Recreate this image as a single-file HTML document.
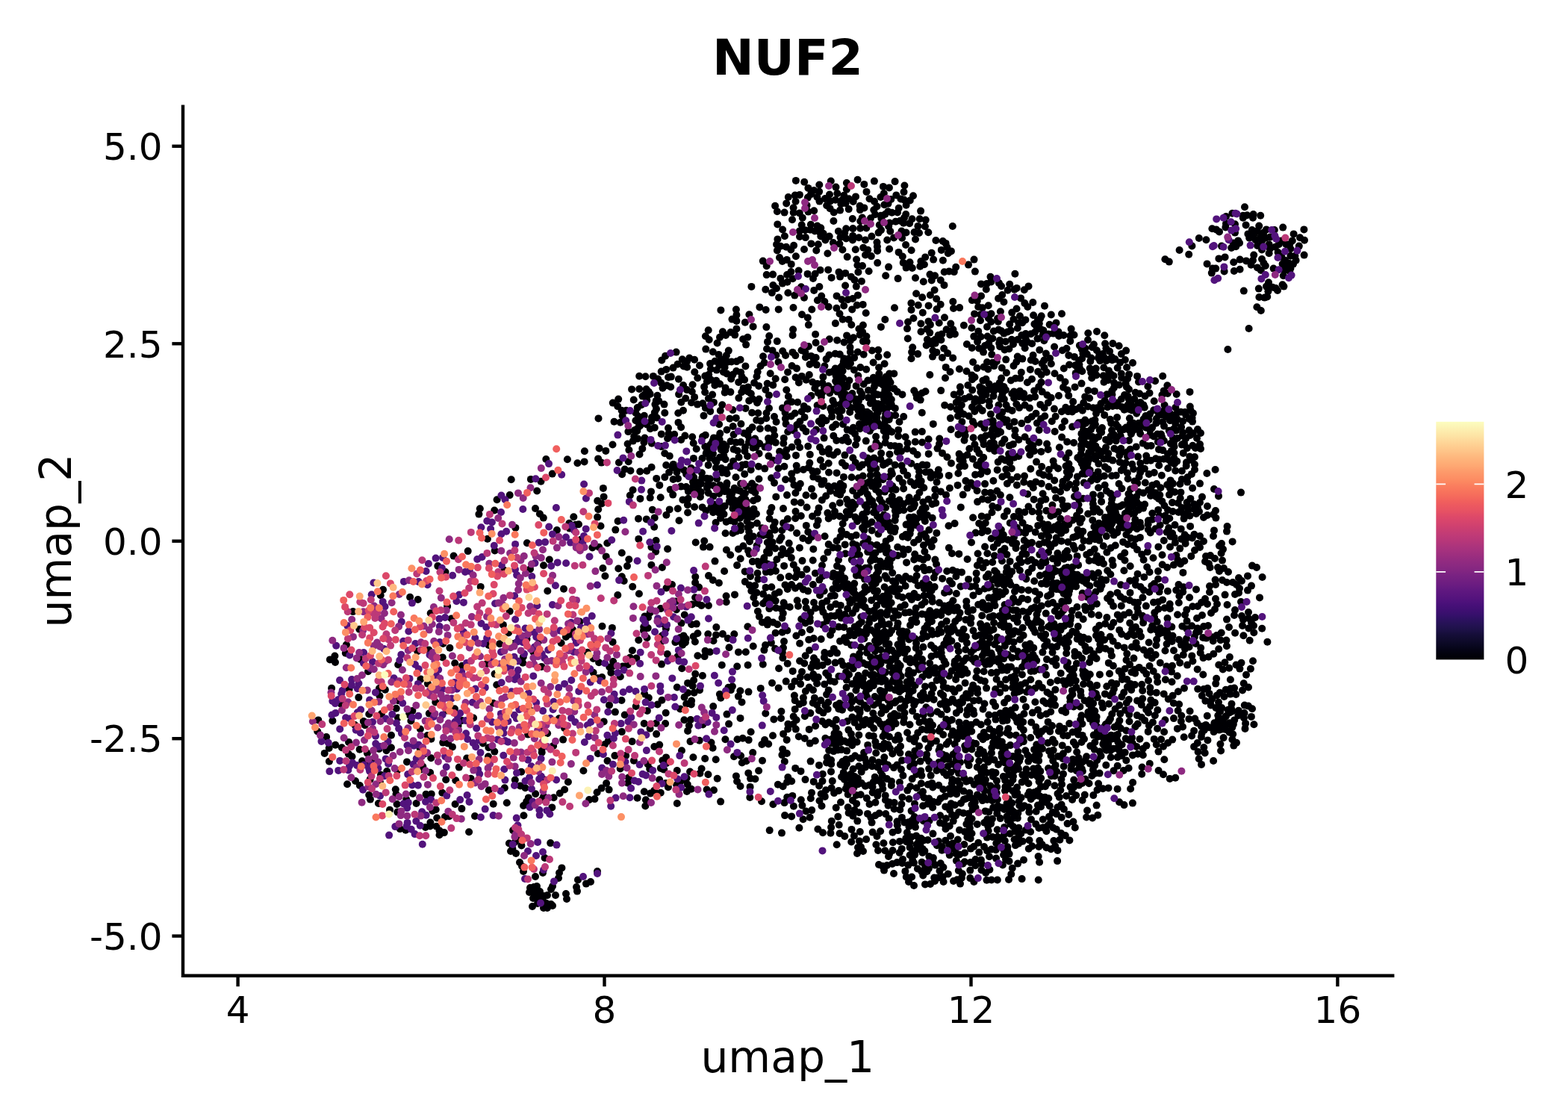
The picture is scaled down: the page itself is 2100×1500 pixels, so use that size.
<!DOCTYPE html>
<html><head><meta charset="utf-8"><title>NUF2</title>
<style>
html,body{margin:0;padding:0;background:#fff}
svg{display:block}
text{font-family:"DejaVu Sans","Liberation Sans",sans-serif;fill:#000}
.t12{font-size:50px}
.t14{font-size:58.33px}
.tt{font-size:66.67px;font-weight:bold}
</style></head>
<body>
<svg width="2100" height="1500" viewBox="0 0 2100 1500">
<defs><linearGradient id="mg" x1="0" y1="1" x2="0" y2="0"><stop offset="0.0000" stop-color="#000004"/><stop offset="0.0208" stop-color="#02020B"/><stop offset="0.0417" stop-color="#050416"/><stop offset="0.0625" stop-color="#0A0822"/><stop offset="0.0833" stop-color="#100B2D"/><stop offset="0.1042" stop-color="#150E38"/><stop offset="0.1250" stop-color="#1D1147"/><stop offset="0.1458" stop-color="#241253"/><stop offset="0.1667" stop-color="#2C115F"/><stop offset="0.1875" stop-color="#36106B"/><stop offset="0.2083" stop-color="#3F0F72"/><stop offset="0.2292" stop-color="#471078"/><stop offset="0.2500" stop-color="#51127C"/><stop offset="0.2708" stop-color="#59157E"/><stop offset="0.2917" stop-color="#601880"/><stop offset="0.3125" stop-color="#6A1C81"/><stop offset="0.3333" stop-color="#721F81"/><stop offset="0.3542" stop-color="#792282"/><stop offset="0.3750" stop-color="#832681"/><stop offset="0.3958" stop-color="#8B2981"/><stop offset="0.4167" stop-color="#932B80"/><stop offset="0.4375" stop-color="#9C2E7F"/><stop offset="0.4583" stop-color="#A5317E"/><stop offset="0.4792" stop-color="#AD347C"/><stop offset="0.5000" stop-color="#B73779"/><stop offset="0.5208" stop-color="#BF3A77"/><stop offset="0.5417" stop-color="#C73D73"/><stop offset="0.5625" stop-color="#D0416F"/><stop offset="0.5833" stop-color="#D8456C"/><stop offset="0.6042" stop-color="#DF4A68"/><stop offset="0.6250" stop-color="#E75263"/><stop offset="0.6458" stop-color="#EC5860"/><stop offset="0.6667" stop-color="#F1605D"/><stop offset="0.6875" stop-color="#F56B5C"/><stop offset="0.7083" stop-color="#F8745C"/><stop offset="0.7292" stop-color="#FA7D5E"/><stop offset="0.7500" stop-color="#FC8961"/><stop offset="0.7708" stop-color="#FD9266"/><stop offset="0.7917" stop-color="#FD9B6B"/><stop offset="0.8125" stop-color="#FEA772"/><stop offset="0.8333" stop-color="#FEB078"/><stop offset="0.8542" stop-color="#FEB97F"/><stop offset="0.8750" stop-color="#FEC488"/><stop offset="0.8958" stop-color="#FECD90"/><stop offset="0.9167" stop-color="#FED799"/><stop offset="0.9375" stop-color="#FDE2A3"/><stop offset="0.9583" stop-color="#FDEBAC"/><stop offset="0.9792" stop-color="#FCF4B6"/><stop offset="1.0000" stop-color="#FCFDBF"/></linearGradient></defs>
<rect width="2100" height="1500" fill="#fff"/>
<g id="cells">
<g fill="#000004"><circle cx="1667" cy="277.2" r="5"/><circle cx="1642" cy="290" r="5"/><circle cx="1650.4" cy="285.8" r="5"/><circle cx="1664.8" cy="288.8" r="5"/><circle cx="1670.2" cy="288.2" r="5"/><circle cx="1678.6" cy="287" r="5"/><circle cx="1688.2" cy="288.8" r="5"/><circle cx="1678" cy="291.8" r="5"/><circle cx="1664.8" cy="291.8" r="5"/><circle cx="1642" cy="299.6" r="5"/><circle cx="1641.4" cy="304.4" r="5"/><circle cx="1654" cy="300.2" r="5"/><circle cx="1668.6" cy="301.4" r="5"/><circle cx="1686.2" cy="302.6" r="5"/><circle cx="1623.4" cy="306.2" r="5"/><circle cx="1628.8" cy="307.4" r="5"/><circle cx="1633" cy="310.4" r="5"/><circle cx="1654" cy="311.6" r="5"/><circle cx="1676.8" cy="308" r="5"/><circle cx="1671.4" cy="313.4" r="5"/><circle cx="1684" cy="309.2" r="5"/><circle cx="1696" cy="307.4" r="5"/><circle cx="1692.4" cy="311.6" r="5"/><circle cx="1688.8" cy="316.4" r="5"/><circle cx="1673.2" cy="318.8" r="5"/><circle cx="1681.6" cy="321.2" r="5"/><circle cx="1694.8" cy="318.8" r="5"/><circle cx="1706.8" cy="308" r="5"/><circle cx="1718.2" cy="304.6" r="5"/><circle cx="1746.4" cy="307.4" r="5"/><circle cx="1732.6" cy="313.4" r="5"/><circle cx="1741" cy="318.2" r="5"/><circle cx="1747" cy="321.8" r="5"/><circle cx="1730.8" cy="322.4" r="5"/><circle cx="1739.8" cy="329.6" r="5"/><circle cx="1605.8" cy="319" r="5"/><circle cx="1615.4" cy="321.2" r="5"/><circle cx="1596.4" cy="329.4" r="5"/><circle cx="1579.6" cy="335" r="5"/><circle cx="1592.2" cy="340.8" r="5"/><circle cx="1560.4" cy="347.2" r="5"/><circle cx="1565.8" cy="350.6" r="5"/><circle cx="1658.2" cy="322.4" r="5"/><circle cx="1660" cy="325.4" r="5"/><circle cx="1655.2" cy="330.2" r="5"/><circle cx="1649.2" cy="332" r="5"/><circle cx="1636" cy="329.6" r="5"/><circle cx="1651.6" cy="325.4" r="5"/><circle cx="1684" cy="329" r="5"/><circle cx="1699.6" cy="327.2" r="5"/><circle cx="1690" cy="334.4" r="5"/><circle cx="1708" cy="330.8" r="5"/><circle cx="1712.8" cy="327.2" r="5"/><circle cx="1722.4" cy="327.2" r="5"/><circle cx="1699.6" cy="339.2" r="5"/><circle cx="1728.4" cy="333.2" r="5"/><circle cx="1711.6" cy="338" r="5"/><circle cx="1679.2" cy="341.6" r="5"/><circle cx="1728.4" cy="342.8" r="5"/><circle cx="1735.6" cy="348.8" r="5"/><circle cx="1746.6" cy="341.6" r="5"/><circle cx="1632.4" cy="346.4" r="5"/><circle cx="1640.6" cy="344.4" r="5"/><circle cx="1616.6" cy="353.4" r="5"/><circle cx="1624" cy="359.6" r="5"/><circle cx="1628.2" cy="359.6" r="5"/><circle cx="1622.8" cy="365.6" r="5"/><circle cx="1639.6" cy="363.4" r="5"/><circle cx="1652.2" cy="351.2" r="5"/><circle cx="1660.6" cy="347.6" r="5"/><circle cx="1669" cy="349.4" r="5"/><circle cx="1678" cy="348.8" r="5"/><circle cx="1690" cy="347" r="5"/><circle cx="1675.6" cy="354.8" r="5"/><circle cx="1692.4" cy="352.4" r="5"/><circle cx="1694.8" cy="356" r="5"/><circle cx="1684" cy="358.4" r="5"/><circle cx="1660.6" cy="360.8" r="5"/><circle cx="1652.8" cy="363" r="5"/><circle cx="1688.8" cy="362" r="5"/><circle cx="1705.6" cy="359.6" r="5"/><circle cx="1717.6" cy="353.6" r="5"/><circle cx="1726" cy="352.4" r="5"/><circle cx="1728.4" cy="359.6" r="5"/><circle cx="1720" cy="362" r="5"/><circle cx="1718.8" cy="369.2" r="5"/><circle cx="1727.2" cy="363.2" r="5"/><circle cx="1699" cy="378.2" r="5"/><circle cx="1696" cy="383.6" r="5"/><circle cx="1685.8" cy="386.6" r="5"/><circle cx="1704.4" cy="384.8" r="5"/><circle cx="1717.6" cy="381.2" r="5"/><circle cx="1719.4" cy="383.6" r="5"/><circle cx="1711" cy="389" r="5"/><circle cx="1698.4" cy="390.2" r="5"/><circle cx="1708.6" cy="386" r="5"/><circle cx="1665.8" cy="389.6" r="5"/><circle cx="1686.4" cy="398" r="5"/><circle cx="1693.6" cy="398.6" r="5"/><circle cx="1697.2" cy="397.4" r="5"/><circle cx="1683.4" cy="411.2" r="5"/><circle cx="1688.8" cy="416" r="5"/><circle cx="1672.6" cy="440" r="5"/><circle cx="1644.4" cy="468" r="5"/><circle cx="1679.2" cy="314.6" r="5"/><circle cx="1690" cy="323" r="5"/><circle cx="1700.8" cy="333.2" r="5"/><circle cx="1716.4" cy="344" r="5"/><circle cx="1721.2" cy="348.8" r="5"/><circle cx="1723.6" cy="357.2" r="5"/><circle cx="1732" cy="353.6" r="5"/><circle cx="1734.4" cy="342.8" r="5"/><circle cx="1727.2" cy="327.2" r="5"/><circle cx="1716.4" cy="322.4" r="5"/><circle cx="1700.8" cy="317.6" r="5"/><circle cx="1604" cy="575" r="5"/><circle cx="1608" cy="580" r="5"/><circle cx="1603" cy="587" r="5"/><circle cx="1607" cy="595" r="5"/><circle cx="1608" cy="601" r="5"/><circle cx="1601" cy="600" r="5"/><circle cx="1600" cy="612" r="5"/><circle cx="1600" cy="622" r="5"/><circle cx="1600" cy="629" r="5"/><circle cx="1627.6" cy="629" r="5"/><circle cx="1616.4" cy="634" r="5"/><circle cx="1607" cy="647.6" r="5"/><circle cx="1626" cy="655" r="5"/><circle cx="1632" cy="664.4" r="5"/><circle cx="1662" cy="659.6" r="5"/><circle cx="1610" cy="665.6" r="5"/><circle cx="1617" cy="678" r="5"/><circle cx="1607" cy="673" r="5"/><circle cx="1604" cy="680" r="5"/><circle cx="1606" cy="685" r="5"/><circle cx="1602" cy="688" r="5"/><circle cx="1628" cy="684" r="5"/><circle cx="1625" cy="689" r="5"/><circle cx="1617" cy="690" r="5"/><circle cx="1612" cy="693" r="5"/><circle cx="1628.4" cy="693.6" r="5"/><circle cx="1643.6" cy="705" r="5"/><circle cx="1643" cy="711.6" r="5"/><circle cx="1626" cy="710.4" r="5"/><circle cx="1625" cy="718" r="5"/><circle cx="1607" cy="718" r="5"/><circle cx="1612" cy="725" r="5"/><circle cx="1650.6" cy="725.4" r="5"/><circle cx="1604" cy="728" r="5"/><circle cx="1607" cy="733" r="5"/><circle cx="1636" cy="728" r="5"/><circle cx="1633" cy="731" r="5"/><circle cx="1638" cy="735.6" r="5"/><circle cx="1635.6" cy="741" r="5"/><circle cx="1600" cy="737" r="5"/><circle cx="1615" cy="745" r="5"/><circle cx="1621" cy="744" r="5"/><circle cx="1627" cy="748" r="5"/><circle cx="1637" cy="750.6" r="5"/><circle cx="1614" cy="752" r="5"/><circle cx="1619" cy="755" r="5"/><circle cx="1620.6" cy="760" r="5"/><circle cx="1631" cy="760" r="5"/><circle cx="1633" cy="765" r="5"/><circle cx="1639" cy="761" r="5"/><circle cx="1645" cy="766" r="5"/><circle cx="1677" cy="757.6" r="5"/><circle cx="1683" cy="760" r="5"/><circle cx="1671" cy="771.4" r="5"/><circle cx="1690.6" cy="773" r="5"/><circle cx="1627.6" cy="776.6" r="5"/><circle cx="1628" cy="783" r="5"/><circle cx="1637" cy="777" r="5"/><circle cx="1643" cy="780" r="5"/><circle cx="1651" cy="780" r="5"/><circle cx="1659" cy="774" r="5"/><circle cx="1663" cy="778" r="5"/><circle cx="1656" cy="783" r="5"/><circle cx="1660" cy="788" r="5"/><circle cx="1676" cy="784.6" r="5"/><circle cx="1671" cy="790.6" r="5"/><circle cx="1654" cy="796" r="5"/><circle cx="1659" cy="794" r="5"/><circle cx="1620" cy="785" r="5"/><circle cx="1620" cy="793" r="5"/><circle cx="1602" cy="789.4" r="5"/><circle cx="1640.6" cy="796.6" r="5"/><circle cx="1687" cy="800.4" r="5"/><circle cx="1614" cy="802" r="5"/><circle cx="1609" cy="807" r="5"/><circle cx="1604" cy="812" r="5"/><circle cx="1617" cy="809" r="5"/><circle cx="1628" cy="802" r="5"/><circle cx="1630" cy="809" r="5"/><circle cx="1627" cy="816" r="5"/><circle cx="1643.6" cy="810" r="5"/><circle cx="1662" cy="806" r="5"/><circle cx="1654" cy="817" r="5"/><circle cx="1622" cy="821" r="5"/><circle cx="1610" cy="824" r="5"/><circle cx="1603" cy="828" r="5"/><circle cx="1653" cy="824" r="5"/><circle cx="1643" cy="829.6" r="5"/><circle cx="1663" cy="825" r="5"/><circle cx="1672" cy="820" r="5"/><circle cx="1672" cy="828" r="5"/><circle cx="1681" cy="827" r="5"/><circle cx="1665" cy="830" r="5"/><circle cx="1676" cy="834" r="5"/><circle cx="1618" cy="838" r="5"/><circle cx="1612" cy="839" r="5"/><circle cx="1646" cy="840" r="5"/><circle cx="1664" cy="838" r="5"/><circle cx="1679" cy="838" r="5"/><circle cx="684" cy="1140" r="5"/><circle cx="691" cy="1143" r="5"/><circle cx="729.6" cy="1149" r="5"/><circle cx="696" cy="1155" r="5"/><circle cx="699" cy="1160" r="5"/><circle cx="727" cy="1169" r="5"/><circle cx="701" cy="1167" r="5"/><circle cx="717" cy="1174" r="5"/><circle cx="752.4" cy="1162.4" r="5"/><circle cx="749" cy="1169" r="5"/><circle cx="748" cy="1176" r="5"/><circle cx="740" cy="1187" r="5"/><circle cx="738" cy="1191" r="5"/><circle cx="744" cy="1199" r="5"/><circle cx="710" cy="1189" r="5"/><circle cx="715" cy="1188" r="5"/><circle cx="719" cy="1187" r="5"/><circle cx="712" cy="1194" r="5"/><circle cx="718" cy="1193" r="5"/><circle cx="723" cy="1194" r="5"/><circle cx="709" cy="1195" r="5"/><circle cx="716" cy="1199" r="5"/><circle cx="722" cy="1200" r="5"/><circle cx="728" cy="1200" r="5"/><circle cx="733" cy="1199" r="5"/><circle cx="714" cy="1203" r="5"/><circle cx="720" cy="1205" r="5"/><circle cx="727" cy="1205" r="5"/><circle cx="732" cy="1210" r="5"/><circle cx="738" cy="1211" r="5"/><circle cx="713" cy="1214" r="5"/><circle cx="728" cy="1216" r="5"/><circle cx="733" cy="1216" r="5"/><circle cx="740" cy="1213" r="5"/><circle cx="720" cy="1210" r="5"/><circle cx="758" cy="1197" r="5"/><circle cx="759" cy="1204" r="5"/><circle cx="772" cy="1188" r="5"/><circle cx="773" cy="1193.6" r="5"/><circle cx="774" cy="1178.4" r="5"/><circle cx="785" cy="1183.6" r="5"/><circle cx="791" cy="1181" r="5"/><circle cx="800" cy="1167" r="5"/><circle cx="1148" cy="1143" r="5"/><circle cx="1156" cy="1140" r="5"/><circle cx="1153" cy="1134.4" r="5"/><circle cx="1149" cy="1135" r="5"/><circle cx="1176" cy="1139" r="5"/><circle cx="1191" cy="1144" r="5"/><circle cx="1190" cy="1147" r="5"/><circle cx="1177" cy="1158" r="5"/><circle cx="1182" cy="1160" r="5"/><circle cx="1188" cy="1159" r="5"/><circle cx="1195" cy="1157" r="5"/><circle cx="1184" cy="1165.6" r="5"/><circle cx="1197" cy="1170" r="5"/><circle cx="1217" cy="1181" r="5"/><circle cx="1224" cy="1186" r="5"/><circle cx="1239" cy="1184.4" r="5"/><circle cx="1246" cy="1184" r="5"/><circle cx="1252" cy="1180" r="5"/><circle cx="1263.6" cy="1181" r="5"/><circle cx="1277" cy="1180" r="5"/><circle cx="1286" cy="1183.6" r="5"/><circle cx="1304.4" cy="1181" r="5"/><circle cx="1271.9" cy="653.8" r="5"/><circle cx="949" cy="771.1" r="5"/><circle cx="954.8" cy="777" r="5"/><circle cx="1394.5" cy="512.1" r="5"/><circle cx="1391.2" cy="518.1" r="5"/><circle cx="1394.6" cy="502" r="5"/><circle cx="1382" cy="507.7" r="5"/><circle cx="994.7" cy="988.7" r="5"/><circle cx="987.5" cy="990.3" r="5"/><circle cx="605.9" cy="1000.4" r="5"/><circle cx="931.3" cy="772.6" r="5"/><circle cx="1208.4" cy="528.4" r="5"/><circle cx="1201.8" cy="524.8" r="5"/><circle cx="1148" cy="919.1" r="5"/><circle cx="1141.4" cy="916" r="5"/><circle cx="1155.9" cy="908.3" r="5"/><circle cx="1155.8" cy="914.5" r="5"/><circle cx="1149.7" cy="912.5" r="5"/><circle cx="1147.1" cy="909.6" r="5"/><circle cx="1156.7" cy="918.6" r="5"/><circle cx="1146.4" cy="914.1" r="5"/><circle cx="1159.2" cy="901.5" r="5"/><circle cx="1149.6" cy="904.7" r="5"/><circle cx="1130.1" cy="779.5" r="5"/><circle cx="1131.2" cy="774.6" r="5"/><circle cx="1121.2" cy="770" r="5"/><circle cx="1126" cy="768.9" r="5"/><circle cx="1127.7" cy="761.6" r="5"/><circle cx="1123.3" cy="776.5" r="5"/><circle cx="1035.3" cy="515.7" r="5"/><circle cx="1038.7" cy="507.3" r="5"/><circle cx="1027.7" cy="513.7" r="5"/><circle cx="1031.7" cy="500.2" r="5"/><circle cx="543.3" cy="1111.8" r="5"/><circle cx="1526.8" cy="699.9" r="5"/><circle cx="1537.9" cy="697.3" r="5"/><circle cx="1531.1" cy="680.6" r="5"/><circle cx="1520.3" cy="695.8" r="5"/><circle cx="1524.8" cy="682.9" r="5"/><circle cx="1236.5" cy="749.6" r="5"/><circle cx="1231.3" cy="747.7" r="5"/><circle cx="1225.2" cy="742.2" r="5"/><circle cx="1224.2" cy="749.5" r="5"/><circle cx="1236.6" cy="759.6" r="5"/><circle cx="1510.2" cy="728.9" r="5"/><circle cx="1504.1" cy="725.9" r="5"/><circle cx="1514.6" cy="720.8" r="5"/><circle cx="1518.3" cy="730.4" r="5"/><circle cx="1188.2" cy="475.3" r="5"/><circle cx="1313.3" cy="525" r="5"/><circle cx="1311.5" cy="537.2" r="5"/><circle cx="1315.6" cy="536.3" r="5"/><circle cx="1306.4" cy="534.2" r="5"/><circle cx="1305.3" cy="538.5" r="5"/><circle cx="1316.3" cy="520.6" r="5"/><circle cx="1315.3" cy="531.1" r="5"/><circle cx="1302.2" cy="522.4" r="5"/><circle cx="804.5" cy="704.5" r="5"/><circle cx="1395.5" cy="486.8" r="5"/><circle cx="1398.4" cy="482.6" r="5"/><circle cx="1386.5" cy="484" r="5"/><circle cx="1398.5" cy="492.4" r="5"/><circle cx="1380.8" cy="482.3" r="5"/><circle cx="1390.2" cy="497.7" r="5"/><circle cx="1136.4" cy="480.6" r="5"/><circle cx="1130.4" cy="480.2" r="5"/><circle cx="1139" cy="486.5" r="5"/><circle cx="1128.4" cy="489.4" r="5"/><circle cx="1123.4" cy="495.8" r="5"/><circle cx="1129.8" cy="484.4" r="5"/><circle cx="1136.4" cy="490.4" r="5"/><circle cx="1125.4" cy="492.6" r="5"/><circle cx="1134.5" cy="485.3" r="5"/><circle cx="1128.6" cy="496.7" r="5"/><circle cx="726" cy="1070.7" r="5"/><circle cx="728.1" cy="1066.5" r="5"/><circle cx="1422" cy="420.3" r="5"/><circle cx="995.4" cy="731.3" r="5"/><circle cx="989" cy="735.4" r="5"/><circle cx="866.5" cy="854.3" r="5"/><circle cx="867.7" cy="841.1" r="5"/><circle cx="862" cy="844.5" r="5"/><circle cx="748.8" cy="962.2" r="5"/><circle cx="756.1" cy="975.2" r="5"/><circle cx="1373.6" cy="453.3" r="5"/><circle cx="1369.3" cy="460" r="5"/><circle cx="1375.8" cy="458.1" r="5"/><circle cx="1368.3" cy="449" r="5"/><circle cx="1363.1" cy="454.8" r="5"/><circle cx="1373.7" cy="447" r="5"/><circle cx="1336.7" cy="575.5" r="5"/><circle cx="1329" cy="575.1" r="5"/><circle cx="1329.8" cy="563.8" r="5"/><circle cx="1324.7" cy="565.2" r="5"/><circle cx="1331.2" cy="569.3" r="5"/><circle cx="1134" cy="1022.7" r="5"/><circle cx="1139.6" cy="1036.8" r="5"/><circle cx="1125.6" cy="1023.9" r="5"/><circle cx="1128.4" cy="1020.1" r="5"/><circle cx="1129.7" cy="1034.9" r="5"/><circle cx="1132.6" cy="1038.7" r="5"/><circle cx="1131.4" cy="1027.2" r="5"/><circle cx="1160.3" cy="305.4" r="5"/><circle cx="1167.4" cy="316.6" r="5"/><circle cx="1180" cy="308.1" r="5"/><circle cx="1176.6" cy="311.6" r="5"/><circle cx="1177.8" cy="301.3" r="5"/><circle cx="1386.9" cy="1017.7" r="5"/><circle cx="1391.1" cy="1018.9" r="5"/><circle cx="1391" cy="1002.2" r="5"/><circle cx="1385.6" cy="1012.8" r="5"/><circle cx="1396" cy="1002.7" r="5"/><circle cx="1388.5" cy="1007.5" r="5"/><circle cx="1382.7" cy="1015.5" r="5"/><circle cx="1391.7" cy="1011" r="5"/><circle cx="1385.1" cy="1003.9" r="5"/><circle cx="1123" cy="750" r="5"/><circle cx="1132.2" cy="741.5" r="5"/><circle cx="1121" cy="758.1" r="5"/><circle cx="1040.4" cy="749.2" r="5"/><circle cx="1059.8" cy="747.1" r="5"/><circle cx="1046.5" cy="742.9" r="5"/><circle cx="1053.7" cy="741.2" r="5"/><circle cx="1050.1" cy="757.9" r="5"/><circle cx="1003.4" cy="421.3" r="5"/><circle cx="1008.6" cy="437.4" r="5"/><circle cx="1189.7" cy="938" r="5"/><circle cx="1181" cy="929" r="5"/><circle cx="1192" cy="921.6" r="5"/><circle cx="1184.2" cy="926.5" r="5"/><circle cx="1198.9" cy="924.1" r="5"/><circle cx="1183.8" cy="934.3" r="5"/><circle cx="1065.2" cy="694.2" r="5"/><circle cx="1065.5" cy="685.1" r="5"/><circle cx="1072.8" cy="691" r="5"/><circle cx="1392.1" cy="1154.8" r="5"/><circle cx="1390.6" cy="1147" r="5"/><circle cx="728" cy="757.3" r="5"/><circle cx="735.8" cy="749.5" r="5"/><circle cx="1419.9" cy="506" r="5"/><circle cx="1412.5" cy="500.3" r="5"/><circle cx="991.9" cy="691.5" r="5"/><circle cx="998.1" cy="690.3" r="5"/><circle cx="981.4" cy="680.9" r="5"/><circle cx="986.7" cy="690.7" r="5"/><circle cx="990.8" cy="688.7" r="5"/><circle cx="994.5" cy="690.8" r="5"/><circle cx="996.1" cy="682" r="5"/><circle cx="981.3" cy="695.1" r="5"/><circle cx="983.6" cy="698.9" r="5"/><circle cx="990.9" cy="693.9" r="5"/><circle cx="1053.9" cy="1009" r="5"/><circle cx="1048.2" cy="1003.4" r="5"/><circle cx="1047.4" cy="1011.1" r="5"/><circle cx="1050.8" cy="1019.9" r="5"/><circle cx="1035.1" cy="367.6" r="5"/><circle cx="1026.7" cy="368.1" r="5"/><circle cx="1453.4" cy="634.8" r="5"/><circle cx="1454" cy="630.4" r="5"/><circle cx="1456.5" cy="626.5" r="5"/><circle cx="1449.6" cy="634.4" r="5"/><circle cx="1451.1" cy="625.7" r="5"/><circle cx="1456.5" cy="620.7" r="5"/><circle cx="1459.8" cy="629.8" r="5"/><circle cx="1448.8" cy="620.8" r="5"/><circle cx="1442.9" cy="638.4" r="5"/><circle cx="908.3" cy="553.2" r="5"/><circle cx="915" cy="549.7" r="5"/><circle cx="1395.9" cy="1074.1" r="5"/><circle cx="1399.6" cy="1067.8" r="5"/><circle cx="1383.7" cy="1066.7" r="5"/><circle cx="1392.8" cy="1066.4" r="5"/><circle cx="1389.9" cy="1078.6" r="5"/><circle cx="1396.1" cy="1069.2" r="5"/><circle cx="1389.3" cy="1065.5" r="5"/><circle cx="1385" cy="1061.3" r="5"/><circle cx="1380.7" cy="1070.3" r="5"/><circle cx="1007.1" cy="647.5" r="5"/><circle cx="1006.6" cy="656.8" r="5"/><circle cx="1012.3" cy="652.3" r="5"/><circle cx="1011.4" cy="659.8" r="5"/><circle cx="1016.4" cy="641.5" r="5"/><circle cx="1243.5" cy="726.1" r="5"/><circle cx="1250.6" cy="723.3" r="5"/><circle cx="1247.8" cy="732.1" r="5"/><circle cx="1419.5" cy="859.9" r="5"/><circle cx="1418.2" cy="855" r="5"/><circle cx="1415.7" cy="841.8" r="5"/><circle cx="1413.5" cy="854.9" r="5"/><circle cx="1402.3" cy="859.4" r="5"/><circle cx="1417.6" cy="851.5" r="5"/><circle cx="1408.1" cy="841.7" r="5"/><circle cx="1400.1" cy="849.8" r="5"/><circle cx="812.1" cy="1049.1" r="5"/><circle cx="815.6" cy="1057.6" r="5"/><circle cx="805.6" cy="1055.6" r="5"/><circle cx="1427" cy="776.3" r="5"/><circle cx="1432.1" cy="777.1" r="5"/><circle cx="1422.1" cy="764.9" r="5"/><circle cx="1431.4" cy="769.3" r="5"/><circle cx="1437.6" cy="772.5" r="5"/><circle cx="1438.7" cy="769.5" r="5"/><circle cx="1426.2" cy="770.2" r="5"/><circle cx="1429.6" cy="760.1" r="5"/><circle cx="1430.2" cy="780" r="5"/><circle cx="1424.2" cy="773.9" r="5"/><circle cx="1426.2" cy="761.1" r="5"/><circle cx="1428.8" cy="769.6" r="5"/><circle cx="1433.6" cy="772.1" r="5"/><circle cx="1422.4" cy="769" r="5"/><circle cx="1435.6" cy="767.6" r="5"/><circle cx="1390.1" cy="1028.5" r="5"/><circle cx="1388.2" cy="1033.3" r="5"/><circle cx="1393.3" cy="1032.9" r="5"/><circle cx="1384" cy="1029.5" r="5"/><circle cx="1381.5" cy="1037.9" r="5"/><circle cx="1475.5" cy="784" r="5"/><circle cx="1460.3" cy="797.3" r="5"/><circle cx="1473.7" cy="788.7" r="5"/><circle cx="1469.1" cy="782" r="5"/><circle cx="1467.5" cy="792.8" r="5"/><circle cx="1060.4" cy="538.2" r="5"/><circle cx="1068.2" cy="538.8" r="5"/><circle cx="1100.2" cy="396.6" r="5"/><circle cx="1329.3" cy="1120.9" r="5"/><circle cx="1321.9" cy="1121.6" r="5"/><circle cx="1336.5" cy="1126" r="5"/><circle cx="1333.7" cy="1138.3" r="5"/><circle cx="1334.3" cy="1129.4" r="5"/><circle cx="1336.1" cy="1120.8" r="5"/><circle cx="1322.1" cy="1139.5" r="5"/><circle cx="1327.6" cy="1137.6" r="5"/><circle cx="592.3" cy="1061.7" r="5"/><circle cx="876.3" cy="1000" r="5"/><circle cx="1086.8" cy="719.2" r="5"/><circle cx="1082.3" cy="712.4" r="5"/><circle cx="1093.9" cy="703.5" r="5"/><circle cx="1005.6" cy="980.2" r="5"/><circle cx="1002.7" cy="991.1" r="5"/><circle cx="1087.3" cy="414.5" r="5"/><circle cx="1094.9" cy="402.2" r="5"/><circle cx="978.2" cy="743.3" r="5"/><circle cx="1497.1" cy="864.8" r="5"/><circle cx="1480.6" cy="868.8" r="5"/><circle cx="1487.4" cy="871.9" r="5"/><circle cx="1488.9" cy="878.2" r="5"/><circle cx="1341.5" cy="1009.1" r="5"/><circle cx="1345.1" cy="1010.2" r="5"/><circle cx="1342.6" cy="1001.5" r="5"/><circle cx="1346.4" cy="1000.8" r="5"/><circle cx="1346.1" cy="1006.3" r="5"/><circle cx="1348.9" cy="1015.3" r="5"/><circle cx="1341.8" cy="1013.6" r="5"/><circle cx="1356.1" cy="1013.1" r="5"/><circle cx="1391.7" cy="576" r="5"/><circle cx="1394" cy="561.1" r="5"/><circle cx="1388.9" cy="566.8" r="5"/><circle cx="1639.6" cy="961.8" r="5"/><circle cx="1634.2" cy="967.5" r="5"/><circle cx="1632.8" cy="977.6" r="5"/><circle cx="1638.8" cy="971.5" r="5"/><circle cx="1630.1" cy="970.4" r="5"/><circle cx="1637.6" cy="976.5" r="5"/><circle cx="1631.8" cy="964" r="5"/><circle cx="1636.9" cy="964.1" r="5"/><circle cx="1626.4" cy="968.3" r="5"/><circle cx="1626" cy="972.5" r="5"/><circle cx="836.8" cy="628.5" r="5"/><circle cx="833.1" cy="635.3" r="5"/><circle cx="1474.5" cy="540.6" r="5"/><circle cx="1464.1" cy="546.2" r="5"/><circle cx="1479.2" cy="555.9" r="5"/><circle cx="1469.5" cy="546.2" r="5"/><circle cx="1474.4" cy="548.6" r="5"/><circle cx="1468" cy="553.7" r="5"/><circle cx="529.8" cy="1057.3" r="5"/><circle cx="767" cy="843.3" r="5"/><circle cx="762.9" cy="849.6" r="5"/><circle cx="1551.2" cy="682.9" r="5"/><circle cx="1552.8" cy="690.5" r="5"/><circle cx="1543.3" cy="695.7" r="5"/><circle cx="1543.3" cy="687.5" r="5"/><circle cx="921.1" cy="978.9" r="5"/><circle cx="924.9" cy="964" r="5"/><circle cx="922.9" cy="971.8" r="5"/><circle cx="530.5" cy="1063.8" r="5"/><circle cx="531.6" cy="1077" r="5"/><circle cx="806.5" cy="838.8" r="5"/><circle cx="1407.8" cy="487.3" r="5"/><circle cx="1406.1" cy="480" r="5"/><circle cx="1401.8" cy="498.5" r="5"/><circle cx="1463.9" cy="675" r="5"/><circle cx="1475.1" cy="671.9" r="5"/><circle cx="1463.4" cy="669.3" r="5"/><circle cx="1464" cy="662.4" r="5"/><circle cx="1474.1" cy="663.5" r="5"/><circle cx="1158.1" cy="1015.7" r="5"/><circle cx="1151.4" cy="1015.2" r="5"/><circle cx="1140.1" cy="1016" r="5"/><circle cx="1157.1" cy="1008.1" r="5"/><circle cx="1145.2" cy="1012.2" r="5"/><circle cx="1350.8" cy="614.8" r="5"/><circle cx="1346.2" cy="616.5" r="5"/><circle cx="1358.4" cy="612.7" r="5"/><circle cx="1352.3" cy="619.4" r="5"/><circle cx="1351.1" cy="608.1" r="5"/><circle cx="1341.3" cy="614.4" r="5"/><circle cx="1003.8" cy="783.8" r="5"/><circle cx="1011.2" cy="784.3" r="5"/><circle cx="1013.4" cy="793.7" r="5"/><circle cx="1006.3" cy="791.4" r="5"/><circle cx="919.6" cy="1042.2" r="5"/><circle cx="919.9" cy="1059.9" r="5"/><circle cx="910.8" cy="1047.2" r="5"/><circle cx="906.2" cy="1051.3" r="5"/><circle cx="914.5" cy="1044.7" r="5"/><circle cx="948.9" cy="533.7" r="5"/><circle cx="954.1" cy="528.6" r="5"/><circle cx="955.9" cy="538.9" r="5"/><circle cx="944.2" cy="525.2" r="5"/><circle cx="1084.5" cy="488" r="5"/><circle cx="1093.8" cy="488.6" r="5"/><circle cx="1089.8" cy="483.9" r="5"/><circle cx="876.2" cy="705.8" r="5"/><circle cx="805.5" cy="619.6" r="5"/><circle cx="801.1" cy="614.4" r="5"/><circle cx="811.3" cy="603.9" r="5"/><circle cx="802.6" cy="600.4" r="5"/><circle cx="1562.4" cy="892.6" r="5"/><circle cx="1576.6" cy="880.6" r="5"/><circle cx="1570" cy="891.8" r="5"/><circle cx="1569" cy="899.6" r="5"/><circle cx="1593.5" cy="524.9" r="5"/><circle cx="1553.9" cy="841.3" r="5"/><circle cx="1551.9" cy="849.2" r="5"/><circle cx="1556.9" cy="847.3" r="5"/><circle cx="1548" cy="843.2" r="5"/><circle cx="1549.1" cy="856.6" r="5"/><circle cx="1541.3" cy="843.5" r="5"/><circle cx="1075.4" cy="573.2" r="5"/><circle cx="1079.5" cy="577.9" r="5"/><circle cx="1071.4" cy="564.4" r="5"/><circle cx="1067.3" cy="569" r="5"/><circle cx="1063.5" cy="576.6" r="5"/><circle cx="916.6" cy="933.8" r="5"/><circle cx="906.8" cy="920.5" r="5"/><circle cx="878.2" cy="738.7" r="5"/><circle cx="872.4" cy="732.7" r="5"/><circle cx="878.6" cy="724" r="5"/><circle cx="1344.4" cy="775.6" r="5"/><circle cx="1341.3" cy="772.9" r="5"/><circle cx="1347.9" cy="775.5" r="5"/><circle cx="1340.9" cy="777.7" r="5"/><circle cx="1351.7" cy="778.8" r="5"/><circle cx="1347.8" cy="766.2" r="5"/><circle cx="1355.2" cy="765.5" r="5"/><circle cx="1352.1" cy="770.2" r="5"/><circle cx="1348.6" cy="760.2" r="5"/><circle cx="1536.4" cy="877.5" r="5"/><circle cx="1531.7" cy="870.5" r="5"/><circle cx="1521.6" cy="860.9" r="5"/><circle cx="1538.7" cy="860.5" r="5"/><circle cx="1523.1" cy="867.8" r="5"/><circle cx="1051.2" cy="508.3" r="5"/><circle cx="1508.9" cy="518.3" r="5"/><circle cx="1507.6" cy="513.4" r="5"/><circle cx="1502.2" cy="506" r="5"/><circle cx="1510.1" cy="507.3" r="5"/><circle cx="1501.8" cy="500.5" r="5"/><circle cx="1512.1" cy="501.4" r="5"/><circle cx="1306.3" cy="1159.3" r="5"/><circle cx="1313.9" cy="1151.8" r="5"/><circle cx="1306.5" cy="1151" r="5"/><circle cx="1314.6" cy="1157" r="5"/><circle cx="1311.2" cy="1141.6" r="5"/><circle cx="1423.9" cy="1009.3" r="5"/><circle cx="1430.3" cy="1003.8" r="5"/><circle cx="1423.2" cy="1015.9" r="5"/><circle cx="1436.9" cy="1016.9" r="5"/><circle cx="1264.2" cy="466.7" r="5"/><circle cx="1269.2" cy="473.1" r="5"/><circle cx="1276.2" cy="479.4" r="5"/><circle cx="1261.9" cy="478.9" r="5"/><circle cx="1405" cy="1093.7" r="5"/><circle cx="1407.4" cy="1099.6" r="5"/><circle cx="1416.3" cy="1081.2" r="5"/><circle cx="1414.9" cy="1090.1" r="5"/><circle cx="1409.8" cy="1087.9" r="5"/><circle cx="1119.9" cy="964.1" r="5"/><circle cx="1109.9" cy="967.5" r="5"/><circle cx="1105.5" cy="970.5" r="5"/><circle cx="1119.7" cy="975.2" r="5"/><circle cx="1101.1" cy="966.1" r="5"/><circle cx="1114.7" cy="969.5" r="5"/><circle cx="883.2" cy="997.6" r="5"/><circle cx="1180.6" cy="913" r="5"/><circle cx="1189.2" cy="919.1" r="5"/><circle cx="1183.1" cy="909" r="5"/><circle cx="1181" cy="902.4" r="5"/><circle cx="1197.1" cy="909.2" r="5"/><circle cx="1195.5" cy="912.7" r="5"/><circle cx="1185.8" cy="911.3" r="5"/><circle cx="1181.4" cy="905.8" r="5"/><circle cx="1189.3" cy="916.3" r="5"/><circle cx="1198.9" cy="912.5" r="5"/><circle cx="1195.3" cy="901.3" r="5"/><circle cx="1186" cy="900.4" r="5"/><circle cx="1249" cy="971.3" r="5"/><circle cx="1243.3" cy="970.9" r="5"/><circle cx="1241.7" cy="977.6" r="5"/><circle cx="1248.3" cy="979.8" r="5"/><circle cx="1259.9" cy="974.6" r="5"/><circle cx="1257.8" cy="978.9" r="5"/><circle cx="1245.3" cy="966.3" r="5"/><circle cx="1226" cy="698" r="5"/><circle cx="1223.7" cy="692.5" r="5"/><circle cx="1228.1" cy="694.5" r="5"/><circle cx="1238.9" cy="698" r="5"/><circle cx="1235.3" cy="681.3" r="5"/><circle cx="1232.4" cy="686.4" r="5"/><circle cx="1239.7" cy="680.2" r="5"/><circle cx="1234.9" cy="692.7" r="5"/><circle cx="1236.9" cy="685.7" r="5"/><circle cx="1228" cy="880.4" r="5"/><circle cx="1235" cy="883" r="5"/><circle cx="1225.3" cy="886.8" r="5"/><circle cx="1229.6" cy="890.8" r="5"/><circle cx="1235.2" cy="888.2" r="5"/><circle cx="1230.7" cy="896.7" r="5"/><circle cx="880.4" cy="529.8" r="5"/><circle cx="882.3" cy="537" r="5"/><circle cx="935" cy="652" r="5"/><circle cx="934.5" cy="646.3" r="5"/><circle cx="932.8" cy="658.6" r="5"/><circle cx="938.9" cy="659.1" r="5"/><circle cx="928" cy="645.2" r="5"/><circle cx="928.2" cy="651.3" r="5"/><circle cx="928.1" cy="657.5" r="5"/><circle cx="939.1" cy="647.8" r="5"/><circle cx="921.8" cy="658.1" r="5"/><circle cx="1069" cy="811.8" r="5"/><circle cx="1078.8" cy="805.7" r="5"/><circle cx="1079.7" cy="814.3" r="5"/><circle cx="1067.7" cy="804.2" r="5"/><circle cx="1210.1" cy="654.4" r="5"/><circle cx="1209" cy="646.5" r="5"/><circle cx="1204.2" cy="640.8" r="5"/><circle cx="1219.6" cy="645.3" r="5"/><circle cx="733.1" cy="982.3" r="5"/><circle cx="1084.7" cy="995.6" r="5"/><circle cx="1091.8" cy="992.3" r="5"/><circle cx="1191.1" cy="500.6" r="5"/><circle cx="1188.4" cy="511.6" r="5"/><circle cx="1190.3" cy="508.2" r="5"/><circle cx="1192.5" cy="512.3" r="5"/><circle cx="1187.9" cy="516.5" r="5"/><circle cx="1183.2" cy="516.3" r="5"/><circle cx="1186.4" cy="519.8" r="5"/><circle cx="1186.5" cy="504.8" r="5"/><circle cx="1197.3" cy="500.4" r="5"/><circle cx="1180.9" cy="508.3" r="5"/><circle cx="1197.6" cy="786.3" r="5"/><circle cx="1189.1" cy="793.1" r="5"/><circle cx="1193.4" cy="789.1" r="5"/><circle cx="1199.4" cy="781.1" r="5"/><circle cx="1197.1" cy="791.9" r="5"/><circle cx="1184.6" cy="786.3" r="5"/><circle cx="1190.6" cy="799.2" r="5"/><circle cx="1186.9" cy="798" r="5"/><circle cx="1182.7" cy="798.8" r="5"/><circle cx="1363.4" cy="1089.1" r="5"/><circle cx="1368.6" cy="1082.2" r="5"/><circle cx="1378.3" cy="1087.7" r="5"/><circle cx="1362.8" cy="1095.8" r="5"/><circle cx="1377.8" cy="1081.3" r="5"/><circle cx="652.9" cy="721.7" r="5"/><circle cx="1267" cy="662.9" r="5"/><circle cx="1479.6" cy="536.4" r="5"/><circle cx="1465.9" cy="523.9" r="5"/><circle cx="1170.9" cy="242.6" r="5"/><circle cx="1160.5" cy="256.9" r="5"/><circle cx="1441.2" cy="1065.3" r="5"/><circle cx="1452.8" cy="1064.6" r="5"/><circle cx="1449.6" cy="1071.8" r="5"/><circle cx="1275.9" cy="763.7" r="5"/><circle cx="1262.1" cy="774.9" r="5"/><circle cx="1268.2" cy="765" r="5"/><circle cx="1272" cy="777.9" r="5"/><circle cx="1304.7" cy="568.9" r="5"/><circle cx="1302.9" cy="564.6" r="5"/><circle cx="1318.6" cy="573.4" r="5"/><circle cx="1313.9" cy="568" r="5"/><circle cx="1176.8" cy="860.3" r="5"/><circle cx="1172.6" cy="866.3" r="5"/><circle cx="1164" cy="864.9" r="5"/><circle cx="1171.9" cy="872.2" r="5"/><circle cx="1179.6" cy="870.2" r="5"/><circle cx="1161.2" cy="868.7" r="5"/><circle cx="1161" cy="874.3" r="5"/><circle cx="1584.8" cy="606.9" r="5"/><circle cx="1589" cy="619.2" r="5"/><circle cx="1593.3" cy="611.6" r="5"/><circle cx="1595.7" cy="615.9" r="5"/><circle cx="1589.9" cy="600.1" r="5"/><circle cx="1058.9" cy="737" r="5"/><circle cx="1048" cy="735.2" r="5"/><circle cx="1056.7" cy="727.6" r="5"/><circle cx="1044.1" cy="723.7" r="5"/><circle cx="1133.2" cy="319.5" r="5"/><circle cx="1131.3" cy="312" r="5"/><circle cx="1125.5" cy="317.9" r="5"/><circle cx="1122.9" cy="309.8" r="5"/><circle cx="1133.2" cy="306.3" r="5"/><circle cx="1369.9" cy="818.8" r="5"/><circle cx="1361.5" cy="817.6" r="5"/><circle cx="1377.3" cy="819.7" r="5"/><circle cx="1376.4" cy="803" r="5"/><circle cx="1369" cy="801.4" r="5"/><circle cx="1363.9" cy="806.4" r="5"/><circle cx="1362.3" cy="1024.2" r="5"/><circle cx="1374.3" cy="1035.9" r="5"/><circle cx="1369.4" cy="1037.8" r="5"/><circle cx="1364" cy="1029.9" r="5"/><circle cx="1374.5" cy="1030.2" r="5"/><circle cx="972.9" cy="736.5" r="5"/><circle cx="1225.7" cy="578.6" r="5"/><circle cx="1234.9" cy="578.1" r="5"/><circle cx="456.7" cy="942.7" r="5"/><circle cx="1653.1" cy="921.6" r="5"/><circle cx="1648.2" cy="922.3" r="5"/><circle cx="1641.7" cy="923.8" r="5"/><circle cx="1647.7" cy="929.6" r="5"/><circle cx="1655.3" cy="930" r="5"/><circle cx="618.8" cy="965" r="5"/><circle cx="613.6" cy="971.7" r="5"/><circle cx="604.6" cy="971" r="5"/><circle cx="1026.4" cy="438.1" r="5"/><circle cx="705.5" cy="855.9" r="5"/><circle cx="1357.1" cy="817.3" r="5"/><circle cx="1355.7" cy="807.3" r="5"/><circle cx="1345.6" cy="810.1" r="5"/><circle cx="1350.9" cy="816.4" r="5"/><circle cx="1342.8" cy="817.7" r="5"/><circle cx="1357.1" cy="801.2" r="5"/><circle cx="1025.3" cy="955.5" r="5"/><circle cx="1191.1" cy="1074.4" r="5"/><circle cx="1197.7" cy="1075.1" r="5"/><circle cx="1189.5" cy="1078.7" r="5"/><circle cx="1185.7" cy="1065.4" r="5"/><circle cx="1185.9" cy="1071.5" r="5"/><circle cx="1311.1" cy="466.5" r="5"/><circle cx="1319.1" cy="463" r="5"/><circle cx="1301.7" cy="465.9" r="5"/><circle cx="1317" cy="471.6" r="5"/><circle cx="1167.8" cy="651.1" r="5"/><circle cx="1171.6" cy="646.9" r="5"/><circle cx="1167.2" cy="645.8" r="5"/><circle cx="1173.1" cy="655.7" r="5"/><circle cx="1177.4" cy="659.6" r="5"/><circle cx="1176" cy="649.1" r="5"/><circle cx="1174.7" cy="642.2" r="5"/><circle cx="1163.6" cy="645.6" r="5"/><circle cx="1160.8" cy="457.6" r="5"/><circle cx="1160.4" cy="450.6" r="5"/><circle cx="1556.1" cy="585.3" r="5"/><circle cx="1540.1" cy="582.5" r="5"/><circle cx="1550.2" cy="581.4" r="5"/><circle cx="1558.9" cy="590.2" r="5"/><circle cx="1541.7" cy="596.9" r="5"/><circle cx="1545.2" cy="584.5" r="5"/><circle cx="1555" cy="581.5" r="5"/><circle cx="1550.9" cy="591.7" r="5"/><circle cx="1376.2" cy="1011.2" r="5"/><circle cx="1366.5" cy="1014.8" r="5"/><circle cx="1373.3" cy="1005.3" r="5"/><circle cx="1365.2" cy="1019.1" r="5"/><circle cx="1362.1" cy="1012" r="5"/><circle cx="1362.6" cy="1016.2" r="5"/><circle cx="1377.3" cy="1019.6" r="5"/><circle cx="1363.4" cy="1006.7" r="5"/><circle cx="714.3" cy="873.2" r="5"/><circle cx="700.8" cy="879.8" r="5"/><circle cx="1474.5" cy="850.1" r="5"/><circle cx="1479.1" cy="856.9" r="5"/><circle cx="1468" cy="851.2" r="5"/><circle cx="1471.1" cy="855.9" r="5"/><circle cx="1467.8" cy="842.7" r="5"/><circle cx="586.3" cy="758.1" r="5"/><circle cx="462.8" cy="874.8" r="5"/><circle cx="463.9" cy="863.5" r="5"/><circle cx="1221.8" cy="359" r="5"/><circle cx="1232.3" cy="356.8" r="5"/><circle cx="1233.4" cy="350.1" r="5"/><circle cx="1239.2" cy="344.4" r="5"/><circle cx="1237.9" cy="354.2" r="5"/><circle cx="864.9" cy="1071.3" r="5"/><circle cx="864.3" cy="1079.5" r="5"/><circle cx="871" cy="1062.6" r="5"/><circle cx="862.8" cy="1060.2" r="5"/><circle cx="1008.7" cy="865.5" r="5"/><circle cx="1084" cy="871" r="5"/><circle cx="1329" cy="1033.9" r="5"/><circle cx="1337" cy="1024" r="5"/><circle cx="1323.5" cy="1020.5" r="5"/><circle cx="1329.9" cy="1040" r="5"/><circle cx="1321.6" cy="1034.9" r="5"/><circle cx="1333.5" cy="1035.1" r="5"/><circle cx="1166.7" cy="601.2" r="5"/><circle cx="1166.6" cy="619.9" r="5"/><circle cx="1162" cy="613.5" r="5"/><circle cx="1171.2" cy="618.3" r="5"/><circle cx="1162" cy="619.6" r="5"/><circle cx="1179.3" cy="615.1" r="5"/><circle cx="1170.5" cy="613.4" r="5"/><circle cx="1240.3" cy="823.3" r="5"/><circle cx="1247.9" cy="832.3" r="5"/><circle cx="1243.6" cy="829.6" r="5"/><circle cx="1247" cy="824.8" r="5"/><circle cx="1241.9" cy="837.2" r="5"/><circle cx="1252.4" cy="824.2" r="5"/><circle cx="1248.7" cy="849.7" r="5"/><circle cx="1255.4" cy="848.7" r="5"/><circle cx="1257.7" cy="842.8" r="5"/><circle cx="1241.3" cy="852.4" r="5"/><circle cx="1247.3" cy="844.4" r="5"/><circle cx="1517.1" cy="1048" r="5"/><circle cx="1514.1" cy="1056.5" r="5"/><circle cx="906.8" cy="1076" r="5"/><circle cx="1328.5" cy="686.3" r="5"/><circle cx="1322.3" cy="692.5" r="5"/><circle cx="1147.6" cy="767" r="5"/><circle cx="1155.1" cy="763.3" r="5"/><circle cx="1151.1" cy="765.4" r="5"/><circle cx="1159.1" cy="760.7" r="5"/><circle cx="1152.7" cy="770.6" r="5"/><circle cx="1146.9" cy="770.8" r="5"/><circle cx="1158.1" cy="775.8" r="5"/><circle cx="1132.3" cy="528.1" r="5"/><circle cx="1137.4" cy="536.1" r="5"/><circle cx="1128.8" cy="536.1" r="5"/><circle cx="1124.7" cy="523" r="5"/><circle cx="1121.3" cy="524.6" r="5"/><circle cx="1128.6" cy="522.6" r="5"/><circle cx="1127.1" cy="529.6" r="5"/><circle cx="1422.3" cy="669.7" r="5"/><circle cx="1423.9" cy="676.9" r="5"/><circle cx="1430" cy="677.9" r="5"/><circle cx="1439" cy="665" r="5"/><circle cx="549.1" cy="799.7" r="5"/><circle cx="1377.4" cy="678.6" r="5"/><circle cx="1376.3" cy="661.8" r="5"/><circle cx="662.3" cy="1006.6" r="5"/><circle cx="1398.6" cy="546.2" r="5"/><circle cx="1399.3" cy="557.3" r="5"/><circle cx="1387.5" cy="553.8" r="5"/><circle cx="1381.7" cy="558.2" r="5"/><circle cx="1393.3" cy="541.9" r="5"/><circle cx="1065.6" cy="269.7" r="5"/><circle cx="1062.6" cy="278.2" r="5"/><circle cx="1070.9" cy="260.9" r="5"/><circle cx="1064.8" cy="261.6" r="5"/><circle cx="1475.1" cy="749.1" r="5"/><circle cx="1466.5" cy="750.6" r="5"/><circle cx="1471.4" cy="753.3" r="5"/><circle cx="1478" cy="755" r="5"/><circle cx="1469" cy="744.4" r="5"/><circle cx="1317.8" cy="867.9" r="5"/><circle cx="1309.8" cy="866.9" r="5"/><circle cx="1311.5" cy="862.8" r="5"/><circle cx="1316.2" cy="863.4" r="5"/><circle cx="1300.5" cy="873.8" r="5"/><circle cx="1304.3" cy="869.7" r="5"/><circle cx="1318.2" cy="873.6" r="5"/><circle cx="1315.7" cy="878.3" r="5"/><circle cx="1289.7" cy="617.9" r="5"/><circle cx="1290.2" cy="611.8" r="5"/><circle cx="1284.6" cy="608.1" r="5"/><circle cx="1285.3" cy="615.1" r="5"/><circle cx="1295.5" cy="609.3" r="5"/><circle cx="1298.3" cy="601" r="5"/><circle cx="940.2" cy="640.1" r="5"/><circle cx="950.8" cy="641.3" r="5"/><circle cx="948.7" cy="647.8" r="5"/><circle cx="946.5" cy="640.8" r="5"/><circle cx="955.4" cy="650.2" r="5"/><circle cx="946.9" cy="653.4" r="5"/><circle cx="1460.3" cy="936.7" r="5"/><circle cx="1469.8" cy="934.1" r="5"/><circle cx="1467.9" cy="929" r="5"/><circle cx="1479.9" cy="929.4" r="5"/><circle cx="1462.7" cy="923.3" r="5"/><circle cx="1515.3" cy="542.6" r="5"/><circle cx="1510.4" cy="542.5" r="5"/><circle cx="1515.7" cy="549.5" r="5"/><circle cx="1511.3" cy="547.8" r="5"/><circle cx="1502.4" cy="544.9" r="5"/><circle cx="1505.7" cy="548.7" r="5"/><circle cx="1018.6" cy="490.2" r="5"/><circle cx="1014.7" cy="498.1" r="5"/><circle cx="1448.8" cy="694.8" r="5"/><circle cx="1446.5" cy="700" r="5"/><circle cx="1442.1" cy="690.4" r="5"/><circle cx="1445.8" cy="684" r="5"/><circle cx="1443.7" cy="695.1" r="5"/><circle cx="1457.2" cy="688.2" r="5"/><circle cx="1155.9" cy="457.1" r="5"/><circle cx="1151.6" cy="448.4" r="5"/><circle cx="1150.4" cy="440.5" r="5"/><circle cx="1155.2" cy="444.7" r="5"/><circle cx="1142.9" cy="452.2" r="5"/><circle cx="562.7" cy="1002.7" r="5"/><circle cx="577.3" cy="1015.3" r="5"/><circle cx="568.2" cy="1009.8" r="5"/><circle cx="1356.7" cy="958.4" r="5"/><circle cx="1349.4" cy="958.4" r="5"/><circle cx="1345" cy="941.1" r="5"/><circle cx="1354.2" cy="951.2" r="5"/><circle cx="1347" cy="951.7" r="5"/><circle cx="1359.7" cy="947.6" r="5"/><circle cx="1491.8" cy="716.6" r="5"/><circle cx="1498.9" cy="707.4" r="5"/><circle cx="1484.7" cy="700.5" r="5"/><circle cx="1496.3" cy="713.3" r="5"/><circle cx="1487.6" cy="703.6" r="5"/><circle cx="1489.4" cy="700.6" r="5"/><circle cx="1489.4" cy="711" r="5"/><circle cx="1481.7" cy="704.5" r="5"/><circle cx="1481.8" cy="718.1" r="5"/><circle cx="1483.9" cy="708" r="5"/><circle cx="1384.3" cy="867.8" r="5"/><circle cx="1383.5" cy="876.8" r="5"/><circle cx="1399.2" cy="865.6" r="5"/><circle cx="1396.4" cy="873.6" r="5"/><circle cx="1201.4" cy="1155.1" r="5"/><circle cx="1216.3" cy="1158.6" r="5"/><circle cx="1209" cy="1150.9" r="5"/><circle cx="1218.6" cy="1145.3" r="5"/><circle cx="1208.3" cy="1156" r="5"/><circle cx="1204.7" cy="1142" r="5"/><circle cx="1127.4" cy="268.3" r="5"/><circle cx="1130.3" cy="261.7" r="5"/><circle cx="1136.9" cy="266.2" r="5"/><circle cx="1126.4" cy="273.2" r="5"/><circle cx="1132.6" cy="272.2" r="5"/><circle cx="1084.3" cy="620.1" r="5"/><circle cx="1088.3" cy="631.1" r="5"/><circle cx="1082.9" cy="626.3" r="5"/><circle cx="1089.2" cy="638.6" r="5"/><circle cx="1094.5" cy="631.5" r="5"/><circle cx="675.8" cy="1055.3" r="5"/><circle cx="1050.6" cy="284.6" r="5"/><circle cx="1040.9" cy="283.3" r="5"/><circle cx="1078.7" cy="834.4" r="5"/><circle cx="1073.2" cy="829.3" r="5"/><circle cx="1210.1" cy="674.9" r="5"/><circle cx="1217.6" cy="666.2" r="5"/><circle cx="1204.6" cy="669.6" r="5"/><circle cx="1216.6" cy="671.8" r="5"/><circle cx="1202.4" cy="678.3" r="5"/><circle cx="1334.7" cy="1062" r="5"/><circle cx="1327.4" cy="1065.3" r="5"/><circle cx="1335.9" cy="1070.7" r="5"/><circle cx="1328.9" cy="1072.3" r="5"/><circle cx="1336.4" cy="1079.3" r="5"/><circle cx="1326.6" cy="1060.5" r="5"/><circle cx="1322.2" cy="1071" r="5"/><circle cx="1364.2" cy="432.4" r="5"/><circle cx="1362.8" cy="439.5" r="5"/><circle cx="1369.2" cy="432.2" r="5"/><circle cx="1365.9" cy="423.3" r="5"/><circle cx="1373.4" cy="428.4" r="5"/><circle cx="1284.3" cy="980.2" r="5"/><circle cx="1284.4" cy="984.3" r="5"/><circle cx="1289.7" cy="986" r="5"/><circle cx="1294.7" cy="983.7" r="5"/><circle cx="1292.2" cy="999.1" r="5"/><circle cx="1292.2" cy="980.6" r="5"/><circle cx="1281.8" cy="990" r="5"/><circle cx="1144.5" cy="1084.9" r="5"/><circle cx="1142.3" cy="1092.8" r="5"/><circle cx="1148.3" cy="1099.6" r="5"/><circle cx="1150.8" cy="1088.3" r="5"/><circle cx="929.1" cy="911" r="5"/><circle cx="921.1" cy="914.9" r="5"/><circle cx="927.7" cy="918.7" r="5"/><circle cx="931.2" cy="902.6" r="5"/><circle cx="1420.6" cy="843.6" r="5"/><circle cx="1432.1" cy="851.3" r="5"/><circle cx="1427.5" cy="854.7" r="5"/><circle cx="1436.4" cy="845.8" r="5"/><circle cx="1168.5" cy="773.7" r="5"/><circle cx="1163.7" cy="760.2" r="5"/><circle cx="1173.8" cy="769.7" r="5"/><circle cx="1176.3" cy="765.1" r="5"/><circle cx="1176.8" cy="775.9" r="5"/><circle cx="1397.6" cy="854.9" r="5"/><circle cx="1386.2" cy="846.7" r="5"/><circle cx="1394" cy="851.3" r="5"/><circle cx="1394.9" cy="841.8" r="5"/><circle cx="1383.8" cy="842.2" r="5"/><circle cx="1210.6" cy="870.8" r="5"/><circle cx="1202.5" cy="863.3" r="5"/><circle cx="1204.6" cy="867.5" r="5"/><circle cx="1208.2" cy="863.9" r="5"/><circle cx="1211.6" cy="874.6" r="5"/><circle cx="1205.9" cy="871.1" r="5"/><circle cx="1215" cy="869.7" r="5"/><circle cx="1203.6" cy="875.3" r="5"/><circle cx="1104.6" cy="718.2" r="5"/><circle cx="533.2" cy="890.3" r="5"/><circle cx="1128.4" cy="334.5" r="5"/><circle cx="1124.4" cy="326.6" r="5"/><circle cx="1224.7" cy="649.9" r="5"/><circle cx="1233.7" cy="644.4" r="5"/><circle cx="1237.3" cy="653.3" r="5"/><circle cx="1231.4" cy="659.8" r="5"/><circle cx="1233" cy="649.9" r="5"/><circle cx="1228.2" cy="646.6" r="5"/><circle cx="1223" cy="262.3" r="5"/><circle cx="1283.4" cy="581.9" r="5"/><circle cx="1292.6" cy="583.4" r="5"/><circle cx="1291.5" cy="589.8" r="5"/><circle cx="1184.1" cy="805.4" r="5"/><circle cx="1198.2" cy="818.5" r="5"/><circle cx="1189.9" cy="806.5" r="5"/><circle cx="1187.8" cy="801.9" r="5"/><circle cx="1190.6" cy="814.2" r="5"/><circle cx="1184.7" cy="809.5" r="5"/><circle cx="1188.8" cy="818.7" r="5"/><circle cx="1193.6" cy="807.3" r="5"/><circle cx="997.8" cy="779.1" r="5"/><circle cx="997.7" cy="765.4" r="5"/><circle cx="1048.8" cy="609.6" r="5"/><circle cx="1044.1" cy="604.8" r="5"/><circle cx="1053.7" cy="611.3" r="5"/><circle cx="1053.2" cy="602.7" r="5"/><circle cx="1306.6" cy="882.1" r="5"/><circle cx="1305.4" cy="886.4" r="5"/><circle cx="1308.4" cy="898.6" r="5"/><circle cx="1317.7" cy="899.2" r="5"/><circle cx="1315.9" cy="886.3" r="5"/><circle cx="1302.2" cy="882.8" r="5"/><circle cx="808.6" cy="665.4" r="5"/><circle cx="805.9" cy="674.5" r="5"/><circle cx="800.2" cy="670.8" r="5"/><circle cx="1034" cy="914.7" r="5"/><circle cx="1225.6" cy="917.9" r="5"/><circle cx="1220.5" cy="914.9" r="5"/><circle cx="1235.3" cy="906.7" r="5"/><circle cx="1239" cy="919.4" r="5"/><circle cx="1223.1" cy="901.3" r="5"/><circle cx="1220.1" cy="910.2" r="5"/><circle cx="1113.2" cy="1023.4" r="5"/><circle cx="1107.1" cy="1021.4" r="5"/><circle cx="1113" cy="1033.4" r="5"/><circle cx="1101.8" cy="1036.8" r="5"/><circle cx="1103.3" cy="643.9" r="5"/><circle cx="1100.5" cy="648.6" r="5"/><circle cx="1109.4" cy="651.2" r="5"/><circle cx="1112.1" cy="657.7" r="5"/><circle cx="1117.5" cy="651" r="5"/><circle cx="1513.7" cy="601.7" r="5"/><circle cx="1509.5" cy="605.5" r="5"/><circle cx="1509.9" cy="611.3" r="5"/><circle cx="1502.5" cy="605.5" r="5"/><circle cx="1501.3" cy="600.8" r="5"/><circle cx="883.3" cy="649.9" r="5"/><circle cx="897.7" cy="655.7" r="5"/><circle cx="1054.2" cy="1067.8" r="5"/><circle cx="1050.6" cy="1075.1" r="5"/><circle cx="1035.4" cy="1077.3" r="5"/><circle cx="1015.9" cy="624.8" r="5"/><circle cx="1005.7" cy="629.2" r="5"/><circle cx="1616.8" cy="958.7" r="5"/><circle cx="1195.9" cy="1128.2" r="5"/><circle cx="1185.3" cy="1139.3" r="5"/><circle cx="1183.4" cy="1129.3" r="5"/><circle cx="1195.5" cy="1139" r="5"/><circle cx="1087" cy="654.7" r="5"/><circle cx="1096" cy="641.2" r="5"/><circle cx="915.1" cy="516.1" r="5"/><circle cx="908.9" cy="507.7" r="5"/><circle cx="1203.1" cy="584.1" r="5"/><circle cx="1212.6" cy="585.2" r="5"/><circle cx="1215.5" cy="593.4" r="5"/><circle cx="1204.4" cy="597.9" r="5"/><circle cx="1279.9" cy="1092.4" r="5"/><circle cx="1276.7" cy="1099.6" r="5"/><circle cx="1275" cy="1091.3" r="5"/><circle cx="1272" cy="1084.7" r="5"/><circle cx="1267" cy="1096.2" r="5"/><circle cx="1266.3" cy="1080.4" r="5"/><circle cx="840" cy="758.1" r="5"/><circle cx="832.8" cy="740.5" r="5"/><circle cx="1409.4" cy="789" r="5"/><circle cx="1410.3" cy="780.9" r="5"/><circle cx="1414" cy="785.3" r="5"/><circle cx="1401.5" cy="782.2" r="5"/><circle cx="1410.5" cy="784.5" r="5"/><circle cx="1415.8" cy="781.1" r="5"/><circle cx="1407.3" cy="795.9" r="5"/><circle cx="1403.1" cy="798.4" r="5"/><circle cx="1415" cy="789.1" r="5"/><circle cx="1203.2" cy="575.9" r="5"/><circle cx="1204.5" cy="565" r="5"/><circle cx="1505.7" cy="867.4" r="5"/><circle cx="1509.3" cy="875.6" r="5"/><circle cx="1515.9" cy="866.5" r="5"/><circle cx="754.1" cy="990.6" r="5"/><circle cx="741.1" cy="998.9" r="5"/><circle cx="1622.9" cy="853.2" r="5"/><circle cx="1624.7" cy="858.4" r="5"/><circle cx="1629.4" cy="851" r="5"/><circle cx="1634.7" cy="857.2" r="5"/><circle cx="1635.7" cy="847.5" r="5"/><circle cx="1174.5" cy="276.5" r="5"/><circle cx="1171" cy="269.7" r="5"/><circle cx="1179.4" cy="264" r="5"/><circle cx="1164.5" cy="266.3" r="5"/><circle cx="1323.1" cy="885" r="5"/><circle cx="1337.4" cy="887" r="5"/><circle cx="1329.4" cy="885.5" r="5"/><circle cx="1337" cy="882.2" r="5"/><circle cx="1320.3" cy="889.9" r="5"/><circle cx="1325.4" cy="889.2" r="5"/><circle cx="466.8" cy="1009.8" r="5"/><circle cx="471.5" cy="1013.3" r="5"/><circle cx="1390.2" cy="817.3" r="5"/><circle cx="1385.9" cy="813.3" r="5"/><circle cx="1381.4" cy="815.3" r="5"/><circle cx="1394.8" cy="811.4" r="5"/><circle cx="1388.7" cy="804" r="5"/><circle cx="1001.6" cy="890.7" r="5"/><circle cx="811.7" cy="745.4" r="5"/><circle cx="1099.7" cy="1063.3" r="5"/><circle cx="1085.8" cy="1069.3" r="5"/><circle cx="1087" cy="1061.8" r="5"/><circle cx="1097.5" cy="1072.5" r="5"/><circle cx="1221.5" cy="293.2" r="5"/><circle cx="1239.7" cy="294.6" r="5"/><circle cx="1231.7" cy="293.2" r="5"/><circle cx="1233.1" cy="282.6" r="5"/><circle cx="1260.4" cy="455.2" r="5"/><circle cx="1276.4" cy="441.3" r="5"/><circle cx="1272.2" cy="448.4" r="5"/><circle cx="1267.6" cy="441.3" r="5"/><circle cx="1278.9" cy="447.4" r="5"/><circle cx="1261.4" cy="447.4" r="5"/><circle cx="1310.9" cy="937.9" r="5"/><circle cx="1309" cy="922.8" r="5"/><circle cx="1301.2" cy="923.3" r="5"/><circle cx="1309.3" cy="928.3" r="5"/><circle cx="1304" cy="938.5" r="5"/><circle cx="876.7" cy="693.4" r="5"/><circle cx="873.8" cy="682.7" r="5"/><circle cx="865.8" cy="695.4" r="5"/><circle cx="1054.4" cy="377.7" r="5"/><circle cx="1047.9" cy="379.6" r="5"/><circle cx="1054.1" cy="368" r="5"/><circle cx="1059.4" cy="364" r="5"/><circle cx="1045.4" cy="372.9" r="5"/><circle cx="809.9" cy="997" r="5"/><circle cx="814.6" cy="992.6" r="5"/><circle cx="1167.5" cy="572.9" r="5"/><circle cx="1164.9" cy="577.1" r="5"/><circle cx="1176.1" cy="566.8" r="5"/><circle cx="1166.4" cy="566.4" r="5"/><circle cx="1173.9" cy="562" r="5"/><circle cx="1178.2" cy="570.1" r="5"/><circle cx="1191.8" cy="740.2" r="5"/><circle cx="1191.9" cy="759.7" r="5"/><circle cx="1194.6" cy="747.5" r="5"/><circle cx="1191.6" cy="753.6" r="5"/><circle cx="1189.7" cy="749.4" r="5"/><circle cx="1182.6" cy="758.7" r="5"/><circle cx="1187.5" cy="759" r="5"/><circle cx="1186.9" cy="740.4" r="5"/><circle cx="1186.8" cy="754.1" r="5"/><circle cx="444.1" cy="921.7" r="5"/><circle cx="1286.2" cy="974" r="5"/><circle cx="1293.9" cy="968.7" r="5"/><circle cx="1284.5" cy="967.4" r="5"/><circle cx="1294.4" cy="975.5" r="5"/><circle cx="1260.3" cy="1030.4" r="5"/><circle cx="1267.9" cy="1038.5" r="5"/><circle cx="1269.4" cy="1026.3" r="5"/><circle cx="1264" cy="1034.6" r="5"/><circle cx="1273.4" cy="1034.4" r="5"/><circle cx="1275.8" cy="1023.5" r="5"/><circle cx="1438.9" cy="477.9" r="5"/><circle cx="1422.8" cy="469.2" r="5"/><circle cx="1428.5" cy="466.8" r="5"/><circle cx="1431.3" cy="475.9" r="5"/><circle cx="1106" cy="1058.2" r="5"/><circle cx="1101.5" cy="1046.1" r="5"/><circle cx="1114.8" cy="1046.1" r="5"/><circle cx="1113.6" cy="1055.4" r="5"/><circle cx="1236.8" cy="1099.4" r="5"/><circle cx="1224.7" cy="1094.1" r="5"/><circle cx="1226.6" cy="1099.9" r="5"/><circle cx="1221.6" cy="1098.7" r="5"/><circle cx="1220.6" cy="1086.1" r="5"/><circle cx="1025.7" cy="415" r="5"/><circle cx="1541.3" cy="937.5" r="5"/><circle cx="1558.7" cy="929.4" r="5"/><circle cx="1540.3" cy="921" r="5"/><circle cx="1540.8" cy="927.3" r="5"/><circle cx="1548.8" cy="927.8" r="5"/><circle cx="1654.1" cy="847.8" r="5"/><circle cx="1642.4" cy="857.6" r="5"/><circle cx="1382.5" cy="685.1" r="5"/><circle cx="1392.7" cy="694" r="5"/><circle cx="1391.4" cy="686.2" r="5"/><circle cx="986.2" cy="711.6" r="5"/><circle cx="992" cy="704.1" r="5"/><circle cx="992" cy="710.3" r="5"/><circle cx="981.4" cy="714" r="5"/><circle cx="1322.4" cy="741.3" r="5"/><circle cx="1331.9" cy="744.3" r="5"/><circle cx="1329.2" cy="753" r="5"/><circle cx="1320.6" cy="753.8" r="5"/><circle cx="1584.4" cy="766.9" r="5"/><circle cx="1202.2" cy="732.7" r="5"/><circle cx="1215.9" cy="720" r="5"/><circle cx="1216.4" cy="735.9" r="5"/><circle cx="1209.3" cy="735.5" r="5"/><circle cx="1089" cy="888.6" r="5"/><circle cx="1094.9" cy="892.1" r="5"/><circle cx="1086.5" cy="893.9" r="5"/><circle cx="1090" cy="881.2" r="5"/><circle cx="1093.5" cy="885.9" r="5"/><circle cx="572.5" cy="985" r="5"/><circle cx="577.4" cy="989.8" r="5"/><circle cx="1229.2" cy="800.1" r="5"/><circle cx="1238.9" cy="806.1" r="5"/><circle cx="1221" cy="803" r="5"/><circle cx="1234.4" cy="810.1" r="5"/><circle cx="1226.7" cy="814.5" r="5"/><circle cx="1066" cy="609.9" r="5"/><circle cx="886" cy="889.6" r="5"/><circle cx="1360.8" cy="984.8" r="5"/><circle cx="1370.1" cy="987" r="5"/><circle cx="1370.8" cy="993.1" r="5"/><circle cx="1365.2" cy="995.3" r="5"/><circle cx="1047" cy="1115.6" r="5"/><circle cx="597.2" cy="1044.3" r="5"/><circle cx="1245.3" cy="502" r="5"/><circle cx="926.2" cy="836.3" r="5"/><circle cx="932.8" cy="835.6" r="5"/><circle cx="915.5" cy="851.4" r="5"/><circle cx="918.7" cy="855.6" r="5"/><circle cx="910.9" cy="854" r="5"/><circle cx="909.4" cy="858.6" r="5"/><circle cx="1156.2" cy="888.1" r="5"/><circle cx="1150.6" cy="881.7" r="5"/><circle cx="1142.5" cy="890" r="5"/><circle cx="1149.7" cy="886.3" r="5"/><circle cx="1142.7" cy="895.5" r="5"/><circle cx="1344.1" cy="1145" r="5"/><circle cx="1347" cy="1151" r="5"/><circle cx="1351.6" cy="1143.6" r="5"/><circle cx="1351.5" cy="1153.4" r="5"/><circle cx="1342.9" cy="1158.5" r="5"/><circle cx="1062.7" cy="284.7" r="5"/><circle cx="1074.8" cy="291.8" r="5"/><circle cx="1070.8" cy="285.4" r="5"/><circle cx="1061" cy="294.3" r="5"/><circle cx="928.7" cy="852.5" r="5"/><circle cx="930.9" cy="859.5" r="5"/><circle cx="934.4" cy="848.3" r="5"/><circle cx="755" cy="788.7" r="5"/><circle cx="1339.9" cy="916.6" r="5"/><circle cx="1327.8" cy="901.1" r="5"/><circle cx="1334.6" cy="909.8" r="5"/><circle cx="1334.8" cy="900.6" r="5"/><circle cx="662.2" cy="683.5" r="5"/><circle cx="1237.7" cy="1068.2" r="5"/><circle cx="1225" cy="1076.5" r="5"/><circle cx="1236.1" cy="1079.3" r="5"/><circle cx="1236" cy="1060.3" r="5"/><circle cx="1232" cy="1064.3" r="5"/><circle cx="920" cy="522.1" r="5"/><circle cx="918.2" cy="533.5" r="5"/><circle cx="909.1" cy="528.1" r="5"/><circle cx="912.3" cy="538.8" r="5"/><circle cx="1028" cy="457.9" r="5"/><circle cx="1030.2" cy="450" r="5"/><circle cx="1653.2" cy="964.4" r="5"/><circle cx="1650.3" cy="974.1" r="5"/><circle cx="1642.5" cy="970.8" r="5"/><circle cx="1641.4" cy="977" r="5"/><circle cx="1646.6" cy="968.2" r="5"/><circle cx="1651.9" cy="970" r="5"/><circle cx="687.1" cy="1112.1" r="5"/><circle cx="1244.3" cy="709.8" r="5"/><circle cx="1240.2" cy="719.8" r="5"/><circle cx="1254.4" cy="713.9" r="5"/><circle cx="1391.3" cy="592.4" r="5"/><circle cx="1383.5" cy="597" r="5"/><circle cx="930.1" cy="679" r="5"/><circle cx="920.9" cy="676.1" r="5"/><circle cx="921.7" cy="667.7" r="5"/><circle cx="937.9" cy="665.4" r="5"/><circle cx="827.6" cy="698" r="5"/><circle cx="1433.1" cy="906.8" r="5"/><circle cx="1433.4" cy="914.9" r="5"/><circle cx="1437.8" cy="904.7" r="5"/><circle cx="1426.6" cy="917.2" r="5"/><circle cx="1436.3" cy="901.2" r="5"/><circle cx="1423.8" cy="912" r="5"/><circle cx="1428.9" cy="912" r="5"/><circle cx="1420.7" cy="901.7" r="5"/><circle cx="776.5" cy="832.6" r="5"/><circle cx="816.3" cy="893.4" r="5"/><circle cx="802.1" cy="887.2" r="5"/><circle cx="1573.9" cy="726.8" r="5"/><circle cx="1567" cy="732.4" r="5"/><circle cx="1160.4" cy="1021.3" r="5"/><circle cx="1176.9" cy="1020.9" r="5"/><circle cx="1179.7" cy="1032.9" r="5"/><circle cx="1168" cy="1026.2" r="5"/><circle cx="1175.3" cy="1027.4" r="5"/><circle cx="1199.7" cy="655.7" r="5"/><circle cx="1193.2" cy="655.2" r="5"/><circle cx="1185" cy="658.6" r="5"/><circle cx="1182.5" cy="642.2" r="5"/><circle cx="1195.3" cy="651.1" r="5"/><circle cx="1353.5" cy="1083.1" r="5"/><circle cx="1348.8" cy="1081.8" r="5"/><circle cx="1349.7" cy="1098.6" r="5"/><circle cx="1341.2" cy="1081.4" r="5"/><circle cx="1359.6" cy="1093.3" r="5"/><circle cx="1345" cy="1084" r="5"/><circle cx="1356.8" cy="1086.7" r="5"/><circle cx="1357" cy="1095.8" r="5"/><circle cx="1352" cy="1087.7" r="5"/><circle cx="1348.4" cy="1093.6" r="5"/><circle cx="675.2" cy="763.8" r="5"/><circle cx="1586" cy="593.6" r="5"/><circle cx="1582.9" cy="595.6" r="5"/><circle cx="1597.4" cy="596.7" r="5"/><circle cx="1593.9" cy="582.9" r="5"/><circle cx="1597.8" cy="580.3" r="5"/><circle cx="1588.2" cy="587.2" r="5"/><circle cx="1583.8" cy="583.7" r="5"/><circle cx="545" cy="1020.4" r="5"/><circle cx="872.6" cy="625.8" r="5"/><circle cx="866.3" cy="630.7" r="5"/><circle cx="1280.2" cy="1007" r="5"/><circle cx="1295.6" cy="1019.7" r="5"/><circle cx="1299.5" cy="1016.6" r="5"/><circle cx="1280.5" cy="1018" r="5"/><circle cx="1293.3" cy="1003.9" r="5"/><circle cx="1151.2" cy="875.2" r="5"/><circle cx="1143.1" cy="879.4" r="5"/><circle cx="1140.1" cy="864" r="5"/><circle cx="1152.8" cy="867" r="5"/><circle cx="1100.2" cy="814.4" r="5"/><circle cx="1101.1" cy="808.1" r="5"/><circle cx="1107.3" cy="805" r="5"/><circle cx="1102.4" cy="819.8" r="5"/><circle cx="1112.2" cy="813.2" r="5"/><circle cx="1119.3" cy="809.1" r="5"/><circle cx="572.8" cy="1068.5" r="5"/><circle cx="577.7" cy="1063.4" r="5"/><circle cx="570.5" cy="1063.8" r="5"/><circle cx="1033.9" cy="392.1" r="5"/><circle cx="1039.9" cy="386.3" r="5"/><circle cx="1035.4" cy="382" r="5"/><circle cx="1025.3" cy="387.7" r="5"/><circle cx="1390.7" cy="1178.5" r="5"/><circle cx="1067.7" cy="768.2" r="5"/><circle cx="1066.9" cy="763.2" r="5"/><circle cx="1065.3" cy="773.3" r="5"/><circle cx="1073.7" cy="769.8" r="5"/><circle cx="1520.6" cy="722.3" r="5"/><circle cx="1536.8" cy="739.1" r="5"/><circle cx="1523" cy="736.1" r="5"/><circle cx="1489.8" cy="693.7" r="5"/><circle cx="1484.9" cy="692.7" r="5"/><circle cx="1487.5" cy="685.3" r="5"/><circle cx="1485.1" cy="696.6" r="5"/><circle cx="1490.7" cy="691.1" r="5"/><circle cx="1493.2" cy="696.5" r="5"/><circle cx="1493.6" cy="684.6" r="5"/><circle cx="1494.3" cy="688" r="5"/><circle cx="1490.1" cy="685.7" r="5"/><circle cx="1488.4" cy="696.8" r="5"/><circle cx="1480.5" cy="698.6" r="5"/><circle cx="1500" cy="699.5" r="5"/><circle cx="1496.1" cy="691.9" r="5"/><circle cx="1485.6" cy="681.3" r="5"/><circle cx="940.9" cy="905" r="5"/><circle cx="1319.1" cy="659.5" r="5"/><circle cx="1304.9" cy="650.9" r="5"/><circle cx="1319.1" cy="648.1" r="5"/><circle cx="1300.4" cy="646.8" r="5"/><circle cx="1308.6" cy="657.3" r="5"/><circle cx="1350.9" cy="1070.3" r="5"/><circle cx="1348.5" cy="1076" r="5"/><circle cx="1355.3" cy="1075.4" r="5"/><circle cx="1359.5" cy="1064.6" r="5"/><circle cx="1303.4" cy="797.4" r="5"/><circle cx="1311.1" cy="792.1" r="5"/><circle cx="1318.9" cy="788.4" r="5"/><circle cx="1306.2" cy="785" r="5"/><circle cx="1584.8" cy="877.1" r="5"/><circle cx="1596.3" cy="878.4" r="5"/><circle cx="1581.9" cy="863.6" r="5"/><circle cx="1587" cy="869.1" r="5"/><circle cx="1587.2" cy="860.6" r="5"/><circle cx="1592.6" cy="866.4" r="5"/><circle cx="1564.1" cy="995" r="5"/><circle cx="1570.2" cy="990.6" r="5"/><circle cx="843.8" cy="663.5" r="5"/><circle cx="857.4" cy="667.9" r="5"/><circle cx="957.5" cy="751.6" r="5"/><circle cx="1236.8" cy="957.5" r="5"/><circle cx="1227.9" cy="959.8" r="5"/><circle cx="1224.2" cy="944.3" r="5"/><circle cx="1222.1" cy="952.2" r="5"/><circle cx="1605.7" cy="1016.3" r="5"/><circle cx="1613.7" cy="1008.4" r="5"/><circle cx="1612.3" cy="1001" r="5"/><circle cx="1604.6" cy="1007" r="5"/><circle cx="1467.7" cy="493.6" r="5"/><circle cx="1461.2" cy="499.1" r="5"/><circle cx="1478.3" cy="492.2" r="5"/><circle cx="1473.2" cy="483.1" r="5"/><circle cx="1460.3" cy="483.9" r="5"/><circle cx="727.8" cy="693.6" r="5"/><circle cx="722.9" cy="688.2" r="5"/><circle cx="959.2" cy="509.8" r="5"/><circle cx="943.1" cy="518.1" r="5"/><circle cx="946.8" cy="511" r="5"/><circle cx="952.3" cy="508.8" r="5"/><circle cx="957.4" cy="515.9" r="5"/><circle cx="944.3" cy="503.6" r="5"/><circle cx="949.2" cy="501.7" r="5"/><circle cx="773.4" cy="620.2" r="5"/><circle cx="1078.9" cy="478.5" r="5"/><circle cx="1065.3" cy="476.1" r="5"/><circle cx="1073.5" cy="469.2" r="5"/><circle cx="1078.4" cy="471.8" r="5"/><circle cx="1061.5" cy="471.9" r="5"/><circle cx="1480.9" cy="970.1" r="5"/><circle cx="1485" cy="966.1" r="5"/><circle cx="1497.4" cy="970.3" r="5"/><circle cx="1487" cy="962.6" r="5"/><circle cx="1499.4" cy="965.1" r="5"/><circle cx="1492.7" cy="973.8" r="5"/><circle cx="1275" cy="741.2" r="5"/><circle cx="1481.3" cy="1024.8" r="5"/><circle cx="1496.7" cy="1025.7" r="5"/><circle cx="1491.5" cy="1032.3" r="5"/><circle cx="1430" cy="887.5" r="5"/><circle cx="1428.9" cy="892.5" r="5"/><circle cx="1432.2" cy="896.3" r="5"/><circle cx="1438.2" cy="895.4" r="5"/><circle cx="1319.3" cy="1048.2" r="5"/><circle cx="1314.6" cy="1051.4" r="5"/><circle cx="1316.5" cy="1054.7" r="5"/><circle cx="1319.9" cy="1044.2" r="5"/><circle cx="1309.1" cy="1042.2" r="5"/><circle cx="1309.3" cy="1048.8" r="5"/><circle cx="1312.7" cy="1045.6" r="5"/><circle cx="1318.5" cy="1058.7" r="5"/><circle cx="1304.7" cy="1050.8" r="5"/><circle cx="1145" cy="581.1" r="5"/><circle cx="1159.8" cy="590.6" r="5"/><circle cx="1147.8" cy="587.8" r="5"/><circle cx="1146" cy="595.7" r="5"/><circle cx="1164.5" cy="890.4" r="5"/><circle cx="1168.2" cy="887.2" r="5"/><circle cx="1173.5" cy="890.7" r="5"/><circle cx="1179.5" cy="883.5" r="5"/><circle cx="1175.9" cy="893.6" r="5"/><circle cx="1173.7" cy="881.6" r="5"/><circle cx="1179.6" cy="888.7" r="5"/><circle cx="1170.4" cy="890.8" r="5"/><circle cx="1169.4" cy="883.3" r="5"/><circle cx="1166.2" cy="880.3" r="5"/><circle cx="1160.8" cy="890.3" r="5"/><circle cx="1175.1" cy="885.2" r="5"/><circle cx="1178.4" cy="896.8" r="5"/><circle cx="1167.2" cy="894.5" r="5"/><circle cx="1402.1" cy="594.5" r="5"/><circle cx="1418.9" cy="599.3" r="5"/><circle cx="1117.2" cy="994" r="5"/><circle cx="1117.5" cy="982.4" r="5"/><circle cx="1111.1" cy="990.8" r="5"/><circle cx="1119.6" cy="998.3" r="5"/><circle cx="1119.4" cy="990.7" r="5"/><circle cx="1116.7" cy="987.2" r="5"/><circle cx="1105.4" cy="988.8" r="5"/><circle cx="1113.5" cy="995.6" r="5"/><circle cx="642.8" cy="681.3" r="5"/><circle cx="641.4" cy="688.6" r="5"/><circle cx="1209.7" cy="351.9" r="5"/><circle cx="1213.6" cy="358.6" r="5"/><circle cx="1208.8" cy="343.5" r="5"/><circle cx="1218.5" cy="351.3" r="5"/><circle cx="1193.8" cy="974.3" r="5"/><circle cx="1189.7" cy="972" r="5"/><circle cx="1193.9" cy="964.2" r="5"/><circle cx="1197.4" cy="965.6" r="5"/><circle cx="1185.6" cy="970.3" r="5"/><circle cx="1199.6" cy="969.1" r="5"/><circle cx="1190.6" cy="967.1" r="5"/><circle cx="1182.7" cy="973.7" r="5"/><circle cx="970.1" cy="765" r="5"/><circle cx="1488" cy="839.5" r="5"/><circle cx="1480.2" cy="835.4" r="5"/><circle cx="1491.3" cy="834" r="5"/><circle cx="1496.8" cy="823.4" r="5"/><circle cx="1482.4" cy="827.1" r="5"/><circle cx="1179.9" cy="437.9" r="5"/><circle cx="820.8" cy="539.6" r="5"/><circle cx="828.2" cy="534.6" r="5"/><circle cx="967.9" cy="849.1" r="5"/><circle cx="974.8" cy="855" r="5"/><circle cx="1017.4" cy="411.4" r="5"/><circle cx="905.6" cy="471.6" r="5"/><circle cx="1172.3" cy="1092.2" r="5"/><circle cx="1162" cy="1089.9" r="5"/><circle cx="1177.6" cy="1089.3" r="5"/><circle cx="1166.4" cy="1095" r="5"/><circle cx="917.4" cy="583.6" r="5"/><circle cx="903.2" cy="581.8" r="5"/><circle cx="912.2" cy="589" r="5"/><circle cx="614.8" cy="1027.6" r="5"/><circle cx="1142.7" cy="269.9" r="5"/><circle cx="1157.4" cy="278.4" r="5"/><circle cx="1146" cy="263.4" r="5"/><circle cx="1151.6" cy="275.8" r="5"/><circle cx="1417.3" cy="685.6" r="5"/><circle cx="1411.9" cy="689.1" r="5"/><circle cx="1401.3" cy="683.9" r="5"/><circle cx="1407.4" cy="691" r="5"/><circle cx="583.7" cy="1084.2" r="5"/><circle cx="585.2" cy="1095.5" r="5"/><circle cx="595.9" cy="1094" r="5"/><circle cx="1245.9" cy="395.3" r="5"/><circle cx="1251.6" cy="388.5" r="5"/><circle cx="1234.8" cy="552.7" r="5"/><circle cx="1352.8" cy="700.4" r="5"/><circle cx="1340.9" cy="709.5" r="5"/><circle cx="1358" cy="719.5" r="5"/><circle cx="1343.8" cy="716.3" r="5"/><circle cx="559.7" cy="803" r="5"/><circle cx="1334.9" cy="767.2" r="5"/><circle cx="1333.7" cy="773.7" r="5"/><circle cx="1332.2" cy="764.4" r="5"/><circle cx="1323.7" cy="769" r="5"/><circle cx="1320.8" cy="772.8" r="5"/><circle cx="1337.5" cy="772.2" r="5"/><circle cx="1329.6" cy="776.6" r="5"/><circle cx="1518.4" cy="881.6" r="5"/><circle cx="1508.5" cy="884" r="5"/><circle cx="1513.1" cy="890.1" r="5"/><circle cx="1506.6" cy="895.8" r="5"/><circle cx="1519.8" cy="896.8" r="5"/><circle cx="1192.3" cy="885.8" r="5"/><circle cx="1191.6" cy="892.5" r="5"/><circle cx="1199.6" cy="880.7" r="5"/><circle cx="1192.1" cy="882.9" r="5"/><circle cx="1180.3" cy="880.1" r="5"/><circle cx="1187.2" cy="884.2" r="5"/><circle cx="1195" cy="883.1" r="5"/><circle cx="1196.3" cy="894.7" r="5"/><circle cx="1065.9" cy="343.2" r="5"/><circle cx="725.7" cy="1003" r="5"/><circle cx="725.7" cy="1007.7" r="5"/><circle cx="1037.8" cy="709.8" r="5"/><circle cx="1022.1" cy="716.9" r="5"/><circle cx="1020.5" cy="707.2" r="5"/><circle cx="1030.3" cy="714" r="5"/><circle cx="1031.2" cy="718.3" r="5"/><circle cx="1027.1" cy="716" r="5"/><circle cx="1035.8" cy="705.8" r="5"/><circle cx="1335.2" cy="1054.1" r="5"/><circle cx="1334.9" cy="1045.7" r="5"/><circle cx="1326.5" cy="1052.6" r="5"/><circle cx="793.4" cy="733.4" r="5"/><circle cx="1507.1" cy="950.9" r="5"/><circle cx="1512.3" cy="957.1" r="5"/><circle cx="1500.3" cy="956" r="5"/><circle cx="1508.8" cy="941.4" r="5"/><circle cx="532.9" cy="961.3" r="5"/><circle cx="1228.4" cy="625" r="5"/><circle cx="1230.5" cy="638.4" r="5"/><circle cx="1220.4" cy="620.8" r="5"/><circle cx="1231.1" cy="631.4" r="5"/><circle cx="1239.7" cy="632.2" r="5"/><circle cx="1235.5" cy="622.6" r="5"/><circle cx="781.4" cy="1032.2" r="5"/><circle cx="1042.7" cy="921.4" r="5"/><circle cx="1215" cy="440.1" r="5"/><circle cx="1215.8" cy="453.5" r="5"/><circle cx="1036.1" cy="575.7" r="5"/><circle cx="1028.5" cy="573.5" r="5"/><circle cx="1039.6" cy="565" r="5"/><circle cx="1026.3" cy="560.3" r="5"/><circle cx="965.4" cy="415.4" r="5"/><circle cx="1133.6" cy="860.1" r="5"/><circle cx="1121" cy="874.6" r="5"/><circle cx="1153.9" cy="376.7" r="5"/><circle cx="1149.4" cy="364.4" r="5"/><circle cx="1144.5" cy="375" r="5"/><circle cx="475" cy="970.8" r="5"/><circle cx="820.5" cy="595.5" r="5"/><circle cx="725.2" cy="974.5" r="5"/><circle cx="1248.2" cy="460.6" r="5"/><circle cx="1240.7" cy="462.4" r="5"/><circle cx="1249.3" cy="469.5" r="5"/><circle cx="1254.4" cy="471.9" r="5"/><circle cx="1249" cy="477.6" r="5"/><circle cx="1373.9" cy="946.7" r="5"/><circle cx="1371.5" cy="956" r="5"/><circle cx="1444.1" cy="756.9" r="5"/><circle cx="1458.7" cy="751" r="5"/><circle cx="1442.6" cy="744.9" r="5"/><circle cx="1455.3" cy="742.9" r="5"/><circle cx="1530.8" cy="1002.8" r="5"/><circle cx="1523.9" cy="1009.8" r="5"/><circle cx="1530.8" cy="1011.3" r="5"/><circle cx="566.3" cy="1026.5" r="5"/><circle cx="576.1" cy="1034.8" r="5"/><circle cx="564.2" cy="1030.5" r="5"/><circle cx="1436.4" cy="696.8" r="5"/><circle cx="1420.2" cy="694.7" r="5"/><circle cx="1425.8" cy="681.5" r="5"/><circle cx="1522.1" cy="665.3" r="5"/><circle cx="1533.1" cy="675.5" r="5"/><circle cx="1526.7" cy="676.2" r="5"/><circle cx="1522.2" cy="671.7" r="5"/><circle cx="1531.2" cy="660.3" r="5"/><circle cx="827.3" cy="797" r="5"/><circle cx="1040.8" cy="457.1" r="5"/><circle cx="1168.5" cy="1017.7" r="5"/><circle cx="1178.3" cy="1000" r="5"/><circle cx="1173.2" cy="1008.5" r="5"/><circle cx="1109.7" cy="729.1" r="5"/><circle cx="1115.5" cy="733.4" r="5"/><circle cx="1108.5" cy="739.6" r="5"/><circle cx="1473.6" cy="610.1" r="5"/><circle cx="1462" cy="602.7" r="5"/><circle cx="1474.7" cy="605.2" r="5"/><circle cx="1478.5" cy="604" r="5"/><circle cx="1466.4" cy="610.6" r="5"/><circle cx="1470.4" cy="602.3" r="5"/><circle cx="1467.1" cy="614.9" r="5"/><circle cx="1464.4" cy="613.3" r="5"/><circle cx="1478.6" cy="614.4" r="5"/><circle cx="681.1" cy="847.5" r="5"/><circle cx="1364.4" cy="589" r="5"/><circle cx="1378.5" cy="591.2" r="5"/><circle cx="1372.6" cy="585.3" r="5"/><circle cx="1207" cy="604.4" r="5"/><circle cx="1201.9" cy="605.2" r="5"/><circle cx="1214.8" cy="601.1" r="5"/><circle cx="1562.6" cy="843.4" r="5"/><circle cx="1569.7" cy="858.9" r="5"/><circle cx="1579" cy="856.7" r="5"/><circle cx="1563.6" cy="848.1" r="5"/><circle cx="1563.3" cy="853.5" r="5"/><circle cx="1570.5" cy="851.6" r="5"/><circle cx="1382.8" cy="954.6" r="5"/><circle cx="1393.6" cy="958.2" r="5"/><circle cx="1386.4" cy="940.2" r="5"/><circle cx="1390" cy="950.8" r="5"/><circle cx="1528.9" cy="960.8" r="5"/><circle cx="1520.4" cy="973.3" r="5"/><circle cx="1523.8" cy="969.5" r="5"/><circle cx="1533.1" cy="964.9" r="5"/><circle cx="1537.7" cy="979.9" r="5"/><circle cx="1538.9" cy="971.8" r="5"/><circle cx="842.3" cy="749.3" r="5"/><circle cx="936.7" cy="991.8" r="5"/><circle cx="924.5" cy="993.1" r="5"/><circle cx="1280.8" cy="954.9" r="5"/><circle cx="1295.7" cy="950.9" r="5"/><circle cx="1285.3" cy="950.6" r="5"/><circle cx="1285.3" cy="940.5" r="5"/><circle cx="1280.4" cy="941.5" r="5"/><circle cx="1289" cy="940.8" r="5"/><circle cx="1284.6" cy="944.4" r="5"/><circle cx="1298.7" cy="946.4" r="5"/><circle cx="1294.9" cy="957.2" r="5"/><circle cx="1137.2" cy="1042.3" r="5"/><circle cx="1127.1" cy="1040.5" r="5"/><circle cx="1131" cy="1044" r="5"/><circle cx="1123.3" cy="1058.9" r="5"/><circle cx="1134.6" cy="1051.5" r="5"/><circle cx="1139.8" cy="1053.2" r="5"/><circle cx="1132.8" cy="1056.4" r="5"/><circle cx="701.1" cy="1079" r="5"/><circle cx="717.2" cy="1063.2" r="5"/><circle cx="705.2" cy="1073.5" r="5"/><circle cx="707.8" cy="1068.4" r="5"/><circle cx="1128.2" cy="944.6" r="5"/><circle cx="1123.3" cy="949.5" r="5"/><circle cx="1128" cy="950.7" r="5"/><circle cx="1120.1" cy="944.4" r="5"/><circle cx="1124.4" cy="942.1" r="5"/><circle cx="1139.6" cy="948.2" r="5"/><circle cx="1319.8" cy="700.4" r="5"/><circle cx="1311.2" cy="701" r="5"/><circle cx="1306.6" cy="713.6" r="5"/><circle cx="1316" cy="706.3" r="5"/><circle cx="1314.9" cy="713.2" r="5"/><circle cx="1106.6" cy="825.6" r="5"/><circle cx="1113" cy="825" r="5"/><circle cx="1107.8" cy="831.4" r="5"/><circle cx="1118.1" cy="825" r="5"/><circle cx="1101.8" cy="837" r="5"/><circle cx="1073" cy="384.3" r="5"/><circle cx="1077" cy="398.7" r="5"/><circle cx="1064.3" cy="395.6" r="5"/><circle cx="1519" cy="806.7" r="5"/><circle cx="1513" cy="804" r="5"/><circle cx="1506" cy="802.4" r="5"/><circle cx="1501.8" cy="811.4" r="5"/><circle cx="1116.8" cy="284.5" r="5"/><circle cx="1116.4" cy="296" r="5"/><circle cx="1224.1" cy="1022.9" r="5"/><circle cx="1233.2" cy="1032.4" r="5"/><circle cx="1227.4" cy="1037" r="5"/><circle cx="1234.3" cy="1038.6" r="5"/><circle cx="1593.4" cy="690.7" r="5"/><circle cx="1591.1" cy="684.3" r="5"/><circle cx="1599.4" cy="681.7" r="5"/><circle cx="1585.6" cy="694.6" r="5"/><circle cx="1585.5" cy="688.6" r="5"/><circle cx="1386.1" cy="531.4" r="5"/><circle cx="1385.1" cy="523.4" r="5"/><circle cx="1395.7" cy="524.6" r="5"/><circle cx="552.9" cy="1063" r="5"/><circle cx="557.6" cy="1076" r="5"/><circle cx="544.2" cy="1070.9" r="5"/><circle cx="1242.3" cy="935.7" r="5"/><circle cx="1247.6" cy="929" r="5"/><circle cx="1259.9" cy="928.6" r="5"/><circle cx="1250.7" cy="936.9" r="5"/><circle cx="1249.9" cy="921.6" r="5"/><circle cx="1194.6" cy="668.6" r="5"/><circle cx="1196" cy="676.4" r="5"/><circle cx="1181.3" cy="673.3" r="5"/><circle cx="1186.2" cy="679.7" r="5"/><circle cx="1194.8" cy="664.6" r="5"/><circle cx="1199.9" cy="671.8" r="5"/><circle cx="1190.9" cy="670.9" r="5"/><circle cx="1020.9" cy="833.4" r="5"/><circle cx="1027.8" cy="836.6" r="5"/><circle cx="1035.4" cy="833.5" r="5"/><circle cx="1028.1" cy="830.3" r="5"/><circle cx="1351.8" cy="571" r="5"/><circle cx="1359.5" cy="576.3" r="5"/><circle cx="1340.1" cy="578.8" r="5"/><circle cx="1358.4" cy="564.9" r="5"/><circle cx="1345.5" cy="565.5" r="5"/><circle cx="1344" cy="561.3" r="5"/><circle cx="1348.8" cy="562.7" r="5"/><circle cx="1047.3" cy="710.3" r="5"/><circle cx="1049" cy="700.6" r="5"/><circle cx="1046.5" cy="719.8" r="5"/><circle cx="1059.1" cy="707" r="5"/><circle cx="1335.7" cy="853.4" r="5"/><circle cx="1335.5" cy="858.3" r="5"/><circle cx="1325.9" cy="845.2" r="5"/><circle cx="1330.5" cy="842.9" r="5"/><circle cx="1325.9" cy="854.5" r="5"/><circle cx="1323" cy="842.6" r="5"/><circle cx="894.1" cy="735.3" r="5"/><circle cx="1054.7" cy="789" r="5"/><circle cx="1043.5" cy="793.1" r="5"/><circle cx="1051.5" cy="783.4" r="5"/><circle cx="1339.9" cy="417.2" r="5"/><circle cx="1323.7" cy="409.2" r="5"/><circle cx="1141.8" cy="293" r="5"/><circle cx="1152.3" cy="296.2" r="5"/><circle cx="1151.8" cy="281.1" r="5"/><circle cx="1154.8" cy="291.5" r="5"/><circle cx="1244.1" cy="1029.6" r="5"/><circle cx="1254.4" cy="1031.9" r="5"/><circle cx="1257.7" cy="1020.9" r="5"/><circle cx="1255.4" cy="1024.3" r="5"/><circle cx="1246.6" cy="1038.6" r="5"/><circle cx="1217.4" cy="1107" r="5"/><circle cx="1216.6" cy="1101.3" r="5"/><circle cx="1211.2" cy="1101.5" r="5"/><circle cx="1201.5" cy="1100.3" r="5"/><circle cx="1201.8" cy="1105.2" r="5"/><circle cx="1202.6" cy="1112.1" r="5"/><circle cx="1214.9" cy="1115" r="5"/><circle cx="709.5" cy="950.5" r="5"/><circle cx="1236.4" cy="866.6" r="5"/><circle cx="1227.1" cy="861.6" r="5"/><circle cx="1226.8" cy="867.9" r="5"/><circle cx="1230.9" cy="874.4" r="5"/><circle cx="923.3" cy="479.6" r="5"/><circle cx="425.2" cy="979.5" r="5"/><circle cx="426.3" cy="964.4" r="5"/><circle cx="992.8" cy="668.2" r="5"/><circle cx="995.8" cy="677.6" r="5"/><circle cx="983.6" cy="679.3" r="5"/><circle cx="994.4" cy="673.3" r="5"/><circle cx="989.5" cy="670.9" r="5"/><circle cx="999.5" cy="671.2" r="5"/><circle cx="991.7" cy="674.5" r="5"/><circle cx="985.6" cy="671.1" r="5"/><circle cx="986.9" cy="675.2" r="5"/><circle cx="995.3" cy="660.7" r="5"/><circle cx="998.3" cy="668.8" r="5"/><circle cx="992" cy="679" r="5"/><circle cx="981.3" cy="668.4" r="5"/><circle cx="981.6" cy="675.8" r="5"/><circle cx="998" cy="660.7" r="5"/><circle cx="999.3" cy="679.5" r="5"/><circle cx="980.2" cy="661.2" r="5"/><circle cx="1486.9" cy="931.7" r="5"/><circle cx="1491.9" cy="922.8" r="5"/><circle cx="1490.3" cy="927.7" r="5"/><circle cx="518.2" cy="1033.1" r="5"/><circle cx="510" cy="1037.8" r="5"/><circle cx="701.4" cy="1092.2" r="5"/><circle cx="669.2" cy="862.3" r="5"/><circle cx="1212.4" cy="1166.9" r="5"/><circle cx="1213.8" cy="1174.4" r="5"/><circle cx="1133" cy="788" r="5"/><circle cx="1122.3" cy="788.2" r="5"/><circle cx="1128.2" cy="785.1" r="5"/><circle cx="1135.3" cy="782.3" r="5"/><circle cx="1137.4" cy="788.9" r="5"/><circle cx="941.3" cy="970.5" r="5"/><circle cx="937.4" cy="1035.7" r="5"/><circle cx="924.1" cy="1033.5" r="5"/><circle cx="939.6" cy="1029.5" r="5"/><circle cx="1217.5" cy="798.4" r="5"/><circle cx="1202.8" cy="798" r="5"/><circle cx="1204.5" cy="788.9" r="5"/><circle cx="1212.6" cy="784.7" r="5"/><circle cx="830.7" cy="1029.5" r="5"/><circle cx="1603.8" cy="841.5" r="5"/><circle cx="1602.1" cy="847.1" r="5"/><circle cx="1605.9" cy="845.6" r="5"/><circle cx="1611.2" cy="853.9" r="5"/><circle cx="1615.5" cy="854.6" r="5"/><circle cx="1049.1" cy="982.9" r="5"/><circle cx="1053.7" cy="990.9" r="5"/><circle cx="1071.1" cy="599.3" r="5"/><circle cx="1068.3" cy="592.1" r="5"/><circle cx="1060.5" cy="598.7" r="5"/><circle cx="1302.9" cy="816.9" r="5"/><circle cx="1316.5" cy="813.7" r="5"/><circle cx="1316" cy="807.3" r="5"/><circle cx="1310.2" cy="809.8" r="5"/><circle cx="636" cy="1093" r="5"/><circle cx="467.6" cy="922.9" r="5"/><circle cx="1516.8" cy="995.5" r="5"/><circle cx="1516" cy="988.1" r="5"/><circle cx="1507.7" cy="989.3" r="5"/><circle cx="1502.6" cy="997.2" r="5"/><circle cx="1512.1" cy="990.9" r="5"/><circle cx="1102.7" cy="312.7" r="5"/><circle cx="1110.7" cy="316.6" r="5"/><circle cx="1116.5" cy="521.4" r="5"/><circle cx="1115.4" cy="536.6" r="5"/><circle cx="1111.2" cy="526.4" r="5"/><circle cx="1101.4" cy="525.6" r="5"/><circle cx="1038.6" cy="847.7" r="5"/><circle cx="1173.5" cy="592.8" r="5"/><circle cx="1173.1" cy="584.8" r="5"/><circle cx="1177.7" cy="597.1" r="5"/><circle cx="1415.9" cy="812.3" r="5"/><circle cx="1410" cy="807" r="5"/><circle cx="1412.8" cy="818.5" r="5"/><circle cx="1403.9" cy="808.7" r="5"/><circle cx="1154.5" cy="558.8" r="5"/><circle cx="1149.4" cy="549.4" r="5"/><circle cx="1149.3" cy="557.4" r="5"/><circle cx="1157.7" cy="555.6" r="5"/><circle cx="1154.6" cy="549.7" r="5"/><circle cx="1146.7" cy="545.8" r="5"/><circle cx="1140.2" cy="546.2" r="5"/><circle cx="1153.2" cy="545.5" r="5"/><circle cx="800.1" cy="692.6" r="5"/><circle cx="801.2" cy="682.3" r="5"/><circle cx="1251.5" cy="868.5" r="5"/><circle cx="1247.4" cy="879.1" r="5"/><circle cx="1254.2" cy="876.6" r="5"/><circle cx="1247" cy="864.2" r="5"/><circle cx="1364.4" cy="684.9" r="5"/><circle cx="1365.8" cy="693.1" r="5"/><circle cx="1372.4" cy="686" r="5"/><circle cx="562.9" cy="976.5" r="5"/><circle cx="1122.1" cy="733.9" r="5"/><circle cx="1120.6" cy="724.4" r="5"/><circle cx="1131.7" cy="729.4" r="5"/><circle cx="1166.1" cy="628.8" r="5"/><circle cx="1174.3" cy="635.4" r="5"/><circle cx="1173.4" cy="627.5" r="5"/><circle cx="1177.6" cy="639.3" r="5"/><circle cx="1169.8" cy="626.5" r="5"/><circle cx="1165.6" cy="623.4" r="5"/><circle cx="1165.8" cy="636.7" r="5"/><circle cx="1483.2" cy="764.3" r="5"/><circle cx="1481.3" cy="776.9" r="5"/><circle cx="1487.3" cy="769.2" r="5"/><circle cx="1248.7" cy="693.7" r="5"/><circle cx="1241.8" cy="689.9" r="5"/><circle cx="1308.3" cy="601.9" r="5"/><circle cx="1317.2" cy="612.7" r="5"/><circle cx="1313.7" cy="617.5" r="5"/><circle cx="1302.9" cy="614.7" r="5"/><circle cx="1311.4" cy="607.1" r="5"/><circle cx="1496.6" cy="1056.8" r="5"/><circle cx="1484.5" cy="1055.4" r="5"/><circle cx="1456" cy="610.7" r="5"/><circle cx="1458.1" cy="616" r="5"/><circle cx="1452.8" cy="616.5" r="5"/><circle cx="1447.7" cy="608" r="5"/><circle cx="1443.3" cy="613" r="5"/><circle cx="1446.3" cy="615.6" r="5"/><circle cx="1458.3" cy="606" r="5"/><circle cx="1448.4" cy="601.4" r="5"/><circle cx="703.5" cy="1055.2" r="5"/><circle cx="1412.7" cy="578" r="5"/><circle cx="1408.8" cy="564.2" r="5"/><circle cx="1223" cy="604" r="5"/><circle cx="1228.6" cy="609" r="5"/><circle cx="1501.1" cy="783.3" r="5"/><circle cx="1513.5" cy="793.9" r="5"/><circle cx="1500.7" cy="799.2" r="5"/><circle cx="1465.8" cy="735.6" r="5"/><circle cx="1477.8" cy="731.2" r="5"/><circle cx="1466.6" cy="722.2" r="5"/><circle cx="1472.3" cy="723.7" r="5"/><circle cx="1460.2" cy="739.9" r="5"/><circle cx="851.7" cy="946" r="5"/><circle cx="1440.7" cy="499.9" r="5"/><circle cx="1445" cy="482.9" r="5"/><circle cx="1459.7" cy="493.4" r="5"/><circle cx="1445.4" cy="488.2" r="5"/><circle cx="1442.7" cy="491.8" r="5"/><circle cx="1440" cy="489.3" r="5"/><circle cx="1449.1" cy="480.3" r="5"/><circle cx="1446.1" cy="493.2" r="5"/><circle cx="1449.3" cy="497.3" r="5"/><circle cx="1532.9" cy="627.8" r="5"/><circle cx="1527.1" cy="633" r="5"/><circle cx="1527.6" cy="627.9" r="5"/><circle cx="1525.5" cy="638.7" r="5"/><circle cx="1538.7" cy="635" r="5"/><circle cx="1527.2" cy="620.4" r="5"/><circle cx="1095.8" cy="907.1" r="5"/><circle cx="1081.5" cy="907.1" r="5"/><circle cx="1094.1" cy="915.4" r="5"/><circle cx="1089.2" cy="903" r="5"/><circle cx="1090.8" cy="908.8" r="5"/><circle cx="533.3" cy="938.2" r="5"/><circle cx="1379.4" cy="862.2" r="5"/><circle cx="1376.7" cy="869.8" r="5"/><circle cx="1372.2" cy="873.1" r="5"/><circle cx="1373.3" cy="864" r="5"/><circle cx="1363.4" cy="879.6" r="5"/><circle cx="1363.2" cy="872.5" r="5"/><circle cx="1577.3" cy="750" r="5"/><circle cx="1575.4" cy="743.8" r="5"/><circle cx="1571.9" cy="756.6" r="5"/><circle cx="1133.2" cy="585.7" r="5"/><circle cx="1128.2" cy="589.7" r="5"/><circle cx="1136" cy="591.4" r="5"/><circle cx="1120.3" cy="589.9" r="5"/><circle cx="832.6" cy="549.7" r="5"/><circle cx="827.2" cy="544.1" r="5"/><circle cx="838.6" cy="549.7" r="5"/><circle cx="833.6" cy="557" r="5"/><circle cx="626.7" cy="738.1" r="5"/><circle cx="1348.9" cy="684.6" r="5"/><circle cx="1344.9" cy="691.4" r="5"/><circle cx="1357.9" cy="692.1" r="5"/><circle cx="1098" cy="310.9" r="5"/><circle cx="1099.3" cy="305.2" r="5"/><circle cx="1085.9" cy="300.8" r="5"/><circle cx="1085.1" cy="307.7" r="5"/><circle cx="1099.3" cy="316.4" r="5"/><circle cx="1094.6" cy="302.5" r="5"/><circle cx="1091.2" cy="309.5" r="5"/><circle cx="1193.3" cy="266.9" r="5"/><circle cx="1184.4" cy="274.2" r="5"/><circle cx="1189.5" cy="272.8" r="5"/><circle cx="843.8" cy="880.7" r="5"/><circle cx="840.8" cy="890.1" r="5"/><circle cx="852.3" cy="881.4" r="5"/><circle cx="1211.4" cy="248.5" r="5"/><circle cx="1210.5" cy="257.1" r="5"/><circle cx="1204.5" cy="990.3" r="5"/><circle cx="1215.1" cy="981.3" r="5"/><circle cx="1202.9" cy="985.1" r="5"/><circle cx="1218.4" cy="989.5" r="5"/><circle cx="1206" cy="999.4" r="5"/><circle cx="1338.5" cy="825" r="5"/><circle cx="1340" cy="837.1" r="5"/><circle cx="1331.1" cy="834" r="5"/><circle cx="1321.8" cy="838.3" r="5"/><circle cx="1325.4" cy="826.5" r="5"/><circle cx="1330.2" cy="824.9" r="5"/><circle cx="1521" cy="783.5" r="5"/><circle cx="1531.9" cy="790.5" r="5"/><circle cx="1539.3" cy="792.9" r="5"/><circle cx="1527.5" cy="786" r="5"/><circle cx="913" cy="1005.3" r="5"/><circle cx="859.1" cy="562.8" r="5"/><circle cx="851.4" cy="563.2" r="5"/><circle cx="853.2" cy="577.3" r="5"/><circle cx="849.7" cy="576.2" r="5"/><circle cx="855" cy="565.6" r="5"/><circle cx="857.2" cy="570.3" r="5"/><circle cx="853.9" cy="573.8" r="5"/><circle cx="841.4" cy="578.1" r="5"/><circle cx="1086.5" cy="530.1" r="5"/><circle cx="1091.3" cy="520" r="5"/><circle cx="1099.9" cy="531.7" r="5"/><circle cx="1095.8" cy="526.3" r="5"/><circle cx="1096.7" cy="564.2" r="5"/><circle cx="1093.1" cy="575.5" r="5"/><circle cx="727.8" cy="1043.7" r="5"/><circle cx="1325.4" cy="1164.7" r="5"/><circle cx="1327.9" cy="1178.5" r="5"/><circle cx="1335.8" cy="1178.5" r="5"/><circle cx="1321.5" cy="1178.7" r="5"/><circle cx="1320.2" cy="1169" r="5"/><circle cx="1290.5" cy="554.7" r="5"/><circle cx="1281.6" cy="548.4" r="5"/><circle cx="1297.6" cy="557.3" r="5"/><circle cx="1282.9" cy="557.2" r="5"/><circle cx="1285.8" cy="550.6" r="5"/><circle cx="1287.8" cy="542.4" r="5"/><circle cx="1586.3" cy="751.2" r="5"/><circle cx="1595.3" cy="744.9" r="5"/><circle cx="1581" cy="755.3" r="5"/><circle cx="1277" cy="413" r="5"/><circle cx="1276.3" cy="404" r="5"/><circle cx="662.6" cy="902.6" r="5"/><circle cx="665.3" cy="917.2" r="5"/><circle cx="1090.2" cy="282.3" r="5"/><circle cx="1082.5" cy="283.6" r="5"/><circle cx="634.1" cy="961.5" r="5"/><circle cx="1218.5" cy="970.5" r="5"/><circle cx="1210.2" cy="967.4" r="5"/><circle cx="1210.8" cy="961.5" r="5"/><circle cx="1272.9" cy="560.1" r="5"/><circle cx="1273.6" cy="575.2" r="5"/><circle cx="1274.8" cy="1049.3" r="5"/><circle cx="1263.3" cy="1057.3" r="5"/><circle cx="1271" cy="1056.5" r="5"/><circle cx="1277.6" cy="1056.4" r="5"/><circle cx="1275.4" cy="1043.9" r="5"/><circle cx="1433.1" cy="934.3" r="5"/><circle cx="1435.9" cy="924.9" r="5"/><circle cx="1436.4" cy="930" r="5"/><circle cx="1433.4" cy="939.8" r="5"/><circle cx="1570.9" cy="647.6" r="5"/><circle cx="1567.1" cy="654" r="5"/><circle cx="1563.2" cy="649.3" r="5"/><circle cx="1567.6" cy="643.4" r="5"/><circle cx="1573.3" cy="659" r="5"/><circle cx="1182.2" cy="1056.5" r="5"/><circle cx="1193.9" cy="1046.4" r="5"/><circle cx="1181.6" cy="1051" r="5"/><circle cx="1193.8" cy="1051.9" r="5"/><circle cx="1187.9" cy="1043.1" r="5"/><circle cx="964.8" cy="550" r="5"/><circle cx="967.3" cy="542.2" r="5"/><circle cx="1513.7" cy="758.2" r="5"/><circle cx="1506.3" cy="740.5" r="5"/><circle cx="1501.1" cy="745.5" r="5"/><circle cx="1506.5" cy="750.5" r="5"/><circle cx="1394" cy="1080.5" r="5"/><circle cx="1381" cy="1097.6" r="5"/><circle cx="1396.8" cy="1097.5" r="5"/><circle cx="1387.7" cy="1086.8" r="5"/><circle cx="1449.7" cy="794.5" r="5"/><circle cx="1459.4" cy="784.8" r="5"/><circle cx="1456.4" cy="799.8" r="5"/><circle cx="1454.9" cy="781.2" r="5"/><circle cx="1441.1" cy="785.5" r="5"/><circle cx="1224" cy="726.8" r="5"/><circle cx="1230.2" cy="722.4" r="5"/><circle cx="1238.4" cy="738.8" r="5"/><circle cx="1236.9" cy="730.2" r="5"/><circle cx="523.9" cy="1001.2" r="5"/><circle cx="1441.5" cy="920.6" r="5"/><circle cx="1447.2" cy="925.9" r="5"/><circle cx="1452.6" cy="938.3" r="5"/><circle cx="1447.6" cy="931.6" r="5"/><circle cx="1085.6" cy="820.3" r="5"/><circle cx="1084.6" cy="827.2" r="5"/><circle cx="1084.9" cy="832" r="5"/><circle cx="958.9" cy="626.5" r="5"/><circle cx="948.7" cy="622.9" r="5"/><circle cx="1535.2" cy="610.5" r="5"/><circle cx="1524.1" cy="611.6" r="5"/><circle cx="1535.5" cy="617.1" r="5"/><circle cx="698.2" cy="1033.7" r="5"/><circle cx="1054.9" cy="695.1" r="5"/><circle cx="1049" cy="681.1" r="5"/><circle cx="1074" cy="421.2" r="5"/><circle cx="1497" cy="983.8" r="5"/><circle cx="1493.4" cy="985.3" r="5"/><circle cx="1495.5" cy="989.7" r="5"/><circle cx="1488.9" cy="989.8" r="5"/><circle cx="1488.1" cy="984.7" r="5"/><circle cx="1482.8" cy="987.8" r="5"/><circle cx="1497.3" cy="993.8" r="5"/><circle cx="1484.2" cy="996.2" r="5"/><circle cx="1504.5" cy="706.8" r="5"/><circle cx="1518.1" cy="703.1" r="5"/><circle cx="1514.5" cy="706.7" r="5"/><circle cx="1505.3" cy="701.3" r="5"/><circle cx="1511.7" cy="710.2" r="5"/><circle cx="1508.4" cy="716.1" r="5"/><circle cx="1315.3" cy="859.1" r="5"/><circle cx="1306.4" cy="852" r="5"/><circle cx="1319.9" cy="851.4" r="5"/><circle cx="1314.6" cy="841.3" r="5"/><circle cx="1318.9" cy="845.8" r="5"/><circle cx="1312" cy="850.7" r="5"/><circle cx="1303.4" cy="844.6" r="5"/><circle cx="1142.7" cy="793.3" r="5"/><circle cx="1145.7" cy="796.3" r="5"/><circle cx="1154.1" cy="796.3" r="5"/><circle cx="1157.7" cy="793.3" r="5"/><circle cx="1144.2" cy="781.6" r="5"/><circle cx="1141.1" cy="785.1" r="5"/><circle cx="1143.3" cy="789.2" r="5"/><circle cx="1158.4" cy="786" r="5"/><circle cx="1118.8" cy="267.8" r="5"/><circle cx="1107.2" cy="275.2" r="5"/><circle cx="1111.6" cy="279.3" r="5"/><circle cx="1112" cy="269.5" r="5"/><circle cx="1111" cy="260.5" r="5"/><circle cx="1105" cy="266.1" r="5"/><circle cx="1108.4" cy="687.1" r="5"/><circle cx="1118" cy="685" r="5"/><circle cx="1116.4" cy="691.2" r="5"/><circle cx="1109.7" cy="694.4" r="5"/><circle cx="1466.2" cy="1025.1" r="5"/><circle cx="1466.6" cy="1035.8" r="5"/><circle cx="1462.3" cy="1039" r="5"/><circle cx="1472.6" cy="1035.6" r="5"/><circle cx="1463.9" cy="1030.9" r="5"/><circle cx="1420.1" cy="839" r="5"/><circle cx="1433" cy="836.1" r="5"/><circle cx="1434.4" cy="826.1" r="5"/><circle cx="1428.6" cy="832.5" r="5"/><circle cx="1421.1" cy="821.7" r="5"/><circle cx="1433.6" cy="830.5" r="5"/><circle cx="1425.2" cy="838.5" r="5"/><circle cx="798.1" cy="859.7" r="5"/><circle cx="1147.1" cy="347.5" r="5"/><circle cx="1159" cy="341.5" r="5"/><circle cx="1155" cy="356.1" r="5"/><circle cx="1148.4" cy="355.3" r="5"/><circle cx="576.1" cy="1106.5" r="5"/><circle cx="576.4" cy="1101.6" r="5"/><circle cx="569.8" cy="1108" r="5"/><circle cx="1079.4" cy="1086.5" r="5"/><circle cx="1060.1" cy="1093.4" r="5"/><circle cx="1075.6" cy="1097.3" r="5"/><circle cx="1092.1" cy="972.2" r="5"/><circle cx="1083.7" cy="976.9" r="5"/><circle cx="1245.2" cy="445.6" r="5"/><circle cx="1241.4" cy="440.7" r="5"/><circle cx="1241.9" cy="454.8" r="5"/><circle cx="1252.4" cy="454.8" r="5"/><circle cx="1252.7" cy="459.8" r="5"/><circle cx="1248.9" cy="457" r="5"/><circle cx="1256.7" cy="449.1" r="5"/><circle cx="710" cy="762.2" r="5"/><circle cx="1118.7" cy="473.7" r="5"/><circle cx="1110.5" cy="475.5" r="5"/><circle cx="1471.3" cy="621.1" r="5"/><circle cx="1472.7" cy="638.8" r="5"/><circle cx="1479" cy="637.5" r="5"/><circle cx="1470.6" cy="631.9" r="5"/><circle cx="1463.7" cy="636.7" r="5"/><circle cx="1479.9" cy="625.2" r="5"/><circle cx="1028.4" cy="755.6" r="5"/><circle cx="1030.2" cy="740.6" r="5"/><circle cx="1020.2" cy="752" r="5"/><circle cx="1023.7" cy="752.5" r="5"/><circle cx="1035.9" cy="757" r="5"/><circle cx="1023.4" cy="747.1" r="5"/><circle cx="855.3" cy="721.9" r="5"/><circle cx="1262.9" cy="348.8" r="5"/><circle cx="1153.3" cy="805.6" r="5"/><circle cx="1155.2" cy="810.8" r="5"/><circle cx="1147.7" cy="801.3" r="5"/><circle cx="1156.5" cy="803.6" r="5"/><circle cx="1147.8" cy="811.4" r="5"/><circle cx="1146.3" cy="815.6" r="5"/><circle cx="1158.6" cy="813.2" r="5"/><circle cx="1141.9" cy="804" r="5"/><circle cx="1491.1" cy="811.7" r="5"/><circle cx="1483.1" cy="801.2" r="5"/><circle cx="1487.6" cy="805.9" r="5"/><circle cx="1251.2" cy="1175.5" r="5"/><circle cx="1243.9" cy="1163.1" r="5"/><circle cx="1241.4" cy="1167.3" r="5"/><circle cx="1258.5" cy="1166.4" r="5"/><circle cx="1255.8" cy="1175.6" r="5"/><circle cx="1264.5" cy="381.9" r="5"/><circle cx="1098.6" cy="361.8" r="5"/><circle cx="1081.6" cy="366.9" r="5"/><circle cx="1091.7" cy="366.8" r="5"/><circle cx="1089" cy="372.9" r="5"/><circle cx="1191.9" cy="1002.2" r="5"/><circle cx="1182.6" cy="1002.7" r="5"/><circle cx="1184.3" cy="1014.2" r="5"/><circle cx="1195.3" cy="1009.4" r="5"/><circle cx="834.1" cy="892.4" r="5"/><circle cx="821.5" cy="892" r="5"/><circle cx="821.1" cy="886" r="5"/><circle cx="1150.9" cy="743.3" r="5"/><circle cx="1146.2" cy="742.6" r="5"/><circle cx="1140.8" cy="749.7" r="5"/><circle cx="1149.7" cy="759.3" r="5"/><circle cx="1246.5" cy="955.8" r="5"/><circle cx="1240.4" cy="947.2" r="5"/><circle cx="1255.3" cy="953.2" r="5"/><circle cx="1259.7" cy="943" r="5"/><circle cx="1575" cy="576.6" r="5"/><circle cx="1565.8" cy="576.7" r="5"/><circle cx="1571.7" cy="574.8" r="5"/><circle cx="1574.3" cy="567.5" r="5"/><circle cx="1567" cy="563.2" r="5"/><circle cx="1577" cy="561.5" r="5"/><circle cx="1345.5" cy="734.7" r="5"/><circle cx="1341.9" cy="722.8" r="5"/><circle cx="1349.9" cy="722.9" r="5"/><circle cx="1340.8" cy="738.4" r="5"/><circle cx="1355.9" cy="727.7" r="5"/><circle cx="794.6" cy="881.9" r="5"/><circle cx="1148.6" cy="240.7" r="5"/><circle cx="1157.3" cy="246.9" r="5"/><circle cx="1022" cy="477.2" r="5"/><circle cx="1034.5" cy="469.4" r="5"/><circle cx="1039.4" cy="475.8" r="5"/><circle cx="1027" cy="467.2" r="5"/><circle cx="1207.9" cy="1094.9" r="5"/><circle cx="1205.3" cy="1084.5" r="5"/><circle cx="1184" cy="836.5" r="5"/><circle cx="1190.8" cy="835.9" r="5"/><circle cx="1196.4" cy="827.6" r="5"/><circle cx="1187.8" cy="823.4" r="5"/><circle cx="1180.8" cy="831.1" r="5"/><circle cx="975.8" cy="469.6" r="5"/><circle cx="972.9" cy="476" r="5"/><circle cx="962.5" cy="474.9" r="5"/><circle cx="1270.8" cy="636.9" r="5"/><circle cx="1273.9" cy="620.4" r="5"/><circle cx="1339.9" cy="663" r="5"/><circle cx="1336.6" cy="679.8" r="5"/><circle cx="1329.2" cy="678.1" r="5"/><circle cx="1329.8" cy="666.3" r="5"/><circle cx="1323.3" cy="669.5" r="5"/><circle cx="1052.1" cy="642.3" r="5"/><circle cx="886.9" cy="760" r="5"/><circle cx="1069.8" cy="986.5" r="5"/><circle cx="1077.8" cy="989" r="5"/><circle cx="1504.9" cy="626.2" r="5"/><circle cx="1518.2" cy="628.2" r="5"/><circle cx="1501.8" cy="629.9" r="5"/><circle cx="1507.6" cy="620" r="5"/><circle cx="1516.2" cy="621.7" r="5"/><circle cx="1509.9" cy="633.5" r="5"/><circle cx="1357.2" cy="1107.2" r="5"/><circle cx="1345" cy="1117.4" r="5"/><circle cx="1345.2" cy="1107.9" r="5"/><circle cx="1359.6" cy="1113.6" r="5"/><circle cx="1353.5" cy="1103.7" r="5"/><circle cx="1352.6" cy="1116.5" r="5"/><circle cx="739.3" cy="1081.4" r="5"/><circle cx="1301.3" cy="979.5" r="5"/><circle cx="1300.7" cy="970.7" r="5"/><circle cx="1307.5" cy="967.3" r="5"/><circle cx="1313.8" cy="970.5" r="5"/><circle cx="1002" cy="737.4" r="5"/><circle cx="1013.6" cy="730.7" r="5"/><circle cx="1004" cy="725.2" r="5"/><circle cx="1461.8" cy="822.7" r="5"/><circle cx="1471.5" cy="824.1" r="5"/><circle cx="1472.3" cy="837.7" r="5"/><circle cx="960.7" cy="1042.7" r="5"/><circle cx="1172.7" cy="781.3" r="5"/><circle cx="1175.1" cy="791.6" r="5"/><circle cx="1168.8" cy="785.4" r="5"/><circle cx="1170.9" cy="791.8" r="5"/><circle cx="1161.7" cy="790" r="5"/><circle cx="1167.4" cy="780.5" r="5"/><circle cx="1173.8" cy="799.3" r="5"/><circle cx="1321.7" cy="379.9" r="5"/><circle cx="1337.9" cy="379.1" r="5"/><circle cx="1326.5" cy="370.8" r="5"/><circle cx="1327.5" cy="377.4" r="5"/><circle cx="1088.8" cy="941.4" r="5"/><circle cx="1085.3" cy="955.1" r="5"/><circle cx="1094.2" cy="944.3" r="5"/><circle cx="1097" cy="951.5" r="5"/><circle cx="488.8" cy="971.2" r="5"/><circle cx="486.8" cy="965.9" r="5"/><circle cx="1344.2" cy="839.7" r="5"/><circle cx="1344" cy="821.3" r="5"/><circle cx="1357.8" cy="828.1" r="5"/><circle cx="1344.3" cy="834.2" r="5"/><circle cx="1341.3" cy="827.9" r="5"/><circle cx="1349.9" cy="825.1" r="5"/><circle cx="1344.9" cy="828" r="5"/><circle cx="1351.1" cy="838.8" r="5"/><circle cx="1051.1" cy="1092.1" r="5"/><circle cx="1523.8" cy="542.4" r="5"/><circle cx="1532.8" cy="545.7" r="5"/><circle cx="1534.4" cy="557.1" r="5"/><circle cx="1531.4" cy="542.4" r="5"/><circle cx="1520.8" cy="549.5" r="5"/><circle cx="1522.2" cy="553.8" r="5"/><circle cx="1483.9" cy="509.1" r="5"/><circle cx="1492.1" cy="512.8" r="5"/><circle cx="1488.1" cy="501.3" r="5"/><circle cx="1491.9" cy="519.3" r="5"/><circle cx="1484.5" cy="503.2" r="5"/><circle cx="1491.5" cy="503.4" r="5"/><circle cx="1499" cy="515.5" r="5"/><circle cx="1128.7" cy="701.5" r="5"/><circle cx="1127" cy="710.6" r="5"/><circle cx="1125.5" cy="718.9" r="5"/><circle cx="1133.7" cy="715.9" r="5"/><circle cx="1385.1" cy="898.8" r="5"/><circle cx="1392" cy="896.7" r="5"/><circle cx="1386.1" cy="881" r="5"/><circle cx="1380.7" cy="898.9" r="5"/><circle cx="1399.6" cy="893.7" r="5"/><circle cx="1388.2" cy="884.6" r="5"/><circle cx="1381.9" cy="884.6" r="5"/><circle cx="1316.4" cy="990.3" r="5"/><circle cx="1317.7" cy="981.1" r="5"/><circle cx="1313.3" cy="986.5" r="5"/><circle cx="1302.5" cy="995" r="5"/><circle cx="1307" cy="996" r="5"/><circle cx="1542.8" cy="881.5" r="5"/><circle cx="1544.7" cy="899" r="5"/><circle cx="1553.8" cy="887.8" r="5"/><circle cx="1646.2" cy="894.7" r="5"/><circle cx="1640.4" cy="887.3" r="5"/><circle cx="1646.9" cy="880.1" r="5"/><circle cx="1655.5" cy="890.5" r="5"/><circle cx="909.5" cy="697.3" r="5"/><circle cx="907.8" cy="681.2" r="5"/><circle cx="509" cy="1047.9" r="5"/><circle cx="1119.6" cy="780.9" r="5"/><circle cx="1112.8" cy="798.2" r="5"/><circle cx="1115.3" cy="789" r="5"/><circle cx="1117.8" cy="797.8" r="5"/><circle cx="1103.7" cy="791.5" r="5"/><circle cx="1114" cy="551.5" r="5"/><circle cx="1101.3" cy="559.4" r="5"/><circle cx="1114.1" cy="558.1" r="5"/><circle cx="1102.4" cy="543.9" r="5"/><circle cx="1117.6" cy="541.2" r="5"/><circle cx="1112.2" cy="547.1" r="5"/><circle cx="987.2" cy="892.5" r="5"/><circle cx="1300.6" cy="827.7" r="5"/><circle cx="1315.2" cy="824.5" r="5"/><circle cx="1313.1" cy="835.5" r="5"/><circle cx="1300.1" cy="834.8" r="5"/><circle cx="1197.6" cy="1083.5" r="5"/><circle cx="1186.2" cy="1090.1" r="5"/><circle cx="1190.6" cy="1096.5" r="5"/><circle cx="1483.2" cy="545.3" r="5"/><circle cx="1486.5" cy="541" r="5"/><circle cx="1496.1" cy="543.5" r="5"/><circle cx="1490.1" cy="543.9" r="5"/><circle cx="1496.1" cy="559.1" r="5"/><circle cx="508.5" cy="932.1" r="5"/><circle cx="507.9" cy="922.1" r="5"/><circle cx="515.9" cy="923.8" r="5"/><circle cx="1461.3" cy="880.9" r="5"/><circle cx="1468.5" cy="882" r="5"/><circle cx="592.7" cy="880.4" r="5"/><circle cx="1305.1" cy="420.4" r="5"/><circle cx="1313.2" cy="421.2" r="5"/><circle cx="1313" cy="429.3" r="5"/><circle cx="1301.4" cy="439.3" r="5"/><circle cx="838.2" cy="1012" r="5"/><circle cx="823.4" cy="1012.1" r="5"/><circle cx="1207.6" cy="623.6" r="5"/><circle cx="1210" cy="630.6" r="5"/><circle cx="1215.3" cy="636.8" r="5"/><circle cx="1120.4" cy="412.7" r="5"/><circle cx="1135.7" cy="401.2" r="5"/><circle cx="1130.2" cy="409.5" r="5"/><circle cx="1127.5" cy="401.2" r="5"/><circle cx="1205.8" cy="948.6" r="5"/><circle cx="1211.4" cy="945.5" r="5"/><circle cx="1202.7" cy="958.4" r="5"/><circle cx="1211.5" cy="954.7" r="5"/><circle cx="908.5" cy="565.9" r="5"/><circle cx="912.1" cy="572.3" r="5"/><circle cx="1324" cy="861.2" r="5"/><circle cx="1328.5" cy="878.3" r="5"/><circle cx="1321.5" cy="868.8" r="5"/><circle cx="1332.1" cy="863.1" r="5"/><circle cx="1323" cy="874.6" r="5"/><circle cx="1321.5" cy="864.2" r="5"/><circle cx="1327.5" cy="874.8" r="5"/><circle cx="1337.8" cy="869" r="5"/><circle cx="993.5" cy="940.4" r="5"/><circle cx="1030.6" cy="694.8" r="5"/><circle cx="1037.8" cy="699.6" r="5"/><circle cx="1031.4" cy="686" r="5"/><circle cx="1033.4" cy="680.1" r="5"/><circle cx="1182" cy="697.4" r="5"/><circle cx="1198.8" cy="684.1" r="5"/><circle cx="1183.8" cy="689.6" r="5"/><circle cx="1198.7" cy="696.9" r="5"/><circle cx="1189.7" cy="699" r="5"/><circle cx="1199.5" cy="690.8" r="5"/><circle cx="915.9" cy="629.4" r="5"/><circle cx="900.7" cy="626.1" r="5"/><circle cx="906.4" cy="632.4" r="5"/><circle cx="907.2" cy="627" r="5"/><circle cx="919.1" cy="635" r="5"/><circle cx="901.8" cy="621.9" r="5"/><circle cx="1374.9" cy="706.7" r="5"/><circle cx="1373.1" cy="713.9" r="5"/><circle cx="1374.4" cy="710.5" r="5"/><circle cx="1366.3" cy="712.8" r="5"/><circle cx="1378.7" cy="708" r="5"/><circle cx="1362.1" cy="706.8" r="5"/><circle cx="1369.6" cy="700.3" r="5"/><circle cx="660.7" cy="1076.8" r="5"/><circle cx="678.8" cy="1075.2" r="5"/><circle cx="934" cy="541.6" r="5"/><circle cx="1337.5" cy="542.5" r="5"/><circle cx="1326.9" cy="554.7" r="5"/><circle cx="1338.4" cy="557.5" r="5"/><circle cx="1325" cy="543.5" r="5"/><circle cx="1141.4" cy="527.1" r="5"/><circle cx="1146.1" cy="534.4" r="5"/><circle cx="1153.7" cy="531.8" r="5"/><circle cx="1154.3" cy="527.9" r="5"/><circle cx="1146.7" cy="539.3" r="5"/><circle cx="1152" cy="524" r="5"/><circle cx="1149.9" cy="537.2" r="5"/><circle cx="1002.5" cy="926.6" r="5"/><circle cx="1018.7" cy="921.9" r="5"/><circle cx="1152" cy="653.9" r="5"/><circle cx="1159.3" cy="647.6" r="5"/><circle cx="1152.7" cy="659.3" r="5"/><circle cx="1142.2" cy="657.3" r="5"/><circle cx="1149.8" cy="640.2" r="5"/><circle cx="1158.5" cy="655.6" r="5"/><circle cx="1453.2" cy="562.5" r="5"/><circle cx="1448.4" cy="566" r="5"/><circle cx="1454.2" cy="566.7" r="5"/><circle cx="1444.5" cy="566.2" r="5"/><circle cx="1450.8" cy="576.9" r="5"/><circle cx="1450" cy="569.6" r="5"/><circle cx="1455" cy="578" r="5"/><circle cx="1255.5" cy="600.6" r="5"/><circle cx="1243.7" cy="607.9" r="5"/><circle cx="1023.4" cy="870.6" r="5"/><circle cx="1038.1" cy="868.7" r="5"/><circle cx="1025.1" cy="864.1" r="5"/><circle cx="1032.9" cy="860.9" r="5"/><circle cx="1450.6" cy="667.8" r="5"/><circle cx="1444.4" cy="668" r="5"/><circle cx="1444.5" cy="675.7" r="5"/><circle cx="777.8" cy="722.8" r="5"/><circle cx="1499.1" cy="1074.2" r="5"/><circle cx="832.8" cy="772.2" r="5"/><circle cx="828.3" cy="761.5" r="5"/><circle cx="835.7" cy="778" r="5"/><circle cx="970.7" cy="525.8" r="5"/><circle cx="978.4" cy="525.1" r="5"/><circle cx="870.2" cy="1029.8" r="5"/><circle cx="867.6" cy="1023.5" r="5"/><circle cx="1259.8" cy="375.3" r="5"/><circle cx="1252.1" cy="369.2" r="5"/><circle cx="1247.7" cy="375.5" r="5"/><circle cx="1245.5" cy="367.6" r="5"/><circle cx="654.8" cy="1058.2" r="5"/><circle cx="646.8" cy="995.5" r="5"/><circle cx="1155.7" cy="637.6" r="5"/><circle cx="1140.6" cy="639.3" r="5"/><circle cx="1154.9" cy="622.6" r="5"/><circle cx="1151" cy="625.8" r="5"/><circle cx="819.9" cy="840.9" r="5"/><circle cx="1511.3" cy="682.2" r="5"/><circle cx="1501" cy="694.3" r="5"/><circle cx="1505.9" cy="696.3" r="5"/><circle cx="1514.3" cy="688" r="5"/><circle cx="1519.2" cy="687.4" r="5"/><circle cx="1506.9" cy="687.8" r="5"/><circle cx="1258.2" cy="636.9" r="5"/><circle cx="1245.6" cy="632.6" r="5"/><circle cx="1252.2" cy="636.1" r="5"/><circle cx="1246.6" cy="639.8" r="5"/><circle cx="1241.3" cy="622.9" r="5"/><circle cx="1256.9" cy="629.3" r="5"/><circle cx="1464.9" cy="875.9" r="5"/><circle cx="1473.3" cy="863.1" r="5"/><circle cx="1472.2" cy="870.3" r="5"/><circle cx="1124.8" cy="474.6" r="5"/><circle cx="1138.9" cy="471.6" r="5"/><circle cx="1138.5" cy="465.1" r="5"/><circle cx="1599.1" cy="1000.1" r="5"/><circle cx="1427.5" cy="624.3" r="5"/><circle cx="1432.2" cy="636.1" r="5"/><circle cx="1428.8" cy="632" r="5"/><circle cx="1431.4" cy="621.2" r="5"/><circle cx="1434.5" cy="628.7" r="5"/><circle cx="985.9" cy="414.5" r="5"/><circle cx="1037.9" cy="795.4" r="5"/><circle cx="1025.6" cy="786.9" r="5"/><circle cx="1033.3" cy="786.2" r="5"/><circle cx="1022.1" cy="795.6" r="5"/><circle cx="1377.6" cy="600.6" r="5"/><circle cx="1379.3" cy="609.2" r="5"/><circle cx="1364.3" cy="610.9" r="5"/><circle cx="563.4" cy="909.6" r="5"/><circle cx="572.9" cy="915.6" r="5"/><circle cx="1515.5" cy="900.3" r="5"/><circle cx="1502.5" cy="903.7" r="5"/><circle cx="1519.9" cy="917.1" r="5"/><circle cx="1514.2" cy="916" r="5"/><circle cx="1509.2" cy="910" r="5"/><circle cx="1502.9" cy="909.9" r="5"/><circle cx="1298.3" cy="531.6" r="5"/><circle cx="1280.8" cy="539.1" r="5"/><circle cx="1284" cy="535.1" r="5"/><circle cx="1292.1" cy="533.9" r="5"/><circle cx="1286" cy="525.5" r="5"/><circle cx="745.9" cy="710" r="5"/><circle cx="1227.6" cy="1055.2" r="5"/><circle cx="1221.7" cy="1043.1" r="5"/><circle cx="1233.8" cy="1049.2" r="5"/><circle cx="1134.7" cy="344.1" r="5"/><circle cx="1642.9" cy="865.3" r="5"/><circle cx="1563.4" cy="516.3" r="5"/><circle cx="1607.7" cy="874.4" r="5"/><circle cx="1618.7" cy="879.7" r="5"/><circle cx="1608.2" cy="867.8" r="5"/><circle cx="1601.5" cy="862" r="5"/><circle cx="878.7" cy="968.8" r="5"/><circle cx="870.6" cy="975.7" r="5"/><circle cx="862.7" cy="969" r="5"/><circle cx="886.5" cy="937.7" r="5"/><circle cx="1363.9" cy="1121.6" r="5"/><circle cx="1364.2" cy="1129.8" r="5"/><circle cx="1377.8" cy="1136.8" r="5"/><circle cx="1378.5" cy="1125.3" r="5"/><circle cx="1369.6" cy="1126.7" r="5"/><circle cx="1383.8" cy="653.2" r="5"/><circle cx="1387.2" cy="645.4" r="5"/><circle cx="1394.8" cy="647.7" r="5"/><circle cx="1410.6" cy="761.6" r="5"/><circle cx="1401.3" cy="777.5" r="5"/><circle cx="1414.3" cy="764.9" r="5"/><circle cx="1404.6" cy="764.7" r="5"/><circle cx="1410.2" cy="766.7" r="5"/><circle cx="1400" cy="769.3" r="5"/><circle cx="1408" cy="772.5" r="5"/><circle cx="1146.8" cy="383.6" r="5"/><circle cx="1148.9" cy="395.4" r="5"/><circle cx="1329.6" cy="986.1" r="5"/><circle cx="1336.3" cy="998.4" r="5"/><circle cx="1330.1" cy="994.7" r="5"/><circle cx="1336.1" cy="990" r="5"/><circle cx="1321.5" cy="987" r="5"/><circle cx="1339.1" cy="982.3" r="5"/><circle cx="1245.1" cy="888.2" r="5"/><circle cx="1245.5" cy="896.8" r="5"/><circle cx="1252.4" cy="894.6" r="5"/><circle cx="1240.1" cy="899" r="5"/><circle cx="1419.4" cy="1124.8" r="5"/><circle cx="1407.5" cy="1137.2" r="5"/><circle cx="1416.4" cy="1138.9" r="5"/><circle cx="1401.4" cy="1135.3" r="5"/><circle cx="1413.1" cy="1133.1" r="5"/><circle cx="1411.3" cy="1126" r="5"/><circle cx="1053.8" cy="347.9" r="5"/><circle cx="1059.7" cy="353.9" r="5"/><circle cx="1044" cy="345" r="5"/><circle cx="1047.8" cy="350" r="5"/><circle cx="1144.6" cy="967.8" r="5"/><circle cx="1159.6" cy="964" r="5"/><circle cx="1150.4" cy="960.9" r="5"/><circle cx="1156.6" cy="970.8" r="5"/><circle cx="1150" cy="973.7" r="5"/><circle cx="1155.3" cy="966.6" r="5"/><circle cx="1141.4" cy="960.6" r="5"/><circle cx="855.9" cy="795.2" r="5"/><circle cx="847.2" cy="785.7" r="5"/><circle cx="1603.8" cy="995.1" r="5"/><circle cx="1608.9" cy="986.9" r="5"/><circle cx="1617.4" cy="991.4" r="5"/><circle cx="1609.6" cy="981.8" r="5"/><circle cx="445.4" cy="965.4" r="5"/><circle cx="574.3" cy="870.4" r="5"/><circle cx="1447.1" cy="964.1" r="5"/><circle cx="1459.7" cy="962.6" r="5"/><circle cx="1449.4" cy="969.5" r="5"/><circle cx="1443.9" cy="976.5" r="5"/><circle cx="1121.5" cy="605.3" r="5"/><circle cx="1131.4" cy="609.6" r="5"/><circle cx="1127.9" cy="619.7" r="5"/><circle cx="1667.5" cy="975.9" r="5"/><circle cx="1668.1" cy="968.9" r="5"/><circle cx="1679.4" cy="970.2" r="5"/><circle cx="1666" cy="961.5" r="5"/><circle cx="813.5" cy="1019" r="5"/><circle cx="800.9" cy="1009.3" r="5"/><circle cx="1153.7" cy="1048.7" r="5"/><circle cx="1148.9" cy="1042.5" r="5"/><circle cx="1149.2" cy="1050.2" r="5"/><circle cx="1143.5" cy="1054.7" r="5"/><circle cx="1145" cy="1049.7" r="5"/><circle cx="1141.1" cy="1048.2" r="5"/><circle cx="1158.9" cy="1052.8" r="5"/><circle cx="1246.6" cy="995.7" r="5"/><circle cx="1253.9" cy="992.4" r="5"/><circle cx="532.2" cy="1031.8" r="5"/><circle cx="1394" cy="758.1" r="5"/><circle cx="1400" cy="749.7" r="5"/><circle cx="1396.1" cy="752.3" r="5"/><circle cx="1392.3" cy="742.7" r="5"/><circle cx="1381.5" cy="749.7" r="5"/><circle cx="1386.6" cy="753.6" r="5"/><circle cx="1095.4" cy="1110.5" r="5"/><circle cx="682.7" cy="818.7" r="5"/><circle cx="1468.8" cy="808.7" r="5"/><circle cx="1461.3" cy="813.3" r="5"/><circle cx="630.6" cy="1042.8" r="5"/><circle cx="1113.1" cy="1018" r="5"/><circle cx="1110.2" cy="1004.9" r="5"/><circle cx="1116.5" cy="1006.1" r="5"/><circle cx="1107.7" cy="1014.3" r="5"/><circle cx="1574.2" cy="630.4" r="5"/><circle cx="1572.8" cy="621.3" r="5"/><circle cx="1564.3" cy="627.2" r="5"/><circle cx="794.6" cy="900.7" r="5"/><circle cx="694.7" cy="1122" r="5"/><circle cx="686.4" cy="1136.7" r="5"/><circle cx="681.9" cy="1129.5" r="5"/><circle cx="690" cy="1127.4" r="5"/><circle cx="698.4" cy="1132.4" r="5"/><circle cx="1317.3" cy="1066.4" r="5"/><circle cx="1305.8" cy="1074.4" r="5"/><circle cx="1300.9" cy="1068.8" r="5"/><circle cx="1313.1" cy="1067.9" r="5"/><circle cx="1301.4" cy="1077.7" r="5"/><circle cx="1309" cy="1064.4" r="5"/><circle cx="1304.1" cy="1071.2" r="5"/><circle cx="1315.8" cy="1072.1" r="5"/><circle cx="1619.5" cy="974.3" r="5"/><circle cx="1600.3" cy="962.6" r="5"/><circle cx="1609" cy="972.8" r="5"/><circle cx="1612.9" cy="977.7" r="5"/><circle cx="1614.9" cy="970.9" r="5"/><circle cx="1603.3" cy="968.2" r="5"/><circle cx="1593.6" cy="952.5" r="5"/><circle cx="1582.3" cy="958.5" r="5"/><circle cx="885.8" cy="581.4" r="5"/><circle cx="894.1" cy="587.3" r="5"/><circle cx="895.5" cy="580.7" r="5"/><circle cx="885.9" cy="598.1" r="5"/><circle cx="900" cy="585" r="5"/><circle cx="607.6" cy="744.6" r="5"/><circle cx="1030.7" cy="1112.1" r="5"/><circle cx="1313.4" cy="625" r="5"/><circle cx="1313.4" cy="634.9" r="5"/><circle cx="1315.7" cy="629.9" r="5"/><circle cx="1308.1" cy="622.9" r="5"/><circle cx="1306.1" cy="635.7" r="5"/><circle cx="1300" cy="1136.6" r="5"/><circle cx="1282.8" cy="1124.5" r="5"/><circle cx="1295.4" cy="1121.3" r="5"/><circle cx="1299.7" cy="1123" r="5"/><circle cx="1291.3" cy="1131" r="5"/><circle cx="982.6" cy="601.7" r="5"/><circle cx="997.4" cy="604.2" r="5"/><circle cx="987.8" cy="603.7" r="5"/><circle cx="982" cy="617.8" r="5"/><circle cx="989.5" cy="612.4" r="5"/><circle cx="1303.1" cy="693.3" r="5"/><circle cx="1314.7" cy="691.4" r="5"/><circle cx="688.3" cy="861.9" r="5"/><circle cx="1305.9" cy="363.6" r="5"/><circle cx="1314" cy="396.4" r="5"/><circle cx="1314" cy="380.4" r="5"/><circle cx="1435.7" cy="1060.4" r="5"/><circle cx="1428.1" cy="1066" r="5"/><circle cx="1421.6" cy="1077.5" r="5"/><circle cx="1436.1" cy="1070.9" r="5"/><circle cx="1391.6" cy="985.1" r="5"/><circle cx="1388.3" cy="997.2" r="5"/><circle cx="1393.7" cy="997" r="5"/><circle cx="1388.5" cy="980.4" r="5"/><circle cx="1380.2" cy="988" r="5"/><circle cx="1123.4" cy="905.8" r="5"/><circle cx="1133.8" cy="910.6" r="5"/><circle cx="1137" cy="903.5" r="5"/><circle cx="1133.1" cy="900" r="5"/><circle cx="920" cy="484.2" r="5"/><circle cx="937" cy="489.5" r="5"/><circle cx="930.3" cy="498.2" r="5"/><circle cx="930.1" cy="481.7" r="5"/><circle cx="920.2" cy="491.8" r="5"/><circle cx="1525" cy="566.8" r="5"/><circle cx="1538.7" cy="562.4" r="5"/><circle cx="1532.4" cy="570.1" r="5"/><circle cx="1529" cy="568.7" r="5"/><circle cx="1520.3" cy="571.8" r="5"/><circle cx="1535" cy="572.7" r="5"/><circle cx="1531.6" cy="561.2" r="5"/><circle cx="1526" cy="576.7" r="5"/><circle cx="1152.7" cy="1064.3" r="5"/><circle cx="1146.7" cy="1064.9" r="5"/><circle cx="1141.9" cy="1071.9" r="5"/><circle cx="1147.1" cy="1076.4" r="5"/><circle cx="1336.7" cy="618.8" r="5"/><circle cx="1325.1" cy="600.7" r="5"/><circle cx="1332.1" cy="603.9" r="5"/><circle cx="1097.4" cy="384" r="5"/><circle cx="1090.2" cy="388.9" r="5"/><circle cx="1237.5" cy="797.7" r="5"/><circle cx="1224.3" cy="795.1" r="5"/><circle cx="1229.7" cy="784.2" r="5"/><circle cx="1236.4" cy="780.9" r="5"/><circle cx="1237.8" cy="788.5" r="5"/><circle cx="1139.9" cy="370.7" r="5"/><circle cx="1125.1" cy="370.6" r="5"/><circle cx="1132.2" cy="365.9" r="5"/><circle cx="1123.5" cy="364.4" r="5"/><circle cx="1397.3" cy="939" r="5"/><circle cx="1386.3" cy="921.7" r="5"/><circle cx="1395.9" cy="921" r="5"/><circle cx="1162.3" cy="509.6" r="5"/><circle cx="1171.2" cy="511.9" r="5"/><circle cx="1178.4" cy="513.2" r="5"/><circle cx="1176.3" cy="506.8" r="5"/><circle cx="1170.9" cy="517.7" r="5"/><circle cx="1169.8" cy="505.7" r="5"/><circle cx="1177.3" cy="500.5" r="5"/><circle cx="1459.1" cy="887" r="5"/><circle cx="1450.3" cy="897.6" r="5"/><circle cx="1441.9" cy="888.8" r="5"/><circle cx="1449.2" cy="881.7" r="5"/><circle cx="1366.8" cy="973.6" r="5"/><circle cx="1362.3" cy="966.9" r="5"/><circle cx="1370.8" cy="977.7" r="5"/><circle cx="1360.2" cy="961.6" r="5"/><circle cx="1370.2" cy="967" r="5"/><circle cx="1366.1" cy="960.5" r="5"/><circle cx="1407.8" cy="421.5" r="5"/><circle cx="1405.7" cy="434.7" r="5"/><circle cx="1414.5" cy="432.4" r="5"/><circle cx="1498.7" cy="898.8" r="5"/><circle cx="1490.9" cy="891.8" r="5"/><circle cx="1484.8" cy="887.9" r="5"/><circle cx="1356.1" cy="849.4" r="5"/><circle cx="1351.2" cy="859" r="5"/><circle cx="1358.9" cy="844.9" r="5"/><circle cx="1345.5" cy="859.6" r="5"/><circle cx="1351" cy="845.6" r="5"/><circle cx="1350.6" cy="854.7" r="5"/><circle cx="916.4" cy="964.2" r="5"/><circle cx="987.1" cy="757.1" r="5"/><circle cx="991.7" cy="748.3" r="5"/><circle cx="1139.9" cy="983.1" r="5"/><circle cx="1123.4" cy="983.2" r="5"/><circle cx="1130.9" cy="992.6" r="5"/><circle cx="1135.3" cy="994.4" r="5"/><circle cx="1124.5" cy="988.7" r="5"/><circle cx="1125.6" cy="994.1" r="5"/><circle cx="912.5" cy="834.6" r="5"/><circle cx="916.8" cy="823.5" r="5"/><circle cx="1373.9" cy="1111.6" r="5"/><circle cx="1367.3" cy="1116.4" r="5"/><circle cx="1364.4" cy="1108.8" r="5"/><circle cx="601.6" cy="1093.3" r="5"/><circle cx="618.4" cy="1083.1" r="5"/><circle cx="1594.4" cy="667.9" r="5"/><circle cx="1580.7" cy="667.2" r="5"/><circle cx="1590.7" cy="678.1" r="5"/><circle cx="1599.2" cy="675.2" r="5"/><circle cx="1582.7" cy="679.9" r="5"/><circle cx="1589.6" cy="673" r="5"/><circle cx="1299.5" cy="1045.3" r="5"/><circle cx="1282.8" cy="1045.7" r="5"/><circle cx="1294.2" cy="1046.7" r="5"/><circle cx="1291.3" cy="1042.1" r="5"/><circle cx="1284.3" cy="1056.2" r="5"/><circle cx="1285.4" cy="1050.7" r="5"/><circle cx="1281.3" cy="1058.8" r="5"/><circle cx="1290.5" cy="1059.6" r="5"/><circle cx="976.5" cy="867.2" r="5"/><circle cx="660.6" cy="941.7" r="5"/><circle cx="1348.5" cy="742.7" r="5"/><circle cx="1342" cy="751.2" r="5"/><circle cx="1352.6" cy="751.9" r="5"/><circle cx="1346.8" cy="457.4" r="5"/><circle cx="1354.9" cy="454.8" r="5"/><circle cx="1353.7" cy="442.6" r="5"/><circle cx="1341.1" cy="443.3" r="5"/><circle cx="1349.5" cy="444.4" r="5"/><circle cx="1344.5" cy="446.6" r="5"/><circle cx="1560.9" cy="910.2" r="5"/><circle cx="1576.7" cy="905.2" r="5"/><circle cx="1569.5" cy="913.2" r="5"/><circle cx="1355.8" cy="1162.8" r="5"/><circle cx="1351" cy="1178" r="5"/><circle cx="1354.3" cy="1170.7" r="5"/><circle cx="1374.3" cy="742.2" r="5"/><circle cx="1361.7" cy="758" r="5"/><circle cx="1369.3" cy="742.1" r="5"/><circle cx="1365.3" cy="748.8" r="5"/><circle cx="1376.4" cy="751.5" r="5"/><circle cx="1367.7" cy="753.1" r="5"/><circle cx="1355.3" cy="418.6" r="5"/><circle cx="1344.4" cy="404.4" r="5"/><circle cx="1298.4" cy="1062.1" r="5"/><circle cx="1281.1" cy="1063.4" r="5"/><circle cx="1286.9" cy="1075.8" r="5"/><circle cx="1294.2" cy="1069.5" r="5"/><circle cx="1290.9" cy="1070.8" r="5"/><circle cx="1042.7" cy="414.4" r="5"/><circle cx="600.1" cy="995.6" r="5"/><circle cx="1416.5" cy="1063.1" r="5"/><circle cx="1405.8" cy="1079.4" r="5"/><circle cx="1401.7" cy="1074.7" r="5"/><circle cx="1404.3" cy="1069.3" r="5"/><circle cx="1418.8" cy="1067.8" r="5"/><circle cx="1140.5" cy="1110.9" r="5"/><circle cx="1151.8" cy="1114" r="5"/><circle cx="1143.9" cy="1119.4" r="5"/><circle cx="1285.1" cy="412.1" r="5"/><circle cx="673.9" cy="836.9" r="5"/><circle cx="1565.2" cy="707.1" r="5"/><circle cx="1562.7" cy="712.6" r="5"/><circle cx="1567.6" cy="718.4" r="5"/><circle cx="1570.1" cy="714.3" r="5"/><circle cx="1572.6" cy="719.9" r="5"/><circle cx="1573.5" cy="703.1" r="5"/><circle cx="1106.2" cy="901.5" r="5"/><circle cx="1104.2" cy="916.4" r="5"/><circle cx="1117.7" cy="913.3" r="5"/><circle cx="1112" cy="911.9" r="5"/><circle cx="1109.3" cy="905" r="5"/><circle cx="1243.6" cy="588.2" r="5"/><circle cx="1258" cy="594.6" r="5"/><circle cx="1258.3" cy="587.5" r="5"/><circle cx="1479.7" cy="999.8" r="5"/><circle cx="1466.3" cy="994.3" r="5"/><circle cx="1478" cy="982.6" r="5"/><circle cx="1477.1" cy="987.5" r="5"/><circle cx="1470.2" cy="986.8" r="5"/><circle cx="1460.3" cy="999.1" r="5"/><circle cx="1478.7" cy="993" r="5"/><circle cx="1477.3" cy="996.6" r="5"/><circle cx="1464.7" cy="984.6" r="5"/><circle cx="1581.4" cy="551.7" r="5"/><circle cx="1593.8" cy="544.6" r="5"/><circle cx="1587" cy="551.9" r="5"/><circle cx="1594.4" cy="549.3" r="5"/><circle cx="1588.1" cy="555.6" r="5"/><circle cx="1597.9" cy="553.4" r="5"/><circle cx="1596.6" cy="559.8" r="5"/><circle cx="1103.9" cy="880.6" r="5"/><circle cx="1101.6" cy="890.9" r="5"/><circle cx="1108.6" cy="886.4" r="5"/><circle cx="1118.6" cy="887.6" r="5"/><circle cx="1120.6" cy="633.4" r="5"/><circle cx="1132.3" cy="623.9" r="5"/><circle cx="1129.9" cy="638.9" r="5"/><circle cx="1479.3" cy="449.2" r="5"/><circle cx="1469" cy="444" r="5"/><circle cx="1175.2" cy="1065.7" r="5"/><circle cx="1164.5" cy="1077" r="5"/><circle cx="1168.7" cy="1061.4" r="5"/><circle cx="1175.8" cy="1061.1" r="5"/><circle cx="1160.8" cy="1069.1" r="5"/><circle cx="1172.4" cy="1074.7" r="5"/><circle cx="866.1" cy="568.4" r="5"/><circle cx="876.8" cy="572.8" r="5"/><circle cx="870.9" cy="574.3" r="5"/><circle cx="872.4" cy="564" r="5"/><circle cx="1221.1" cy="471.6" r="5"/><circle cx="1229.2" cy="474.1" r="5"/><circle cx="1222.2" cy="465.3" r="5"/><circle cx="1266" cy="506.2" r="5"/><circle cx="1140.3" cy="435" r="5"/><circle cx="1155.9" cy="435.5" r="5"/><circle cx="1186.8" cy="550.3" r="5"/><circle cx="1180.7" cy="541.4" r="5"/><circle cx="1193.1" cy="556.6" r="5"/><circle cx="1187.4" cy="546.9" r="5"/><circle cx="1198.8" cy="546.9" r="5"/><circle cx="1186.1" cy="554.2" r="5"/><circle cx="1192.6" cy="544.2" r="5"/><circle cx="1199.2" cy="556.2" r="5"/><circle cx="1193.8" cy="541.9" r="5"/><circle cx="1185.1" cy="559.7" r="5"/><circle cx="1181.9" cy="545.2" r="5"/><circle cx="1461" cy="716" r="5"/><circle cx="1471.8" cy="700.8" r="5"/><circle cx="1468.4" cy="709.9" r="5"/><circle cx="1471" cy="719.8" r="5"/><circle cx="1473.7" cy="704.5" r="5"/><circle cx="1462" cy="720" r="5"/><circle cx="1472.7" cy="713.9" r="5"/><circle cx="1466.1" cy="713.8" r="5"/><circle cx="1465.4" cy="705.4" r="5"/><circle cx="1123.2" cy="839.6" r="5"/><circle cx="1131.3" cy="823" r="5"/><circle cx="1134.4" cy="827.3" r="5"/><circle cx="1130.3" cy="839.9" r="5"/><circle cx="1126.7" cy="827.6" r="5"/><circle cx="510.9" cy="956" r="5"/><circle cx="1361.7" cy="385.9" r="5"/><circle cx="1367.1" cy="399.4" r="5"/><circle cx="1371.8" cy="388.3" r="5"/><circle cx="1377.5" cy="383.4" r="5"/><circle cx="1295.6" cy="749" r="5"/><circle cx="1284.3" cy="741.9" r="5"/><circle cx="717" cy="681" r="5"/><circle cx="948.9" cy="811" r="5"/><circle cx="1376.4" cy="562.1" r="5"/><circle cx="1368.2" cy="567.1" r="5"/><circle cx="934.4" cy="878.2" r="5"/><circle cx="1323.3" cy="494.4" r="5"/><circle cx="1329.3" cy="485.7" r="5"/><circle cx="1334.7" cy="484.2" r="5"/><circle cx="1331.4" cy="490.1" r="5"/><circle cx="1322" cy="485" r="5"/><circle cx="1585" cy="786.3" r="5"/><circle cx="1584.2" cy="792.8" r="5"/><circle cx="1372.7" cy="466.3" r="5"/><circle cx="1362.8" cy="477.5" r="5"/><circle cx="1592.4" cy="962.9" r="5"/><circle cx="1581.8" cy="966" r="5"/><circle cx="1599.1" cy="978.8" r="5"/><circle cx="1584" cy="973.4" r="5"/><circle cx="1145.8" cy="619.7" r="5"/><circle cx="1142.3" cy="613.3" r="5"/><circle cx="1220.5" cy="480.2" r="5"/><circle cx="1638.6" cy="988.1" r="5"/><circle cx="1634.4" cy="996.6" r="5"/><circle cx="1625.6" cy="980.1" r="5"/><circle cx="842.4" cy="602.8" r="5"/><circle cx="841.7" cy="618.2" r="5"/><circle cx="856.5" cy="608.5" r="5"/><circle cx="1279.3" cy="832.3" r="5"/><circle cx="1261" cy="836.2" r="5"/><circle cx="1267.7" cy="831.9" r="5"/><circle cx="1276.3" cy="838.9" r="5"/><circle cx="1260.3" cy="824" r="5"/><circle cx="494.2" cy="956.5" r="5"/><circle cx="1445.9" cy="1026.8" r="5"/><circle cx="1445.4" cy="1021.9" r="5"/><circle cx="1440.8" cy="1020.8" r="5"/><circle cx="1441.8" cy="1032.3" r="5"/><circle cx="1449.1" cy="1020.9" r="5"/><circle cx="1449.9" cy="1033" r="5"/><circle cx="1448.8" cy="1029.5" r="5"/><circle cx="1459.9" cy="1022.8" r="5"/><circle cx="891.6" cy="1048.9" r="5"/><circle cx="894.9" cy="1054.2" r="5"/><circle cx="883.2" cy="1044.3" r="5"/><circle cx="1103.3" cy="748.2" r="5"/><circle cx="1101" cy="757.2" r="5"/><circle cx="1208.9" cy="777.8" r="5"/><circle cx="1219" cy="775.3" r="5"/><circle cx="1213" cy="772.1" r="5"/><circle cx="1203.4" cy="773.7" r="5"/><circle cx="1389.5" cy="453.6" r="5"/><circle cx="1393.6" cy="440.8" r="5"/><circle cx="1397.3" cy="442.4" r="5"/><circle cx="1398.3" cy="456.2" r="5"/><circle cx="1386.2" cy="444.7" r="5"/><circle cx="1396.8" cy="448.2" r="5"/><circle cx="1380.7" cy="447.3" r="5"/><circle cx="1599.8" cy="853.1" r="5"/><circle cx="1589.1" cy="855.2" r="5"/><circle cx="1589.4" cy="842.2" r="5"/><circle cx="1320.8" cy="387.5" r="5"/><circle cx="1337.1" cy="399.7" r="5"/><circle cx="1082.8" cy="723.9" r="5"/><circle cx="1089.3" cy="735.4" r="5"/><circle cx="1039.3" cy="665.4" r="5"/><circle cx="1109.7" cy="411" r="5"/><circle cx="1104.4" cy="404.1" r="5"/><circle cx="1664" cy="924.5" r="5"/><circle cx="1672" cy="920.5" r="5"/><circle cx="907.6" cy="487.8" r="5"/><circle cx="913.8" cy="481.3" r="5"/><circle cx="901.5" cy="492.6" r="5"/><circle cx="915.6" cy="490.5" r="5"/><circle cx="1486.7" cy="852.8" r="5"/><circle cx="1499.2" cy="843.9" r="5"/><circle cx="1490.7" cy="858.8" r="5"/><circle cx="1151" cy="568" r="5"/><circle cx="1151.7" cy="574.2" r="5"/><circle cx="1157.8" cy="565.4" r="5"/><circle cx="1157.5" cy="568.9" r="5"/><circle cx="1140.4" cy="577.5" r="5"/><circle cx="1142.8" cy="572.7" r="5"/><circle cx="1071.3" cy="785" r="5"/><circle cx="1075.9" cy="789.4" r="5"/><circle cx="1060.1" cy="783" r="5"/><circle cx="1065.1" cy="787.8" r="5"/><circle cx="1585.7" cy="987.2" r="5"/><circle cx="1596.1" cy="985.5" r="5"/><circle cx="1381.2" cy="967.5" r="5"/><circle cx="1387.3" cy="973.8" r="5"/><circle cx="1395.1" cy="979.6" r="5"/><circle cx="863.1" cy="929.4" r="5"/><circle cx="868.8" cy="934.6" r="5"/><circle cx="1376.6" cy="1064.7" r="5"/><circle cx="1364.7" cy="1073.3" r="5"/><circle cx="1378.6" cy="1060.8" r="5"/><circle cx="1365.3" cy="1078.7" r="5"/><circle cx="1372" cy="1079.3" r="5"/><circle cx="1362.4" cy="1062" r="5"/><circle cx="1367.6" cy="1068.3" r="5"/><circle cx="1592.9" cy="561.3" r="5"/><circle cx="1582.1" cy="572" r="5"/><circle cx="1584.1" cy="579.4" r="5"/><circle cx="1592.5" cy="576.3" r="5"/><circle cx="1597" cy="564.6" r="5"/><circle cx="1584.1" cy="564.3" r="5"/><circle cx="1171.5" cy="962.1" r="5"/><circle cx="1179.2" cy="969.4" r="5"/><circle cx="1170.2" cy="975.5" r="5"/><circle cx="1176.2" cy="965" r="5"/><circle cx="1167.2" cy="964.4" r="5"/><circle cx="1165.6" cy="970.5" r="5"/><circle cx="1338.5" cy="792.8" r="5"/><circle cx="1331.3" cy="799.4" r="5"/><circle cx="1334" cy="791.8" r="5"/><circle cx="1336.5" cy="799.5" r="5"/><circle cx="1327" cy="785.7" r="5"/><circle cx="1323.8" cy="787.2" r="5"/><circle cx="1336.3" cy="782" r="5"/><circle cx="1328.3" cy="474.8" r="5"/><circle cx="1327.4" cy="466" r="5"/><circle cx="1339.2" cy="464.2" r="5"/><circle cx="1136.4" cy="977.6" r="5"/><circle cx="1134.8" cy="966" r="5"/><circle cx="1090.1" cy="255" r="5"/><circle cx="1082.4" cy="251.9" r="5"/><circle cx="1097.1" cy="256.6" r="5"/><circle cx="1097.3" cy="247.5" r="5"/><circle cx="1021.8" cy="349.6" r="5"/><circle cx="1026.7" cy="356.2" r="5"/><circle cx="1168.7" cy="1114.6" r="5"/><circle cx="1167.6" cy="1101.6" r="5"/><circle cx="1174.5" cy="1120" r="5"/><circle cx="1179.1" cy="1113.3" r="5"/><circle cx="1161.2" cy="680.1" r="5"/><circle cx="1160.7" cy="685.7" r="5"/><circle cx="1175" cy="691.5" r="5"/><circle cx="1170" cy="686.2" r="5"/><circle cx="1167.6" cy="699.3" r="5"/><circle cx="1178.2" cy="695.8" r="5"/><circle cx="1173.7" cy="683.8" r="5"/><circle cx="967.9" cy="444.2" r="5"/><circle cx="964" cy="451.7" r="5"/><circle cx="972" cy="449" r="5"/><circle cx="960.6" cy="459.5" r="5"/><circle cx="978.5" cy="445" r="5"/><circle cx="832.5" cy="938" r="5"/><circle cx="1344.2" cy="1137.9" r="5"/><circle cx="1358.6" cy="1124.3" r="5"/><circle cx="1349.4" cy="1134.2" r="5"/><circle cx="1341.3" cy="1123.2" r="5"/><circle cx="1345.8" cy="1126.1" r="5"/><circle cx="1349.3" cy="1139.1" r="5"/><circle cx="1359.9" cy="1132.1" r="5"/><circle cx="1004.3" cy="1068" r="5"/><circle cx="1020" cy="1073.2" r="5"/><circle cx="1327" cy="581.8" r="5"/><circle cx="1327.1" cy="597.4" r="5"/><circle cx="1320.4" cy="583.5" r="5"/><circle cx="1331.2" cy="593.7" r="5"/><circle cx="1334.1" cy="599.5" r="5"/><circle cx="1329.9" cy="584.6" r="5"/><circle cx="1336" cy="581" r="5"/><circle cx="1326.7" cy="593.4" r="5"/><circle cx="1062.9" cy="1079.7" r="5"/><circle cx="1074.4" cy="1078.7" r="5"/><circle cx="1072.8" cy="1071.2" r="5"/><circle cx="1061.3" cy="1065.9" r="5"/><circle cx="1391.7" cy="729.1" r="5"/><circle cx="1382" cy="726.7" r="5"/><circle cx="1398.6" cy="726.4" r="5"/><circle cx="1311.5" cy="546.4" r="5"/><circle cx="1315.7" cy="549.9" r="5"/><circle cx="1301.9" cy="545.3" r="5"/><circle cx="1305.3" cy="551" r="5"/><circle cx="1372.6" cy="881.8" r="5"/><circle cx="1378.3" cy="880.1" r="5"/><circle cx="1361.5" cy="898.2" r="5"/><circle cx="1369.1" cy="893.3" r="5"/><circle cx="1372.6" cy="887.9" r="5"/><circle cx="993.3" cy="525.2" r="5"/><circle cx="989.4" cy="533.1" r="5"/><circle cx="1418.1" cy="449.9" r="5"/><circle cx="1410.7" cy="446.6" r="5"/><circle cx="1404.1" cy="447.4" r="5"/><circle cx="1417.5" cy="444.4" r="5"/><circle cx="628.1" cy="1114.2" r="5"/><circle cx="1380" cy="648.1" r="5"/><circle cx="1361.9" cy="649.8" r="5"/><circle cx="1371.2" cy="645.7" r="5"/><circle cx="1012.7" cy="591.6" r="5"/><circle cx="1008.5" cy="599.8" r="5"/><circle cx="1012.4" cy="599" r="5"/><circle cx="1017.2" cy="594.1" r="5"/><circle cx="1001.4" cy="582.8" r="5"/><circle cx="1002.8" cy="592.6" r="5"/><circle cx="1003.7" cy="588.5" r="5"/><circle cx="1011.1" cy="587.5" r="5"/><circle cx="1016.5" cy="607.4" r="5"/><circle cx="1001.1" cy="611" r="5"/><circle cx="1397" cy="1108.2" r="5"/><circle cx="1387.3" cy="1103.8" r="5"/><circle cx="1391.4" cy="1108.9" r="5"/><circle cx="1380.1" cy="1114" r="5"/><circle cx="1134.1" cy="1005.6" r="5"/><circle cx="1133" cy="1017.1" r="5"/><circle cx="1122.1" cy="1004.4" r="5"/><circle cx="1126.9" cy="1004.1" r="5"/><circle cx="1479.9" cy="693.1" r="5"/><circle cx="1463.3" cy="696.7" r="5"/><circle cx="1468.9" cy="681.5" r="5"/><circle cx="1464.3" cy="680.1" r="5"/><circle cx="1464.3" cy="685.6" r="5"/><circle cx="1472.9" cy="686" r="5"/><circle cx="1147.7" cy="408.7" r="5"/><circle cx="1141.2" cy="414.4" r="5"/><circle cx="1142.1" cy="400" r="5"/><circle cx="1159.7" cy="419.2" r="5"/><circle cx="1155.7" cy="407.9" r="5"/><circle cx="1564.8" cy="936.2" r="5"/><circle cx="1577.9" cy="926.3" r="5"/><circle cx="1570.6" cy="931.7" r="5"/><circle cx="1067.4" cy="629.7" r="5"/><circle cx="1076" cy="628.9" r="5"/><circle cx="1060.3" cy="634.4" r="5"/><circle cx="1066.7" cy="623.7" r="5"/><circle cx="1192.3" cy="721" r="5"/><circle cx="1187.8" cy="732.9" r="5"/><circle cx="1183" cy="731.9" r="5"/><circle cx="1186.6" cy="724.9" r="5"/><circle cx="1101.7" cy="605.1" r="5"/><circle cx="1110.3" cy="607.8" r="5"/><circle cx="1110" cy="601.2" r="5"/><circle cx="1116.1" cy="609.5" r="5"/><circle cx="1400.4" cy="668.7" r="5"/><circle cx="1414.1" cy="666.8" r="5"/><circle cx="1409.4" cy="676.5" r="5"/><circle cx="1397.6" cy="636.3" r="5"/><circle cx="1380.3" cy="628" r="5"/><circle cx="1392.2" cy="633.5" r="5"/><circle cx="1395.2" cy="625" r="5"/><circle cx="1476" cy="573" r="5"/><circle cx="1475.2" cy="579" r="5"/><circle cx="1466.4" cy="562.2" r="5"/><circle cx="1462.2" cy="564.3" r="5"/><circle cx="1463.8" cy="571" r="5"/><circle cx="1460.9" cy="575.5" r="5"/><circle cx="1472.6" cy="575.9" r="5"/><circle cx="1466.9" cy="568.6" r="5"/><circle cx="1502.2" cy="849.2" r="5"/><circle cx="1509.7" cy="852.2" r="5"/><circle cx="1513.9" cy="849" r="5"/><circle cx="1518.9" cy="851" r="5"/><circle cx="1516.2" cy="842.9" r="5"/><circle cx="1063.1" cy="328.8" r="5"/><circle cx="1077" cy="334" r="5"/><circle cx="1563.5" cy="828.1" r="5"/><circle cx="1577.1" cy="823.3" r="5"/><circle cx="1569.3" cy="839.6" r="5"/><circle cx="1166" cy="292.2" r="5"/><circle cx="1179.7" cy="288.7" r="5"/><circle cx="1170.3" cy="281.3" r="5"/><circle cx="1172.1" cy="287.2" r="5"/><circle cx="1011.4" cy="1043.2" r="5"/><circle cx="1005.1" cy="1042.6" r="5"/><circle cx="1004.6" cy="1053.9" r="5"/><circle cx="1219.3" cy="698.4" r="5"/><circle cx="1210.3" cy="683.3" r="5"/><circle cx="1218.1" cy="692.9" r="5"/><circle cx="1219.6" cy="681.3" r="5"/><circle cx="1203.7" cy="684" r="5"/><circle cx="1635.1" cy="1005.5" r="5"/><circle cx="1625.1" cy="1019" r="5"/><circle cx="965.1" cy="1073.6" r="5"/><circle cx="1051.9" cy="560.7" r="5"/><circle cx="1055.2" cy="578.2" r="5"/><circle cx="1052.6" cy="567.8" r="5"/><circle cx="1547.7" cy="877" r="5"/><circle cx="1540.7" cy="872" r="5"/><circle cx="1548.4" cy="864.2" r="5"/><circle cx="559.2" cy="872.2" r="5"/><circle cx="1367.8" cy="498.7" r="5"/><circle cx="1361.3" cy="484.7" r="5"/><circle cx="1379.9" cy="494.9" r="5"/><circle cx="1369.3" cy="480.6" r="5"/><circle cx="1547.1" cy="510.3" r="5"/><circle cx="1557.2" cy="503.8" r="5"/><circle cx="1110.8" cy="454.3" r="5"/><circle cx="1233.5" cy="444.2" r="5"/><circle cx="1522.7" cy="708.3" r="5"/><circle cx="1526.9" cy="719.9" r="5"/><circle cx="1537.9" cy="709.3" r="5"/><circle cx="1537.6" cy="702.2" r="5"/><circle cx="1528" cy="705.7" r="5"/><circle cx="925.8" cy="943.4" r="5"/><circle cx="1523.3" cy="647.1" r="5"/><circle cx="1538" cy="656.2" r="5"/><circle cx="1533.8" cy="646.5" r="5"/><circle cx="1525.2" cy="659.1" r="5"/><circle cx="931.1" cy="780.4" r="5"/><circle cx="936.1" cy="786.6" r="5"/><circle cx="1650.8" cy="952.5" r="5"/><circle cx="1658.4" cy="958.3" r="5"/><circle cx="1646.8" cy="954.4" r="5"/><circle cx="1644.6" cy="950.7" r="5"/><circle cx="1658.8" cy="951.7" r="5"/><circle cx="1642" cy="959.1" r="5"/><circle cx="1648.8" cy="948.3" r="5"/><circle cx="1649.5" cy="942.8" r="5"/><circle cx="1060.2" cy="1046.2" r="5"/><circle cx="1078.5" cy="1044.1" r="5"/><circle cx="1296.5" cy="1098.4" r="5"/><circle cx="1290.2" cy="1088.9" r="5"/><circle cx="1297.1" cy="1089.7" r="5"/><circle cx="1284.1" cy="1087.8" r="5"/><circle cx="1304.3" cy="1133.8" r="5"/><circle cx="1318" cy="1134.1" r="5"/><circle cx="1310.3" cy="1128.8" r="5"/><circle cx="1463.1" cy="1095.5" r="5"/><circle cx="1470.3" cy="1091.7" r="5"/><circle cx="891.9" cy="842" r="5"/><circle cx="885.6" cy="859.5" r="5"/><circle cx="886.5" cy="851.5" r="5"/><circle cx="1339.4" cy="521.4" r="5"/><circle cx="1321" cy="522.7" r="5"/><circle cx="1320.6" cy="528.6" r="5"/><circle cx="1331.2" cy="523.8" r="5"/><circle cx="1326.4" cy="521.5" r="5"/><circle cx="1330.5" cy="530.5" r="5"/><circle cx="1324.7" cy="537.6" r="5"/><circle cx="1550.2" cy="913.4" r="5"/><circle cx="1549.6" cy="906.2" r="5"/><circle cx="1525" cy="511.5" r="5"/><circle cx="1523.1" cy="503.9" r="5"/><circle cx="1537.4" cy="517.5" r="5"/><circle cx="1357.4" cy="427.5" r="5"/><circle cx="1352.2" cy="434.2" r="5"/><circle cx="1410.6" cy="617.5" r="5"/><circle cx="1403.7" cy="601.9" r="5"/><circle cx="1059.6" cy="557.5" r="5"/><circle cx="1048" cy="546.4" r="5"/><circle cx="1054.8" cy="540.5" r="5"/><circle cx="1051.5" cy="552.8" r="5"/><circle cx="1026.5" cy="553.2" r="5"/><circle cx="1037" cy="558" r="5"/><circle cx="1030" cy="546.7" r="5"/><circle cx="1202.2" cy="744.1" r="5"/><circle cx="1209.7" cy="742.4" r="5"/><circle cx="1214.1" cy="753.4" r="5"/><circle cx="1484.9" cy="614.6" r="5"/><circle cx="1499.7" cy="618.9" r="5"/><circle cx="1499.4" cy="610.1" r="5"/><circle cx="1492.4" cy="600.7" r="5"/><circle cx="1490.3" cy="616.6" r="5"/><circle cx="1497.5" cy="603.2" r="5"/><circle cx="1484.3" cy="607.3" r="5"/><circle cx="1125.1" cy="281.6" r="5"/><circle cx="1136.7" cy="280.1" r="5"/><circle cx="1556.5" cy="743.2" r="5"/><circle cx="1544.5" cy="747.3" r="5"/><circle cx="1556.7" cy="756.3" r="5"/><circle cx="1376.3" cy="411" r="5"/><circle cx="1361.5" cy="413.5" r="5"/><circle cx="1372.3" cy="406.1" r="5"/><circle cx="1183.6" cy="704" r="5"/><circle cx="1192.9" cy="710.9" r="5"/><circle cx="1187.2" cy="705.4" r="5"/><circle cx="1198" cy="712.1" r="5"/><circle cx="1198.9" cy="707.5" r="5"/><circle cx="1192.3" cy="705.1" r="5"/><circle cx="1186.4" cy="862.6" r="5"/><circle cx="1188.3" cy="872.6" r="5"/><circle cx="1190.5" cy="862.4" r="5"/><circle cx="1190.4" cy="868.8" r="5"/><circle cx="1194.4" cy="870.9" r="5"/><circle cx="1198.6" cy="874.9" r="5"/><circle cx="1284" cy="828" r="5"/><circle cx="1285.5" cy="820.8" r="5"/><circle cx="1293.4" cy="830.1" r="5"/><circle cx="1092.6" cy="459" r="5"/><circle cx="1092.1" cy="447.8" r="5"/><circle cx="1225.3" cy="1005.7" r="5"/><circle cx="1222.1" cy="1015" r="5"/><circle cx="1232.6" cy="1019.6" r="5"/><circle cx="1226.7" cy="1011.2" r="5"/><circle cx="1260.8" cy="334.9" r="5"/><circle cx="1269.8" cy="339.2" r="5"/><circle cx="1266.6" cy="325.9" r="5"/><circle cx="1262.7" cy="323" r="5"/><circle cx="1273.9" cy="336.4" r="5"/><circle cx="1268.4" cy="331.3" r="5"/><circle cx="579.3" cy="1086" r="5"/><circle cx="1277.8" cy="843" r="5"/><circle cx="1260.5" cy="846.7" r="5"/><circle cx="1269.6" cy="853.2" r="5"/><circle cx="1267.8" cy="856.9" r="5"/><circle cx="1270.3" cy="845.7" r="5"/><circle cx="1272.4" cy="842.2" r="5"/><circle cx="1274" cy="846" r="5"/><circle cx="1268.6" cy="842.1" r="5"/><circle cx="1274.4" cy="858.5" r="5"/><circle cx="1341.1" cy="383.3" r="5"/><circle cx="1358.6" cy="387.7" r="5"/><circle cx="1352.2" cy="380.8" r="5"/><circle cx="1349.6" cy="388.8" r="5"/><circle cx="1342.2" cy="395" r="5"/><circle cx="1096.6" cy="680.4" r="5"/><circle cx="1094.9" cy="686.6" r="5"/><circle cx="1095.7" cy="697.3" r="5"/><circle cx="1088" cy="691.5" r="5"/><circle cx="1109.3" cy="517" r="5"/><circle cx="1119.6" cy="503.1" r="5"/><circle cx="1103.8" cy="518.2" r="5"/><circle cx="1101.5" cy="513" r="5"/><circle cx="1119.2" cy="510.4" r="5"/><circle cx="1102.4" cy="504.9" r="5"/><circle cx="1037.3" cy="583.2" r="5"/><circle cx="1024.4" cy="598.6" r="5"/><circle cx="1038.8" cy="592.8" r="5"/><circle cx="1034.8" cy="587.6" r="5"/><circle cx="1030.1" cy="592.9" r="5"/><circle cx="1029" cy="587.1" r="5"/><circle cx="1283.4" cy="634" r="5"/><circle cx="1291.9" cy="624.3" r="5"/><circle cx="1285.2" cy="625.1" r="5"/><circle cx="1318.9" cy="1011.4" r="5"/><circle cx="1310.2" cy="1009.9" r="5"/><circle cx="1311.2" cy="1019.2" r="5"/><circle cx="1316.8" cy="1006.9" r="5"/><circle cx="1319.7" cy="1016.5" r="5"/><circle cx="1301.5" cy="1003.5" r="5"/><circle cx="1312.5" cy="1003.9" r="5"/><circle cx="1292" cy="1114" r="5"/><circle cx="1298.9" cy="1109" r="5"/><circle cx="1298.9" cy="1102.7" r="5"/><circle cx="1296.4" cy="1116.6" r="5"/><circle cx="1294.4" cy="1103.8" r="5"/><circle cx="1285" cy="1111.7" r="5"/><circle cx="1098" cy="599" r="5"/><circle cx="1082.2" cy="597.8" r="5"/><circle cx="1271.6" cy="940.8" r="5"/><circle cx="1268.3" cy="950.3" r="5"/><circle cx="1266.7" cy="945.9" r="5"/><circle cx="1260.5" cy="956.7" r="5"/><circle cx="1495.2" cy="915.9" r="5"/><circle cx="1482.3" cy="919.3" r="5"/><circle cx="1488.8" cy="914.6" r="5"/><circle cx="1486" cy="902.2" r="5"/><circle cx="847.6" cy="656.2" r="5"/><circle cx="1389.6" cy="1059.3" r="5"/><circle cx="1394.2" cy="1042.2" r="5"/><circle cx="1394.1" cy="1053.6" r="5"/><circle cx="1399.9" cy="1053.3" r="5"/><circle cx="1389.6" cy="1040.3" r="5"/><circle cx="1391.6" cy="1046.8" r="5"/><circle cx="1520.6" cy="776.6" r="5"/><circle cx="1532.3" cy="772.9" r="5"/><circle cx="1539.6" cy="766.2" r="5"/><circle cx="1523.6" cy="768.7" r="5"/><circle cx="1179.2" cy="849.2" r="5"/><circle cx="1171.1" cy="846.5" r="5"/><circle cx="1175.5" cy="856.8" r="5"/><circle cx="1180" cy="857.1" r="5"/><circle cx="1172.8" cy="849.6" r="5"/><circle cx="1166.5" cy="843.8" r="5"/><circle cx="1172" cy="858.3" r="5"/><circle cx="1175" cy="845.6" r="5"/><circle cx="1160" cy="848.9" r="5"/><circle cx="1160.9" cy="840.6" r="5"/><circle cx="1475.7" cy="941.8" r="5"/><circle cx="1464.1" cy="941.9" r="5"/><circle cx="1466.3" cy="952.2" r="5"/><circle cx="1461.7" cy="947.6" r="5"/><circle cx="1462.1" cy="957.6" r="5"/><circle cx="1477" cy="947.7" r="5"/><circle cx="1325" cy="1147.3" r="5"/><circle cx="1334.1" cy="1149.6" r="5"/><circle cx="1328.4" cy="1001.2" r="5"/><circle cx="1327.9" cy="1008.4" r="5"/><circle cx="1326.2" cy="1016.8" r="5"/><circle cx="1331.6" cy="1017.7" r="5"/><circle cx="756.1" cy="1057.5" r="5"/><circle cx="1271.3" cy="1131.3" r="5"/><circle cx="1275.9" cy="1129.5" r="5"/><circle cx="1261.5" cy="1138.8" r="5"/><circle cx="1261.9" cy="1134" r="5"/><circle cx="1274.7" cy="1136.7" r="5"/><circle cx="1279.7" cy="1136.9" r="5"/><circle cx="1266.2" cy="1125.7" r="5"/><circle cx="1016.9" cy="825.8" r="5"/><circle cx="1001.4" cy="839.3" r="5"/><circle cx="1558" cy="999.7" r="5"/><circle cx="1555.1" cy="990.2" r="5"/><circle cx="1548.8" cy="997.3" r="5"/><circle cx="1559.1" cy="980.3" r="5"/><circle cx="1545.7" cy="989.9" r="5"/><circle cx="925.7" cy="635.7" r="5"/><circle cx="929.4" cy="629.9" r="5"/><circle cx="929.2" cy="639.3" r="5"/><circle cx="925.6" cy="627" r="5"/><circle cx="939.9" cy="633.2" r="5"/><circle cx="1368.6" cy="1177.1" r="5"/><circle cx="1455.8" cy="474.3" r="5"/><circle cx="1453.4" cy="466.6" r="5"/><circle cx="1450.4" cy="473.8" r="5"/><circle cx="1448.7" cy="467.8" r="5"/><circle cx="1445.9" cy="462.8" r="5"/><circle cx="1092.1" cy="814.5" r="5"/><circle cx="1090" cy="807" r="5"/><circle cx="889.5" cy="541.6" r="5"/><circle cx="890.3" cy="553" r="5"/><circle cx="1338.7" cy="512.8" r="5"/><circle cx="1332.8" cy="517.3" r="5"/><circle cx="1324.6" cy="514.2" r="5"/><circle cx="1320.5" cy="507.7" r="5"/><circle cx="1034.1" cy="803.4" r="5"/><circle cx="1029.7" cy="800.6" r="5"/><circle cx="1038.7" cy="804.8" r="5"/><circle cx="1026" cy="804.2" r="5"/><circle cx="1039.3" cy="814.2" r="5"/><circle cx="1022.2" cy="808.2" r="5"/><circle cx="1030.3" cy="815.1" r="5"/><circle cx="1469.7" cy="973.6" r="5"/><circle cx="1464" cy="968.5" r="5"/><circle cx="1468.1" cy="965.4" r="5"/><circle cx="1469.9" cy="979.5" r="5"/><circle cx="1478.7" cy="973.5" r="5"/><circle cx="1468.6" cy="960.1" r="5"/><circle cx="1517" cy="486" r="5"/><circle cx="1509.1" cy="492" r="5"/><circle cx="1500.1" cy="485.6" r="5"/><circle cx="1506.9" cy="482" r="5"/><circle cx="1362.1" cy="1054.5" r="5"/><circle cx="1377.4" cy="1049.2" r="5"/><circle cx="1373.1" cy="1042.8" r="5"/><circle cx="1368.7" cy="1047.4" r="5"/><circle cx="1142.5" cy="1030" r="5"/><circle cx="1150.2" cy="1026.3" r="5"/><circle cx="1159" cy="1027.4" r="5"/><circle cx="1144.4" cy="1039.9" r="5"/><circle cx="1153.7" cy="1033.8" r="5"/><circle cx="1077.5" cy="558.9" r="5"/><circle cx="1076.7" cy="544.1" r="5"/><circle cx="1073.6" cy="551.2" r="5"/><circle cx="1064.7" cy="553.5" r="5"/><circle cx="1098.9" cy="616.2" r="5"/><circle cx="1084.8" cy="608.8" r="5"/><circle cx="874.9" cy="503.9" r="5"/><circle cx="864.5" cy="504.2" r="5"/><circle cx="1566.7" cy="1042.9" r="5"/><circle cx="1574.2" cy="1041.8" r="5"/><circle cx="1579.4" cy="798.3" r="5"/><circle cx="1563.9" cy="791.8" r="5"/><circle cx="1575.2" cy="790.5" r="5"/><circle cx="1578.5" cy="783.1" r="5"/><circle cx="1243.1" cy="788.5" r="5"/><circle cx="1251.7" cy="786.1" r="5"/><circle cx="1244" cy="782.5" r="5"/><circle cx="1247.6" cy="791" r="5"/><circle cx="1244.6" cy="796.6" r="5"/><circle cx="722.5" cy="857.8" r="5"/><circle cx="985.5" cy="639.2" r="5"/><circle cx="997.2" cy="634.9" r="5"/><circle cx="991.3" cy="626.7" r="5"/><circle cx="998.9" cy="622.1" r="5"/><circle cx="994" cy="622.7" r="5"/><circle cx="1512" cy="521.5" r="5"/><circle cx="1506.1" cy="529" r="5"/><circle cx="1501.8" cy="534.5" r="5"/><circle cx="1519.3" cy="534.4" r="5"/><circle cx="1510.7" cy="530.8" r="5"/><circle cx="1511.9" cy="534.8" r="5"/><circle cx="1587.6" cy="727.9" r="5"/><circle cx="1582.2" cy="721.9" r="5"/><circle cx="1596.8" cy="720.5" r="5"/><circle cx="1580.2" cy="734.6" r="5"/><circle cx="1083.8" cy="502" r="5"/><circle cx="1094.6" cy="514" r="5"/><circle cx="1088.2" cy="511.8" r="5"/><circle cx="919.2" cy="942.7" r="5"/><circle cx="911" cy="949.4" r="5"/><circle cx="1014.5" cy="767.8" r="5"/><circle cx="1005" cy="771.9" r="5"/><circle cx="1015.3" cy="775.8" r="5"/><circle cx="1049.3" cy="593.8" r="5"/><circle cx="1049.8" cy="586.9" r="5"/><circle cx="1243.4" cy="1001.7" r="5"/><circle cx="1259" cy="1000.5" r="5"/><circle cx="1240.7" cy="1015.4" r="5"/><circle cx="1257.5" cy="1005" r="5"/><circle cx="1241.1" cy="1010.4" r="5"/><circle cx="1244.2" cy="1019.7" r="5"/><circle cx="1146.4" cy="924.5" r="5"/><circle cx="1152.1" cy="939.9" r="5"/><circle cx="1147.7" cy="937" r="5"/><circle cx="1159.6" cy="927.8" r="5"/><circle cx="1090.9" cy="934.7" r="5"/><circle cx="1083.7" cy="920.5" r="5"/><circle cx="1099.3" cy="938.1" r="5"/><circle cx="1089" cy="924.3" r="5"/><circle cx="480.3" cy="934.1" r="5"/><circle cx="1128.6" cy="427.8" r="5"/><circle cx="1136.6" cy="427.9" r="5"/><circle cx="1124.5" cy="420.3" r="5"/><circle cx="1339.7" cy="1096.1" r="5"/><circle cx="1330.2" cy="1081.6" r="5"/><circle cx="1335.3" cy="1089.5" r="5"/><circle cx="1329" cy="1096.8" r="5"/><circle cx="1335.8" cy="1084.5" r="5"/><circle cx="1322.3" cy="1097.3" r="5"/><circle cx="1324.3" cy="1087.4" r="5"/><circle cx="1138.2" cy="684.3" r="5"/><circle cx="1124.7" cy="691.4" r="5"/><circle cx="1137.9" cy="689.3" r="5"/><circle cx="1133.8" cy="685.3" r="5"/><circle cx="1131.7" cy="693.9" r="5"/><circle cx="952.5" cy="994.5" r="5"/><circle cx="1442.5" cy="813" r="5"/><circle cx="1454" cy="817.3" r="5"/><circle cx="1453" cy="812.4" r="5"/><circle cx="1308.9" cy="757.2" r="5"/><circle cx="1309.6" cy="741.5" r="5"/><circle cx="1312.8" cy="750.7" r="5"/><circle cx="1669" cy="903.7" r="5"/><circle cx="1665.7" cy="915.3" r="5"/><circle cx="1444.6" cy="877.1" r="5"/><circle cx="1459.6" cy="870.5" r="5"/><circle cx="1448.6" cy="860.2" r="5"/><circle cx="1453.3" cy="865.7" r="5"/><circle cx="1454.4" cy="872.3" r="5"/><circle cx="1444.1" cy="983.7" r="5"/><circle cx="1449.6" cy="984.9" r="5"/><circle cx="1440.7" cy="998" r="5"/><circle cx="1448.5" cy="994" r="5"/><circle cx="1452" cy="989.7" r="5"/><circle cx="980.9" cy="919.3" r="5"/><circle cx="594.9" cy="1115.1" r="5"/><circle cx="584.4" cy="1106.8" r="5"/><circle cx="588.5" cy="1118.2" r="5"/><circle cx="588.5" cy="1112.4" r="5"/><circle cx="1036.4" cy="963.4" r="5"/><circle cx="973.5" cy="575.7" r="5"/><circle cx="977.3" cy="560.7" r="5"/><circle cx="963.1" cy="568.3" r="5"/><circle cx="879.1" cy="983.1" r="5"/><circle cx="1055.2" cy="976.4" r="5"/><circle cx="1046" cy="962" r="5"/><circle cx="1055.4" cy="969.7" r="5"/><circle cx="1431.5" cy="606.8" r="5"/><circle cx="1427.5" cy="613.3" r="5"/><circle cx="1054.3" cy="844.4" r="5"/><circle cx="1050" cy="859.1" r="5"/><circle cx="1047.6" cy="846.7" r="5"/><circle cx="962.9" cy="780.8" r="5"/><circle cx="972.6" cy="798.3" r="5"/><circle cx="1252.4" cy="749.6" r="5"/><circle cx="1241.9" cy="746.6" r="5"/><circle cx="1254.1" cy="755.8" r="5"/><circle cx="1168.2" cy="671.1" r="5"/><circle cx="1164.2" cy="667.3" r="5"/><circle cx="1170.5" cy="677.5" r="5"/><circle cx="1164.5" cy="672.1" r="5"/><circle cx="1161.8" cy="662.1" r="5"/><circle cx="1178.1" cy="668.4" r="5"/><circle cx="879.2" cy="640.9" r="5"/><circle cx="872" cy="658.4" r="5"/><circle cx="1333.2" cy="923.1" r="5"/><circle cx="1321.1" cy="921.6" r="5"/><circle cx="1339.1" cy="927.5" r="5"/><circle cx="1052.1" cy="476" r="5"/><circle cx="1048.2" cy="470.3" r="5"/><circle cx="1216" cy="431.3" r="5"/><circle cx="1001.3" cy="706.5" r="5"/><circle cx="1018.4" cy="716.2" r="5"/><circle cx="1005.7" cy="703.4" r="5"/><circle cx="1003.1" cy="712" r="5"/><circle cx="1013.9" cy="700.8" r="5"/><circle cx="1000.9" cy="720" r="5"/><circle cx="1008.9" cy="718.5" r="5"/><circle cx="1314.5" cy="1165.3" r="5"/><circle cx="1145.3" cy="692.6" r="5"/><circle cx="1155.2" cy="689.1" r="5"/><circle cx="1148" cy="698.2" r="5"/><circle cx="1142.2" cy="681.1" r="5"/><circle cx="1158" cy="694.5" r="5"/><circle cx="1154.3" cy="693.4" r="5"/><circle cx="1158.1" cy="699" r="5"/><circle cx="1319.1" cy="732.3" r="5"/><circle cx="1301" cy="726.5" r="5"/><circle cx="625.2" cy="1015.5" r="5"/><circle cx="944.5" cy="871.8" r="5"/><circle cx="943.7" cy="879.1" r="5"/><circle cx="950.9" cy="873.2" r="5"/><circle cx="1335.3" cy="657.6" r="5"/><circle cx="1326.7" cy="659.9" r="5"/><circle cx="1330.4" cy="644" r="5"/><circle cx="1423.5" cy="645" r="5"/><circle cx="1432.6" cy="649.1" r="5"/><circle cx="1420.1" cy="658.5" r="5"/><circle cx="1428.8" cy="640.3" r="5"/><circle cx="1422.9" cy="650.3" r="5"/><circle cx="1428.7" cy="653.2" r="5"/><circle cx="1392.3" cy="1126.1" r="5"/><circle cx="1382.3" cy="1133.3" r="5"/><circle cx="1395.6" cy="1131.1" r="5"/><circle cx="1391.3" cy="1134" r="5"/><circle cx="1151.6" cy="954.6" r="5"/><circle cx="1157.7" cy="944.5" r="5"/><circle cx="1151.6" cy="951" r="5"/><circle cx="1148.2" cy="949.7" r="5"/><circle cx="1140.9" cy="940.1" r="5"/><circle cx="1288.1" cy="903.4" r="5"/><circle cx="1282.3" cy="903.7" r="5"/><circle cx="1292.6" cy="914.7" r="5"/><circle cx="1280.1" cy="909.9" r="5"/><circle cx="1295.3" cy="901.4" r="5"/><circle cx="1278.7" cy="996.7" r="5"/><circle cx="1270.6" cy="993.3" r="5"/><circle cx="1277.7" cy="983.2" r="5"/><circle cx="1274.2" cy="984.7" r="5"/><circle cx="1267.6" cy="996.7" r="5"/><circle cx="1263.2" cy="984" r="5"/><circle cx="1195.5" cy="1114.8" r="5"/><circle cx="1046.4" cy="952.7" r="5"/><circle cx="1107.1" cy="930.1" r="5"/><circle cx="1109.7" cy="924.4" r="5"/><circle cx="934.3" cy="808" r="5"/><circle cx="927.1" cy="809.4" r="5"/><circle cx="931.1" cy="800.3" r="5"/><circle cx="939.5" cy="810.9" r="5"/><circle cx="1236.7" cy="847.7" r="5"/><circle cx="1225.7" cy="855.5" r="5"/><circle cx="1234.7" cy="855.2" r="5"/><circle cx="1238.4" cy="841.7" r="5"/><circle cx="988.9" cy="932.6" r="5"/><circle cx="991.4" cy="925.2" r="5"/><circle cx="1508.1" cy="469.6" r="5"/><circle cx="1501.9" cy="474.1" r="5"/><circle cx="991.5" cy="961.9" r="5"/><circle cx="1355.9" cy="921" r="5"/><circle cx="1346.3" cy="921.6" r="5"/><circle cx="1358.6" cy="929.1" r="5"/><circle cx="1349.8" cy="935.4" r="5"/><circle cx="1173.4" cy="1131.2" r="5"/><circle cx="1160.1" cy="1124.1" r="5"/><circle cx="1213.6" cy="702.6" r="5"/><circle cx="1218.7" cy="714.8" r="5"/><circle cx="1219.4" cy="709.4" r="5"/><circle cx="1208.9" cy="718.8" r="5"/><circle cx="1213.1" cy="716" r="5"/><circle cx="1402.5" cy="529.3" r="5"/><circle cx="1403.8" cy="539.4" r="5"/><circle cx="1407.8" cy="532.8" r="5"/><circle cx="1417.9" cy="530" r="5"/><circle cx="1178.8" cy="751.8" r="5"/><circle cx="1175.2" cy="759.4" r="5"/><circle cx="1166.1" cy="751.3" r="5"/><circle cx="1172.5" cy="740.4" r="5"/><circle cx="1168.1" cy="740.9" r="5"/><circle cx="1172" cy="749.2" r="5"/><circle cx="1168" cy="748.2" r="5"/><circle cx="1547.8" cy="660.3" r="5"/><circle cx="1541" cy="664" r="5"/><circle cx="1556.3" cy="671.4" r="5"/><circle cx="1548.3" cy="665.1" r="5"/><circle cx="1559.5" cy="677.2" r="5"/><circle cx="1551.8" cy="667.9" r="5"/><circle cx="1553.3" cy="663" r="5"/><circle cx="1442.1" cy="777.9" r="5"/><circle cx="1444" cy="774.5" r="5"/><circle cx="1457.2" cy="771.1" r="5"/><circle cx="1447.9" cy="772.9" r="5"/><circle cx="1450.3" cy="778" r="5"/><circle cx="1455.3" cy="776" r="5"/><circle cx="1442.9" cy="769.8" r="5"/><circle cx="757.9" cy="852.9" r="5"/><circle cx="749.7" cy="1062.5" r="5"/><circle cx="741.6" cy="1068.3" r="5"/><circle cx="1087.2" cy="1085.1" r="5"/><circle cx="1084.7" cy="1094.8" r="5"/><circle cx="1061.7" cy="373.3" r="5"/><circle cx="1069.6" cy="362.5" r="5"/><circle cx="1493.6" cy="949.5" r="5"/><circle cx="1489.3" cy="956.3" r="5"/><circle cx="1499.2" cy="944.5" r="5"/><circle cx="1485.1" cy="942.7" r="5"/><circle cx="654.5" cy="864" r="5"/><circle cx="890.3" cy="607.3" r="5"/><circle cx="896.8" cy="610.7" r="5"/><circle cx="1485.8" cy="591.4" r="5"/><circle cx="1487.5" cy="584.2" r="5"/><circle cx="1492.2" cy="582.5" r="5"/><circle cx="1481.1" cy="599.2" r="5"/><circle cx="1481.1" cy="588.9" r="5"/><circle cx="1494.7" cy="590.4" r="5"/><circle cx="1433.4" cy="449.7" r="5"/><circle cx="1438.5" cy="448.5" r="5"/><circle cx="1433.3" cy="456.9" r="5"/><circle cx="1434.6" cy="440.6" r="5"/><circle cx="1424.5" cy="449" r="5"/><circle cx="1260.7" cy="874.3" r="5"/><circle cx="1269.4" cy="864.7" r="5"/><circle cx="1264.3" cy="863.1" r="5"/><circle cx="1260.4" cy="869.1" r="5"/><circle cx="725.2" cy="892.9" r="5"/><circle cx="1439.6" cy="518.4" r="5"/><circle cx="1426.5" cy="511.5" r="5"/><circle cx="1424" cy="518.8" r="5"/><circle cx="1078.7" cy="878.2" r="5"/><circle cx="1071.1" cy="861.7" r="5"/><circle cx="1459.1" cy="533.3" r="5"/><circle cx="1457.3" cy="523" r="5"/><circle cx="1453.2" cy="531.4" r="5"/><circle cx="1451.2" cy="539.6" r="5"/><circle cx="1304.5" cy="347.6" r="5"/><circle cx="1021.8" cy="889.7" r="5"/><circle cx="801.5" cy="560.4" r="5"/><circle cx="1173.2" cy="555.6" r="5"/><circle cx="1172.3" cy="546.6" r="5"/><circle cx="1161.3" cy="551.8" r="5"/><circle cx="1176" cy="541" r="5"/><circle cx="1175.7" cy="552.4" r="5"/><circle cx="1171.4" cy="540.1" r="5"/><circle cx="1162.4" cy="556.2" r="5"/><circle cx="1166.7" cy="557.5" r="5"/><circle cx="1177.2" cy="544.2" r="5"/><circle cx="1174.5" cy="559.2" r="5"/><circle cx="1179.2" cy="547.4" r="5"/><circle cx="1161" cy="559.7" r="5"/><circle cx="1165.9" cy="540.3" r="5"/><circle cx="1164.4" cy="553.9" r="5"/><circle cx="1590.4" cy="639.3" r="5"/><circle cx="1595.9" cy="634.9" r="5"/><circle cx="1588.7" cy="623.9" r="5"/><circle cx="1582.9" cy="630.7" r="5"/><circle cx="1392.7" cy="770.8" r="5"/><circle cx="1382.2" cy="760.9" r="5"/><circle cx="1385.2" cy="778.3" r="5"/><circle cx="855.3" cy="857.3" r="5"/><circle cx="1001.7" cy="524.4" r="5"/><circle cx="1014.1" cy="539.4" r="5"/><circle cx="1005.8" cy="527.3" r="5"/><circle cx="1008.1" cy="534.2" r="5"/><circle cx="1003.2" cy="536.7" r="5"/><circle cx="1016.6" cy="534.6" r="5"/><circle cx="1063.9" cy="931.6" r="5"/><circle cx="1078.9" cy="925.7" r="5"/><circle cx="1075.9" cy="934.4" r="5"/><circle cx="1064.7" cy="938.1" r="5"/><circle cx="1496.7" cy="1014.1" r="5"/><circle cx="1487.2" cy="1005.1" r="5"/><circle cx="1481.9" cy="1004.7" r="5"/><circle cx="1496.1" cy="1002" r="5"/><circle cx="1499.2" cy="1005.5" r="5"/><circle cx="1491" cy="1002.8" r="5"/><circle cx="1485.2" cy="1002.1" r="5"/><circle cx="1487.7" cy="1014.3" r="5"/><circle cx="1108.4" cy="339.5" r="5"/><circle cx="1115.9" cy="325.1" r="5"/><circle cx="1105.4" cy="321.4" r="5"/><circle cx="1557.1" cy="803.4" r="5"/><circle cx="1559.8" cy="814.3" r="5"/><circle cx="1551.2" cy="806.2" r="5"/><circle cx="1545" cy="806.8" r="5"/><circle cx="1551.3" cy="815.7" r="5"/><circle cx="1456.1" cy="908.1" r="5"/><circle cx="1452.2" cy="907.1" r="5"/><circle cx="1459.8" cy="903.3" r="5"/><circle cx="1451" cy="916.2" r="5"/><circle cx="1453.8" cy="900.8" r="5"/><circle cx="1450.6" cy="903.8" r="5"/><circle cx="1459.5" cy="916.2" r="5"/><circle cx="1440.8" cy="911.7" r="5"/><circle cx="989" cy="873.4" r="5"/><circle cx="998.8" cy="873.2" r="5"/><circle cx="971.4" cy="990.2" r="5"/><circle cx="1400.9" cy="473.6" r="5"/><circle cx="1412.1" cy="464.5" r="5"/><circle cx="1294.5" cy="812" r="5"/><circle cx="1296.6" cy="819.3" r="5"/><circle cx="1281.9" cy="813.5" r="5"/><circle cx="1294.3" cy="805.4" r="5"/><circle cx="1529.2" cy="916.7" r="5"/><circle cx="1520.2" cy="901.8" r="5"/><circle cx="1538" cy="911.4" r="5"/><circle cx="1535.3" cy="902.6" r="5"/><circle cx="1205.9" cy="813.3" r="5"/><circle cx="1208.7" cy="800.1" r="5"/><circle cx="1211.8" cy="810.3" r="5"/><circle cx="802.2" cy="732.8" r="5"/><circle cx="813.3" cy="727.5" r="5"/><circle cx="1254.6" cy="911.1" r="5"/><circle cx="1252.5" cy="901.8" r="5"/><circle cx="1244" cy="904.1" r="5"/><circle cx="1258.4" cy="901.9" r="5"/><circle cx="1248" cy="917.9" r="5"/><circle cx="1070.9" cy="733.7" r="5"/><circle cx="1075.3" cy="721" r="5"/><circle cx="1614.4" cy="938.7" r="5"/><circle cx="1617.2" cy="921.7" r="5"/><circle cx="1619.5" cy="928.9" r="5"/><circle cx="1609.8" cy="931.8" r="5"/><circle cx="1612" cy="923.1" r="5"/><circle cx="1604.2" cy="922.7" r="5"/><circle cx="1106.5" cy="563.3" r="5"/><circle cx="1115.1" cy="572.3" r="5"/><circle cx="1119.5" cy="568.6" r="5"/><circle cx="1100.3" cy="567.8" r="5"/><circle cx="1315.8" cy="412.3" r="5"/><circle cx="1301.9" cy="402.1" r="5"/><circle cx="1308.8" cy="403" r="5"/><circle cx="1310.2" cy="411" r="5"/><circle cx="789.1" cy="1071.1" r="5"/><circle cx="796.5" cy="1070.1" r="5"/><circle cx="799.6" cy="1061.2" r="5"/><circle cx="841.8" cy="1041.5" r="5"/><circle cx="840.9" cy="1048.7" r="5"/><circle cx="1531.1" cy="834.1" r="5"/><circle cx="1520.9" cy="839.7" r="5"/><circle cx="1524.2" cy="820.1" r="5"/><circle cx="1531.6" cy="829.3" r="5"/><circle cx="1530.1" cy="824.8" r="5"/><circle cx="1078.3" cy="308.2" r="5"/><circle cx="1071" cy="317" r="5"/><circle cx="1073.7" cy="301.3" r="5"/><circle cx="1078.8" cy="318.1" r="5"/><circle cx="1070.9" cy="309.4" r="5"/><circle cx="1477.7" cy="503.2" r="5"/><circle cx="1478.5" cy="511.8" r="5"/><circle cx="1468.3" cy="502.4" r="5"/><circle cx="1462.2" cy="506.3" r="5"/><circle cx="1217.4" cy="1070" r="5"/><circle cx="1208.4" cy="1067.8" r="5"/><circle cx="1207.4" cy="1077.1" r="5"/><circle cx="1063.4" cy="649.5" r="5"/><circle cx="1069" cy="653.7" r="5"/><circle cx="1071.8" cy="648" r="5"/><circle cx="1060.9" cy="642.1" r="5"/><circle cx="862.2" cy="839.7" r="5"/><circle cx="863.5" cy="825.4" r="5"/><circle cx="868" cy="826.9" r="5"/><circle cx="870.7" cy="820.4" r="5"/><circle cx="739.7" cy="634.6" r="5"/><circle cx="1273.8" cy="1076.3" r="5"/><circle cx="1278.8" cy="1078.3" r="5"/><circle cx="1265.6" cy="1066.6" r="5"/><circle cx="1273" cy="1063.2" r="5"/><circle cx="1623.3" cy="935.9" r="5"/><circle cx="1639.5" cy="933" r="5"/><circle cx="1633.8" cy="927.8" r="5"/><circle cx="1629.7" cy="931.5" r="5"/><circle cx="1472.9" cy="1006.6" r="5"/><circle cx="1469.2" cy="1018.2" r="5"/><circle cx="1465.7" cy="1003.6" r="5"/><circle cx="1474.5" cy="1012.4" r="5"/><circle cx="1208.1" cy="851.6" r="5"/><circle cx="1206.5" cy="855.5" r="5"/><circle cx="1207.7" cy="858.8" r="5"/><circle cx="1213.5" cy="852.3" r="5"/><circle cx="1214.6" cy="846.3" r="5"/><circle cx="1217.4" cy="856.4" r="5"/><circle cx="1208.9" cy="845.4" r="5"/><circle cx="1204.9" cy="847.4" r="5"/><circle cx="1029.9" cy="529.4" r="5"/><circle cx="1025.4" cy="522" r="5"/><circle cx="1405.2" cy="637.9" r="5"/><circle cx="1411.7" cy="623.6" r="5"/><circle cx="1417.1" cy="627.5" r="5"/><circle cx="1404.8" cy="629" r="5"/><circle cx="1551.5" cy="1006.6" r="5"/><circle cx="1559.3" cy="1017.3" r="5"/><circle cx="1423.9" cy="780" r="5"/><circle cx="1432.9" cy="783.9" r="5"/><circle cx="1438.6" cy="783.6" r="5"/><circle cx="1420.5" cy="790" r="5"/><circle cx="1431.5" cy="786.9" r="5"/><circle cx="1424.6" cy="794.9" r="5"/><circle cx="1429.5" cy="799.2" r="5"/><circle cx="1427.4" cy="791.4" r="5"/><circle cx="1424.6" cy="782.6" r="5"/><circle cx="1431.2" cy="795.5" r="5"/><circle cx="1428" cy="785.7" r="5"/><circle cx="1427.6" cy="780.7" r="5"/><circle cx="1435" cy="785.6" r="5"/><circle cx="1425.9" cy="788.8" r="5"/><circle cx="1436.3" cy="780.4" r="5"/><circle cx="1432.1" cy="791.1" r="5"/><circle cx="1437.8" cy="994" r="5"/><circle cx="1429.6" cy="985.2" r="5"/><circle cx="1422.7" cy="998.4" r="5"/><circle cx="1436.6" cy="980.5" r="5"/><circle cx="1424.2" cy="984.9" r="5"/><circle cx="1214.6" cy="913.3" r="5"/><circle cx="1217.8" cy="912.6" r="5"/><circle cx="1206.7" cy="905.7" r="5"/><circle cx="1202.2" cy="917.6" r="5"/><circle cx="1216.4" cy="903.3" r="5"/><circle cx="1201.8" cy="902.8" r="5"/><circle cx="1203.6" cy="905.7" r="5"/><circle cx="1215.6" cy="919.1" r="5"/><circle cx="1203.7" cy="901" r="5"/><circle cx="1204.6" cy="914.4" r="5"/><circle cx="1029.4" cy="610.7" r="5"/><circle cx="1035.3" cy="616.6" r="5"/><circle cx="1432.4" cy="1125.4" r="5"/><circle cx="930.1" cy="531.9" r="5"/><circle cx="926" cy="539.3" r="5"/><circle cx="926.8" cy="524.5" r="5"/><circle cx="1294.2" cy="929.3" r="5"/><circle cx="1296.1" cy="934.6" r="5"/><circle cx="1284.5" cy="921.5" r="5"/><circle cx="1299.8" cy="928.6" r="5"/><circle cx="1289.9" cy="934.7" r="5"/><circle cx="1248.2" cy="1048.9" r="5"/><circle cx="1242.9" cy="1050.7" r="5"/><circle cx="1249.3" cy="1054.5" r="5"/><circle cx="1257.2" cy="1051.7" r="5"/><circle cx="964.1" cy="514.2" r="5"/><circle cx="979.2" cy="507.4" r="5"/><circle cx="971.6" cy="519.5" r="5"/><circle cx="973.3" cy="500.4" r="5"/><circle cx="1178.9" cy="924.9" r="5"/><circle cx="1161.3" cy="933.5" r="5"/><circle cx="1160.4" cy="922.2" r="5"/><circle cx="1164.2" cy="922.1" r="5"/><circle cx="1171.7" cy="933.1" r="5"/><circle cx="1178.8" cy="935.4" r="5"/><circle cx="1249.3" cy="1154.1" r="5"/><circle cx="1249.9" cy="1149" r="5"/><circle cx="1259.7" cy="1156.2" r="5"/><circle cx="1252.3" cy="1158.6" r="5"/><circle cx="1244.3" cy="1147.1" r="5"/><circle cx="1234.8" cy="976.9" r="5"/><circle cx="1237.8" cy="965.8" r="5"/><circle cx="1231.4" cy="967.5" r="5"/><circle cx="1183.8" cy="259.1" r="5"/><circle cx="1198.6" cy="243.1" r="5"/><circle cx="1190.9" cy="251.4" r="5"/><circle cx="1182.9" cy="249.9" r="5"/><circle cx="1080.6" cy="679.5" r="5"/><circle cx="1089.6" cy="664.2" r="5"/><circle cx="1308.8" cy="1103.9" r="5"/><circle cx="1301.5" cy="1116.2" r="5"/><circle cx="1318.4" cy="1101.8" r="5"/><circle cx="1410.3" cy="1108.5" r="5"/><circle cx="1403.7" cy="1105.3" r="5"/><circle cx="1414.8" cy="1110.8" r="5"/><circle cx="1401.4" cy="1113.3" r="5"/><circle cx="1539.6" cy="892" r="5"/><circle cx="1531.4" cy="897.8" r="5"/><circle cx="1525.7" cy="893.9" r="5"/><circle cx="1330.8" cy="979.9" r="5"/><circle cx="1322.7" cy="967.1" r="5"/><circle cx="1333.5" cy="963.6" r="5"/><circle cx="1338.8" cy="975.7" r="5"/><circle cx="1325.4" cy="976.3" r="5"/><circle cx="507.6" cy="1002.9" r="5"/><circle cx="517.5" cy="1005.2" r="5"/><circle cx="1474.9" cy="775.9" r="5"/><circle cx="1465.1" cy="773.5" r="5"/><circle cx="1462.6" cy="768.5" r="5"/><circle cx="1471" cy="767.2" r="5"/><circle cx="1563.7" cy="615" r="5"/><circle cx="1568.4" cy="619.2" r="5"/><circle cx="1572.5" cy="606.6" r="5"/><circle cx="1576.3" cy="617.8" r="5"/><circle cx="1572.4" cy="613.6" r="5"/><circle cx="1564" cy="607.9" r="5"/><circle cx="1569" cy="603.9" r="5"/><circle cx="1314.1" cy="586.2" r="5"/><circle cx="1303.6" cy="586.3" r="5"/><circle cx="1316.6" cy="590.1" r="5"/><circle cx="1317.6" cy="595.1" r="5"/><circle cx="1305.4" cy="595.2" r="5"/><circle cx="1647.9" cy="910.3" r="5"/><circle cx="495.7" cy="1043.7" r="5"/><circle cx="481.8" cy="1052" r="5"/><circle cx="1132.1" cy="382.5" r="5"/><circle cx="1120.6" cy="396.4" r="5"/><circle cx="1275.8" cy="303" r="5"/><circle cx="1041.4" cy="320.4" r="5"/><circle cx="1059.3" cy="334.4" r="5"/><circle cx="1045.4" cy="329.8" r="5"/><circle cx="1053" cy="330.8" r="5"/><circle cx="1040.9" cy="335.5" r="5"/><circle cx="1040.1" cy="327.4" r="5"/><circle cx="1002.3" cy="1035.4" r="5"/><circle cx="1016.1" cy="1032.2" r="5"/><circle cx="1171.8" cy="1040.8" r="5"/><circle cx="1179.7" cy="1047.3" r="5"/><circle cx="1168.6" cy="1053.9" r="5"/><circle cx="1176.2" cy="1045.2" r="5"/><circle cx="1169.8" cy="1047.2" r="5"/><circle cx="1164.4" cy="1051.5" r="5"/><circle cx="889.2" cy="1030.6" r="5"/><circle cx="892.6" cy="1022.1" r="5"/><circle cx="884.9" cy="1028.9" r="5"/><circle cx="1360.6" cy="734.3" r="5"/><circle cx="1376.1" cy="727.2" r="5"/><circle cx="1379.2" cy="729.8" r="5"/><circle cx="1371.8" cy="723.7" r="5"/><circle cx="1371.1" cy="734.1" r="5"/><circle cx="1361.1" cy="727.9" r="5"/><circle cx="1001.3" cy="451.7" r="5"/><circle cx="1575.7" cy="528" r="5"/><circle cx="1563.8" cy="526.9" r="5"/><circle cx="1146.7" cy="716.7" r="5"/><circle cx="1158.4" cy="703.3" r="5"/><circle cx="1157.4" cy="709.9" r="5"/><circle cx="1140" cy="719" r="5"/><circle cx="1155" cy="706.7" r="5"/><circle cx="1085.6" cy="1019.6" r="5"/><circle cx="1293.4" cy="644.1" r="5"/><circle cx="1282.6" cy="649.9" r="5"/><circle cx="1295.5" cy="653.6" r="5"/><circle cx="768.3" cy="692.3" r="5"/><circle cx="1646.5" cy="980.7" r="5"/><circle cx="1652.3" cy="998.6" r="5"/><circle cx="1650.4" cy="990.4" r="5"/><circle cx="1656" cy="994.7" r="5"/><circle cx="1651.2" cy="983.2" r="5"/><circle cx="950.2" cy="613.7" r="5"/><circle cx="959.4" cy="618.6" r="5"/><circle cx="957.8" cy="616.6" r="5"/><circle cx="946.7" cy="604.5" r="5"/><circle cx="940.4" cy="614" r="5"/><circle cx="945.7" cy="607.3" r="5"/><circle cx="954.9" cy="607.6" r="5"/><circle cx="1249.4" cy="1116.6" r="5"/><circle cx="1259" cy="1102.1" r="5"/><circle cx="1284" cy="1035.8" r="5"/><circle cx="1280.7" cy="1030.8" r="5"/><circle cx="1297.6" cy="1025.1" r="5"/><circle cx="1286" cy="1021" r="5"/><circle cx="1461" cy="644" r="5"/><circle cx="1471.1" cy="653.3" r="5"/><circle cx="1479.7" cy="649.8" r="5"/><circle cx="1469.3" cy="642.3" r="5"/><circle cx="1185.3" cy="428" r="5"/><circle cx="1309.1" cy="672.1" r="5"/><circle cx="1315.8" cy="668.5" r="5"/><circle cx="1539.5" cy="526.4" r="5"/><circle cx="1527.3" cy="538.9" r="5"/><circle cx="1520.7" cy="525.8" r="5"/><circle cx="1533.5" cy="530.4" r="5"/><circle cx="1526.1" cy="527.2" r="5"/><circle cx="966.8" cy="890.8" r="5"/><circle cx="1380.3" cy="910.2" r="5"/><circle cx="1391.2" cy="915.4" r="5"/><circle cx="1086.1" cy="260.1" r="5"/><circle cx="1080.6" cy="275.1" r="5"/><circle cx="1081.9" cy="264.6" r="5"/><circle cx="1094.4" cy="263.9" r="5"/><circle cx="1097.5" cy="269.6" r="5"/><circle cx="892.1" cy="1014.4" r="5"/><circle cx="887.3" cy="1018.4" r="5"/><circle cx="1217.2" cy="898" r="5"/><circle cx="1219.1" cy="887.5" r="5"/><circle cx="1214" cy="882.9" r="5"/><circle cx="1203.8" cy="895.7" r="5"/><circle cx="1218.7" cy="882.3" r="5"/><circle cx="1202.5" cy="888.2" r="5"/><circle cx="1205.7" cy="891.5" r="5"/><circle cx="830.8" cy="906.3" r="5"/><circle cx="1043.1" cy="895.3" r="5"/><circle cx="1048.4" cy="881.1" r="5"/><circle cx="1054.7" cy="888.8" r="5"/><circle cx="1362.5" cy="638.7" r="5"/><circle cx="1372" cy="637.6" r="5"/><circle cx="1047.5" cy="827.7" r="5"/><circle cx="1048.8" cy="821.4" r="5"/><circle cx="1041.2" cy="836.2" r="5"/><circle cx="1119.5" cy="250.6" r="5"/><circle cx="1112.8" cy="242.5" r="5"/><circle cx="816" cy="944.4" r="5"/><circle cx="1508.3" cy="1018.4" r="5"/><circle cx="1506.7" cy="1007.8" r="5"/><circle cx="1502.2" cy="1012.1" r="5"/><circle cx="1516.9" cy="1011.4" r="5"/><circle cx="1080.4" cy="762.5" r="5"/><circle cx="1091.9" cy="767.8" r="5"/><circle cx="1097.4" cy="776.6" r="5"/><circle cx="1062.5" cy="412" r="5"/><circle cx="1042.5" cy="627.2" r="5"/><circle cx="1050.4" cy="624.8" r="5"/><circle cx="884.8" cy="815.1" r="5"/><circle cx="437.1" cy="987.1" r="5"/><circle cx="1135.1" cy="815.2" r="5"/><circle cx="1123.6" cy="819.9" r="5"/><circle cx="1136.9" cy="801.8" r="5"/><circle cx="1138.5" cy="807.7" r="5"/><circle cx="1125.8" cy="810.9" r="5"/><circle cx="1238.8" cy="933.6" r="5"/><circle cx="1236.3" cy="927.8" r="5"/><circle cx="1222.6" cy="925" r="5"/><circle cx="1221.9" cy="938" r="5"/><circle cx="1234.2" cy="937.7" r="5"/><circle cx="1232.9" cy="931.4" r="5"/><circle cx="1226.3" cy="939.9" r="5"/><circle cx="1063.7" cy="672.4" r="5"/><circle cx="1065.4" cy="660.2" r="5"/><circle cx="1079.5" cy="663.2" r="5"/><circle cx="1072.6" cy="673.3" r="5"/><circle cx="1038.1" cy="275.7" r="5"/><circle cx="1252.9" cy="766.6" r="5"/><circle cx="1244.4" cy="763.1" r="5"/><circle cx="1250.8" cy="773.6" r="5"/><circle cx="1126.7" cy="885.7" r="5"/><circle cx="1136.9" cy="891.7" r="5"/><circle cx="1129.3" cy="891" r="5"/><circle cx="690.4" cy="706.9" r="5"/><circle cx="472.8" cy="819.1" r="5"/><circle cx="1386.3" cy="791.9" r="5"/><circle cx="1392.1" cy="796.4" r="5"/><circle cx="1394.9" cy="781.8" r="5"/><circle cx="1062.1" cy="441.2" r="5"/><circle cx="1061.6" cy="448.9" r="5"/><circle cx="1178.7" cy="735.8" r="5"/><circle cx="1162.2" cy="739.1" r="5"/><circle cx="1162.2" cy="722.1" r="5"/><circle cx="1166.4" cy="729.8" r="5"/><circle cx="1174.3" cy="729.9" r="5"/><circle cx="966.2" cy="627" r="5"/><circle cx="973.6" cy="634.2" r="5"/><circle cx="967" cy="633.1" r="5"/><circle cx="972.4" cy="629.3" r="5"/><circle cx="978.9" cy="624.4" r="5"/><circle cx="1572" cy="962.1" r="5"/><circle cx="1576.9" cy="975.9" r="5"/><circle cx="1560.4" cy="964.2" r="5"/><circle cx="1348.7" cy="635.8" r="5"/><circle cx="1342.4" cy="638.5" r="5"/><circle cx="1354.8" cy="627.4" r="5"/><circle cx="1347.3" cy="628.5" r="5"/><circle cx="1119.7" cy="1081.7" r="5"/><circle cx="1113.8" cy="1099.7" r="5"/><circle cx="886.3" cy="482.4" r="5"/><circle cx="885.7" cy="497.6" r="5"/><circle cx="892.3" cy="494.9" r="5"/><circle cx="1421.5" cy="724.7" r="5"/><circle cx="1439.4" cy="735.5" r="5"/><circle cx="1430.3" cy="725.9" r="5"/><circle cx="1429.3" cy="737.8" r="5"/><circle cx="1437.5" cy="730.8" r="5"/><circle cx="1122.4" cy="654.3" r="5"/><circle cx="1125.5" cy="647.7" r="5"/><circle cx="1129.4" cy="650.9" r="5"/><circle cx="1127.9" cy="657.3" r="5"/><circle cx="1408.1" cy="938.9" r="5"/><circle cx="1406.8" cy="929.9" r="5"/><circle cx="1402.5" cy="927.2" r="5"/><circle cx="1413.4" cy="923.7" r="5"/><circle cx="1411.7" cy="936" r="5"/><circle cx="1526.5" cy="989.8" r="5"/><circle cx="1522.1" cy="999.9" r="5"/><circle cx="1535.4" cy="998.6" r="5"/><circle cx="1560.5" cy="871.5" r="5"/><circle cx="1562.6" cy="862.6" r="5"/><circle cx="1572" cy="871.2" r="5"/><circle cx="1167.9" cy="469.4" r="5"/><circle cx="1176.2" cy="468.7" r="5"/><circle cx="1176.5" cy="477.8" r="5"/><circle cx="1275.5" cy="923" r="5"/><circle cx="1263.2" cy="931.4" r="5"/><circle cx="1278.5" cy="926.8" r="5"/><circle cx="1265.4" cy="938.9" r="5"/><circle cx="1275.7" cy="936.4" r="5"/><circle cx="1268.9" cy="921.8" r="5"/><circle cx="1503.6" cy="676.2" r="5"/><circle cx="1511.4" cy="661.5" r="5"/><circle cx="1516.9" cy="670.4" r="5"/><circle cx="1517.6" cy="678.5" r="5"/><circle cx="1510.2" cy="669.5" r="5"/><circle cx="1514.7" cy="666.1" r="5"/><circle cx="1500" cy="678.3" r="5"/><circle cx="1516.1" cy="674.3" r="5"/><circle cx="1510.1" cy="674.3" r="5"/><circle cx="1364.8" cy="531.1" r="5"/><circle cx="1365.8" cy="523.7" r="5"/><circle cx="1379.2" cy="533.1" r="5"/><circle cx="1371.5" cy="532.8" r="5"/><circle cx="1371.2" cy="527.2" r="5"/><circle cx="1368.9" cy="903.5" r="5"/><circle cx="1367.5" cy="917.2" r="5"/><circle cx="1361.6" cy="918.4" r="5"/><circle cx="1373.4" cy="914.7" r="5"/><circle cx="828.9" cy="619.5" r="5"/><circle cx="1003.4" cy="576.4" r="5"/><circle cx="1017.9" cy="574.2" r="5"/><circle cx="1007.6" cy="572.3" r="5"/><circle cx="1013.2" cy="562.8" r="5"/><circle cx="1018.9" cy="563.7" r="5"/><circle cx="1025.8" cy="766.1" r="5"/><circle cx="1038.9" cy="764.8" r="5"/><circle cx="1031.9" cy="765.9" r="5"/><circle cx="652.2" cy="888.9" r="5"/><circle cx="1441.4" cy="646.9" r="5"/><circle cx="1440.1" cy="655.1" r="5"/><circle cx="1451.8" cy="646.6" r="5"/><circle cx="1301.6" cy="1096.5" r="5"/><circle cx="1302.6" cy="1083.9" r="5"/><circle cx="1319.6" cy="1086.4" r="5"/><circle cx="1306.5" cy="1081.5" r="5"/><circle cx="1487.6" cy="734" r="5"/><circle cx="1493.8" cy="730.5" r="5"/><circle cx="1482.4" cy="739.8" r="5"/><circle cx="958.7" cy="1017.2" r="5"/><circle cx="944.2" cy="1016" r="5"/><circle cx="954.6" cy="1001.7" r="5"/><circle cx="1526" cy="845.8" r="5"/><circle cx="1528" cy="852.4" r="5"/><circle cx="1110" cy="632.8" r="5"/><circle cx="1109.7" cy="620.5" r="5"/><circle cx="1102.3" cy="624.9" r="5"/><circle cx="1225.7" cy="821" r="5"/><circle cx="1227.3" cy="833.2" r="5"/><circle cx="1221.2" cy="830.4" r="5"/><circle cx="1226.7" cy="825.7" r="5"/><circle cx="1234.9" cy="822.4" r="5"/><circle cx="1609" cy="1023.9" r="5"/><circle cx="1035" cy="985.2" r="5"/><circle cx="1024.1" cy="991" r="5"/><circle cx="1020.4" cy="997" r="5"/><circle cx="1029.2" cy="996.5" r="5"/><circle cx="1209.4" cy="1038.7" r="5"/><circle cx="1201.6" cy="1024.4" r="5"/><circle cx="1207" cy="1030.6" r="5"/><circle cx="1219.1" cy="1026.7" r="5"/><circle cx="1192.3" cy="309.7" r="5"/><circle cx="1197.1" cy="318.4" r="5"/><circle cx="1190.1" cy="303.2" r="5"/><circle cx="1198" cy="412.2" r="5"/><circle cx="908" cy="641" r="5"/><circle cx="919" cy="652.1" r="5"/><circle cx="912" cy="651.6" r="5"/><circle cx="901.6" cy="642" r="5"/><circle cx="1317.9" cy="1027.6" r="5"/><circle cx="1314.3" cy="1038.3" r="5"/><circle cx="1314" cy="1032.4" r="5"/><circle cx="1308.8" cy="1027.4" r="5"/><circle cx="963.4" cy="687.3" r="5"/><circle cx="972.7" cy="698.9" r="5"/><circle cx="978.3" cy="697.2" r="5"/><circle cx="961.4" cy="680.7" r="5"/><circle cx="963.7" cy="683.5" r="5"/><circle cx="967.1" cy="681.8" r="5"/><circle cx="969.5" cy="688.6" r="5"/><circle cx="965" cy="694" r="5"/><circle cx="509.7" cy="797.2" r="5"/><circle cx="513" cy="789.7" r="5"/><circle cx="751.6" cy="861.3" r="5"/><circle cx="1410.4" cy="1029.7" r="5"/><circle cx="1408" cy="1039.2" r="5"/><circle cx="1415.1" cy="1033.3" r="5"/><circle cx="1404.1" cy="1029" r="5"/><circle cx="1412.6" cy="1039.2" r="5"/><circle cx="1413.6" cy="1024.9" r="5"/><circle cx="1629.1" cy="908.7" r="5"/><circle cx="1628.2" cy="915.6" r="5"/><circle cx="1233.4" cy="1122.7" r="5"/><circle cx="1237.1" cy="1125.4" r="5"/><circle cx="1222.6" cy="1139.8" r="5"/><circle cx="1230.5" cy="1126.2" r="5"/><circle cx="1227.7" cy="1130.9" r="5"/><circle cx="1227.7" cy="1137.7" r="5"/><circle cx="1232.3" cy="1131.6" r="5"/><circle cx="1238.4" cy="1139.8" r="5"/><circle cx="1235.6" cy="1136.9" r="5"/><circle cx="1220.5" cy="1121" r="5"/><circle cx="547.8" cy="957.1" r="5"/><circle cx="552.4" cy="952" r="5"/><circle cx="1472.9" cy="903.4" r="5"/><circle cx="1469" cy="917.9" r="5"/><circle cx="853.7" cy="546.1" r="5"/><circle cx="859.1" cy="542.3" r="5"/><circle cx="851.4" cy="553" r="5"/><circle cx="855" cy="557.7" r="5"/><circle cx="1672.4" cy="841.4" r="5"/><circle cx="1679.3" cy="847.3" r="5"/><circle cx="1673.7" cy="857.7" r="5"/><circle cx="1665.4" cy="851.3" r="5"/><circle cx="999.1" cy="461.6" r="5"/><circle cx="1014.4" cy="667.9" r="5"/><circle cx="1009" cy="670.5" r="5"/><circle cx="955.2" cy="946.1" r="5"/><circle cx="1304.3" cy="450.6" r="5"/><circle cx="1310.3" cy="443.8" r="5"/><circle cx="1309.1" cy="457.6" r="5"/><circle cx="1313.6" cy="451" r="5"/><circle cx="1191.5" cy="608.4" r="5"/><circle cx="1180.1" cy="607.1" r="5"/><circle cx="1190.7" cy="618.2" r="5"/><circle cx="984.2" cy="448.6" r="5"/><circle cx="995.1" cy="454.2" r="5"/><circle cx="986.4" cy="440.4" r="5"/><circle cx="1455.2" cy="1013.3" r="5"/><circle cx="1453.6" cy="1018.4" r="5"/><circle cx="1444.6" cy="1015" r="5"/><circle cx="1442.2" cy="1007.3" r="5"/><circle cx="855" cy="694.7" r="5"/><circle cx="1270.5" cy="704.3" r="5"/><circle cx="1278.6" cy="701.1" r="5"/><circle cx="866.9" cy="951.9" r="5"/><circle cx="1185.4" cy="287" r="5"/><circle cx="1180.4" cy="292.5" r="5"/><circle cx="1194.5" cy="284.8" r="5"/><circle cx="1199.5" cy="296.8" r="5"/><circle cx="1189.3" cy="283.2" r="5"/><circle cx="1191.4" cy="298.6" r="5"/><circle cx="1563.2" cy="760" r="5"/><circle cx="1215.3" cy="1058.6" r="5"/><circle cx="1219.1" cy="1053.3" r="5"/><circle cx="1204.9" cy="1047.8" r="5"/><circle cx="1115.2" cy="677.2" r="5"/><circle cx="1106.2" cy="664.3" r="5"/><circle cx="1100.9" cy="669.8" r="5"/><circle cx="989.2" cy="511.9" r="5"/><circle cx="981.4" cy="501.8" r="5"/><circle cx="993.6" cy="504.9" r="5"/><circle cx="995.6" cy="519.9" r="5"/><circle cx="997.1" cy="508.7" r="5"/><circle cx="927.2" cy="585.2" r="5"/><circle cx="928.7" cy="593.5" r="5"/><circle cx="1073.9" cy="847" r="5"/><circle cx="1066.4" cy="851.5" r="5"/><circle cx="1208.1" cy="318.7" r="5"/><circle cx="1207.5" cy="309.5" r="5"/><circle cx="1213.6" cy="311.5" r="5"/><circle cx="948.8" cy="660.3" r="5"/><circle cx="940.6" cy="679.4" r="5"/><circle cx="952.3" cy="679.8" r="5"/><circle cx="955.3" cy="664.8" r="5"/><circle cx="955.9" cy="675.6" r="5"/><circle cx="1250.1" cy="347.6" r="5"/><circle cx="1095.8" cy="327.2" r="5"/><circle cx="1093.3" cy="335.4" r="5"/><circle cx="1086.4" cy="326.4" r="5"/><circle cx="896.7" cy="682.4" r="5"/><circle cx="892.4" cy="689.7" r="5"/><circle cx="1445" cy="1051.6" r="5"/><circle cx="1449.3" cy="1048.9" r="5"/><circle cx="1458.5" cy="1049.2" r="5"/><circle cx="1453.5" cy="1043.5" r="5"/><circle cx="1594.1" cy="704.9" r="5"/><circle cx="1599.4" cy="715.7" r="5"/><circle cx="1586.7" cy="716.2" r="5"/><circle cx="1581.7" cy="708.4" r="5"/><circle cx="1590.7" cy="720" r="5"/><circle cx="906.8" cy="1032.1" r="5"/><circle cx="963.3" cy="489.1" r="5"/><circle cx="979.7" cy="484.4" r="5"/><circle cx="969.9" cy="480.8" r="5"/><circle cx="969.3" cy="484.3" r="5"/><circle cx="965" cy="481.9" r="5"/><circle cx="974.6" cy="484.7" r="5"/><circle cx="968.9" cy="498.3" r="5"/><circle cx="970.6" cy="492.1" r="5"/><circle cx="958.6" cy="700" r="5"/><circle cx="1280.2" cy="357.7" r="5"/><circle cx="1297" cy="354.6" r="5"/><circle cx="1057.8" cy="813" r="5"/><circle cx="1046.2" cy="815.4" r="5"/><circle cx="1051.1" cy="811.8" r="5"/><circle cx="1049.6" cy="807.2" r="5"/><circle cx="1511.8" cy="937" r="5"/><circle cx="1502.4" cy="933.1" r="5"/><circle cx="1505.2" cy="927.5" r="5"/><circle cx="1509.9" cy="920" r="5"/><circle cx="1515.2" cy="923.9" r="5"/><circle cx="710.9" cy="641.9" r="5"/><circle cx="719.2" cy="657.5" r="5"/><circle cx="1570" cy="673.1" r="5"/><circle cx="1566" cy="662.6" r="5"/><circle cx="1577.8" cy="673.8" r="5"/><circle cx="870.7" cy="666.6" r="5"/><circle cx="1450.3" cy="711.7" r="5"/><circle cx="1447.3" cy="716.8" r="5"/><circle cx="1441.7" cy="718.1" r="5"/><circle cx="1443.3" cy="709.5" r="5"/><circle cx="1316.4" cy="509.8" r="5"/><circle cx="1305.5" cy="505.3" r="5"/><circle cx="1302" cy="508.2" r="5"/><circle cx="1301.5" cy="502.4" r="5"/><circle cx="1312.3" cy="518.3" r="5"/><circle cx="955.1" cy="686.3" r="5"/><circle cx="945.5" cy="684" r="5"/><circle cx="643.7" cy="785.9" r="5"/><circle cx="1118.9" cy="433.1" r="5"/><circle cx="1002.2" cy="693.2" r="5"/><circle cx="1012.9" cy="688.2" r="5"/><circle cx="1000.4" cy="687.1" r="5"/><circle cx="1004.7" cy="684.5" r="5"/><circle cx="1000.5" cy="698.2" r="5"/><circle cx="1007.4" cy="692.2" r="5"/><circle cx="1009.5" cy="681.7" r="5"/><circle cx="1145.1" cy="676.3" r="5"/><circle cx="1141.6" cy="673.1" r="5"/><circle cx="1158.4" cy="676.6" r="5"/><circle cx="1147.5" cy="664.1" r="5"/><circle cx="1238.9" cy="303.3" r="5"/><circle cx="1231" cy="312" r="5"/><circle cx="1229.4" cy="302.9" r="5"/><circle cx="1224.5" cy="311.1" r="5"/><circle cx="1327.5" cy="420.3" r="5"/><circle cx="1321.7" cy="422.1" r="5"/><circle cx="1327.3" cy="431" r="5"/><circle cx="1323.9" cy="426.2" r="5"/><circle cx="1336.8" cy="430.7" r="5"/><circle cx="1322" cy="437.8" r="5"/><circle cx="1336.1" cy="426.6" r="5"/><circle cx="1198.5" cy="597.2" r="5"/><circle cx="1185.7" cy="593" r="5"/><circle cx="1192.8" cy="597" r="5"/><circle cx="1186.8" cy="580.6" r="5"/><circle cx="1186.2" cy="585.6" r="5"/><circle cx="1457" cy="455.3" r="5"/><circle cx="1457.3" cy="446.2" r="5"/><circle cx="881.2" cy="507.6" r="5"/><circle cx="887.5" cy="519.8" r="5"/><circle cx="885.4" cy="512.7" r="5"/><circle cx="895.1" cy="505.3" r="5"/><circle cx="893.2" cy="516.3" r="5"/><circle cx="898.2" cy="518.3" r="5"/><circle cx="898.8" cy="504.6" r="5"/><circle cx="872.4" cy="756.8" r="5"/><circle cx="913.3" cy="895.3" r="5"/><circle cx="1494.8" cy="636.7" r="5"/><circle cx="1484.1" cy="628.5" r="5"/><circle cx="1489" cy="637.3" r="5"/><circle cx="1156.2" cy="331.8" r="5"/><circle cx="1145.8" cy="334.2" r="5"/><circle cx="1158.9" cy="321.4" r="5"/><circle cx="1141.9" cy="321.5" r="5"/><circle cx="1303.5" cy="951.8" r="5"/><circle cx="1316.5" cy="949.7" r="5"/><circle cx="1304.3" cy="956.3" r="5"/><circle cx="1318.5" cy="942.5" r="5"/><circle cx="1368.1" cy="789.9" r="5"/><circle cx="1377.5" cy="790.4" r="5"/><circle cx="1361" cy="786.8" r="5"/><circle cx="707.1" cy="983.6" r="5"/><circle cx="1179.8" cy="836.2" r="5"/><circle cx="1178.5" cy="825.8" r="5"/><circle cx="1175.5" cy="838.9" r="5"/><circle cx="1172.5" cy="823.8" r="5"/><circle cx="1164.8" cy="828.2" r="5"/><circle cx="1179.6" cy="820.4" r="5"/><circle cx="1170.7" cy="827.9" r="5"/><circle cx="1164" cy="834.1" r="5"/><circle cx="1191.1" cy="333.5" r="5"/><circle cx="1188.2" cy="321.5" r="5"/><circle cx="1191.2" cy="946" r="5"/><circle cx="1197.8" cy="956" r="5"/><circle cx="1198.2" cy="941.2" r="5"/><circle cx="1181.9" cy="947.2" r="5"/><circle cx="1180.2" cy="955.5" r="5"/><circle cx="1193" cy="959" r="5"/><circle cx="1186.4" cy="950.4" r="5"/><circle cx="1277.8" cy="364.1" r="5"/><circle cx="1264.7" cy="364.2" r="5"/><circle cx="1271.1" cy="363.4" r="5"/><circle cx="1406.2" cy="979.7" r="5"/><circle cx="1409" cy="972.1" r="5"/><circle cx="1419" cy="972.8" r="5"/><circle cx="1418" cy="979.2" r="5"/><circle cx="1400.3" cy="976.3" r="5"/><circle cx="1403.6" cy="966.9" r="5"/><circle cx="1559" cy="570.6" r="5"/><circle cx="1543.1" cy="572.6" r="5"/><circle cx="1548.9" cy="560.7" r="5"/><circle cx="1540.4" cy="576.1" r="5"/><circle cx="1548.4" cy="566.7" r="5"/><circle cx="1557.1" cy="565.2" r="5"/><circle cx="576.7" cy="821.2" r="5"/><circle cx="1404.3" cy="718.7" r="5"/><circle cx="1401.9" cy="713.4" r="5"/><circle cx="1412.4" cy="705.6" r="5"/><circle cx="1403.6" cy="702.7" r="5"/><circle cx="1408.3" cy="709.7" r="5"/><circle cx="1417.5" cy="702.8" r="5"/><circle cx="1416.8" cy="709.9" r="5"/><circle cx="1210.2" cy="558" r="5"/><circle cx="1491.2" cy="663.8" r="5"/><circle cx="1494.4" cy="679.1" r="5"/><circle cx="1488.7" cy="674.3" r="5"/><circle cx="1487.1" cy="660.9" r="5"/><circle cx="1489.2" cy="668.7" r="5"/><circle cx="1350.2" cy="976" r="5"/><circle cx="1348.7" cy="964.7" r="5"/><circle cx="1342.7" cy="960.6" r="5"/><circle cx="1343" cy="965.6" r="5"/><circle cx="1451.5" cy="724.3" r="5"/><circle cx="1458.8" cy="724.6" r="5"/><circle cx="1449" cy="733.3" r="5"/><circle cx="1263.7" cy="919.8" r="5"/><circle cx="1271.2" cy="905.2" r="5"/><circle cx="1260.9" cy="905.9" r="5"/><circle cx="1263.1" cy="913.5" r="5"/><circle cx="992" cy="592.1" r="5"/><circle cx="998" cy="599.1" r="5"/><circle cx="996.4" cy="580.2" r="5"/><circle cx="982.6" cy="582.1" r="5"/><circle cx="985.5" cy="592.6" r="5"/><circle cx="1540" cy="946.1" r="5"/><circle cx="1538.1" cy="954.5" r="5"/><circle cx="1522.9" cy="958.1" r="5"/><circle cx="1535.2" cy="950.4" r="5"/><circle cx="1528.8" cy="943.9" r="5"/><circle cx="1236.2" cy="1172.5" r="5"/><circle cx="1234.2" cy="1167.1" r="5"/><circle cx="1239.2" cy="1160.8" r="5"/><circle cx="1221.1" cy="1174.5" r="5"/><circle cx="1228.9" cy="1163.5" r="5"/><circle cx="1185.9" cy="563.8" r="5"/><circle cx="1194.4" cy="578.5" r="5"/><circle cx="1190.7" cy="562" r="5"/><circle cx="1184.4" cy="568.1" r="5"/><circle cx="1191.4" cy="576.6" r="5"/><circle cx="1183.6" cy="576.9" r="5"/><circle cx="1188.8" cy="573.1" r="5"/><circle cx="1325.1" cy="815.5" r="5"/><circle cx="1323.7" cy="811.3" r="5"/><circle cx="1321.3" cy="816.4" r="5"/><circle cx="1331.2" cy="805.6" r="5"/><circle cx="1332.5" cy="811" r="5"/><circle cx="1324.4" cy="800.6" r="5"/><circle cx="1260.2" cy="523.1" r="5"/><circle cx="1277.7" cy="528.4" r="5"/><circle cx="1037" cy="646.8" r="5"/><circle cx="1033.1" cy="640.3" r="5"/><circle cx="1496.6" cy="539.6" r="5"/><circle cx="1489.3" cy="523.2" r="5"/><circle cx="1489.4" cy="528.6" r="5"/><circle cx="1482.4" cy="528.3" r="5"/><circle cx="1536.5" cy="597.2" r="5"/><circle cx="1521.7" cy="598.4" r="5"/><circle cx="1527.2" cy="581" r="5"/><circle cx="1530.7" cy="593.6" r="5"/><circle cx="1150.9" cy="1126.4" r="5"/><circle cx="1140.2" cy="1127.5" r="5"/><circle cx="1284.9" cy="494.3" r="5"/><circle cx="1294.5" cy="497.3" r="5"/><circle cx="810.4" cy="771.5" r="5"/><circle cx="807.4" cy="761" r="5"/><circle cx="1504.8" cy="1031.9" r="5"/><circle cx="1511.6" cy="1028.8" r="5"/><circle cx="1505.5" cy="1078.1" r="5"/><circle cx="1516.9" cy="1075.6" r="5"/><circle cx="1335.9" cy="727.6" r="5"/><circle cx="1327.7" cy="721.3" r="5"/><circle cx="1330.7" cy="732.9" r="5"/><circle cx="991.5" cy="1053" r="5"/><circle cx="987.1" cy="1046.5" r="5"/><circle cx="1288.8" cy="1170.2" r="5"/><circle cx="1283.8" cy="1166" r="5"/><circle cx="1287.9" cy="1175.8" r="5"/><circle cx="1281.8" cy="1178.3" r="5"/><circle cx="1299.3" cy="1165.6" r="5"/><circle cx="1299.3" cy="1176.1" r="5"/><circle cx="984" cy="796.4" r="5"/><circle cx="1490.6" cy="757" r="5"/><circle cx="1489.6" cy="750.6" r="5"/><circle cx="1546.8" cy="958.3" r="5"/><circle cx="1550.3" cy="951" r="5"/><circle cx="1546.7" cy="941.1" r="5"/><circle cx="1266.7" cy="491.9" r="5"/><circle cx="1272.5" cy="498" r="5"/><circle cx="1227.4" cy="703.4" r="5"/><circle cx="1238.2" cy="715.3" r="5"/><circle cx="1220" cy="706" r="5"/><circle cx="1233.6" cy="716" r="5"/><circle cx="1205.4" cy="1008.5" r="5"/><circle cx="1208.1" cy="1018.4" r="5"/><circle cx="1201.8" cy="1004.1" r="5"/><circle cx="1217" cy="1010.2" r="5"/><circle cx="1307.9" cy="776.6" r="5"/><circle cx="1307.6" cy="767.7" r="5"/><circle cx="1316.4" cy="760.2" r="5"/><circle cx="862.8" cy="556.7" r="5"/><circle cx="879" cy="547.7" r="5"/><circle cx="873" cy="559.1" r="5"/><circle cx="879.7" cy="559.5" r="5"/><circle cx="876.8" cy="552.5" r="5"/><circle cx="877.4" cy="541.6" r="5"/><circle cx="1577.7" cy="951.7" r="5"/><circle cx="1579.1" cy="943.2" r="5"/><circle cx="1571.8" cy="941.7" r="5"/><circle cx="925.8" cy="1056.8" r="5"/><circle cx="920.8" cy="1050.5" r="5"/><circle cx="1407.6" cy="1011.7" r="5"/><circle cx="1410.2" cy="1018.7" r="5"/><circle cx="1417" cy="1012.9" r="5"/><circle cx="1410.7" cy="1004.7" r="5"/><circle cx="1405" cy="1006" r="5"/><circle cx="1199" cy="991" r="5"/><circle cx="1184.4" cy="995.8" r="5"/><circle cx="1185.4" cy="981" r="5"/><circle cx="1182.5" cy="986.2" r="5"/><circle cx="1191" cy="986.7" r="5"/><circle cx="1189.4" cy="997.2" r="5"/><circle cx="1102" cy="1115.3" r="5"/><circle cx="1112.4" cy="1115.7" r="5"/><circle cx="1113.1" cy="1108.1" r="5"/><circle cx="700.2" cy="887.8" r="5"/><circle cx="1169.8" cy="985.9" r="5"/><circle cx="1162.2" cy="997.9" r="5"/><circle cx="1173.2" cy="998.6" r="5"/><circle cx="1172.4" cy="993.5" r="5"/><circle cx="1163.8" cy="985.2" r="5"/><circle cx="848.9" cy="1018.8" r="5"/><circle cx="1124.6" cy="1116.2" r="5"/><circle cx="1123.7" cy="1104.8" r="5"/><circle cx="1468.6" cy="1078.6" r="5"/><circle cx="1464.3" cy="1065.1" r="5"/><circle cx="983.3" cy="849.3" r="5"/><circle cx="618.8" cy="891.7" r="5"/><circle cx="609.2" cy="888.3" r="5"/><circle cx="846.9" cy="871.3" r="5"/><circle cx="972.7" cy="806.2" r="5"/><circle cx="1536.2" cy="759.5" r="5"/><circle cx="1529.2" cy="742.4" r="5"/><circle cx="1531.6" cy="749.7" r="5"/><circle cx="856.2" cy="503.7" r="5"/><circle cx="1089.7" cy="1046.9" r="5"/><circle cx="1097.1" cy="1052.5" r="5"/><circle cx="654.4" cy="1001.2" r="5"/><circle cx="654" cy="1013.3" r="5"/><circle cx="1513.2" cy="777.9" r="5"/><circle cx="1505.4" cy="764.2" r="5"/><circle cx="1363.1" cy="1156.6" r="5"/><circle cx="1371" cy="1151.7" r="5"/><circle cx="1254.2" cy="400.3" r="5"/><circle cx="1254.6" cy="414.1" r="5"/><circle cx="1259.7" cy="407.7" r="5"/><circle cx="1243.6" cy="409.4" r="5"/><circle cx="948.7" cy="442.2" r="5"/><circle cx="949.7" cy="455" r="5"/><circle cx="944.9" cy="450.2" r="5"/><circle cx="824.3" cy="709.6" r="5"/><circle cx="1227.1" cy="1119.4" r="5"/><circle cx="1223.1" cy="1103.3" r="5"/><circle cx="1225.9" cy="1107.8" r="5"/><circle cx="951.1" cy="487.1" r="5"/><circle cx="959.7" cy="495.6" r="5"/><circle cx="951.9" cy="494.3" r="5"/><circle cx="957.6" cy="483.7" r="5"/><circle cx="1625.3" cy="875.8" r="5"/><circle cx="1632.2" cy="869.2" r="5"/><circle cx="1391.8" cy="433.3" r="5"/><circle cx="1384.1" cy="422.2" r="5"/><circle cx="1388" cy="436.7" r="5"/><circle cx="1394.7" cy="423.2" r="5"/><circle cx="1393.1" cy="426.7" r="5"/><circle cx="1389.8" cy="429" r="5"/><circle cx="1385.4" cy="434" r="5"/><circle cx="1284" cy="847.8" r="5"/><circle cx="1288.3" cy="855.7" r="5"/><circle cx="1293.9" cy="852.8" r="5"/><circle cx="1289.2" cy="850.3" r="5"/><circle cx="1290.5" cy="842.8" r="5"/><circle cx="530.7" cy="948.7" r="5"/><circle cx="1340.9" cy="892.2" r="5"/><circle cx="1349.6" cy="893.3" r="5"/><circle cx="1348.7" cy="897.8" r="5"/><circle cx="1355.4" cy="881.1" r="5"/><circle cx="1341.7" cy="897.6" r="5"/><circle cx="1344.2" cy="882.1" r="5"/><circle cx="1354" cy="893.3" r="5"/><circle cx="1008.2" cy="1008.1" r="5"/><circle cx="1456.1" cy="1085.5" r="5"/><circle cx="1455.1" cy="1094.5" r="5"/><circle cx="1677" cy="949.3" r="5"/><circle cx="1666.8" cy="944.6" r="5"/><circle cx="1671.9" cy="945.6" r="5"/><circle cx="1666.5" cy="955.1" r="5"/><circle cx="1675.9" cy="959.9" r="5"/><circle cx="434.7" cy="1008.9" r="5"/><circle cx="1498.6" cy="463.3" r="5"/><circle cx="1481.4" cy="466.6" r="5"/><circle cx="1480.1" cy="460.2" r="5"/><circle cx="1486.1" cy="470.6" r="5"/><circle cx="1490.3" cy="460.1" r="5"/><circle cx="1489" cy="478.2" r="5"/><circle cx="1256.9" cy="1126.8" r="5"/><circle cx="1242.6" cy="1125" r="5"/><circle cx="1254.9" cy="1132.3" r="5"/><circle cx="1578.8" cy="807.2" r="5"/><circle cx="1566.9" cy="815.2" r="5"/><circle cx="1566.7" cy="809" r="5"/><circle cx="1431.2" cy="529.9" r="5"/><circle cx="1437.1" cy="538.1" r="5"/><circle cx="1429.8" cy="522.5" r="5"/><circle cx="596.5" cy="766" r="5"/><circle cx="724.5" cy="644.8" r="5"/><circle cx="1550.1" cy="975.7" r="5"/><circle cx="1543.9" cy="967.4" r="5"/><circle cx="1083.2" cy="856.8" r="5"/><circle cx="1099.7" cy="856" r="5"/><circle cx="1084.9" cy="843.2" r="5"/><circle cx="1089.7" cy="855" r="5"/><circle cx="733.3" cy="791.5" r="5"/><circle cx="1416.4" cy="741.1" r="5"/><circle cx="1409.9" cy="748.3" r="5"/><circle cx="1420" cy="746.4" r="5"/><circle cx="1415.3" cy="747.8" r="5"/><circle cx="1400.3" cy="753.3" r="5"/><circle cx="1416.2" cy="753.9" r="5"/><circle cx="1175.1" cy="335.9" r="5"/><circle cx="1174.5" cy="324.6" r="5"/><circle cx="1174.9" cy="330.2" r="5"/><circle cx="1162.3" cy="334.8" r="5"/><circle cx="583.3" cy="940.4" r="5"/><circle cx="598.2" cy="951.6" r="5"/><circle cx="1353.9" cy="509.5" r="5"/><circle cx="1341.1" cy="506.6" r="5"/><circle cx="1344.5" cy="518" r="5"/><circle cx="441.9" cy="883.4" r="5"/><circle cx="449" cy="887" r="5"/><circle cx="1390.2" cy="703.9" r="5"/><circle cx="1396.9" cy="701.7" r="5"/><circle cx="1399.1" cy="708.1" r="5"/><circle cx="1386.7" cy="712.8" r="5"/><circle cx="1394.9" cy="717.8" r="5"/><circle cx="506.9" cy="1076" r="5"/><circle cx="976.1" cy="969.6" r="5"/><circle cx="1346.5" cy="792.1" r="5"/><circle cx="1342.5" cy="796" r="5"/><circle cx="1353.6" cy="783.3" r="5"/><circle cx="1359" cy="792.1" r="5"/><circle cx="1344.7" cy="783.7" r="5"/><circle cx="1422.3" cy="572.2" r="5"/><circle cx="1425.9" cy="564.2" r="5"/><circle cx="1436.1" cy="571.6" r="5"/><circle cx="1263.4" cy="1161.6" r="5"/><circle cx="1262.7" cy="1174.3" r="5"/><circle cx="1269.8" cy="1170.4" r="5"/><circle cx="884.8" cy="1061.7" r="5"/><circle cx="1508.4" cy="978.5" r="5"/><circle cx="1500.9" cy="975.6" r="5"/><circle cx="1512.5" cy="966.2" r="5"/><circle cx="914.4" cy="669.4" r="5"/><circle cx="901.2" cy="662.6" r="5"/><circle cx="1011.9" cy="808.3" r="5"/><circle cx="1009.4" cy="800.3" r="5"/><circle cx="1014.9" cy="818.7" r="5"/><circle cx="1235.5" cy="1141.9" r="5"/><circle cx="1234.6" cy="1154.7" r="5"/><circle cx="1222.2" cy="1152" r="5"/><circle cx="1225.2" cy="1144.6" r="5"/><circle cx="1223.9" cy="1155.6" r="5"/><circle cx="786.9" cy="873.8" r="5"/><circle cx="1142.4" cy="728.3" r="5"/><circle cx="1147" cy="730.3" r="5"/><circle cx="1148.2" cy="735.5" r="5"/><circle cx="1156.2" cy="727.9" r="5"/><circle cx="895" cy="573.2" r="5"/><circle cx="975.2" cy="658.4" r="5"/><circle cx="972.9" cy="650.6" r="5"/><circle cx="965" cy="653.3" r="5"/><circle cx="970.6" cy="658.1" r="5"/><circle cx="964.3" cy="649.7" r="5"/><circle cx="960.2" cy="641.2" r="5"/><circle cx="973.5" cy="647.1" r="5"/><circle cx="1294.9" cy="861.1" r="5"/><circle cx="1283.8" cy="872.3" r="5"/><circle cx="1282.1" cy="865" r="5"/><circle cx="1293.2" cy="870" r="5"/><circle cx="822.5" cy="564.7" r="5"/><circle cx="830.8" cy="565.8" r="5"/><circle cx="1070.4" cy="1108.8" r="5"/><circle cx="1355.3" cy="527.2" r="5"/><circle cx="1347" cy="522.2" r="5"/><circle cx="1340.7" cy="533.9" r="5"/><circle cx="1344.9" cy="534.7" r="5"/><circle cx="1358" cy="524.6" r="5"/><circle cx="1342.8" cy="526.1" r="5"/><circle cx="1342.2" cy="530.1" r="5"/><circle cx="1358.1" cy="533.3" r="5"/><circle cx="1245.9" cy="434.9" r="5"/><circle cx="1243.5" cy="430.4" r="5"/><circle cx="1257.7" cy="432.5" r="5"/><circle cx="823.9" cy="953.6" r="5"/><circle cx="836.7" cy="957.5" r="5"/><circle cx="1150.3" cy="318.3" r="5"/><circle cx="1142.1" cy="315.9" r="5"/><circle cx="1152.1" cy="305.8" r="5"/><circle cx="1142.3" cy="306.1" r="5"/><circle cx="1360.1" cy="506.8" r="5"/><circle cx="1375.9" cy="512.3" r="5"/><circle cx="1366.2" cy="506.6" r="5"/><circle cx="467" cy="993.9" r="5"/><circle cx="1420.3" cy="1058.2" r="5"/><circle cx="1438.4" cy="1053.6" r="5"/><circle cx="1422" cy="1050.4" r="5"/><circle cx="1438.2" cy="1044.6" r="5"/><circle cx="1421.4" cy="1043.5" r="5"/><circle cx="1433.6" cy="1054.1" r="5"/><circle cx="1169.3" cy="955.2" r="5"/><circle cx="1161.6" cy="948.8" r="5"/><circle cx="1170.1" cy="944.2" r="5"/><circle cx="1176.2" cy="941.6" r="5"/><circle cx="1259.6" cy="1069.4" r="5"/><circle cx="1256.1" cy="1074.3" r="5"/><circle cx="1244.2" cy="1069.5" r="5"/><circle cx="1242.7" cy="1076.6" r="5"/><circle cx="1249.9" cy="1073.8" r="5"/><circle cx="535.7" cy="1110.1" r="5"/><circle cx="759.9" cy="615.3" r="5"/><circle cx="1109.2" cy="940.5" r="5"/><circle cx="1105.3" cy="944.8" r="5"/><circle cx="1102.5" cy="954.6" r="5"/><circle cx="1108.7" cy="949.7" r="5"/><circle cx="1323.7" cy="1112.7" r="5"/><circle cx="1323.2" cy="1106.6" r="5"/><circle cx="1335.7" cy="1111.2" r="5"/><circle cx="1327.2" cy="1103.1" r="5"/><circle cx="522" cy="1084.7" r="5"/><circle cx="532.3" cy="1087.6" r="5"/><circle cx="1530.2" cy="935.8" r="5"/><circle cx="1523.1" cy="938.4" r="5"/><circle cx="1530.2" cy="924.9" r="5"/><circle cx="1186.2" cy="369.2" r="5"/><circle cx="1481.4" cy="483.3" r="5"/><circle cx="1493.4" cy="481" r="5"/><circle cx="1496.7" cy="492.7" r="5"/><circle cx="1484.8" cy="481.5" r="5"/><circle cx="1484.9" cy="496.4" r="5"/><circle cx="1489.6" cy="482.3" r="5"/><circle cx="762.9" cy="707.6" r="5"/><circle cx="770.8" cy="702.7" r="5"/><circle cx="775" cy="702.3" r="5"/><circle cx="762.4" cy="700.8" r="5"/><circle cx="1131.3" cy="1120" r="5"/><circle cx="1120.7" cy="1131.2" r="5"/><circle cx="1262.5" cy="1010.4" r="5"/><circle cx="1264" cy="1017.1" r="5"/><circle cx="1270.3" cy="1016.7" r="5"/><circle cx="1267.3" cy="1012.2" r="5"/><circle cx="1276.6" cy="1010.4" r="5"/><circle cx="1542.3" cy="784.8" r="5"/><circle cx="1554.2" cy="786.1" r="5"/><circle cx="1545.9" cy="781.8" r="5"/><circle cx="1552.6" cy="792.6" r="5"/><circle cx="1543.4" cy="649.9" r="5"/><circle cx="1554.4" cy="653.2" r="5"/><circle cx="1542.3" cy="657.7" r="5"/><circle cx="1549" cy="648" r="5"/><circle cx="1253.4" cy="322" r="5"/><circle cx="1247.7" cy="338.8" r="5"/><circle cx="888.2" cy="835.4" r="5"/><circle cx="1052.7" cy="912.6" r="5"/><circle cx="1285.1" cy="1144.4" r="5"/><circle cx="1291.9" cy="1154.2" r="5"/><circle cx="1299.7" cy="1155.1" r="5"/><circle cx="1292" cy="1142.3" r="5"/><circle cx="1289.5" cy="1156.8" r="5"/><circle cx="1280.2" cy="1143.2" r="5"/><circle cx="1280.9" cy="1152.7" r="5"/><circle cx="1363.3" cy="825.4" r="5"/><circle cx="1374.9" cy="827.8" r="5"/><circle cx="1362.7" cy="833.1" r="5"/><circle cx="1377.3" cy="833.8" r="5"/><circle cx="1104.8" cy="1066.9" r="5"/><circle cx="1100.5" cy="1079.4" r="5"/><circle cx="1117.1" cy="1062.1" r="5"/><circle cx="1259.9" cy="658.4" r="5"/><circle cx="1252.3" cy="655.4" r="5"/><circle cx="1254.6" cy="645.7" r="5"/><circle cx="1471" cy="479.4" r="5"/><circle cx="1462.6" cy="465" r="5"/><circle cx="1468.9" cy="469.2" r="5"/><circle cx="1472.4" cy="474.8" r="5"/><circle cx="1464.9" cy="461.2" r="5"/><circle cx="1477" cy="473.9" r="5"/><circle cx="1478.7" cy="478.8" r="5"/><circle cx="1461.5" cy="479.5" r="5"/><circle cx="891.1" cy="969.1" r="5"/><circle cx="1243.3" cy="311.3" r="5"/><circle cx="975.5" cy="920.7" r="5"/><circle cx="965.3" cy="934.8" r="5"/><circle cx="978.9" cy="924.1" r="5"/><circle cx="963.9" cy="929.7" r="5"/><circle cx="1421.9" cy="551.2" r="5"/><circle cx="1435.8" cy="546.6" r="5"/><circle cx="1436" cy="551.5" r="5"/><circle cx="1427.3" cy="545.7" r="5"/><circle cx="1430.6" cy="551.1" r="5"/><circle cx="973.5" cy="956.6" r="5"/><circle cx="1407.4" cy="836.5" r="5"/><circle cx="1404" cy="839.5" r="5"/><circle cx="1417.5" cy="824.9" r="5"/><circle cx="1411.4" cy="835.4" r="5"/><circle cx="1400.8" cy="821.6" r="5"/><circle cx="1121.3" cy="259.1" r="5"/><circle cx="1133.9" cy="253.8" r="5"/><circle cx="1133.9" cy="245" r="5"/><circle cx="1144" cy="851.1" r="5"/><circle cx="1157.4" cy="846.2" r="5"/><circle cx="1153.1" cy="849.5" r="5"/><circle cx="1150" cy="844.8" r="5"/><circle cx="1147.1" cy="847.7" r="5"/><circle cx="1157.3" cy="855.2" r="5"/><circle cx="1546.1" cy="826.8" r="5"/><circle cx="1543.3" cy="838.2" r="5"/><circle cx="1549.7" cy="832.7" r="5"/><circle cx="1546.3" cy="820.5" r="5"/><circle cx="941.1" cy="540.2" r="5"/><circle cx="942.5" cy="556.7" r="5"/><circle cx="944.9" cy="546.4" r="5"/><circle cx="951.2" cy="550.9" r="5"/><circle cx="1150.2" cy="836.3" r="5"/><circle cx="1141.8" cy="821.2" r="5"/><circle cx="1153.3" cy="826.3" r="5"/><circle cx="1153.9" cy="833" r="5"/><circle cx="1144.7" cy="839.4" r="5"/><circle cx="604.6" cy="828.5" r="5"/><circle cx="1435.8" cy="818.1" r="5"/><circle cx="1422.3" cy="805.6" r="5"/><circle cx="1430.8" cy="804.6" r="5"/><circle cx="1424.2" cy="817.5" r="5"/><circle cx="1424" cy="809.3" r="5"/><circle cx="1360" cy="910.5" r="5"/><circle cx="1359" cy="905.4" r="5"/><circle cx="1357" cy="914.2" r="5"/><circle cx="1354.2" cy="907.4" r="5"/><circle cx="1347.1" cy="910.3" r="5"/><circle cx="1416.3" cy="911.5" r="5"/><circle cx="1406.8" cy="914" r="5"/><circle cx="1401.1" cy="903.7" r="5"/><circle cx="854.1" cy="587.4" r="5"/><circle cx="849.2" cy="584.4" r="5"/><circle cx="840.6" cy="594.5" r="5"/><circle cx="847.8" cy="590.6" r="5"/><circle cx="1168.2" cy="534.1" r="5"/><circle cx="1163" cy="522.7" r="5"/><circle cx="1163" cy="532.6" r="5"/><circle cx="1170.3" cy="526.1" r="5"/><circle cx="1175.4" cy="528.6" r="5"/><circle cx="1466.3" cy="588.3" r="5"/><circle cx="1463.2" cy="591.8" r="5"/><circle cx="1467.3" cy="597.4" r="5"/><circle cx="1463.1" cy="585.1" r="5"/><circle cx="1471.1" cy="584.9" r="5"/><circle cx="1249.8" cy="567.9" r="5"/><circle cx="1288" cy="766.4" r="5"/><circle cx="1297.1" cy="775.9" r="5"/><circle cx="1280.4" cy="772" r="5"/><circle cx="1281.6" cy="765.9" r="5"/><circle cx="1449.8" cy="549.8" r="5"/><circle cx="1457" cy="544.5" r="5"/><circle cx="1446.1" cy="545.5" r="5"/><circle cx="1441.1" cy="548.2" r="5"/><circle cx="955.5" cy="858.3" r="5"/><circle cx="959.3" cy="840.1" r="5"/><circle cx="948.3" cy="849.3" r="5"/><circle cx="959" cy="850.4" r="5"/><circle cx="1097" cy="1024.9" r="5"/><circle cx="884.7" cy="666.2" r="5"/><circle cx="1523.1" cy="814.2" r="5"/><circle cx="1534.9" cy="811.6" r="5"/><circle cx="1524.1" cy="806.9" r="5"/><circle cx="1530.4" cy="800.2" r="5"/><circle cx="971.6" cy="714.3" r="5"/><circle cx="1006.4" cy="383.9" r="5"/><circle cx="1043.1" cy="398.5" r="5"/><circle cx="1055.4" cy="392.2" r="5"/><circle cx="1539.8" cy="1022.7" r="5"/><circle cx="1529.2" cy="1036.7" r="5"/><circle cx="1529.6" cy="1027.5" r="5"/><circle cx="1294.3" cy="881.4" r="5"/><circle cx="1286.9" cy="891.2" r="5"/><circle cx="1283" cy="881.6" r="5"/><circle cx="1290.6" cy="885.3" r="5"/><circle cx="1284.3" cy="896.5" r="5"/><circle cx="1281" cy="894.3" r="5"/><circle cx="1292.2" cy="896.6" r="5"/><circle cx="448.4" cy="878.6" r="5"/><circle cx="1103.6" cy="586.6" r="5"/><circle cx="1116.3" cy="583.8" r="5"/><circle cx="1267.2" cy="970" r="5"/><circle cx="1274.9" cy="964.1" r="5"/><circle cx="1276.1" cy="979.2" r="5"/><circle cx="1270.8" cy="965.9" r="5"/><circle cx="1267.2" cy="963.5" r="5"/><circle cx="1269" cy="973.2" r="5"/><circle cx="1401.4" cy="956.2" r="5"/><circle cx="1413.1" cy="944.6" r="5"/><circle cx="1401.1" cy="942" r="5"/><circle cx="1407.4" cy="943.4" r="5"/><circle cx="1407.2" cy="953.3" r="5"/><circle cx="844.4" cy="630.4" r="5"/><circle cx="857.2" cy="631.5" r="5"/><circle cx="1266.6" cy="889.2" r="5"/><circle cx="1261.2" cy="894.7" r="5"/><circle cx="1261.6" cy="880.2" r="5"/><circle cx="1274.7" cy="898.5" r="5"/><circle cx="1278.3" cy="889.7" r="5"/><circle cx="1278.8" cy="885.8" r="5"/><circle cx="1264.6" cy="885.4" r="5"/><circle cx="1072.1" cy="916.1" r="5"/><circle cx="1071.9" cy="906.8" r="5"/><circle cx="1060.1" cy="919.6" r="5"/><circle cx="1064.5" cy="912.4" r="5"/><circle cx="1167.2" cy="803.9" r="5"/><circle cx="1179.5" cy="804.5" r="5"/><circle cx="1170.8" cy="817.4" r="5"/><circle cx="1164" cy="818.9" r="5"/><circle cx="1174.1" cy="811" r="5"/><circle cx="493" cy="899.2" r="5"/><circle cx="482.5" cy="883" r="5"/><circle cx="608.9" cy="949.2" r="5"/><circle cx="955.9" cy="586.4" r="5"/><circle cx="944.3" cy="598" r="5"/><circle cx="941" cy="585.1" r="5"/><circle cx="951.2" cy="599.9" r="5"/><circle cx="951.6" cy="595.3" r="5"/><circle cx="954.4" cy="590.9" r="5"/><circle cx="944.8" cy="582.8" r="5"/><circle cx="1513.7" cy="567.7" r="5"/><circle cx="1512.9" cy="560.2" r="5"/><circle cx="1508.2" cy="572.6" r="5"/><circle cx="1500.6" cy="576.6" r="5"/><circle cx="1517.7" cy="576.5" r="5"/><circle cx="1512.5" cy="576.3" r="5"/><circle cx="1505" cy="575.1" r="5"/><circle cx="1518" cy="566.8" r="5"/><circle cx="1571" cy="586.5" r="5"/><circle cx="1572.6" cy="598.1" r="5"/><circle cx="1572" cy="592.8" r="5"/><circle cx="1576.9" cy="587" r="5"/><circle cx="1567.8" cy="594.1" r="5"/><circle cx="963.1" cy="661" r="5"/><circle cx="977.4" cy="665.1" r="5"/><circle cx="970.7" cy="677.7" r="5"/><circle cx="976.7" cy="671.8" r="5"/><circle cx="965.1" cy="677.7" r="5"/><circle cx="1236.8" cy="377.2" r="5"/><circle cx="1226" cy="372.3" r="5"/><circle cx="921.2" cy="927.9" r="5"/><circle cx="929.6" cy="927.8" r="5"/><circle cx="926.1" cy="938.5" r="5"/><circle cx="937" cy="924.3" r="5"/><circle cx="1014.4" cy="752.1" r="5"/><circle cx="1003.7" cy="742" r="5"/><circle cx="1017" cy="756.9" r="5"/><circle cx="1007.9" cy="752.1" r="5"/><circle cx="1597.4" cy="885.5" r="5"/><circle cx="1590.1" cy="890.6" r="5"/><circle cx="1580.2" cy="887.7" r="5"/><circle cx="1163.6" cy="363.2" r="5"/><circle cx="948.4" cy="1037.3" r="5"/><circle cx="782.9" cy="604.3" r="5"/><circle cx="782.6" cy="618.4" r="5"/><circle cx="1264.6" cy="1103.7" r="5"/><circle cx="1266.5" cy="1110.3" r="5"/><circle cx="1271.7" cy="1106.3" r="5"/><circle cx="1273" cy="1119.7" r="5"/><circle cx="981.3" cy="549.1" r="5"/><circle cx="985.8" cy="559.9" r="5"/><circle cx="998.5" cy="546.9" r="5"/><circle cx="1190.1" cy="357.6" r="5"/><circle cx="662.7" cy="737.5" r="5"/><circle cx="1065.2" cy="1028.9" r="5"/><circle cx="1072.5" cy="1032.9" r="5"/><circle cx="1388.5" cy="823" r="5"/><circle cx="1381.5" cy="838.7" r="5"/><circle cx="1391.1" cy="832.4" r="5"/><circle cx="1386.4" cy="833.8" r="5"/><circle cx="1388.5" cy="829.3" r="5"/><circle cx="1394.2" cy="834.3" r="5"/><circle cx="1125.2" cy="662.6" r="5"/><circle cx="1124.8" cy="673.4" r="5"/><circle cx="1135.8" cy="675.2" r="5"/><circle cx="1120.7" cy="660.8" r="5"/><circle cx="1134.1" cy="669.1" r="5"/><circle cx="1426" cy="862.3" r="5"/><circle cx="1439.4" cy="873" r="5"/><circle cx="1439.5" cy="878.8" r="5"/><circle cx="1428.2" cy="875" r="5"/><circle cx="1430.8" cy="860.1" r="5"/><circle cx="1428.6" cy="867.8" r="5"/><circle cx="1372.6" cy="542.6" r="5"/><circle cx="1378.9" cy="546.4" r="5"/><circle cx="1361.3" cy="541.2" r="5"/><circle cx="1365.1" cy="546.1" r="5"/><circle cx="1414.5" cy="890.9" r="5"/><circle cx="1402" cy="883.1" r="5"/><circle cx="1409.6" cy="885.8" r="5"/><circle cx="1414.3" cy="882.3" r="5"/><circle cx="1586" cy="921.8" r="5"/><circle cx="1660.4" cy="895.6" r="5"/><circle cx="1662.5" cy="887.7" r="5"/><circle cx="1678" cy="885.2" r="5"/><circle cx="1674.9" cy="895.7" r="5"/><circle cx="1213.1" cy="328" r="5"/><circle cx="1203.6" cy="337.9" r="5"/><circle cx="1187.7" cy="774.6" r="5"/><circle cx="1195.8" cy="778.3" r="5"/><circle cx="1185.5" cy="771.2" r="5"/><circle cx="1195.2" cy="767.2" r="5"/><circle cx="1583.4" cy="838.7" r="5"/><circle cx="1587.1" cy="823.4" r="5"/><circle cx="1596.2" cy="838.2" r="5"/><circle cx="1589.6" cy="831.7" r="5"/><circle cx="1450.7" cy="829.2" r="5"/><circle cx="1444.6" cy="823.6" r="5"/><circle cx="1443.8" cy="839.1" r="5"/><circle cx="1274.9" cy="813.7" r="5"/><circle cx="1276.4" cy="804.5" r="5"/><circle cx="1270.2" cy="811" r="5"/><circle cx="1262.3" cy="818.2" r="5"/><circle cx="1273.7" cy="809" r="5"/><circle cx="1267.5" cy="816.7" r="5"/><circle cx="1270.3" cy="819.5" r="5"/><circle cx="1278" cy="817.8" r="5"/><circle cx="1264.3" cy="811.4" r="5"/><circle cx="1294.9" cy="461" r="5"/><circle cx="1308.5" cy="493.1" r="5"/><circle cx="1303.1" cy="485" r="5"/><circle cx="1317.5" cy="491.5" r="5"/><circle cx="1203.2" cy="823.8" r="5"/><circle cx="1218.1" cy="820.1" r="5"/><circle cx="1219.1" cy="837.4" r="5"/><circle cx="1202.5" cy="834.7" r="5"/><circle cx="1201.7" cy="839.7" r="5"/><circle cx="1212.2" cy="820.6" r="5"/><circle cx="1458" cy="584" r="5"/><circle cx="1452.1" cy="592.7" r="5"/><circle cx="1459.4" cy="597.2" r="5"/><circle cx="1455.2" cy="595" r="5"/><circle cx="1448.6" cy="588.3" r="5"/><circle cx="1452.5" cy="586.3" r="5"/><circle cx="1447.9" cy="596.4" r="5"/><circle cx="1448.4" cy="580.9" r="5"/><circle cx="820.6" cy="859.9" r="5"/><circle cx="1561.6" cy="558.1" r="5"/><circle cx="1570.2" cy="560" r="5"/><circle cx="1562.8" cy="552.1" r="5"/><circle cx="1575.2" cy="554.5" r="5"/><circle cx="1566.9" cy="553.6" r="5"/><circle cx="1574.4" cy="545.8" r="5"/><circle cx="999.2" cy="651.4" r="5"/><circle cx="991.2" cy="657.5" r="5"/><circle cx="983.6" cy="653.8" r="5"/><circle cx="987.6" cy="656.4" r="5"/><circle cx="992.1" cy="647.8" r="5"/><circle cx="1437.9" cy="946.5" r="5"/><circle cx="1427.2" cy="953.9" r="5"/><circle cx="1422.2" cy="951.7" r="5"/><circle cx="1428.2" cy="947.5" r="5"/><circle cx="684.7" cy="642.3" r="5"/><circle cx="1541.2" cy="616.8" r="5"/><circle cx="1547.9" cy="614.3" r="5"/><circle cx="1552.7" cy="615.4" r="5"/><circle cx="1558.6" cy="614.7" r="5"/><circle cx="1552" cy="601.9" r="5"/><circle cx="1557.3" cy="603.1" r="5"/><circle cx="907.5" cy="879.2" r="5"/><circle cx="917.9" cy="860.4" r="5"/><circle cx="904.4" cy="860.1" r="5"/><circle cx="914.2" cy="863.8" r="5"/><circle cx="1081.7" cy="547.8" r="5"/><circle cx="1094.6" cy="543" r="5"/><circle cx="1149.3" cy="503.2" r="5"/><circle cx="1156.7" cy="514.5" r="5"/><circle cx="1146.6" cy="516.9" r="5"/><circle cx="1113.6" cy="371.9" r="5"/><circle cx="1109.2" cy="361.4" r="5"/><circle cx="893.8" cy="876.1" r="5"/><circle cx="1438.1" cy="593" r="5"/><circle cx="1429.2" cy="591.7" r="5"/><circle cx="1422.1" cy="585.6" r="5"/><circle cx="1383.3" cy="405" r="5"/><circle cx="1399" cy="409.8" r="5"/><circle cx="1356.4" cy="1059.3" r="5"/><circle cx="1346.4" cy="1053.8" r="5"/><circle cx="1353.5" cy="1048.8" r="5"/><circle cx="1343.7" cy="1040" r="5"/><circle cx="1346" cy="1059.1" r="5"/><circle cx="1349.9" cy="1056.1" r="5"/><circle cx="1356.4" cy="1044.5" r="5"/><circle cx="1346.2" cy="1045.2" r="5"/><circle cx="492.6" cy="1022.7" r="5"/><circle cx="498.1" cy="1029.5" r="5"/><circle cx="1065.9" cy="241.9" r="5"/><circle cx="1077.2" cy="243.7" r="5"/><circle cx="1223.4" cy="426.3" r="5"/><circle cx="1233.4" cy="433.5" r="5"/><circle cx="1099" cy="467.3" r="5"/><circle cx="1086.3" cy="476.9" r="5"/><circle cx="1082.9" cy="464" r="5"/><circle cx="1092.7" cy="479" r="5"/><circle cx="737.2" cy="1129.1" r="5"/><circle cx="1477" cy="1056.2" r="5"/><circle cx="1471.1" cy="1049.5" r="5"/><circle cx="1469.5" cy="1058" r="5"/><circle cx="1339" cy="455.8" r="5"/><circle cx="1330.8" cy="443.5" r="5"/><circle cx="1338.2" cy="459.7" r="5"/><circle cx="1337.5" cy="441.6" r="5"/><circle cx="1324.3" cy="459.5" r="5"/><circle cx="1329.4" cy="453.3" r="5"/><circle cx="1322.5" cy="450.5" r="5"/><circle cx="705.9" cy="727.3" r="5"/><circle cx="1431.4" cy="746.4" r="5"/><circle cx="1436.3" cy="759.5" r="5"/><circle cx="1424.9" cy="748.8" r="5"/><circle cx="1426.5" cy="740.8" r="5"/><circle cx="1125.5" cy="541.8" r="5"/><circle cx="1127.5" cy="549.6" r="5"/><circle cx="1136.4" cy="543.8" r="5"/><circle cx="1124.1" cy="552.2" r="5"/><circle cx="1124.9" cy="558.8" r="5"/><circle cx="1121.3" cy="549.9" r="5"/><circle cx="1138.2" cy="552" r="5"/><circle cx="1016.2" cy="516.9" r="5"/><circle cx="1010.1" cy="512.8" r="5"/><circle cx="1013.5" cy="504.2" r="5"/><circle cx="1001.9" cy="518.4" r="5"/><circle cx="1169.6" cy="485.5" r="5"/><circle cx="1177.1" cy="492.3" r="5"/><circle cx="1160.2" cy="494.8" r="5"/><circle cx="1352.4" cy="666.2" r="5"/><circle cx="1519.8" cy="826.5" r="5"/><circle cx="1512.1" cy="820.6" r="5"/><circle cx="1513.2" cy="834.4" r="5"/><circle cx="1505.2" cy="823.6" r="5"/><circle cx="1500" cy="829.5" r="5"/><circle cx="1290.9" cy="435.7" r="5"/><circle cx="1481.9" cy="657.4" r="5"/><circle cx="1498.6" cy="648" r="5"/><circle cx="1289.7" cy="662.6" r="5"/><circle cx="1286.8" cy="679.4" r="5"/><circle cx="1252.2" cy="664.6" r="5"/><circle cx="1253.3" cy="673.8" r="5"/><circle cx="1248.5" cy="675.2" r="5"/><circle cx="1243.4" cy="668.8" r="5"/><circle cx="1412.2" cy="643.4" r="5"/><circle cx="1412.7" cy="656.3" r="5"/><circle cx="1404.6" cy="651.8" r="5"/><circle cx="1429.6" cy="1103.1" r="5"/><circle cx="1437.4" cy="1100.6" r="5"/><circle cx="1421.1" cy="1116" r="5"/><circle cx="1426.8" cy="1119.1" r="5"/><circle cx="1439.8" cy="1108.4" r="5"/><circle cx="1424.9" cy="1083.8" r="5"/><circle cx="1421.7" cy="1094.7" r="5"/><circle cx="1431.3" cy="1090.9" r="5"/><circle cx="1286.7" cy="785.4" r="5"/><circle cx="1299.8" cy="785.6" r="5"/><circle cx="1280.9" cy="795" r="5"/><circle cx="1144.1" cy="479.1" r="5"/><circle cx="1156.7" cy="474.7" r="5"/><circle cx="1148.8" cy="471.5" r="5"/><circle cx="1415.3" cy="866.1" r="5"/><circle cx="1408.4" cy="866.2" r="5"/><circle cx="1409.6" cy="873.7" r="5"/><circle cx="1141.1" cy="990" r="5"/><circle cx="1147.7" cy="993.7" r="5"/><circle cx="1150.3" cy="984.4" r="5"/><circle cx="1141.2" cy="998.2" r="5"/><circle cx="1070.6" cy="943.1" r="5"/><circle cx="1062.7" cy="959.6" r="5"/><circle cx="1075.8" cy="940.9" r="5"/><circle cx="1077.9" cy="959.3" r="5"/><circle cx="1064.7" cy="949.9" r="5"/><circle cx="1049" cy="867.6" r="5"/><circle cx="1047.9" cy="874.1" r="5"/><circle cx="993.8" cy="1021.5" r="5"/><circle cx="985.9" cy="1039.4" r="5"/><circle cx="1424.8" cy="493.5" r="5"/><circle cx="1432.1" cy="488.5" r="5"/><circle cx="1082.1" cy="791.6" r="5"/><circle cx="1098" cy="797.2" r="5"/><circle cx="1088.9" cy="783" r="5"/><circle cx="1137.5" cy="851.2" r="5"/><circle cx="1138.2" cy="845" r="5"/><circle cx="1125" cy="858.8" r="5"/><circle cx="1131" cy="854.2" r="5"/><circle cx="1268.5" cy="612.3" r="5"/><circle cx="1262" cy="606.9" r="5"/><circle cx="1611.3" cy="903.5" r="5"/><circle cx="731.3" cy="615" r="5"/><circle cx="1055.8" cy="264" r="5"/><circle cx="1053.2" cy="272.4" r="5"/><circle cx="1067.1" cy="714" r="5"/><circle cx="1079.8" cy="703.9" r="5"/><circle cx="1054" cy="663.1" r="5"/><circle cx="481.3" cy="842.7" r="5"/><circle cx="1050.9" cy="316.3" r="5"/><circle cx="1048.1" cy="307.5" r="5"/><circle cx="1041.3" cy="300.4" r="5"/><circle cx="964.1" cy="612.6" r="5"/><circle cx="966" cy="602.4" r="5"/><circle cx="971.6" cy="615.2" r="5"/><circle cx="971.4" cy="602.7" r="5"/><circle cx="969.3" cy="610" r="5"/><circle cx="808.7" cy="966.4" r="5"/><circle cx="928.9" cy="613.9" r="5"/><circle cx="932.7" cy="601.3" r="5"/><circle cx="1403.4" cy="994.9" r="5"/><circle cx="1412.7" cy="995" r="5"/><circle cx="1410" cy="990.6" r="5"/><circle cx="1211" cy="291.9" r="5"/><circle cx="1210.1" cy="298.8" r="5"/><circle cx="1213.2" cy="287.1" r="5"/><circle cx="1218.1" cy="299.3" r="5"/><circle cx="1205.5" cy="295.7" r="5"/><circle cx="1202" cy="284.5" r="5"/><circle cx="682.7" cy="663.1" r="5"/><circle cx="860.3" cy="600.9" r="5"/><circle cx="1335.7" cy="629.4" r="5"/><circle cx="1322.2" cy="631.4" r="5"/><circle cx="1021" cy="1018.8" r="5"/><circle cx="1235" cy="592.5" r="5"/><circle cx="1225.8" cy="591.7" r="5"/><circle cx="1578.5" cy="685.9" r="5"/><circle cx="1560.4" cy="690.8" r="5"/><circle cx="1564" cy="683.1" r="5"/><circle cx="1561.7" cy="697.8" r="5"/><circle cx="1570.7" cy="685" r="5"/><circle cx="1566.3" cy="694.2" r="5"/><circle cx="853.6" cy="1068.8" r="5"/><circle cx="1405.2" cy="729.5" r="5"/><circle cx="1407.2" cy="732.6" r="5"/><circle cx="1402.9" cy="726.3" r="5"/><circle cx="1412.8" cy="727.4" r="5"/><circle cx="1404.1" cy="739.6" r="5"/><circle cx="1414.8" cy="720.2" r="5"/><circle cx="1226.8" cy="527.7" r="5"/><circle cx="1239.5" cy="524.3" r="5"/><circle cx="1234.8" cy="526.5" r="5"/><circle cx="1224.3" cy="523.3" r="5"/><circle cx="1227.9" cy="532.9" r="5"/><circle cx="1232.7" cy="535.6" r="5"/><circle cx="524" cy="984.7" r="5"/><circle cx="1391.8" cy="677.9" r="5"/><circle cx="1396.6" cy="661.3" r="5"/><circle cx="1394.2" cy="670.9" r="5"/><circle cx="1384.7" cy="668.9" r="5"/><circle cx="1259.1" cy="1092.2" r="5"/><circle cx="1244.6" cy="1099.1" r="5"/><circle cx="1249.1" cy="1081.4" r="5"/><circle cx="1181.5" cy="528.9" r="5"/><circle cx="1187.5" cy="524.1" r="5"/><circle cx="1190.5" cy="529.1" r="5"/><circle cx="1185.5" cy="527.3" r="5"/><circle cx="1185.2" cy="522.8" r="5"/><circle cx="1197.5" cy="520.6" r="5"/><circle cx="1193.8" cy="535" r="5"/><circle cx="1184" cy="534.1" r="5"/><circle cx="1190.3" cy="520.2" r="5"/><circle cx="1189.2" cy="538.4" r="5"/><circle cx="1218.4" cy="1128.4" r="5"/><circle cx="1213.9" cy="1127.2" r="5"/><circle cx="1207.7" cy="1136.9" r="5"/><circle cx="1213.3" cy="1122.7" r="5"/><circle cx="1218.6" cy="1134.9" r="5"/><circle cx="1205" cy="1126.9" r="5"/><circle cx="1354.3" cy="642.4" r="5"/><circle cx="1348.9" cy="647.8" r="5"/><circle cx="1228.2" cy="666.4" r="5"/><circle cx="1223" cy="671.7" r="5"/><circle cx="1223.4" cy="679.2" r="5"/><circle cx="1224.9" cy="675.4" r="5"/><circle cx="1236.3" cy="672.4" r="5"/><circle cx="1193.6" cy="630.9" r="5"/><circle cx="1194.9" cy="634.8" r="5"/><circle cx="1186.4" cy="620.6" r="5"/><circle cx="1190.8" cy="638.6" r="5"/><circle cx="1182.9" cy="622.7" r="5"/><circle cx="1198.7" cy="622.7" r="5"/><circle cx="1349.9" cy="876.8" r="5"/><circle cx="1357.7" cy="860.1" r="5"/><circle cx="1340.3" cy="873.9" r="5"/><circle cx="1356.6" cy="868.9" r="5"/><circle cx="1345.8" cy="865.2" r="5"/><circle cx="1296.3" cy="516" r="5"/><circle cx="1285.9" cy="518.2" r="5"/><circle cx="931.7" cy="726.5" r="5"/><circle cx="1363.3" cy="926.6" r="5"/><circle cx="1378.2" cy="922.6" r="5"/><circle cx="1375.1" cy="926.8" r="5"/><circle cx="1366.7" cy="925.1" r="5"/><circle cx="1370.4" cy="936.7" r="5"/><circle cx="1134.7" cy="575.6" r="5"/><circle cx="1129.1" cy="568.1" r="5"/><circle cx="1023.6" cy="485.8" r="5"/><circle cx="1345.5" cy="468.4" r="5"/><circle cx="1357" cy="460.9" r="5"/><circle cx="1351.4" cy="467.2" r="5"/><circle cx="1182" cy="852.5" r="5"/><circle cx="1194" cy="844.4" r="5"/><circle cx="1184.6" cy="845.7" r="5"/><circle cx="1186.6" cy="854.5" r="5"/><circle cx="1191.4" cy="848.4" r="5"/><circle cx="1494.7" cy="568.3" r="5"/><circle cx="1486.9" cy="561.7" r="5"/><circle cx="1497.4" cy="571.8" r="5"/><circle cx="1489.1" cy="576.3" r="5"/><circle cx="1488.3" cy="567" r="5"/><circle cx="1496.5" cy="793.9" r="5"/><circle cx="1487.1" cy="796.2" r="5"/><circle cx="1175.2" cy="352.1" r="5"/><circle cx="1166.8" cy="343.1" r="5"/><circle cx="1555.3" cy="555.5" r="5"/><circle cx="1545.2" cy="549.2" r="5"/><circle cx="1559.7" cy="549.5" r="5"/><circle cx="1559.6" cy="542.6" r="5"/><circle cx="1551.5" cy="553" r="5"/><circle cx="1556.5" cy="551.2" r="5"/><circle cx="1540.1" cy="554.6" r="5"/><circle cx="846.6" cy="993.1" r="5"/><circle cx="1555.8" cy="636.7" r="5"/><circle cx="1552.2" cy="623.2" r="5"/><circle cx="1545.8" cy="633" r="5"/><circle cx="1136.6" cy="1088.8" r="5"/><circle cx="1135.7" cy="1081.2" r="5"/><circle cx="1122.3" cy="1093.8" r="5"/><circle cx="1162.8" cy="701.9" r="5"/><circle cx="1176.4" cy="715.1" r="5"/><circle cx="1167.7" cy="710.4" r="5"/><circle cx="1238.4" cy="764.1" r="5"/><circle cx="1225.3" cy="777" r="5"/><circle cx="1228.1" cy="761.4" r="5"/><circle cx="1227.7" cy="771.1" r="5"/><circle cx="610.3" cy="1045.3" r="5"/><circle cx="1139.1" cy="932.3" r="5"/><circle cx="1133.6" cy="920.7" r="5"/><circle cx="1115.1" cy="772.4" r="5"/><circle cx="1101.9" cy="771.4" r="5"/><circle cx="1116.3" cy="767.8" r="5"/><circle cx="1041.9" cy="1050.7" r="5"/><circle cx="1055.3" cy="1041.1" r="5"/><circle cx="1054.1" cy="1047.5" r="5"/><circle cx="1048.6" cy="1053.2" r="5"/><circle cx="1451.2" cy="853.8" r="5"/><circle cx="1446" cy="852.6" r="5"/><circle cx="1457.7" cy="856.1" r="5"/><circle cx="1441.4" cy="847.6" r="5"/><circle cx="1442.7" cy="855.7" r="5"/><circle cx="1118.7" cy="493.5" r="5"/><circle cx="1115.3" cy="497.7" r="5"/><circle cx="1110.5" cy="498.7" r="5"/><circle cx="1106.6" cy="481.1" r="5"/><circle cx="1104.4" cy="490.2" r="5"/><circle cx="927.6" cy="515.2" r="5"/><circle cx="934.3" cy="506.2" r="5"/><circle cx="1062.2" cy="970" r="5"/><circle cx="1066.6" cy="964.3" r="5"/><circle cx="1065.8" cy="976.6" r="5"/><circle cx="876.2" cy="1058.7" r="5"/><circle cx="1589.3" cy="816.7" r="5"/><circle cx="1593.1" cy="800.3" r="5"/><circle cx="1597.2" cy="812.3" r="5"/><circle cx="921.1" cy="686.5" r="5"/><circle cx="1359.4" cy="366.7" r="5"/><circle cx="1073.8" cy="503.9" r="5"/><circle cx="1079.6" cy="508.8" r="5"/><circle cx="1069.9" cy="512.4" r="5"/><circle cx="1065.6" cy="505.5" r="5"/><circle cx="1271.1" cy="792.4" r="5"/><circle cx="1265.1" cy="793.9" r="5"/><circle cx="1275" cy="781.7" r="5"/><circle cx="1341.9" cy="993.6" r="5"/><circle cx="1352.6" cy="984.5" r="5"/><circle cx="1348.4" cy="981.5" r="5"/><circle cx="1353.1" cy="998.1" r="5"/><circle cx="689.8" cy="1044.6" r="5"/><circle cx="696.8" cy="1052.4" r="5"/><circle cx="602.4" cy="867.7" r="5"/><circle cx="1293.1" cy="576.1" r="5"/><circle cx="1287.3" cy="578.8" r="5"/><circle cx="1288.4" cy="565.1" r="5"/><circle cx="1184" cy="1021.3" r="5"/><circle cx="1181.7" cy="1038.8" r="5"/><circle cx="1197" cy="1028.1" r="5"/><circle cx="1189.1" cy="1024.5" r="5"/><circle cx="1265.2" cy="542.7" r="5"/><circle cx="1273.2" cy="545" r="5"/><circle cx="892.5" cy="787.5" r="5"/><circle cx="900" cy="783" r="5"/><circle cx="1434.6" cy="1030" r="5"/><circle cx="1424.7" cy="1026.4" r="5"/><circle cx="1435.1" cy="1025" r="5"/><circle cx="1424" cy="1036.6" r="5"/><circle cx="1432.2" cy="969.1" r="5"/><circle cx="1425.2" cy="975.9" r="5"/><circle cx="485.1" cy="1019.2" r="5"/><circle cx="497.3" cy="1017.4" r="5"/><circle cx="481.6" cy="1003.8" r="5"/><circle cx="491.9" cy="1008.7" r="5"/><circle cx="1213" cy="939.4" r="5"/><circle cx="1209.6" cy="921.5" r="5"/><circle cx="1216.9" cy="932.7" r="5"/><circle cx="1204.5" cy="926.4" r="5"/><circle cx="1202.5" cy="924.8" r="5"/><circle cx="1200.2" cy="938.9" r="5"/><circle cx="1215.9" cy="937.8" r="5"/><circle cx="1217.8" cy="929.1" r="5"/><circle cx="1207.6" cy="923.7" r="5"/><circle cx="1206" cy="936.5" r="5"/><circle cx="1213.8" cy="922.4" r="5"/><circle cx="1053.3" cy="522.2" r="5"/><circle cx="1055.9" cy="531" r="5"/><circle cx="832.8" cy="980.1" r="5"/><circle cx="1082.9" cy="435.1" r="5"/><circle cx="1081.7" cy="425.4" r="5"/><circle cx="1437.3" cy="719.8" r="5"/><circle cx="1421.2" cy="708.3" r="5"/><circle cx="1425.7" cy="702" r="5"/><circle cx="1427.2" cy="710" r="5"/><circle cx="1431.2" cy="702.4" r="5"/><circle cx="1421.2" cy="714.3" r="5"/><circle cx="1342.3" cy="552.1" r="5"/><circle cx="1350" cy="547.7" r="5"/><circle cx="1347.6" cy="542.5" r="5"/><circle cx="1355.6" cy="549.9" r="5"/><circle cx="1307.4" cy="907.2" r="5"/><circle cx="1318.9" cy="912.6" r="5"/><circle cx="1303.1" cy="917.8" r="5"/><circle cx="1313.2" cy="911" r="5"/><circle cx="1271.7" cy="1145.1" r="5"/><circle cx="1637.8" cy="896.4" r="5"/><circle cx="1632.3" cy="890.5" r="5"/><circle cx="865.7" cy="531.1" r="5"/><circle cx="870.6" cy="527.9" r="5"/><circle cx="866.3" cy="535.9" r="5"/><circle cx="860.5" cy="530.6" r="5"/><circle cx="878.7" cy="536.9" r="5"/><circle cx="868.8" cy="524.7" r="5"/><circle cx="863.5" cy="528.3" r="5"/><circle cx="865.6" cy="521.3" r="5"/><circle cx="1114.6" cy="844.1" r="5"/><circle cx="1112" cy="850.5" r="5"/><circle cx="941.9" cy="732.6" r="5"/><circle cx="950.6" cy="732.6" r="5"/><circle cx="943.2" cy="724.5" r="5"/><circle cx="1365.9" cy="764" r="5"/><circle cx="1374.4" cy="775.5" r="5"/><circle cx="1377.3" cy="766.7" r="5"/><circle cx="1369.7" cy="840.7" r="5"/><circle cx="1366" cy="856.5" r="5"/><circle cx="1370.6" cy="851" r="5"/><circle cx="1364.4" cy="846.5" r="5"/><circle cx="1411.9" cy="547.6" r="5"/><circle cx="1413.7" cy="557.8" r="5"/><circle cx="1088.7" cy="750.5" r="5"/><circle cx="476" cy="1046" r="5"/><circle cx="465.1" cy="1050.2" r="5"/><circle cx="1210.5" cy="267.4" r="5"/><circle cx="1206.4" cy="266.4" r="5"/><circle cx="1218.8" cy="268.5" r="5"/><circle cx="1200.3" cy="261.4" r="5"/><circle cx="1213.6" cy="274.7" r="5"/><circle cx="1203.7" cy="278.7" r="5"/><circle cx="1024.2" cy="627.6" r="5"/><circle cx="1458.3" cy="942.8" r="5"/><circle cx="1446.4" cy="946.4" r="5"/><circle cx="1457.4" cy="953.7" r="5"/><circle cx="1457.3" cy="958.4" r="5"/><circle cx="1448.5" cy="958.3" r="5"/><circle cx="956" cy="1058.3" r="5"/><circle cx="946.6" cy="1057.5" r="5"/><circle cx="1239.1" cy="989.8" r="5"/><circle cx="1226.1" cy="987.9" r="5"/><circle cx="1229.3" cy="981.4" r="5"/><circle cx="1224.5" cy="993.3" r="5"/><circle cx="1231" cy="999.3" r="5"/><circle cx="807.9" cy="653.9" r="5"/><circle cx="1062.8" cy="756.4" r="5"/><circle cx="1074.5" cy="751.1" r="5"/><circle cx="1341.9" cy="593.8" r="5"/><circle cx="1351.8" cy="596.9" r="5"/><circle cx="1345.4" cy="588.5" r="5"/><circle cx="1356.9" cy="594.9" r="5"/><circle cx="1359.3" cy="583.5" r="5"/><circle cx="1551.1" cy="775.5" r="5"/><circle cx="1551" cy="765.1" r="5"/><circle cx="1631.3" cy="958.3" r="5"/><circle cx="1628.4" cy="947.9" r="5"/><circle cx="1621" cy="940.4" r="5"/><circle cx="1634.3" cy="952.6" r="5"/><circle cx="1621.7" cy="944.5" r="5"/><circle cx="1632" cy="940.5" r="5"/><circle cx="1631.8" cy="949.6" r="5"/><circle cx="1636.2" cy="948" r="5"/><circle cx="1254.4" cy="819.7" r="5"/><circle cx="1245.3" cy="818.1" r="5"/><circle cx="1258" cy="807.2" r="5"/><circle cx="1247.9" cy="800.3" r="5"/><circle cx="1248.8" cy="805.8" r="5"/><circle cx="1332.5" cy="958.1" r="5"/><circle cx="1324.4" cy="957.5" r="5"/><circle cx="1333.1" cy="945.8" r="5"/><circle cx="1339.6" cy="955.2" r="5"/><circle cx="1330.1" cy="940.4" r="5"/><circle cx="1270.9" cy="733.8" r="5"/><circle cx="574.8" cy="955.6" r="5"/><circle cx="928.4" cy="1014.2" r="5"/><circle cx="593.4" cy="861.9" r="5"/><circle cx="1015.3" cy="553.3" r="5"/><circle cx="1007.1" cy="552.7" r="5"/><circle cx="1112" cy="875.2" r="5"/><circle cx="1116.8" cy="868.9" r="5"/><circle cx="1104.4" cy="874.1" r="5"/><circle cx="1060.6" cy="490" r="5"/><circle cx="1067" cy="493.4" r="5"/><circle cx="1184.6" cy="487.2" r="5"/><circle cx="1135.7" cy="1064" r="5"/><circle cx="1126" cy="1074.5" r="5"/><circle cx="449.2" cy="997.7" r="5"/><circle cx="1229.8" cy="408.7" r="5"/><circle cx="1235.8" cy="418.8" r="5"/><circle cx="1220.4" cy="406.1" r="5"/><circle cx="1220.5" cy="414.9" r="5"/><circle cx="1388" cy="618.6" r="5"/><circle cx="1385.1" cy="604" r="5"/><circle cx="1394.4" cy="604.9" r="5"/><circle cx="599.1" cy="812.1" r="5"/><circle cx="1164.4" cy="918.6" r="5"/><circle cx="1170.3" cy="903.6" r="5"/><circle cx="1164.9" cy="915.2" r="5"/><circle cx="1169.2" cy="913.3" r="5"/><circle cx="1169.8" cy="909.6" r="5"/><circle cx="1166.3" cy="903.9" r="5"/><circle cx="1169.8" cy="918.3" r="5"/><circle cx="1178" cy="904.3" r="5"/><circle cx="1176" cy="912.2" r="5"/><circle cx="1611.5" cy="881.1" r="5"/><circle cx="1603.7" cy="896.4" r="5"/><circle cx="760.9" cy="1047.3" r="5"/><circle cx="1265" cy="425.2" r="5"/><circle cx="1273.3" cy="433.5" r="5"/><circle cx="983" cy="1013.3" r="5"/><circle cx="992.1" cy="1012.2" r="5"/><circle cx="999.6" cy="1019.3" r="5"/><circle cx="1346.7" cy="1021.6" r="5"/><circle cx="1354.7" cy="1027.4" r="5"/><circle cx="1358.1" cy="1032.3" r="5"/><circle cx="1351" cy="1037.4" r="5"/><circle cx="1357" cy="1039.8" r="5"/><circle cx="1343.2" cy="1020.5" r="5"/><circle cx="1348.7" cy="1030.2" r="5"/><circle cx="1045.2" cy="773.6" r="5"/><circle cx="1056.6" cy="772.1" r="5"/><circle cx="1383.6" cy="475.7" r="5"/><circle cx="1382.1" cy="460.3" r="5"/><circle cx="1392.3" cy="468.7" r="5"/><circle cx="550.4" cy="965.5" r="5"/><circle cx="1556.4" cy="529" r="5"/><circle cx="1558.7" cy="523.4" r="5"/><circle cx="1545.7" cy="537.2" r="5"/><circle cx="1338.2" cy="717.9" r="5"/><circle cx="1333.8" cy="718.8" r="5"/><circle cx="1322.8" cy="711.2" r="5"/><circle cx="1038.2" cy="734.4" r="5"/><circle cx="1030.1" cy="733.9" r="5"/><circle cx="1027" cy="738.9" r="5"/><circle cx="1027.8" cy="726.5" r="5"/><circle cx="1030.5" cy="730.2" r="5"/><circle cx="1034.6" cy="726.3" r="5"/><circle cx="1448.5" cy="513.6" r="5"/><circle cx="1690.2" cy="841.7" r="5"/><circle cx="1697.4" cy="859.8" r="5"/><circle cx="440.7" cy="1002" r="5"/><circle cx="457.8" cy="1001.3" r="5"/><circle cx="440.9" cy="1019.7" r="5"/><circle cx="1138.7" cy="456.5" r="5"/><circle cx="1134.1" cy="449.4" r="5"/><circle cx="1121.2" cy="455.8" r="5"/><circle cx="1130.5" cy="458.4" r="5"/><circle cx="872.9" cy="593.8" r="5"/><circle cx="862.5" cy="592.5" r="5"/><circle cx="863.5" cy="586.6" r="5"/><circle cx="954.8" cy="471.3" r="5"/><circle cx="945.3" cy="467.6" r="5"/><circle cx="1590.2" cy="645.6" r="5"/><circle cx="1597.1" cy="653.8" r="5"/><circle cx="1580.4" cy="648.3" r="5"/><circle cx="1581.4" cy="659.4" r="5"/><circle cx="1582.8" cy="642" r="5"/><circle cx="609.6" cy="1077" r="5"/><circle cx="1143.9" cy="495.5" r="5"/><circle cx="1152.3" cy="492.1" r="5"/><circle cx="1416.1" cy="1153.1" r="5"/><circle cx="1077.3" cy="888.5" r="5"/><circle cx="1071.1" cy="885.3" r="5"/><circle cx="1061.7" cy="898.9" r="5"/><circle cx="1074" cy="899.7" r="5"/><circle cx="800.7" cy="908.3" r="5"/><circle cx="818.4" cy="900.9" r="5"/><circle cx="806.2" cy="907" r="5"/><circle cx="978.6" cy="591.1" r="5"/><circle cx="972.6" cy="597.8" r="5"/><circle cx="969" cy="594.9" r="5"/><circle cx="965" cy="597.8" r="5"/><circle cx="961.3" cy="586.2" r="5"/><circle cx="963.7" cy="588.8" r="5"/><circle cx="964.3" cy="580.6" r="5"/><circle cx="1347.2" cy="481.6" r="5"/><circle cx="1341.8" cy="492.7" r="5"/><circle cx="1357.5" cy="490" r="5"/><circle cx="1347.9" cy="499.3" r="5"/><circle cx="1412.5" cy="1052.2" r="5"/><circle cx="1403.3" cy="1048.6" r="5"/><circle cx="1042.5" cy="485" r="5"/><circle cx="1055.1" cy="498.4" r="5"/><circle cx="1540.7" cy="713.5" r="5"/><circle cx="1547.4" cy="708.2" r="5"/><circle cx="1553.6" cy="703.3" r="5"/><circle cx="593.2" cy="994.6" r="5"/><circle cx="1202.6" cy="373.1" r="5"/><circle cx="896.1" cy="632.6" r="5"/><circle cx="890.3" cy="639.1" r="5"/><circle cx="892.2" cy="623" r="5"/><circle cx="1126.5" cy="510.8" r="5"/><circle cx="1121.5" cy="508.6" r="5"/><circle cx="1120.9" cy="512.9" r="5"/><circle cx="1134.6" cy="515.5" r="5"/><circle cx="1134.4" cy="518.1" r="5"/><circle cx="1129" cy="514.9" r="5"/><circle cx="1123.5" cy="517.6" r="5"/><circle cx="1126.9" cy="504.9" r="5"/><circle cx="1129.3" cy="506.5" r="5"/><circle cx="1125.5" cy="502.5" r="5"/><circle cx="1137.4" cy="509.5" r="5"/><circle cx="1551.4" cy="732.4" r="5"/><circle cx="1558.8" cy="724" r="5"/><circle cx="1226" cy="320.5" r="5"/><circle cx="1220.6" cy="335.2" r="5"/><circle cx="980.5" cy="427.6" r="5"/><circle cx="997.9" cy="431.7" r="5"/><circle cx="986.4" cy="421.9" r="5"/><circle cx="986.4" cy="429.9" r="5"/><circle cx="981.7" cy="571" r="5"/><circle cx="992.4" cy="567.7" r="5"/><circle cx="986.2" cy="497" r="5"/><circle cx="991.6" cy="481.7" r="5"/><circle cx="986.5" cy="484.1" r="5"/><circle cx="992.2" cy="498.8" r="5"/><circle cx="998.4" cy="490.4" r="5"/><circle cx="495.9" cy="1070.6" r="5"/><circle cx="494.2" cy="1064.8" r="5"/><circle cx="1500.7" cy="583.9" r="5"/><circle cx="1512" cy="589.9" r="5"/><circle cx="1514.9" cy="581.2" r="5"/><circle cx="1227.1" cy="393.3" r="5"/><circle cx="1235.2" cy="398.3" r="5"/><circle cx="1558" cy="1037.2" r="5"/><circle cx="1551.6" cy="1032" r="5"/><circle cx="848.7" cy="535.5" r="5"/><circle cx="846.1" cy="521.4" r="5"/><circle cx="856.2" cy="521" r="5"/><circle cx="891.1" cy="476.8" r="5"/><circle cx="880.6" cy="943.5" r="5"/><circle cx="891.7" cy="954.8" r="5"/><circle cx="1514.2" cy="655.3" r="5"/><circle cx="1510.6" cy="641.2" r="5"/><circle cx="1502.4" cy="654.3" r="5"/><circle cx="1519.4" cy="644.5" r="5"/><circle cx="665.6" cy="669.2" r="5"/><circle cx="905.1" cy="805.4" r="5"/><circle cx="905.9" cy="816.4" r="5"/></g>
<g fill="#52137C"><circle cx="1069" cy="370" r="5"/><circle cx="1079" cy="387" r="5"/><circle cx="1133" cy="392" r="5"/><circle cx="898" cy="473" r="5"/><circle cx="1033" cy="478" r="5"/><circle cx="1102" cy="495" r="5"/><circle cx="876" cy="513" r="5"/><circle cx="911" cy="522" r="5"/><circle cx="1122" cy="520" r="5"/><circle cx="1040" cy="528" r="5"/><circle cx="1028" cy="538" r="5"/><circle cx="1082" cy="534" r="5"/><circle cx="1138" cy="532" r="5"/><circle cx="1335" cy="373" r="5"/><circle cx="1359" cy="398" r="5"/><circle cx="1318" cy="421" r="5"/><circle cx="1252.4" cy="425.6" r="5"/><circle cx="1205" cy="433" r="5"/><circle cx="1412" cy="439" r="5"/><circle cx="1401" cy="451.6" r="5"/><circle cx="1450" cy="461" r="5"/><circle cx="1414" cy="473" r="5"/><circle cx="1441" cy="504" r="5"/><circle cx="1404" cy="512.4" r="5"/><circle cx="1530" cy="511" r="5"/><circle cx="1540" cy="509" r="5"/><circle cx="1474" cy="529" r="5"/><circle cx="1490" cy="535" r="5"/><circle cx="1577" cy="539" r="5"/><circle cx="1629.2" cy="293.4" r="5"/><circle cx="1638.6" cy="291.8" r="5"/><circle cx="1654.6" cy="285.8" r="5"/><circle cx="1656.4" cy="286.4" r="5"/><circle cx="1648.6" cy="297.2" r="5"/><circle cx="1655.2" cy="306.2" r="5"/><circle cx="1649.2" cy="308.6" r="5"/><circle cx="1645.6" cy="321.2" r="5"/><circle cx="1592.8" cy="324.2" r="5"/><circle cx="1624" cy="330.2" r="5"/><circle cx="1625.8" cy="329" r="5"/><circle cx="1638.6" cy="330.8" r="5"/><circle cx="1703.2" cy="308" r="5"/><circle cx="1707.4" cy="315.8" r="5"/><circle cx="1709.2" cy="320" r="5"/><circle cx="1674.6" cy="328.6" r="5"/><circle cx="1692.2" cy="330.6" r="5"/><circle cx="1721" cy="336.8" r="5"/><circle cx="1737.4" cy="335.6" r="5"/><circle cx="1711.4" cy="345" r="5"/><circle cx="1639.4" cy="357.4" r="5"/><circle cx="1712.6" cy="361.2" r="5"/><circle cx="1694.8" cy="368" r="5"/><circle cx="1689.4" cy="373.4" r="5"/><circle cx="1729.6" cy="368.6" r="5"/><circle cx="1726" cy="372.2" r="5"/><circle cx="1631.2" cy="372.8" r="5"/><circle cx="1626.4" cy="375.2" r="5"/><circle cx="1631.6" cy="658" r="5"/><circle cx="1669.6" cy="806" r="5"/><circle cx="1663" cy="813" r="5"/><circle cx="1690.4" cy="826" r="5"/><circle cx="707" cy="1140" r="5"/><circle cx="718" cy="1146" r="5"/><circle cx="727" cy="1141" r="5"/><circle cx="728" cy="1165" r="5"/><circle cx="703" cy="1177" r="5"/><circle cx="742" cy="1180.4" r="5"/><circle cx="724" cy="1209.4" r="5"/><circle cx="781" cy="1174" r="5"/><circle cx="800" cy="1170" r="5"/><circle cx="929.1" cy="764.1" r="5"/><circle cx="674.9" cy="973.9" r="5"/><circle cx="550.8" cy="1110.7" r="5"/><circle cx="555.6" cy="1117.1" r="5"/><circle cx="544.6" cy="1106.5" r="5"/><circle cx="545.6" cy="1101.9" r="5"/><circle cx="877.1" cy="846.3" r="5"/><circle cx="1320.7" cy="566.4" r="5"/><circle cx="1338.9" cy="568.5" r="5"/><circle cx="1125.2" cy="743" r="5"/><circle cx="738.2" cy="758" r="5"/><circle cx="989.1" cy="685.6" r="5"/><circle cx="1458.6" cy="633.1" r="5"/><circle cx="1411.8" cy="848.7" r="5"/><circle cx="1428" cy="766.4" r="5"/><circle cx="592.3" cy="922.9" r="5"/><circle cx="598.3" cy="1065.6" r="5"/><circle cx="865.9" cy="1005.1" r="5"/><circle cx="1091.1" cy="714.4" r="5"/><circle cx="1349.5" cy="1010.2" r="5"/><circle cx="1397.7" cy="568.8" r="5"/><circle cx="826.6" cy="630" r="5"/><circle cx="778.1" cy="840.5" r="5"/><circle cx="770.3" cy="854.9" r="5"/><circle cx="1551" cy="695.2" r="5"/><circle cx="933.6" cy="962.8" r="5"/><circle cx="935.4" cy="971.8" r="5"/><circle cx="497.7" cy="796.2" r="5"/><circle cx="1356" cy="606.1" r="5"/><circle cx="916.5" cy="1040.3" r="5"/><circle cx="912.2" cy="1054.7" r="5"/><circle cx="907.4" cy="1043.3" r="5"/><circle cx="861.1" cy="711.7" r="5"/><circle cx="1560.6" cy="899.2" r="5"/><circle cx="632.9" cy="940.8" r="5"/><circle cx="914.9" cy="923.2" r="5"/><circle cx="902.9" cy="934" r="5"/><circle cx="614.9" cy="796.6" r="5"/><circle cx="879.8" cy="731.9" r="5"/><circle cx="870.3" cy="726.2" r="5"/><circle cx="1428.4" cy="1017.9" r="5"/><circle cx="1235" cy="893.9" r="5"/><circle cx="620.9" cy="806.9" r="5"/><circle cx="900.3" cy="908.4" r="5"/><circle cx="1268.2" cy="671.2" r="5"/><circle cx="1166.7" cy="868.3" r="5"/><circle cx="449" cy="942.1" r="5"/><circle cx="444.5" cy="957.5" r="5"/><circle cx="449.5" cy="954.9" r="5"/><circle cx="613.6" cy="966.7" r="5"/><circle cx="609.6" cy="966.5" r="5"/><circle cx="606.1" cy="770.8" r="5"/><circle cx="704.2" cy="851.7" r="5"/><circle cx="703.6" cy="841.5" r="5"/><circle cx="718.2" cy="853.1" r="5"/><circle cx="715.6" cy="847" r="5"/><circle cx="1350.9" cy="807.5" r="5"/><circle cx="1346.5" cy="817.2" r="5"/><circle cx="1199.8" cy="1060.4" r="5"/><circle cx="1554.4" cy="592.7" r="5"/><circle cx="690" cy="762.6" r="5"/><circle cx="692.1" cy="770.1" r="5"/><circle cx="700.1" cy="860.2" r="5"/><circle cx="716.1" cy="866.4" r="5"/><circle cx="702" cy="875.8" r="5"/><circle cx="593.1" cy="746.9" r="5"/><circle cx="583.6" cy="747.6" r="5"/><circle cx="468.3" cy="877.5" r="5"/><circle cx="1092" cy="866.6" r="5"/><circle cx="1144.4" cy="763.2" r="5"/><circle cx="1439.1" cy="676.9" r="5"/><circle cx="674.3" cy="1011.8" r="5"/><circle cx="1306.1" cy="864.7" r="5"/><circle cx="799.9" cy="783.5" r="5"/><circle cx="1462.7" cy="929.5" r="5"/><circle cx="949.4" cy="1063.7" r="5"/><circle cx="676.4" cy="1044.6" r="5"/><circle cx="670.6" cy="1059.4" r="5"/><circle cx="1077.9" cy="824.5" r="5"/><circle cx="1070.2" cy="838.6" r="5"/><circle cx="1333.5" cy="1065.6" r="5"/><circle cx="1297.1" cy="990.6" r="5"/><circle cx="1295.8" cy="996.7" r="5"/><circle cx="938" cy="918.7" r="5"/><circle cx="1161.9" cy="765" r="5"/><circle cx="1161.6" cy="775.8" r="5"/><circle cx="535.3" cy="884.2" r="5"/><circle cx="1041.9" cy="617.3" r="5"/><circle cx="1043.4" cy="612.2" r="5"/><circle cx="1309.6" cy="888.8" r="5"/><circle cx="1231" cy="912.4" r="5"/><circle cx="1515.1" cy="609.7" r="5"/><circle cx="1058.9" cy="1072" r="5"/><circle cx="1042" cy="1072.7" r="5"/><circle cx="1006.7" cy="621.6" r="5"/><circle cx="572.6" cy="783.3" r="5"/><circle cx="871.9" cy="699.7" r="5"/><circle cx="813.4" cy="984.8" r="5"/><circle cx="1171" cy="571.3" r="5"/><circle cx="1160.3" cy="574.9" r="5"/><circle cx="1195.9" cy="742" r="5"/><circle cx="458.6" cy="924.8" r="5"/><circle cx="445.3" cy="939" r="5"/><circle cx="457.2" cy="929.2" r="5"/><circle cx="453.2" cy="936.9" r="5"/><circle cx="1260.6" cy="1025" r="5"/><circle cx="1231.8" cy="1096" r="5"/><circle cx="1238.6" cy="1093.9" r="5"/><circle cx="1225.6" cy="1082.4" r="5"/><circle cx="983.9" cy="707.7" r="5"/><circle cx="1339.9" cy="745.4" r="5"/><circle cx="560.5" cy="997.4" r="5"/><circle cx="894.3" cy="885.2" r="5"/><circle cx="790.6" cy="1015.9" r="5"/><circle cx="1361.6" cy="998.4" r="5"/><circle cx="1366.1" cy="990.4" r="5"/><circle cx="921.3" cy="830.6" r="5"/><circle cx="925.8" cy="826.2" r="5"/><circle cx="906.1" cy="855.4" r="5"/><circle cx="1141.7" cy="884.5" r="5"/><circle cx="1149.5" cy="890.3" r="5"/><circle cx="743.9" cy="784.3" r="5"/><circle cx="671" cy="686" r="5"/><circle cx="1227.5" cy="1067.3" r="5"/><circle cx="657.1" cy="708.4" r="5"/><circle cx="644.4" cy="706.2" r="5"/><circle cx="693.4" cy="1105.2" r="5"/><circle cx="1249.9" cy="703" r="5"/><circle cx="1384.4" cy="586.7" r="5"/><circle cx="835.2" cy="696.8" r="5"/><circle cx="764.7" cy="833.7" r="5"/><circle cx="810.1" cy="888.2" r="5"/><circle cx="1191.6" cy="647.7" r="5"/><circle cx="1185.5" cy="654.7" r="5"/><circle cx="546.2" cy="1037.1" r="5"/><circle cx="553.5" cy="1023.6" r="5"/><circle cx="1284.7" cy="1013.1" r="5"/><circle cx="1296.7" cy="1013.9" r="5"/><circle cx="1282.3" cy="1003.8" r="5"/><circle cx="851.5" cy="926" r="5"/><circle cx="842.9" cy="923.2" r="5"/><circle cx="1144.8" cy="864" r="5"/><circle cx="577.1" cy="1070.9" r="5"/><circle cx="570" cy="1073.7" r="5"/><circle cx="1078.8" cy="779.5" r="5"/><circle cx="1537.4" cy="731.1" r="5"/><circle cx="956.9" cy="904.7" r="5"/><circle cx="1308.9" cy="648" r="5"/><circle cx="842.8" cy="671.9" r="5"/><circle cx="1236.3" cy="952.5" r="5"/><circle cx="480.4" cy="915.2" r="5"/><circle cx="1483" cy="974.8" r="5"/><circle cx="1483.8" cy="1037.3" r="5"/><circle cx="1424.8" cy="884.7" r="5"/><circle cx="1312.3" cy="1055.7" r="5"/><circle cx="1171.2" cy="886.7" r="5"/><circle cx="1108.1" cy="994.1" r="5"/><circle cx="1104.7" cy="997.5" r="5"/><circle cx="652.3" cy="697.7" r="5"/><circle cx="658.9" cy="699.5" r="5"/><circle cx="1189" cy="976" r="5"/><circle cx="628.9" cy="765" r="5"/><circle cx="623" cy="765.9" r="5"/><circle cx="903.7" cy="589.4" r="5"/><circle cx="509.2" cy="999.7" r="5"/><circle cx="503.2" cy="996" r="5"/><circle cx="519.6" cy="993.2" r="5"/><circle cx="503" cy="985.7" r="5"/><circle cx="1357.6" cy="701.6" r="5"/><circle cx="1357.9" cy="708" r="5"/><circle cx="551.9" cy="807.6" r="5"/><circle cx="1181.6" cy="898.6" r="5"/><circle cx="1031.8" cy="1060" r="5"/><circle cx="724.6" cy="1016.1" r="5"/><circle cx="1022" cy="712.7" r="5"/><circle cx="1331.9" cy="1059.7" r="5"/><circle cx="780.5" cy="727.1" r="5"/><circle cx="1514.5" cy="949.8" r="5"/><circle cx="530.9" cy="968.4" r="5"/><circle cx="534.1" cy="975.8" r="5"/><circle cx="476.7" cy="977.7" r="5"/><circle cx="463.1" cy="961.3" r="5"/><circle cx="468.6" cy="962.4" r="5"/><circle cx="827.4" cy="582.6" r="5"/><circle cx="737" cy="962.1" r="5"/><circle cx="633.6" cy="995" r="5"/><circle cx="624.1" cy="982.2" r="5"/><circle cx="626.2" cy="990" r="5"/><circle cx="1441.2" cy="751.8" r="5"/><circle cx="845.3" cy="960.7" r="5"/><circle cx="841.4" cy="966.4" r="5"/><circle cx="1163.1" cy="1004.6" r="5"/><circle cx="695" cy="854.2" r="5"/><circle cx="692.3" cy="859.7" r="5"/><circle cx="699.5" cy="856.6" r="5"/><circle cx="1205.4" cy="613.5" r="5"/><circle cx="1215.2" cy="617.7" r="5"/><circle cx="853.6" cy="751.2" r="5"/><circle cx="678.7" cy="894.1" r="5"/><circle cx="713.5" cy="1073.5" r="5"/><circle cx="1133" cy="944.3" r="5"/><circle cx="597.7" cy="1027.3" r="5"/><circle cx="1115.3" cy="835.9" r="5"/><circle cx="645.6" cy="746" r="5"/><circle cx="1224.4" cy="1031.2" r="5"/><circle cx="620.9" cy="846.3" r="5"/><circle cx="636.3" cy="854.5" r="5"/><circle cx="540.4" cy="1076.5" r="5"/><circle cx="546.8" cy="1074.9" r="5"/><circle cx="1053.3" cy="705.3" r="5"/><circle cx="552" cy="1051.5" r="5"/><circle cx="559.9" cy="1051.7" r="5"/><circle cx="1250.3" cy="1023.7" r="5"/><circle cx="806.3" cy="1028.6" r="5"/><circle cx="718.2" cy="941.1" r="5"/><circle cx="1493.1" cy="936.5" r="5"/><circle cx="515.1" cy="1039.3" r="5"/><circle cx="506.5" cy="1029.1" r="5"/><circle cx="709.6" cy="1081.1" r="5"/><circle cx="671" cy="873.2" r="5"/><circle cx="1133.4" cy="796.5" r="5"/><circle cx="947.6" cy="967.2" r="5"/><circle cx="959.3" cy="960.9" r="5"/><circle cx="837.5" cy="1020.2" r="5"/><circle cx="820.9" cy="1023.7" r="5"/><circle cx="1067.5" cy="582.8" r="5"/><circle cx="478.8" cy="922.3" r="5"/><circle cx="1515.4" cy="980.2" r="5"/><circle cx="1031.9" cy="854.3" r="5"/><circle cx="1170.7" cy="621.8" r="5"/><circle cx="1492" cy="778.6" r="5"/><circle cx="1261.6" cy="682.9" r="5"/><circle cx="1262.8" cy="690.4" r="5"/><circle cx="709" cy="1041.2" r="5"/><circle cx="711.9" cy="1056.5" r="5"/><circle cx="703.5" cy="1046" r="5"/><circle cx="1402.2" cy="576.3" r="5"/><circle cx="1508.1" cy="784.6" r="5"/><circle cx="912.9" cy="616.5" r="5"/><circle cx="919.3" cy="604.4" r="5"/><circle cx="1369.4" cy="878.3" r="5"/><circle cx="1568.9" cy="745.9" r="5"/><circle cx="584.1" cy="904.7" r="5"/><circle cx="857.1" cy="888.7" r="5"/><circle cx="910.3" cy="1012.1" r="5"/><circle cx="1089.8" cy="579" r="5"/><circle cx="1086" cy="567.6" r="5"/><circle cx="722.2" cy="1043.4" r="5"/><circle cx="671.6" cy="914.2" r="5"/><circle cx="623.8" cy="965.1" r="5"/><circle cx="638.2" cy="975.4" r="5"/><circle cx="725.8" cy="875.8" r="5"/><circle cx="734.2" cy="870.4" r="5"/><circle cx="1457.3" cy="793.1" r="5"/><circle cx="651.2" cy="839.9" r="5"/><circle cx="644.5" cy="835" r="5"/><circle cx="1095.1" cy="835.4" r="5"/><circle cx="959.3" cy="635.6" r="5"/><circle cx="692" cy="1035.1" r="5"/><circle cx="1510" cy="703.2" r="5"/><circle cx="1426.8" cy="828.6" r="5"/><circle cx="562.7" cy="1105.7" r="5"/><circle cx="1070.9" cy="1089.6" r="5"/><circle cx="557.3" cy="1099.8" r="5"/><circle cx="545.2" cy="1082.1" r="5"/><circle cx="1093.2" cy="963.6" r="5"/><circle cx="712.3" cy="772.1" r="5"/><circle cx="1032.2" cy="756.7" r="5"/><circle cx="1024.5" cy="759.1" r="5"/><circle cx="835.7" cy="897.5" r="5"/><circle cx="1143.7" cy="752.6" r="5"/><circle cx="1140.2" cy="741.4" r="5"/><circle cx="1152.1" cy="751.6" r="5"/><circle cx="1245.3" cy="950.8" r="5"/><circle cx="790.4" cy="896" r="5"/><circle cx="1045.8" cy="653.9" r="5"/><circle cx="1344.1" cy="1112.1" r="5"/><circle cx="736.3" cy="1090.3" r="5"/><circle cx="722.7" cy="1091.6" r="5"/><circle cx="722.3" cy="1084.7" r="5"/><circle cx="732.3" cy="1085.4" r="5"/><circle cx="1012.8" cy="735.5" r="5"/><circle cx="1016.4" cy="724.5" r="5"/><circle cx="1589.8" cy="912.5" r="5"/><circle cx="1598.7" cy="912.6" r="5"/><circle cx="499" cy="966.9" r="5"/><circle cx="1524.8" cy="549.1" r="5"/><circle cx="1395.6" cy="896.7" r="5"/><circle cx="1384" cy="890" r="5"/><circle cx="1101.5" cy="786.1" r="5"/><circle cx="981" cy="899.6" r="5"/><circle cx="502.9" cy="927.4" r="5"/><circle cx="587.2" cy="897" r="5"/><circle cx="980.8" cy="951.1" r="5"/><circle cx="1187.9" cy="691.6" r="5"/><circle cx="911.3" cy="622.9" r="5"/><circle cx="1361.8" cy="713.8" r="5"/><circle cx="1335.1" cy="549" r="5"/><circle cx="596.1" cy="827" r="5"/><circle cx="588.8" cy="839.1" r="5"/><circle cx="588.4" cy="828.7" r="5"/><circle cx="1442.4" cy="569.1" r="5"/><circle cx="1456.5" cy="667.4" r="5"/><circle cx="1443.6" cy="663.1" r="5"/><circle cx="764.1" cy="726.6" r="5"/><circle cx="1492.3" cy="1069.2" r="5"/><circle cx="829.1" cy="777.1" r="5"/><circle cx="1047.6" cy="1027.6" r="5"/><circle cx="860.6" cy="1036.7" r="5"/><circle cx="874.2" cy="1031.9" r="5"/><circle cx="865.1" cy="1038.4" r="5"/><circle cx="641.8" cy="991.6" r="5"/><circle cx="1141" cy="626.3" r="5"/><circle cx="818.4" cy="848.3" r="5"/><circle cx="465.3" cy="838.1" r="5"/><circle cx="1367.4" cy="605.3" r="5"/><circle cx="758" cy="719.5" r="5"/><circle cx="884.5" cy="926" r="5"/><circle cx="1405.1" cy="761.1" r="5"/><circle cx="455.2" cy="976.4" r="5"/><circle cx="575.5" cy="877.3" r="5"/><circle cx="1440.7" cy="970.1" r="5"/><circle cx="1138.2" cy="603.1" r="5"/><circle cx="690.1" cy="728.9" r="5"/><circle cx="512.7" cy="805.9" r="5"/><circle cx="515.5" cy="812.4" r="5"/><circle cx="807.9" cy="1010.2" r="5"/><circle cx="520.1" cy="1022.9" r="5"/><circle cx="1398.3" cy="744.5" r="5"/><circle cx="831.7" cy="969.1" r="5"/><circle cx="1460.6" cy="804.7" r="5"/><circle cx="1465.7" cy="800.6" r="5"/><circle cx="790.7" cy="913.8" r="5"/><circle cx="686.8" cy="1130.9" r="5"/><circle cx="711.7" cy="1026.2" r="5"/><circle cx="881.2" cy="597" r="5"/><circle cx="891" cy="596.6" r="5"/><circle cx="1319.9" cy="622.9" r="5"/><circle cx="1283.7" cy="1133.7" r="5"/><circle cx="688.6" cy="879.8" r="5"/><circle cx="1395" cy="992.1" r="5"/><circle cx="1128" cy="906" r="5"/><circle cx="678.1" cy="711.7" r="5"/><circle cx="671.4" cy="715.3" r="5"/><circle cx="1535.4" cy="566.6" r="5"/><circle cx="1339.7" cy="604" r="5"/><circle cx="680.3" cy="993.7" r="5"/><circle cx="1381.3" cy="927.2" r="5"/><circle cx="1450.3" cy="890.4" r="5"/><circle cx="1341.5" cy="856.1" r="5"/><circle cx="902.1" cy="826.2" r="5"/><circle cx="1376.6" cy="1106.1" r="5"/><circle cx="660.6" cy="1092.1" r="5"/><circle cx="670.9" cy="955.9" r="5"/><circle cx="752.2" cy="635.7" r="5"/><circle cx="724.8" cy="1039.7" r="5"/><circle cx="818.2" cy="1079.7" r="5"/><circle cx="788.4" cy="986.2" r="5"/><circle cx="782.9" cy="994" r="5"/><circle cx="1242.9" cy="597.2" r="5"/><circle cx="1113.3" cy="896.6" r="5"/><circle cx="863.5" cy="564.3" r="5"/><circle cx="949" cy="828.5" r="5"/><circle cx="1188.7" cy="554.8" r="5"/><circle cx="1475.7" cy="710.4" r="5"/><circle cx="1138.9" cy="830.7" r="5"/><circle cx="1133.3" cy="831.1" r="5"/><circle cx="700.3" cy="682" r="5"/><circle cx="946.5" cy="803" r="5"/><circle cx="1376.9" cy="573.5" r="5"/><circle cx="1592.6" cy="784.1" r="5"/><circle cx="1156" cy="610" r="5"/><circle cx="740" cy="715.4" r="5"/><circle cx="735.2" cy="705.5" r="5"/><circle cx="483.1" cy="950.5" r="5"/><circle cx="1446.2" cy="1036.9" r="5"/><circle cx="886.6" cy="1049.5" r="5"/><circle cx="1597.7" cy="858.1" r="5"/><circle cx="1591.6" cy="847.8" r="5"/><circle cx="782.1" cy="648.5" r="5"/><circle cx="540.2" cy="858.8" r="5"/><circle cx="547.3" cy="845.5" r="5"/><circle cx="863.1" cy="922.9" r="5"/><circle cx="1323.1" cy="783" r="5"/><circle cx="1128.6" cy="968.1" r="5"/><circle cx="643.9" cy="1094.5" r="5"/><circle cx="649.7" cy="1083.6" r="5"/><circle cx="1178.8" cy="680.6" r="5"/><circle cx="824.4" cy="937.7" r="5"/><circle cx="834.6" cy="927" r="5"/><circle cx="822.7" cy="929.8" r="5"/><circle cx="1340.9" cy="1134.8" r="5"/><circle cx="625.6" cy="1065" r="5"/><circle cx="628.5" cy="1073.9" r="5"/><circle cx="1004.4" cy="1060.4" r="5"/><circle cx="1395.2" cy="738.2" r="5"/><circle cx="1381.7" cy="736.4" r="5"/><circle cx="1376.8" cy="891.7" r="5"/><circle cx="1370.5" cy="660" r="5"/><circle cx="1009.1" cy="591.7" r="5"/><circle cx="470.9" cy="917.6" r="5"/><circle cx="471.1" cy="910.1" r="5"/><circle cx="1563.6" cy="835.9" r="5"/><circle cx="1058.5" cy="572.9" r="5"/><circle cx="556.3" cy="862" r="5"/><circle cx="929.3" cy="789.7" r="5"/><circle cx="890.5" cy="848.2" r="5"/><circle cx="758.1" cy="754.3" r="5"/><circle cx="746.7" cy="753.4" r="5"/><circle cx="611.4" cy="805.2" r="5"/><circle cx="707.8" cy="928.3" r="5"/><circle cx="1180.1" cy="709.4" r="5"/><circle cx="565.8" cy="1130.7" r="5"/><circle cx="1186.1" cy="878.6" r="5"/><circle cx="784.7" cy="708.4" r="5"/><circle cx="782" cy="717.9" r="5"/><circle cx="1232.3" cy="1009.2" r="5"/><circle cx="540.9" cy="778.9" r="5"/><circle cx="570.7" cy="1091.7" r="5"/><circle cx="565.2" cy="1087.3" r="5"/><circle cx="959.5" cy="560.2" r="5"/><circle cx="955.6" cy="566.3" r="5"/><circle cx="1029.1" cy="599.5" r="5"/><circle cx="1086.2" cy="587.7" r="5"/><circle cx="1092.6" cy="590.2" r="5"/><circle cx="859.3" cy="643.6" r="5"/><circle cx="859" cy="655.7" r="5"/><circle cx="1323" cy="1159" r="5"/><circle cx="1337.4" cy="1156.2" r="5"/><circle cx="745.1" cy="1044.5" r="5"/><circle cx="1269" cy="1139.3" r="5"/><circle cx="933.5" cy="629.5" r="5"/><circle cx="922.6" cy="638.2" r="5"/><circle cx="936.1" cy="620.9" r="5"/><circle cx="1030.7" cy="809.5" r="5"/><circle cx="791.3" cy="967" r="5"/><circle cx="786.8" cy="971.2" r="5"/><circle cx="1465.6" cy="972.1" r="5"/><circle cx="1474.6" cy="976.1" r="5"/><circle cx="1479.8" cy="979.1" r="5"/><circle cx="570.6" cy="765" r="5"/><circle cx="560.7" cy="779.1" r="5"/><circle cx="707.2" cy="1017.7" r="5"/><circle cx="986.3" cy="624.1" r="5"/><circle cx="904.3" cy="946.5" r="5"/><circle cx="1004.3" cy="764.4" r="5"/><circle cx="1258.7" cy="1009.7" r="5"/><circle cx="1152.4" cy="932.6" r="5"/><circle cx="495.1" cy="937.5" r="5"/><circle cx="946.1" cy="989.2" r="5"/><circle cx="768.1" cy="873" r="5"/><circle cx="771.7" cy="861" r="5"/><circle cx="980.1" cy="910.3" r="5"/><circle cx="1020.8" cy="971.6" r="5"/><circle cx="865.4" cy="984.2" r="5"/><circle cx="1420.6" cy="608.2" r="5"/><circle cx="1331.1" cy="929.7" r="5"/><circle cx="1309.8" cy="1176.1" r="5"/><circle cx="637.2" cy="1000.2" r="5"/><circle cx="959.6" cy="871.9" r="5"/><circle cx="824.6" cy="1068.6" r="5"/><circle cx="1190.7" cy="1104.6" r="5"/><circle cx="1115" cy="933.7" r="5"/><circle cx="1222.1" cy="851.9" r="5"/><circle cx="1359.2" cy="936.9" r="5"/><circle cx="1455.6" cy="767.1" r="5"/><circle cx="750.2" cy="844.6" r="5"/><circle cx="647.4" cy="861.9" r="5"/><circle cx="1272.6" cy="868.7" r="5"/><circle cx="729.3" cy="881.5" r="5"/><circle cx="1267.3" cy="590.9" r="5"/><circle cx="649.8" cy="920.9" r="5"/><circle cx="1020.1" cy="881.6" r="5"/><circle cx="516.8" cy="962.6" r="5"/><circle cx="978.6" cy="996.6" r="5"/><circle cx="819.2" cy="723.3" r="5"/><circle cx="1102.3" cy="577.1" r="5"/><circle cx="845.1" cy="1055.7" r="5"/><circle cx="849.7" cy="1045.5" r="5"/><circle cx="855" cy="1046.9" r="5"/><circle cx="1536.2" cy="827.2" r="5"/><circle cx="864.2" cy="834.5" r="5"/><circle cx="861.4" cy="829.4" r="5"/><circle cx="735" cy="621.1" r="5"/><circle cx="1464.5" cy="1013.5" r="5"/><circle cx="1422.2" cy="786.5" r="5"/><circle cx="1200.4" cy="905.6" r="5"/><circle cx="1165.2" cy="939.1" r="5"/><circle cx="727.1" cy="952.1" r="5"/><circle cx="1243.2" cy="1155.4" r="5"/><circle cx="1317.1" cy="1116.3" r="5"/><circle cx="505" cy="1000.4" r="5"/><circle cx="516.6" cy="1016.4" r="5"/><circle cx="808.9" cy="937.3" r="5"/><circle cx="486.1" cy="1057.8" r="5"/><circle cx="745.5" cy="1131.6" r="5"/><circle cx="556" cy="890" r="5"/><circle cx="888.7" cy="1025.1" r="5"/><circle cx="559.9" cy="915.9" r="5"/><circle cx="548.5" cy="908.9" r="5"/><circle cx="1141.6" cy="704.4" r="5"/><circle cx="1156.8" cy="718.3" r="5"/><circle cx="856.6" cy="1024.1" r="5"/><circle cx="884.3" cy="918.9" r="5"/><circle cx="478.8" cy="954.3" r="5"/><circle cx="956" cy="600.2" r="5"/><circle cx="1240.5" cy="1111.5" r="5"/><circle cx="1242.1" cy="1105.4" r="5"/><circle cx="1282.6" cy="1026.8" r="5"/><circle cx="1290.1" cy="1035.8" r="5"/><circle cx="560.8" cy="896.1" r="5"/><circle cx="787" cy="836.7" r="5"/><circle cx="792.8" cy="825.1" r="5"/><circle cx="785.3" cy="830.9" r="5"/><circle cx="827.3" cy="901.1" r="5"/><circle cx="1001.8" cy="854.8" r="5"/><circle cx="1051" cy="838.6" r="5"/><circle cx="814.3" cy="953.5" r="5"/><circle cx="1514.2" cy="1000.4" r="5"/><circle cx="1099.6" cy="764.5" r="5"/><circle cx="1082.1" cy="774.5" r="5"/><circle cx="1040.5" cy="636.4" r="5"/><circle cx="439.8" cy="994.8" r="5"/><circle cx="430.5" cy="992.9" r="5"/><circle cx="1257.1" cy="763.3" r="5"/><circle cx="1240.2" cy="775.3" r="5"/><circle cx="1164.8" cy="734.3" r="5"/><circle cx="625" cy="887.9" r="5"/><circle cx="690.1" cy="829.5" r="5"/><circle cx="834.5" cy="613.4" r="5"/><circle cx="1023.2" cy="776.2" r="5"/><circle cx="657.2" cy="883.3" r="5"/><circle cx="1455.9" cy="650.1" r="5"/><circle cx="765" cy="961.6" r="5"/><circle cx="770.4" cy="967.1" r="5"/><circle cx="608.5" cy="913.9" r="5"/><circle cx="663.1" cy="808.2" r="5"/><circle cx="1022.7" cy="938.9" r="5"/><circle cx="1021.2" cy="931.2" r="5"/><circle cx="500.4" cy="780.5" r="5"/><circle cx="1406.1" cy="1034.4" r="5"/><circle cx="843.9" cy="550.1" r="5"/><circle cx="953.6" cy="954.9" r="5"/><circle cx="775.2" cy="925.9" r="5"/><circle cx="666.5" cy="990.4" r="5"/><circle cx="674.4" cy="981.9" r="5"/><circle cx="676.5" cy="992" r="5"/><circle cx="864.6" cy="940.6" r="5"/><circle cx="872.5" cy="944.3" r="5"/><circle cx="1560.2" cy="776.8" r="5"/><circle cx="1205.7" cy="1054.8" r="5"/><circle cx="939.7" cy="590.6" r="5"/><circle cx="951.5" cy="671.6" r="5"/><circle cx="957.1" cy="707.4" r="5"/><circle cx="514.1" cy="868.9" r="5"/><circle cx="642.2" cy="1036.6" r="5"/><circle cx="640.2" cy="1030.9" r="5"/><circle cx="717.4" cy="641.2" r="5"/><circle cx="943.5" cy="691.4" r="5"/><circle cx="1152" cy="671.4" r="5"/><circle cx="527.6" cy="908.2" r="5"/><circle cx="909.3" cy="885.4" r="5"/><circle cx="916.2" cy="886.6" r="5"/><circle cx="1218.7" cy="544.1" r="5"/><circle cx="1496.6" cy="661.5" r="5"/><circle cx="1264.3" cy="901.9" r="5"/><circle cx="730.1" cy="726.1" r="5"/><circle cx="721.7" cy="726.8" r="5"/><circle cx="744.9" cy="680" r="5"/><circle cx="1232.3" cy="707.7" r="5"/><circle cx="1215.6" cy="1017.9" r="5"/><circle cx="864.3" cy="540.3" r="5"/><circle cx="1566.4" cy="952" r="5"/><circle cx="611.9" cy="922.7" r="5"/><circle cx="605" cy="935.5" r="5"/><circle cx="981.6" cy="857.1" r="5"/><circle cx="618.3" cy="899.7" r="5"/><circle cx="857.7" cy="873.8" r="5"/><circle cx="643.5" cy="1008.1" r="5"/><circle cx="739.9" cy="810" r="5"/><circle cx="525.3" cy="956.8" r="5"/><circle cx="539.2" cy="941.8" r="5"/><circle cx="1251.8" cy="1128.3" r="5"/><circle cx="591.9" cy="760.7" r="5"/><circle cx="1556.6" cy="968.7" r="5"/><circle cx="455" cy="911.1" r="5"/><circle cx="636.6" cy="922.6" r="5"/><circle cx="592.6" cy="957.4" r="5"/><circle cx="580.8" cy="959.9" r="5"/><circle cx="714.3" cy="905.4" r="5"/><circle cx="509" cy="1065.9" r="5"/><circle cx="969.7" cy="978.3" r="5"/><circle cx="691.7" cy="962.1" r="5"/><circle cx="680.5" cy="965.9" r="5"/><circle cx="1000.7" cy="811.8" r="5"/><circle cx="1158.7" cy="731.2" r="5"/><circle cx="1142.5" cy="736.2" r="5"/><circle cx="886.7" cy="564.9" r="5"/><circle cx="838.2" cy="563.3" r="5"/><circle cx="537.8" cy="832.7" r="5"/><circle cx="741.4" cy="939.7" r="5"/><circle cx="748.2" cy="921" r="5"/><circle cx="482.8" cy="981.5" r="5"/><circle cx="529.3" cy="1107.1" r="5"/><circle cx="521.1" cy="1118.6" r="5"/><circle cx="789.5" cy="745.4" r="5"/><circle cx="765.6" cy="703.9" r="5"/><circle cx="769" cy="710.5" r="5"/><circle cx="1546.7" cy="788.7" r="5"/><circle cx="883" cy="835.7" r="5"/><circle cx="893.1" cy="836.9" r="5"/><circle cx="881" cy="828.2" r="5"/><circle cx="1284.4" cy="1158.5" r="5"/><circle cx="882.7" cy="961.4" r="5"/><circle cx="972" cy="925.3" r="5"/><circle cx="1407.6" cy="828.7" r="5"/><circle cx="1153.4" cy="856.5" r="5"/><circle cx="1540.9" cy="829.3" r="5"/><circle cx="951.3" cy="542.7" r="5"/><circle cx="1156.8" cy="824.8" r="5"/><circle cx="1101.5" cy="1139.4" r="5"/><circle cx="1093.9" cy="1037.8" r="5"/><circle cx="450.2" cy="864.8" r="5"/><circle cx="756.1" cy="915.9" r="5"/><circle cx="1263.7" cy="970.7" r="5"/><circle cx="497" cy="895.8" r="5"/><circle cx="499" cy="886.2" r="5"/><circle cx="487" cy="888.2" r="5"/><circle cx="616.3" cy="955.2" r="5"/><circle cx="612.8" cy="959.1" r="5"/><circle cx="958.3" cy="593.9" r="5"/><circle cx="671.9" cy="757" r="5"/><circle cx="1567.7" cy="581" r="5"/><circle cx="765.3" cy="911" r="5"/><circle cx="963.3" cy="671.4" r="5"/><circle cx="659.2" cy="967.1" r="5"/><circle cx="990.9" cy="546.3" r="5"/><circle cx="689.5" cy="909.9" r="5"/><circle cx="692.3" cy="905.9" r="5"/><circle cx="661.8" cy="730.8" r="5"/><circle cx="1565.4" cy="548.2" r="5"/><circle cx="1432.5" cy="945.9" r="5"/><circle cx="908.8" cy="870.9" r="5"/><circle cx="1093.6" cy="550.6" r="5"/><circle cx="497.3" cy="1023.4" r="5"/><circle cx="494.1" cy="1029.1" r="5"/><circle cx="487.5" cy="1024.5" r="5"/><circle cx="495" cy="1032.8" r="5"/><circle cx="720.1" cy="1127.9" r="5"/><circle cx="1133.1" cy="541.4" r="5"/><circle cx="719.3" cy="811.2" r="5"/><circle cx="1357.1" cy="674.8" r="5"/><circle cx="1340.6" cy="671.9" r="5"/><circle cx="962.2" cy="914.8" r="5"/><circle cx="557.7" cy="1016.1" r="5"/><circle cx="1293.4" cy="784.4" r="5"/><circle cx="1077.9" cy="952" r="5"/><circle cx="1042.4" cy="871" r="5"/><circle cx="1093.8" cy="790.8" r="5"/><circle cx="1098.3" cy="790.8" r="5"/><circle cx="472" cy="1021.6" r="5"/><circle cx="478.1" cy="1025.1" r="5"/><circle cx="466.3" cy="1031.5" r="5"/><circle cx="468" cy="1026" r="5"/><circle cx="688.8" cy="957.7" r="5"/><circle cx="695.3" cy="950.3" r="5"/><circle cx="689.2" cy="798.1" r="5"/><circle cx="920.7" cy="618.6" r="5"/><circle cx="843.5" cy="1068.2" r="5"/><circle cx="935.7" cy="700.6" r="5"/><circle cx="554.3" cy="998.7" r="5"/><circle cx="545.5" cy="998.3" r="5"/><circle cx="899.4" cy="711" r="5"/><circle cx="537.9" cy="982.1" r="5"/><circle cx="1251.6" cy="1094.8" r="5"/><circle cx="639.2" cy="749" r="5"/><circle cx="1184.2" cy="638.2" r="5"/><circle cx="1346" cy="875.3" r="5"/><circle cx="1133.7" cy="562.8" r="5"/><circle cx="487.1" cy="874" r="5"/><circle cx="716.5" cy="754.1" r="5"/><circle cx="1550.1" cy="547.4" r="5"/><circle cx="858.3" cy="980.4" r="5"/><circle cx="1175.6" cy="703.6" r="5"/><circle cx="1132.3" cy="935.4" r="5"/><circle cx="1128.7" cy="928.9" r="5"/><circle cx="1106.9" cy="769.9" r="5"/><circle cx="1268.1" cy="788.3" r="5"/><circle cx="689" cy="1052" r="5"/><circle cx="691.7" cy="1095.6" r="5"/><circle cx="1288.7" cy="574.1" r="5"/><circle cx="1283.7" cy="571.7" r="5"/><circle cx="1185.9" cy="1028.9" r="5"/><circle cx="885.4" cy="792.7" r="5"/><circle cx="821.9" cy="988.9" r="5"/><circle cx="824" cy="982" r="5"/><circle cx="652.1" cy="854.9" r="5"/><circle cx="784.9" cy="667.5" r="5"/><circle cx="573.9" cy="755" r="5"/><circle cx="1105.7" cy="842.1" r="5"/><circle cx="1369" cy="772.6" r="5"/><circle cx="537.3" cy="876.8" r="5"/><circle cx="685" cy="926.2" r="5"/><circle cx="1441.6" cy="941.3" r="5"/><circle cx="911.9" cy="787.6" r="5"/><circle cx="560.3" cy="958.7" r="5"/><circle cx="589" cy="860.1" r="5"/><circle cx="987.4" cy="1007.9" r="5"/><circle cx="1352.2" cy="1022.1" r="5"/><circle cx="596.2" cy="1013.1" r="5"/><circle cx="675.3" cy="1030.2" r="5"/><circle cx="551.9" cy="960.8" r="5"/><circle cx="1337.4" cy="704.8" r="5"/><circle cx="1333.2" cy="713.9" r="5"/><circle cx="455.2" cy="1018.9" r="5"/><circle cx="871.5" cy="588.9" r="5"/><circle cx="616.2" cy="1071.1" r="5"/><circle cx="803.8" cy="911.8" r="5"/><circle cx="453.2" cy="1031.9" r="5"/><circle cx="441.4" cy="1033.1" r="5"/><circle cx="1552.9" cy="712.4" r="5"/><circle cx="1299.2" cy="717" r="5"/><circle cx="988.8" cy="577.4" r="5"/><circle cx="683.8" cy="893.9" r="5"/><circle cx="693.8" cy="885.5" r="5"/><circle cx="693.8" cy="897.6" r="5"/><circle cx="1504.5" cy="590.1" r="5"/><circle cx="740.6" cy="950.3" r="5"/><circle cx="676.5" cy="669.2" r="5"/><circle cx="671.4" cy="663.5" r="5"/><circle cx="901.4" cy="808.5" r="5"/><circle cx="919.1" cy="812.6" r="5"/></g>
<g fill="#8E2A81"><circle cx="1110" cy="249" r="5"/><circle cx="1078" cy="271" r="5"/><circle cx="1078" cy="279" r="5"/><circle cx="1091" cy="292" r="5"/><circle cx="1062" cy="311" r="5"/><circle cx="1188" cy="266" r="5"/><circle cx="1158" cy="296" r="5"/><circle cx="1166" cy="300" r="5"/><circle cx="1184" cy="298" r="5"/><circle cx="1117" cy="332" r="5"/><circle cx="1031" cy="350" r="5"/><circle cx="1082" cy="350" r="5"/><circle cx="1088" cy="348" r="5"/><circle cx="1091" cy="355" r="5"/><circle cx="1068" cy="388" r="5"/><circle cx="1073" cy="393" r="5"/><circle cx="1159" cy="388" r="5"/><circle cx="1100" cy="411" r="5"/><circle cx="1006" cy="428" r="5"/><circle cx="1077" cy="462" r="5"/><circle cx="1104" cy="458" r="5"/><circle cx="1032" cy="488" r="5"/><circle cx="1046" cy="492" r="5"/><circle cx="1150" cy="509" r="5"/><circle cx="1108" cy="522" r="5"/><circle cx="1203" cy="315" r="5"/><circle cx="1305.4" cy="395.6" r="5"/><circle cx="1301" cy="429" r="5"/><circle cx="1341" cy="425" r="5"/><circle cx="1336" cy="479" r="5"/><circle cx="1569" cy="522" r="5"/><circle cx="1556" cy="535" r="5"/><circle cx="1644.2" cy="317.6" r="5"/><circle cx="1707.8" cy="368" r="5"/><circle cx="702" cy="1146" r="5"/><circle cx="600.2" cy="1016.6" r="5"/><circle cx="671" cy="961.7" r="5"/><circle cx="667.5" cy="973.7" r="5"/><circle cx="734.5" cy="1068.6" r="5"/><circle cx="863.4" cy="850.4" r="5"/><circle cx="748.2" cy="971.2" r="5"/><circle cx="1190.9" cy="933.9" r="5"/><circle cx="724.8" cy="747.1" r="5"/><circle cx="1018.1" cy="653.8" r="5"/><circle cx="598.8" cy="934.8" r="5"/><circle cx="590.6" cy="930.4" r="5"/><circle cx="593" cy="937.6" r="5"/><circle cx="583.7" cy="924.8" r="5"/><circle cx="586.5" cy="920.1" r="5"/><circle cx="862.4" cy="1019" r="5"/><circle cx="525.7" cy="1070.2" r="5"/><circle cx="534.6" cy="1067.1" r="5"/><circle cx="623.5" cy="941.1" r="5"/><circle cx="638.8" cy="944.5" r="5"/><circle cx="634.2" cy="1031.6" r="5"/><circle cx="457.9" cy="951.2" r="5"/><circle cx="600.7" cy="968.5" r="5"/><circle cx="603.9" cy="976.8" r="5"/><circle cx="614.2" cy="977.9" r="5"/><circle cx="614.6" cy="762.9" r="5"/><circle cx="707.2" cy="849.3" r="5"/><circle cx="1026.9" cy="946.9" r="5"/><circle cx="473" cy="852.9" r="5"/><circle cx="696.9" cy="773.9" r="5"/><circle cx="797.4" cy="765.1" r="5"/><circle cx="710.9" cy="869.5" r="5"/><circle cx="719.7" cy="863.2" r="5"/><circle cx="460.5" cy="867.9" r="5"/><circle cx="872" cy="1075" r="5"/><circle cx="909.5" cy="1063.7" r="5"/><circle cx="1157.8" cy="767.7" r="5"/><circle cx="790.7" cy="785.1" r="5"/><circle cx="959.8" cy="655.4" r="5"/><circle cx="564.7" cy="1013.3" r="5"/><circle cx="572.2" cy="1008.2" r="5"/><circle cx="566.1" cy="1001" r="5"/><circle cx="538.9" cy="897.2" r="5"/><circle cx="598.1" cy="840.8" r="5"/><circle cx="599.6" cy="850.9" r="5"/><circle cx="587.8" cy="846.1" r="5"/><circle cx="581.2" cy="858.7" r="5"/><circle cx="744" cy="992.7" r="5"/><circle cx="815.9" cy="752.1" r="5"/><circle cx="443.5" cy="927.5" r="5"/><circle cx="563.4" cy="985" r="5"/><circle cx="908.7" cy="842.7" r="5"/><circle cx="667.2" cy="694" r="5"/><circle cx="690.7" cy="1117.2" r="5"/><circle cx="930" cy="662.2" r="5"/><circle cx="773" cy="831.6" r="5"/><circle cx="761.1" cy="835.4" r="5"/><circle cx="813.4" cy="880.7" r="5"/><circle cx="558" cy="1027.9" r="5"/><circle cx="562" cy="1068.2" r="5"/><circle cx="484.9" cy="904.3" r="5"/><circle cx="1499.3" cy="1037.8" r="5"/><circle cx="633.7" cy="770.3" r="5"/><circle cx="1409.5" cy="682.9" r="5"/><circle cx="514.3" cy="998.6" r="5"/><circle cx="1355.4" cy="712.6" r="5"/><circle cx="733.2" cy="1000" r="5"/><circle cx="1024.3" cy="707.7" r="5"/><circle cx="782.7" cy="733" r="5"/><circle cx="796" cy="727.7" r="5"/><circle cx="522.4" cy="966.1" r="5"/><circle cx="720.1" cy="978" r="5"/><circle cx="731.4" cy="971.2" r="5"/><circle cx="570.1" cy="1032.2" r="5"/><circle cx="848.8" cy="970.4" r="5"/><circle cx="1429.8" cy="694.7" r="5"/><circle cx="699.3" cy="851.6" r="5"/><circle cx="692.5" cy="841" r="5"/><circle cx="930.5" cy="990.1" r="5"/><circle cx="669.5" cy="889.3" r="5"/><circle cx="676.2" cy="882.7" r="5"/><circle cx="716.6" cy="1078.2" r="5"/><circle cx="593.9" cy="1035.6" r="5"/><circle cx="655.3" cy="754.8" r="5"/><circle cx="543.7" cy="1063.5" r="5"/><circle cx="815.3" cy="1039.8" r="5"/><circle cx="812.2" cy="1032.1" r="5"/><circle cx="806.1" cy="1036.9" r="5"/><circle cx="999.3" cy="674.2" r="5"/><circle cx="506.6" cy="1020.6" r="5"/><circle cx="675.5" cy="871.7" r="5"/><circle cx="940.7" cy="964.8" r="5"/><circle cx="959.3" cy="970.9" r="5"/><circle cx="957" cy="979.8" r="5"/><circle cx="839.6" cy="1028.4" r="5"/><circle cx="1618.2" cy="847.9" r="5"/><circle cx="1171.9" cy="597.9" r="5"/><circle cx="569.6" cy="965.6" r="5"/><circle cx="575.8" cy="931.5" r="5"/><circle cx="575.7" cy="924.9" r="5"/><circle cx="711.5" cy="1048.3" r="5"/><circle cx="526.8" cy="938.9" r="5"/><circle cx="589.3" cy="908.6" r="5"/><circle cx="841.3" cy="570.1" r="5"/><circle cx="727.4" cy="1059.8" r="5"/><circle cx="1424.1" cy="925.5" r="5"/><circle cx="720.6" cy="879.3" r="5"/><circle cx="652" cy="825.7" r="5"/><circle cx="526.5" cy="1012.1" r="5"/><circle cx="535.7" cy="1007" r="5"/><circle cx="689.7" cy="1026.4" r="5"/><circle cx="486.6" cy="819.2" r="5"/><circle cx="787.1" cy="849.3" r="5"/><circle cx="545.3" cy="1092.8" r="5"/><circle cx="703.9" cy="768" r="5"/><circle cx="764.9" cy="1023.1" r="5"/><circle cx="826.7" cy="891.8" r="5"/><circle cx="784.7" cy="899.9" r="5"/><circle cx="878.4" cy="905.4" r="5"/><circle cx="892.8" cy="753.2" r="5"/><circle cx="492.9" cy="967.7" r="5"/><circle cx="499.1" cy="976" r="5"/><circle cx="503.3" cy="1050.3" r="5"/><circle cx="507.3" cy="939.7" r="5"/><circle cx="582.4" cy="885.5" r="5"/><circle cx="1153" cy="646" r="5"/><circle cx="1147.7" cy="651.4" r="5"/><circle cx="601.7" cy="722.3" r="5"/><circle cx="771.3" cy="729.6" r="5"/><circle cx="776.9" cy="737.4" r="5"/><circle cx="771.7" cy="733.4" r="5"/><circle cx="649.7" cy="1049.9" r="5"/><circle cx="644.7" cy="1053.3" r="5"/><circle cx="659.4" cy="998.7" r="5"/><circle cx="814.4" cy="854.9" r="5"/><circle cx="1509.2" cy="693.9" r="5"/><circle cx="471.2" cy="829.7" r="5"/><circle cx="748.4" cy="719.1" r="5"/><circle cx="697.4" cy="750.5" r="5"/><circle cx="683.1" cy="741" r="5"/><circle cx="894.8" cy="933.9" r="5"/><circle cx="578.4" cy="879.4" r="5"/><circle cx="563.8" cy="860.2" r="5"/><circle cx="579.7" cy="873.9" r="5"/><circle cx="445.3" cy="857.8" r="5"/><circle cx="826" cy="876.9" r="5"/><circle cx="501.1" cy="811.5" r="5"/><circle cx="501.2" cy="816.5" r="5"/><circle cx="1141.7" cy="1059" r="5"/><circle cx="528.5" cy="1029.1" r="5"/><circle cx="636.4" cy="1048.4" r="5"/><circle cx="689.4" cy="1120.7" r="5"/><circle cx="524.6" cy="807.2" r="5"/><circle cx="683.9" cy="867.3" r="5"/><circle cx="697.6" cy="871.4" r="5"/><circle cx="688.5" cy="865.6" r="5"/><circle cx="688.9" cy="995.1" r="5"/><circle cx="909.2" cy="971" r="5"/><circle cx="907.1" cy="829.1" r="5"/><circle cx="617.8" cy="1096.8" r="5"/><circle cx="600.3" cy="1086.8" r="5"/><circle cx="972.1" cy="876.3" r="5"/><circle cx="667.9" cy="1092.8" r="5"/><circle cx="672.3" cy="936" r="5"/><circle cx="676.9" cy="933.5" r="5"/><circle cx="721" cy="1033" r="5"/><circle cx="739.4" cy="1020.6" r="5"/><circle cx="721.8" cy="1023.5" r="5"/><circle cx="603.6" cy="989.2" r="5"/><circle cx="796.8" cy="987.9" r="5"/><circle cx="628.8" cy="867.4" r="5"/><circle cx="418.9" cy="966.3" r="5"/><circle cx="845.3" cy="610.8" r="5"/><circle cx="497.7" cy="951.5" r="5"/><circle cx="514.9" cy="821.2" r="5"/><circle cx="510.5" cy="828.3" r="5"/><circle cx="1095.7" cy="720.1" r="5"/><circle cx="879.5" cy="784.7" r="5"/><circle cx="848.4" cy="812.3" r="5"/><circle cx="1010.5" cy="611.5" r="5"/><circle cx="478.3" cy="909" r="5"/><circle cx="878.3" cy="818.5" r="5"/><circle cx="871.4" cy="815.9" r="5"/><circle cx="546.7" cy="871.1" r="5"/><circle cx="772" cy="803.9" r="5"/><circle cx="939.8" cy="947.5" r="5"/><circle cx="921.1" cy="790.3" r="5"/><circle cx="891" cy="857.8" r="5"/><circle cx="463.8" cy="894.2" r="5"/><circle cx="477.7" cy="881.4" r="5"/><circle cx="697.9" cy="1007.6" r="5"/><circle cx="687.7" cy="1014.6" r="5"/><circle cx="1054.8" cy="546.5" r="5"/><circle cx="747.5" cy="811.2" r="5"/><circle cx="547.8" cy="777.3" r="5"/><circle cx="563.4" cy="1092.6" r="5"/><circle cx="575.9" cy="1081.1" r="5"/><circle cx="631.9" cy="826" r="5"/><circle cx="924.3" cy="630.5" r="5"/><circle cx="728.3" cy="857.1" r="5"/><circle cx="722.2" cy="842.9" r="5"/><circle cx="491.9" cy="924.4" r="5"/><circle cx="1448.7" cy="800.1" r="5"/><circle cx="761.8" cy="871.3" r="5"/><circle cx="773.9" cy="873.9" r="5"/><circle cx="796.3" cy="957.5" r="5"/><circle cx="1582.4" cy="1032.7" r="5"/><circle cx="834.7" cy="1066.2" r="5"/><circle cx="936.1" cy="800.6" r="5"/><circle cx="741.8" cy="848.7" r="5"/><circle cx="740.1" cy="845.6" r="5"/><circle cx="643" cy="879.1" r="5"/><circle cx="640.6" cy="861.4" r="5"/><circle cx="732.8" cy="885.7" r="5"/><circle cx="739" cy="885" r="5"/><circle cx="643" cy="939.9" r="5"/><circle cx="509.5" cy="966" r="5"/><circle cx="806.1" cy="737.6" r="5"/><circle cx="784.4" cy="1076.3" r="5"/><circle cx="724.8" cy="627.1" r="5"/><circle cx="710.7" cy="1130.1" r="5"/><circle cx="515.9" cy="885.7" r="5"/><circle cx="513.1" cy="890.2" r="5"/><circle cx="500.8" cy="896.2" r="5"/><circle cx="502.1" cy="1013.8" r="5"/><circle cx="500.1" cy="1005.1" r="5"/><circle cx="818" cy="935.6" r="5"/><circle cx="806" cy="926.7" r="5"/><circle cx="493.4" cy="1053.6" r="5"/><circle cx="466.2" cy="940.2" r="5"/><circle cx="877.7" cy="763.3" r="5"/><circle cx="857.7" cy="906.1" r="5"/><circle cx="1007.5" cy="843.9" r="5"/><circle cx="893.9" cy="816.9" r="5"/><circle cx="897.2" cy="807" r="5"/><circle cx="429" cy="984.6" r="5"/><circle cx="686" cy="702.7" r="5"/><circle cx="753.4" cy="727.3" r="5"/><circle cx="745.9" cy="733.6" r="5"/><circle cx="776.6" cy="972" r="5"/><circle cx="1310.8" cy="1088.3" r="5"/><circle cx="672.8" cy="809.2" r="5"/><circle cx="667.7" cy="807.6" r="5"/><circle cx="674.4" cy="800.8" r="5"/><circle cx="904.7" cy="652.9" r="5"/><circle cx="545.5" cy="949.8" r="5"/><circle cx="557.3" cy="944.8" r="5"/><circle cx="943.1" cy="954.1" r="5"/><circle cx="768.2" cy="938.4" r="5"/><circle cx="762.4" cy="922" r="5"/><circle cx="881.7" cy="685.4" r="5"/><circle cx="1447.7" cy="1043.5" r="5"/><circle cx="500.7" cy="865.1" r="5"/><circle cx="508.9" cy="865.9" r="5"/><circle cx="505" cy="860.5" r="5"/><circle cx="653.6" cy="1028.9" r="5"/><circle cx="656.2" cy="1023" r="5"/><circle cx="620.8" cy="905.5" r="5"/><circle cx="710.5" cy="653.2" r="5"/><circle cx="534.4" cy="912.3" r="5"/><circle cx="524.3" cy="913.5" r="5"/><circle cx="872.3" cy="744.9" r="5"/><circle cx="737.2" cy="919.7" r="5"/><circle cx="724.7" cy="915" r="5"/><circle cx="847.9" cy="827.9" r="5"/><circle cx="715.9" cy="989.2" r="5"/><circle cx="567.6" cy="838.6" r="5"/><circle cx="578.8" cy="836" r="5"/><circle cx="727" cy="736.2" r="5"/><circle cx="574.8" cy="843.6" r="5"/><circle cx="1534.5" cy="586.1" r="5"/><circle cx="934.5" cy="1057.4" r="5"/><circle cx="605.2" cy="924.2" r="5"/><circle cx="655.5" cy="949.5" r="5"/><circle cx="715.1" cy="889.2" r="5"/><circle cx="714.4" cy="881" r="5"/><circle cx="963.9" cy="806.5" r="5"/><circle cx="641.6" cy="1017.1" r="5"/><circle cx="837.4" cy="712.3" r="5"/><circle cx="1006.8" cy="1016.1" r="5"/><circle cx="700.7" cy="666.9" r="5"/><circle cx="582.4" cy="955.9" r="5"/><circle cx="503.7" cy="1063.8" r="5"/><circle cx="695.8" cy="974" r="5"/><circle cx="799.5" cy="874.8" r="5"/><circle cx="798.7" cy="879.8" r="5"/><circle cx="536.9" cy="823.5" r="5"/><circle cx="534.1" cy="839.1" r="5"/><circle cx="477" cy="994.6" r="5"/><circle cx="460.6" cy="988.2" r="5"/><circle cx="488" cy="991.3" r="5"/><circle cx="534.5" cy="1103.4" r="5"/><circle cx="536.7" cy="1092.1" r="5"/><circle cx="537.4" cy="1086.4" r="5"/><circle cx="880.3" cy="832.1" r="5"/><circle cx="534.7" cy="796" r="5"/><circle cx="885.5" cy="974.8" r="5"/><circle cx="1427.3" cy="814.5" r="5"/><circle cx="947.8" cy="857.1" r="5"/><circle cx="1537.8" cy="1029.7" r="5"/><circle cx="494.1" cy="893.4" r="5"/><circle cx="597.3" cy="973.4" r="5"/><circle cx="589.5" cy="964" r="5"/><circle cx="586.3" cy="974.5" r="5"/><circle cx="833" cy="1048.8" r="5"/><circle cx="833.2" cy="1040.5" r="5"/><circle cx="1009.7" cy="740.8" r="5"/><circle cx="652.8" cy="962.7" r="5"/><circle cx="681.6" cy="909.4" r="5"/><circle cx="697.7" cy="912.7" r="5"/><circle cx="671.3" cy="737.8" r="5"/><circle cx="619.3" cy="851.7" r="5"/><circle cx="995.7" cy="647.5" r="5"/><circle cx="912.6" cy="875" r="5"/><circle cx="769.3" cy="952.9" r="5"/><circle cx="710.2" cy="812.2" r="5"/><circle cx="547" cy="1005.3" r="5"/><circle cx="694.1" cy="790" r="5"/><circle cx="694.7" cy="781.8" r="5"/><circle cx="486.2" cy="844.2" r="5"/><circle cx="803.6" cy="970.4" r="5"/><circle cx="740.1" cy="770.8" r="5"/><circle cx="694" cy="660.4" r="5"/><circle cx="553.6" cy="992.2" r="5"/><circle cx="481.1" cy="874.1" r="5"/><circle cx="717.5" cy="744.7" r="5"/><circle cx="701.8" cy="744.8" r="5"/><circle cx="711.9" cy="755.6" r="5"/><circle cx="856.7" cy="994.3" r="5"/><circle cx="973.9" cy="1004.2" r="5"/><circle cx="873.6" cy="1042.1" r="5"/><circle cx="605.9" cy="878.5" r="5"/><circle cx="755.3" cy="1039.4" r="5"/><circle cx="493.5" cy="1016.8" r="5"/><circle cx="470.3" cy="1041.3" r="5"/><circle cx="1031.9" cy="621.8" r="5"/><circle cx="908.9" cy="795.8" r="5"/><circle cx="590.8" cy="800.7" r="5"/><circle cx="597.8" cy="817.4" r="5"/><circle cx="580.9" cy="813" r="5"/><circle cx="586.9" cy="1020" r="5"/><circle cx="546.4" cy="975.2" r="5"/><circle cx="572.9" cy="1050.9" r="5"/><circle cx="594.2" cy="987.8" r="5"/><circle cx="484.6" cy="1074.7" r="5"/><circle cx="1519.3" cy="652.9" r="5"/><circle cx="901.2" cy="814.1" r="5"/><circle cx="900.8" cy="805" r="5"/><circle cx="912.2" cy="812.1" r="5"/></g>
<g fill="#BC3978"><circle cx="1140" cy="249" r="5"/><circle cx="1160" cy="466" r="5"/><circle cx="1100" cy="538" r="5"/><circle cx="1721.4" cy="318.6" r="5"/><circle cx="736" cy="1151" r="5"/><circle cx="715" cy="1164" r="5"/><circle cx="730" cy="1161" r="5"/><circle cx="707" cy="1177.4" r="5"/><circle cx="878.6" cy="884.4" r="5"/><circle cx="731.3" cy="1074.6" r="5"/><circle cx="721.7" cy="1073.4" r="5"/><circle cx="747.9" cy="967.3" r="5"/><circle cx="760" cy="971.9" r="5"/><circle cx="983.6" cy="689.9" r="5"/><circle cx="581.2" cy="933.6" r="5"/><circle cx="584.2" cy="1075.2" r="5"/><circle cx="776.3" cy="853.9" r="5"/><circle cx="777" cy="857.6" r="5"/><circle cx="771" cy="849.1" r="5"/><circle cx="905.3" cy="1057.6" r="5"/><circle cx="812.9" cy="619.4" r="5"/><circle cx="620.9" cy="1022" r="5"/><circle cx="639.1" cy="812.6" r="5"/><circle cx="725.9" cy="994" r="5"/><circle cx="1300.3" cy="574.1" r="5"/><circle cx="608.8" cy="971.2" r="5"/><circle cx="466" cy="855.4" r="5"/><circle cx="753.1" cy="887" r="5"/><circle cx="749.1" cy="880.7" r="5"/><circle cx="662.8" cy="1056.1" r="5"/><circle cx="520.1" cy="883.7" r="5"/><circle cx="791.7" cy="932.1" r="5"/><circle cx="796.7" cy="927.3" r="5"/><circle cx="463" cy="1004.6" r="5"/><circle cx="463.4" cy="1019.2" r="5"/><circle cx="470.3" cy="1000.3" r="5"/><circle cx="458.7" cy="935.7" r="5"/><circle cx="778.7" cy="885.1" r="5"/><circle cx="776.2" cy="894.6" r="5"/><circle cx="795.4" cy="1001.8" r="5"/><circle cx="698.1" cy="1117.2" r="5"/><circle cx="694.4" cy="1111.1" r="5"/><circle cx="690.1" cy="1108.5" r="5"/><circle cx="764.6" cy="837.7" r="5"/><circle cx="767.3" cy="823.3" r="5"/><circle cx="667.2" cy="766.1" r="5"/><circle cx="551.7" cy="1033.4" r="5"/><circle cx="847.9" cy="676.6" r="5"/><circle cx="944.8" cy="758.6" r="5"/><circle cx="655.9" cy="688.9" r="5"/><circle cx="630.6" cy="778.4" r="5"/><circle cx="501.4" cy="980.8" r="5"/><circle cx="737.5" cy="1003.8" r="5"/><circle cx="730.1" cy="979.4" r="5"/><circle cx="725.6" cy="970.6" r="5"/><circle cx="563.6" cy="1022" r="5"/><circle cx="841.9" cy="975.8" r="5"/><circle cx="652.4" cy="740.9" r="5"/><circle cx="604.3" cy="1109.1" r="5"/><circle cx="819.1" cy="1032.8" r="5"/><circle cx="719" cy="948.4" r="5"/><circle cx="431.3" cy="970.1" r="5"/><circle cx="677.1" cy="864.8" r="5"/><circle cx="945.1" cy="960.2" r="5"/><circle cx="564" cy="921.8" r="5"/><circle cx="844.2" cy="952.5" r="5"/><circle cx="857" cy="956" r="5"/><circle cx="781.3" cy="685.3" r="5"/><circle cx="536.3" cy="934.3" r="5"/><circle cx="846.6" cy="886.1" r="5"/><circle cx="733" cy="1044.5" r="5"/><circle cx="629.7" cy="970.4" r="5"/><circle cx="967" cy="558.9" r="5"/><circle cx="975.9" cy="545.8" r="5"/><circle cx="707.6" cy="821.2" r="5"/><circle cx="642.3" cy="821.1" r="5"/><circle cx="521.1" cy="1018.4" r="5"/><circle cx="682.7" cy="1025.4" r="5"/><circle cx="486.6" cy="808" r="5"/><circle cx="482.3" cy="806.3" r="5"/><circle cx="496.8" cy="803.3" r="5"/><circle cx="796.1" cy="855.3" r="5"/><circle cx="791" cy="848.9" r="5"/><circle cx="570.3" cy="1119.2" r="5"/><circle cx="562.1" cy="1119.2" r="5"/><circle cx="555.4" cy="1090.8" r="5"/><circle cx="701.2" cy="760.5" r="5"/><circle cx="838.6" cy="882.9" r="5"/><circle cx="872.4" cy="918.8" r="5"/><circle cx="944" cy="791.6" r="5"/><circle cx="494.9" cy="978.9" r="5"/><circle cx="508.8" cy="1043.1" r="5"/><circle cx="585.1" cy="880.6" r="5"/><circle cx="831.4" cy="1009.3" r="5"/><circle cx="614.2" cy="723.8" r="5"/><circle cx="776.2" cy="733.1" r="5"/><circle cx="640.7" cy="1044.1" r="5"/><circle cx="640.3" cy="985.4" r="5"/><circle cx="658.4" cy="989.5" r="5"/><circle cx="652.7" cy="988.3" r="5"/><circle cx="757.3" cy="705.4" r="5"/><circle cx="692.4" cy="746.7" r="5"/><circle cx="769.8" cy="757.8" r="5"/><circle cx="871.6" cy="969.5" r="5"/><circle cx="569.3" cy="862.1" r="5"/><circle cx="563.8" cy="870.3" r="5"/><circle cx="689.4" cy="737.1" r="5"/><circle cx="520.6" cy="1039" r="5"/><circle cx="822.9" cy="969.1" r="5"/><circle cx="624.1" cy="1041.6" r="5"/><circle cx="737.3" cy="777.8" r="5"/><circle cx="613.9" cy="749.2" r="5"/><circle cx="645.7" cy="807.6" r="5"/><circle cx="672.5" cy="701.4" r="5"/><circle cx="698.4" cy="987.5" r="5"/><circle cx="611.5" cy="1096.1" r="5"/><circle cx="605.8" cy="1090.7" r="5"/><circle cx="665.8" cy="943.2" r="5"/><circle cx="817.4" cy="1072.1" r="5"/><circle cx="610.3" cy="981.1" r="5"/><circle cx="677.8" cy="825.2" r="5"/><circle cx="664.5" cy="836.6" r="5"/><circle cx="505.4" cy="820.4" r="5"/><circle cx="502.3" cy="827.9" r="5"/><circle cx="546.7" cy="857.4" r="5"/><circle cx="712.2" cy="963.6" r="5"/><circle cx="711.8" cy="968.8" r="5"/><circle cx="547.7" cy="927" r="5"/><circle cx="556.8" cy="921.7" r="5"/><circle cx="879.5" cy="804.8" r="5"/><circle cx="872.4" cy="807.2" r="5"/><circle cx="767" cy="802.8" r="5"/><circle cx="699.7" cy="1015.6" r="5"/><circle cx="691.9" cy="1007.2" r="5"/><circle cx="766.5" cy="790.7" r="5"/><circle cx="558.3" cy="768.4" r="5"/><circle cx="850.9" cy="641.5" r="5"/><circle cx="804.8" cy="801.3" r="5"/><circle cx="623.7" cy="834.5" r="5"/><circle cx="630.7" cy="836.6" r="5"/><circle cx="797.9" cy="978.6" r="5"/><circle cx="706.4" cy="1007.7" r="5"/><circle cx="713.7" cy="1006.3" r="5"/><circle cx="822.2" cy="804.4" r="5"/><circle cx="771.2" cy="1007.9" r="5"/><circle cx="787.1" cy="944.5" r="5"/><circle cx="799.3" cy="950.4" r="5"/><circle cx="922.1" cy="810.4" r="5"/><circle cx="753.4" cy="1074.1" r="5"/><circle cx="520.3" cy="856.5" r="5"/><circle cx="529.2" cy="844.2" r="5"/><circle cx="732.7" cy="895.7" r="5"/><circle cx="518.6" cy="976.1" r="5"/><circle cx="852.5" cy="848.5" r="5"/><circle cx="517.4" cy="849.2" r="5"/><circle cx="705.8" cy="1122.4" r="5"/><circle cx="734.4" cy="928.7" r="5"/><circle cx="728.6" cy="923.3" r="5"/><circle cx="732.9" cy="942.6" r="5"/><circle cx="507" cy="888.4" r="5"/><circle cx="815.6" cy="923.5" r="5"/><circle cx="498" cy="1056.2" r="5"/><circle cx="545.4" cy="881.1" r="5"/><circle cx="895.4" cy="1036.4" r="5"/><circle cx="547.2" cy="916.9" r="5"/><circle cx="462.8" cy="944.8" r="5"/><circle cx="868" cy="770.9" r="5"/><circle cx="843.2" cy="901.6" r="5"/><circle cx="883" cy="1006.4" r="5"/><circle cx="821.7" cy="916.8" r="5"/><circle cx="821.8" cy="909.7" r="5"/><circle cx="892.2" cy="811.4" r="5"/><circle cx="465.7" cy="819.2" r="5"/><circle cx="631" cy="885.1" r="5"/><circle cx="740.6" cy="724.8" r="5"/><circle cx="658.2" cy="890" r="5"/><circle cx="651.2" cy="898.3" r="5"/><circle cx="645.8" cy="890" r="5"/><circle cx="755.8" cy="878.8" r="5"/><circle cx="894.2" cy="779.6" r="5"/><circle cx="762.3" cy="931.5" r="5"/><circle cx="671.3" cy="993" r="5"/><circle cx="860.2" cy="950.9" r="5"/><circle cx="916.6" cy="1022.1" r="5"/><circle cx="653.5" cy="1036.7" r="5"/><circle cx="634" cy="908" r="5"/><circle cx="900.3" cy="882.3" r="5"/><circle cx="600.5" cy="924.5" r="5"/><circle cx="709" cy="890.2" r="5"/><circle cx="850.1" cy="1012.1" r="5"/><circle cx="841.6" cy="1004.1" r="5"/><circle cx="766.9" cy="982.5" r="5"/><circle cx="522.4" cy="947.3" r="5"/><circle cx="589.4" cy="766.3" r="5"/><circle cx="516.7" cy="1061.4" r="5"/><circle cx="686" cy="976.8" r="5"/><circle cx="797.9" cy="867.5" r="5"/><circle cx="630.8" cy="712.9" r="5"/><circle cx="811.2" cy="867.4" r="5"/><circle cx="817.1" cy="871.9" r="5"/><circle cx="780.4" cy="756.8" r="5"/><circle cx="771.3" cy="713.2" r="5"/><circle cx="890.2" cy="830.5" r="5"/><circle cx="732.7" cy="822.4" r="5"/><circle cx="922.7" cy="896.2" r="5"/><circle cx="607.4" cy="833.9" r="5"/><circle cx="498.1" cy="820.6" r="5"/><circle cx="742.8" cy="831.2" r="5"/><circle cx="865.3" cy="863.4" r="5"/><circle cx="872.2" cy="877" r="5"/><circle cx="489.8" cy="882" r="5"/><circle cx="597.3" cy="978.9" r="5"/><circle cx="675.6" cy="750.6" r="5"/><circle cx="685.1" cy="901.1" r="5"/><circle cx="617" cy="840.3" r="5"/><circle cx="885" cy="873.2" r="5"/><circle cx="880.8" cy="863.3" r="5"/><circle cx="774.7" cy="944.9" r="5"/><circle cx="761.7" cy="953.1" r="5"/><circle cx="497.5" cy="1039.5" r="5"/><circle cx="482.4" cy="1031" r="5"/><circle cx="714.7" cy="818.8" r="5"/><circle cx="640.3" cy="907.3" r="5"/><circle cx="460.3" cy="1030.7" r="5"/><circle cx="683" cy="797.4" r="5"/><circle cx="763.1" cy="1080" r="5"/><circle cx="485.1" cy="850.3" r="5"/><circle cx="542" cy="988" r="5"/><circle cx="715.5" cy="740.5" r="5"/><circle cx="602.3" cy="1058.3" r="5"/><circle cx="488.9" cy="1003.3" r="5"/><circle cx="820.9" cy="998.5" r="5"/><circle cx="789" cy="660.4" r="5"/><circle cx="565.4" cy="750.3" r="5"/><circle cx="510.7" cy="913.2" r="5"/><circle cx="506.4" cy="911.8" r="5"/><circle cx="523.1" cy="864.6" r="5"/><circle cx="588.5" cy="791.5" r="5"/><circle cx="901" cy="791.4" r="5"/><circle cx="578.9" cy="949.7" r="5"/><circle cx="590.4" cy="817.2" r="5"/><circle cx="628.1" cy="787.8" r="5"/><circle cx="585.9" cy="1011.4" r="5"/><circle cx="567.4" cy="1040.7" r="5"/><circle cx="753.3" cy="951.8" r="5"/><circle cx="911.6" cy="803" r="5"/></g>
<g fill="#DC4869"><circle cx="612.9" cy="1016.9" r="5"/><circle cx="753.6" cy="961.8" r="5"/><circle cx="755" cy="969.9" r="5"/><circle cx="511.9" cy="1092.4" r="5"/><circle cx="468.3" cy="796.2" r="5"/><circle cx="873.1" cy="1018.6" r="5"/><circle cx="624.9" cy="951.7" r="5"/><circle cx="607.1" cy="798.6" r="5"/><circle cx="629.3" cy="1023.7" r="5"/><circle cx="728.7" cy="997.9" r="5"/><circle cx="469.4" cy="844.1" r="5"/><circle cx="704.3" cy="860.1" r="5"/><circle cx="720" cy="874.7" r="5"/><circle cx="705.9" cy="865.3" r="5"/><circle cx="470.5" cy="870.5" r="5"/><circle cx="662" cy="1017.1" r="5"/><circle cx="679" cy="1020" r="5"/><circle cx="755.5" cy="892.6" r="5"/><circle cx="814.4" cy="673.9" r="5"/><circle cx="516.9" cy="771.2" r="5"/><circle cx="801.7" cy="994.8" r="5"/><circle cx="443.7" cy="931.9" r="5"/><circle cx="764.8" cy="883.1" r="5"/><circle cx="589.9" cy="1053.1" r="5"/><circle cx="654.9" cy="761" r="5"/><circle cx="674.9" cy="768.7" r="5"/><circle cx="666.2" cy="771.8" r="5"/><circle cx="852.5" cy="939.4" r="5"/><circle cx="1346.8" cy="1067.6" r="5"/><circle cx="636.3" cy="779.1" r="5"/><circle cx="639.8" cy="760.1" r="5"/><circle cx="605.4" cy="1038.3" r="5"/><circle cx="479.4" cy="973.6" r="5"/><circle cx="734.3" cy="965.8" r="5"/><circle cx="674.8" cy="898.7" r="5"/><circle cx="542.6" cy="1051.6" r="5"/><circle cx="706.5" cy="954.6" r="5"/><circle cx="660.9" cy="877.4" r="5"/><circle cx="929.5" cy="1036.5" r="5"/><circle cx="572.9" cy="972.9" r="5"/><circle cx="574.7" cy="965.9" r="5"/><circle cx="570.1" cy="928.3" r="5"/><circle cx="728" cy="1050.1" r="5"/><circle cx="640.2" cy="827.1" r="5"/><circle cx="658.6" cy="835.4" r="5"/><circle cx="493.7" cy="817.8" r="5"/><circle cx="857.2" cy="730.5" r="5"/><circle cx="785.6" cy="892.1" r="5"/><circle cx="597.6" cy="888.3" r="5"/><circle cx="831.9" cy="1017" r="5"/><circle cx="771.2" cy="722.8" r="5"/><circle cx="646.8" cy="990.8" r="5"/><circle cx="804.2" cy="856.3" r="5"/><circle cx="689" cy="757.4" r="5"/><circle cx="660.5" cy="795.3" r="5"/><circle cx="661.7" cy="783.1" r="5"/><circle cx="825.3" cy="868.2" r="5"/><circle cx="1246.8" cy="987" r="5"/><circle cx="531.3" cy="1039.1" r="5"/><circle cx="698.7" cy="813.9" r="5"/><circle cx="728.1" cy="768.3" r="5"/><circle cx="654.4" cy="818.6" r="5"/><circle cx="684.2" cy="981.5" r="5"/><circle cx="676.8" cy="953.5" r="5"/><circle cx="617.6" cy="986.4" r="5"/><circle cx="504.3" cy="958.7" r="5"/><circle cx="623.4" cy="860.5" r="5"/><circle cx="636.3" cy="879.3" r="5"/><circle cx="721.3" cy="703.1" r="5"/><circle cx="512.6" cy="839.5" r="5"/><circle cx="515.1" cy="835" r="5"/><circle cx="1015.7" cy="1067.7" r="5"/><circle cx="705.5" cy="972.8" r="5"/><circle cx="461.5" cy="916.8" r="5"/><circle cx="860.6" cy="813.2" r="5"/><circle cx="552.1" cy="868.3" r="5"/><circle cx="762.7" cy="810.8" r="5"/><circle cx="770.4" cy="811.2" r="5"/><circle cx="881.3" cy="854.7" r="5"/><circle cx="714.2" cy="936.4" r="5"/><circle cx="751.2" cy="804.5" r="5"/><circle cx="796.6" cy="701.4" r="5"/><circle cx="571.1" cy="778.1" r="5"/><circle cx="711.5" cy="1002.3" r="5"/><circle cx="715.2" cy="1012" r="5"/><circle cx="778.4" cy="879.3" r="5"/><circle cx="764.4" cy="865.7" r="5"/><circle cx="779.6" cy="870.5" r="5"/><circle cx="759.6" cy="843.6" r="5"/><circle cx="740.4" cy="859.3" r="5"/><circle cx="746.4" cy="856.5" r="5"/><circle cx="741.8" cy="840.3" r="5"/><circle cx="529.8" cy="856.7" r="5"/><circle cx="659.3" cy="872.1" r="5"/><circle cx="720.1" cy="894.3" r="5"/><circle cx="513.3" cy="855.3" r="5"/><circle cx="500.7" cy="847.2" r="5"/><circle cx="731" cy="639.5" r="5"/><circle cx="492.8" cy="1047.7" r="5"/><circle cx="897.9" cy="1020.2" r="5"/><circle cx="543.9" cy="908" r="5"/><circle cx="846" cy="1035.4" r="5"/><circle cx="474.6" cy="959.1" r="5"/><circle cx="569.5" cy="891.1" r="5"/><circle cx="715.9" cy="786.3" r="5"/><circle cx="705.6" cy="789.6" r="5"/><circle cx="462.1" cy="812.9" r="5"/><circle cx="774.3" cy="938.9" r="5"/><circle cx="902.4" cy="1038.6" r="5"/><circle cx="628.4" cy="903.4" r="5"/><circle cx="562.9" cy="839.4" r="5"/><circle cx="578.9" cy="826.6" r="5"/><circle cx="617.1" cy="880.7" r="5"/><circle cx="597.1" cy="772.8" r="5"/><circle cx="596" cy="947.9" r="5"/><circle cx="593.6" cy="945.1" r="5"/><circle cx="703.7" cy="906.9" r="5"/><circle cx="512.3" cy="1076.9" r="5"/><circle cx="793.7" cy="867.2" r="5"/><circle cx="492.9" cy="985.4" r="5"/><circle cx="895.8" cy="821.2" r="5"/><circle cx="522.9" cy="781.4" r="5"/><circle cx="721.7" cy="822.2" r="5"/><circle cx="931.6" cy="891.7" r="5"/><circle cx="488.2" cy="839.9" r="5"/><circle cx="607.9" cy="955" r="5"/><circle cx="669.1" cy="723.7" r="5"/><circle cx="612.7" cy="841.9" r="5"/><circle cx="885.4" cy="867.5" r="5"/><circle cx="644.9" cy="917" r="5"/><circle cx="495.2" cy="840.8" r="5"/><circle cx="495.2" cy="854.4" r="5"/><circle cx="496" cy="878" r="5"/><circle cx="879.4" cy="1053.1" r="5"/><circle cx="837.9" cy="989.6" r="5"/><circle cx="691.6" cy="925.4" r="5"/><circle cx="696.5" cy="925.4" r="5"/><circle cx="745.2" cy="1008.4" r="5"/><circle cx="584.2" cy="818.3" r="5"/><circle cx="622.5" cy="794.3" r="5"/><circle cx="594.3" cy="1005.8" r="5"/><circle cx="580" cy="1042.1" r="5"/></g>
<g fill="#F05F5E"><circle cx="702.4" cy="1161.6" r="5"/><circle cx="712.6" cy="1161.6" r="5"/><circle cx="602" cy="1008.4" r="5"/><circle cx="675.5" cy="968.4" r="5"/><circle cx="522.3" cy="1045.2" r="5"/><circle cx="778.3" cy="849.1" r="5"/><circle cx="621.9" cy="946.6" r="5"/><circle cx="629.4" cy="959.1" r="5"/><circle cx="637.7" cy="1022.5" r="5"/><circle cx="720.1" cy="998" r="5"/><circle cx="645.1" cy="720.5" r="5"/><circle cx="598" cy="751.8" r="5"/><circle cx="879.9" cy="1066.8" r="5"/><circle cx="744.9" cy="890.1" r="5"/><circle cx="567.3" cy="1005.9" r="5"/><circle cx="597.2" cy="858.4" r="5"/><circle cx="785.3" cy="925.3" r="5"/><circle cx="759.2" cy="981.3" r="5"/><circle cx="570.6" cy="992.8" r="5"/><circle cx="658.7" cy="769.1" r="5"/><circle cx="642.5" cy="713.5" r="5"/><circle cx="760.9" cy="822.4" r="5"/><circle cx="787" cy="721.8" r="5"/><circle cx="460.7" cy="968.8" r="5"/><circle cx="471.3" cy="968.2" r="5"/><circle cx="694.6" cy="845.7" r="5"/><circle cx="688.9" cy="844.1" r="5"/><circle cx="625.6" cy="850.3" r="5"/><circle cx="549.3" cy="1044.5" r="5"/><circle cx="700.6" cy="948.8" r="5"/><circle cx="705.3" cy="959" r="5"/><circle cx="500.5" cy="1026" r="5"/><circle cx="501.7" cy="1032" r="5"/><circle cx="468.2" cy="929.4" r="5"/><circle cx="560.1" cy="931.2" r="5"/><circle cx="592" cy="915.1" r="5"/><circle cx="849" cy="773.1" r="5"/><circle cx="729.1" cy="1054.8" r="5"/><circle cx="737.6" cy="1041.5" r="5"/><circle cx="629.3" cy="965.2" r="5"/><circle cx="722.7" cy="869.6" r="5"/><circle cx="717.1" cy="828.9" r="5"/><circle cx="582.1" cy="896.5" r="5"/><circle cx="572.1" cy="900.5" r="5"/><circle cx="567.5" cy="870.9" r="5"/><circle cx="807.5" cy="1003.9" r="5"/><circle cx="820.6" cy="975.5" r="5"/><circle cx="695" cy="804.9" r="5"/><circle cx="780.9" cy="908.4" r="5"/><circle cx="699.5" cy="1125.5" r="5"/><circle cx="714.7" cy="1033.1" r="5"/><circle cx="619" cy="745.5" r="5"/><circle cx="527.2" cy="819.3" r="5"/><circle cx="694.2" cy="980.5" r="5"/><circle cx="747.4" cy="629.8" r="5"/><circle cx="669" cy="925.1" r="5"/><circle cx="676.8" cy="923.4" r="5"/><circle cx="611.7" cy="987" r="5"/><circle cx="514.8" cy="951" r="5"/><circle cx="728.3" cy="713.4" r="5"/><circle cx="555.8" cy="843.2" r="5"/><circle cx="702.2" cy="970.4" r="5"/><circle cx="703.5" cy="977.6" r="5"/><circle cx="540.2" cy="864.8" r="5"/><circle cx="683.1" cy="1006.4" r="5"/><circle cx="799.9" cy="716.4" r="5"/><circle cx="553.7" cy="779" r="5"/><circle cx="781.6" cy="960.8" r="5"/><circle cx="799.7" cy="964.4" r="5"/><circle cx="575.6" cy="775.7" r="5"/><circle cx="562.9" cy="763.6" r="5"/><circle cx="723.8" cy="853.2" r="5"/><circle cx="917.8" cy="951.3" r="5"/><circle cx="945.9" cy="999.7" r="5"/><circle cx="788.1" cy="953.8" r="5"/><circle cx="659.7" cy="860.1" r="5"/><circle cx="646.2" cy="927.1" r="5"/><circle cx="731.3" cy="936.3" r="5"/><circle cx="511.1" cy="883.5" r="5"/><circle cx="675.7" cy="844.4" r="5"/><circle cx="558.4" cy="901.7" r="5"/><circle cx="541" cy="916.2" r="5"/><circle cx="710.8" cy="787.9" r="5"/><circle cx="460.2" cy="803.9" r="5"/><circle cx="632.9" cy="897.2" r="5"/><circle cx="694.1" cy="821.3" r="5"/><circle cx="652.6" cy="880.7" r="5"/><circle cx="614.5" cy="905.9" r="5"/><circle cx="604.7" cy="914.8" r="5"/><circle cx="615.6" cy="915.4" r="5"/><circle cx="615.5" cy="919" r="5"/><circle cx="673.6" cy="815.4" r="5"/><circle cx="749.8" cy="875.6" r="5"/><circle cx="757.2" cy="868.6" r="5"/><circle cx="620.6" cy="911.6" r="5"/><circle cx="706" cy="659.9" r="5"/><circle cx="654.3" cy="798.4" r="5"/><circle cx="532.2" cy="916.3" r="5"/><circle cx="712.2" cy="982.9" r="5"/><circle cx="751.8" cy="696.1" r="5"/><circle cx="656.4" cy="958" r="5"/><circle cx="611.2" cy="896.4" r="5"/><circle cx="766.5" cy="991" r="5"/><circle cx="591.1" cy="773.7" r="5"/><circle cx="631.2" cy="924.7" r="5"/><circle cx="637.9" cy="933.1" r="5"/><circle cx="589.8" cy="944.5" r="5"/><circle cx="650.9" cy="1070.5" r="5"/><circle cx="659.3" cy="1066" r="5"/><circle cx="799.9" cy="863" r="5"/><circle cx="791.2" cy="863.6" r="5"/><circle cx="523.8" cy="835.5" r="5"/><circle cx="745.2" cy="601.2" r="5"/><circle cx="972.9" cy="931.5" r="5"/><circle cx="492.4" cy="826.6" r="5"/><circle cx="547.7" cy="836.6" r="5"/><circle cx="490.3" cy="892" r="5"/><circle cx="663.4" cy="754.8" r="5"/><circle cx="778.4" cy="919.5" r="5"/><circle cx="645.6" cy="969.4" r="5"/><circle cx="712.9" cy="730.3" r="5"/><circle cx="1057.3" cy="877.1" r="5"/><circle cx="690.3" cy="943.7" r="5"/><circle cx="750.7" cy="1021.4" r="5"/><circle cx="654" cy="848.4" r="5"/><circle cx="519.8" cy="902.1" r="5"/><circle cx="512.7" cy="919.2" r="5"/><circle cx="944.9" cy="1047.7" r="5"/><circle cx="752.6" cy="1013" r="5"/><circle cx="598.5" cy="806.6" r="5"/><circle cx="664.5" cy="1029.9" r="5"/><circle cx="663" cy="1036.7" r="5"/><circle cx="445.3" cy="1013.9" r="5"/><circle cx="750.2" cy="940.3" r="5"/></g>
<g fill="#F9785D"><circle cx="1289" cy="350" r="5"/><circle cx="711.6" cy="1152.4" r="5"/><circle cx="665.9" cy="967.6" r="5"/><circle cx="741.8" cy="965.1" r="5"/><circle cx="503.5" cy="1094.5" r="5"/><circle cx="591.2" cy="1072.3" r="5"/><circle cx="779.9" cy="852.5" r="5"/><circle cx="745.3" cy="884.7" r="5"/><circle cx="765.6" cy="888.3" r="5"/><circle cx="514.2" cy="987.1" r="5"/><circle cx="721.4" cy="971" r="5"/><circle cx="663.2" cy="887.6" r="5"/><circle cx="674.4" cy="894.9" r="5"/><circle cx="708.2" cy="944.8" r="5"/><circle cx="578" cy="969.6" r="5"/><circle cx="788.5" cy="691.5" r="5"/><circle cx="537.1" cy="926.5" r="5"/><circle cx="529.5" cy="929.9" r="5"/><circle cx="738.3" cy="867.6" r="5"/><circle cx="496.3" cy="813.9" r="5"/><circle cx="584.8" cy="889.8" r="5"/><circle cx="460.7" cy="834.1" r="5"/><circle cx="685.1" cy="746.5" r="5"/><circle cx="507.8" cy="814.2" r="5"/><circle cx="538" cy="1029" r="5"/><circle cx="630.5" cy="1050.8" r="5"/><circle cx="707.8" cy="1032.2" r="5"/><circle cx="671.7" cy="944.5" r="5"/><circle cx="501.2" cy="940.7" r="5"/><circle cx="631" cy="861.5" r="5"/><circle cx="470.2" cy="894.5" r="5"/><circle cx="707.7" cy="936.4" r="5"/><circle cx="591.5" cy="1100.8" r="5"/><circle cx="754.9" cy="846.5" r="5"/><circle cx="473" cy="943.7" r="5"/><circle cx="704.6" cy="783.5" r="5"/><circle cx="689.7" cy="716" r="5"/><circle cx="625.6" cy="893.8" r="5"/><circle cx="604.3" cy="901.2" r="5"/><circle cx="505.8" cy="792.3" r="5"/><circle cx="624.8" cy="916.9" r="5"/><circle cx="567.4" cy="849.5" r="5"/><circle cx="652.4" cy="1018.4" r="5"/><circle cx="705.9" cy="919.8" r="5"/><circle cx="758.8" cy="936.7" r="5"/><circle cx="538.9" cy="793" r="5"/><circle cx="526.4" cy="798.2" r="5"/><circle cx="611.2" cy="824.2" r="5"/><circle cx="554.6" cy="828" r="5"/><circle cx="602.1" cy="952.3" r="5"/><circle cx="769.4" cy="902.3" r="5"/><circle cx="657.3" cy="979.1" r="5"/><circle cx="651.3" cy="978.2" r="5"/><circle cx="613.3" cy="852.6" r="5"/><circle cx="483.8" cy="1026.5" r="5"/><circle cx="650.5" cy="910.9" r="5"/><circle cx="685" cy="945.7" r="5"/><circle cx="624.1" cy="756.3" r="5"/><circle cx="631" cy="758.8" r="5"/><circle cx="492.8" cy="860.9" r="5"/><circle cx="615" cy="1050.8" r="5"/><circle cx="615.4" cy="864.4" r="5"/><circle cx="583.7" cy="864.1" r="5"/><circle cx="557.7" cy="971.7" r="5"/><circle cx="543.2" cy="979.9" r="5"/><circle cx="810" cy="914.9" r="5"/><circle cx="679.2" cy="676.2" r="5"/></g>
<g fill="#FC9065"><circle cx="785.5" cy="814.7" r="5"/><circle cx="725.2" cy="984.2" r="5"/><circle cx="709.6" cy="841.2" r="5"/><circle cx="462.9" cy="846.9" r="5"/><circle cx="595.1" cy="741.8" r="5"/><circle cx="560.2" cy="1009.4" r="5"/><circle cx="565.1" cy="782.5" r="5"/><circle cx="577.7" cy="983.8" r="5"/><circle cx="658.7" cy="714.9" r="5"/><circle cx="785" cy="1022.2" r="5"/><circle cx="621.8" cy="999.9" r="5"/><circle cx="674.4" cy="887.3" r="5"/><circle cx="634.8" cy="846.6" r="5"/><circle cx="712.1" cy="953.5" r="5"/><circle cx="422" cy="974.3" r="5"/><circle cx="830.7" cy="1023.6" r="5"/><circle cx="578.3" cy="920.2" r="5"/><circle cx="521.3" cy="933" r="5"/><circle cx="657.4" cy="828.1" r="5"/><circle cx="791.4" cy="841" r="5"/><circle cx="581.2" cy="891.5" r="5"/><circle cx="577.1" cy="907.6" r="5"/><circle cx="795.3" cy="909.1" r="5"/><circle cx="681.7" cy="879.9" r="5"/><circle cx="678" cy="959.6" r="5"/><circle cx="726.4" cy="1027.6" r="5"/><circle cx="906" cy="996.4" r="5"/><circle cx="832" cy="1094.1" r="5"/><circle cx="494.4" cy="943.8" r="5"/><circle cx="781.4" cy="658.1" r="5"/><circle cx="779.1" cy="819.8" r="5"/><circle cx="551.4" cy="761.3" r="5"/><circle cx="732.6" cy="844.8" r="5"/><circle cx="485.4" cy="924.7" r="5"/><circle cx="659.6" cy="865.5" r="5"/><circle cx="654.1" cy="938.1" r="5"/><circle cx="668" cy="852.3" r="5"/><circle cx="718.4" cy="983.3" r="5"/><circle cx="561.4" cy="831.8" r="5"/><circle cx="746.3" cy="930.1" r="5"/><circle cx="743" cy="911.5" r="5"/><circle cx="602.5" cy="943.6" r="5"/><circle cx="618.8" cy="857.5" r="5"/><circle cx="684.3" cy="931.4" r="5"/><circle cx="683.4" cy="886.3" r="5"/></g>
<g fill="#FEA571"><circle cx="772.8" cy="852.2" r="5"/><circle cx="481.7" cy="798.6" r="5"/><circle cx="681" cy="764.6" r="5"/><circle cx="559.2" cy="1033.3" r="5"/><circle cx="730.9" cy="962.1" r="5"/><circle cx="583.8" cy="913.7" r="5"/><circle cx="691.2" cy="812.6" r="5"/><circle cx="669.9" cy="830.5" r="5"/><circle cx="639.3" cy="873.3" r="5"/><circle cx="897.5" cy="1047.5" r="5"/><circle cx="701.2" cy="931.5" r="5"/><circle cx="795" cy="706.3" r="5"/><circle cx="632" cy="1013.9" r="5"/><circle cx="556.6" cy="880.2" r="5"/><circle cx="549.2" cy="886.9" r="5"/><circle cx="642.6" cy="793.6" r="5"/><circle cx="612.2" cy="934.3" r="5"/><circle cx="625.8" cy="928.8" r="5"/><circle cx="713.4" cy="919.1" r="5"/><circle cx="487.2" cy="832.9" r="5"/><circle cx="743.3" cy="904.1" r="5"/><circle cx="417.8" cy="958.6" r="5"/><circle cx="718.7" cy="805.1" r="5"/><circle cx="681.4" cy="952.6" r="5"/><circle cx="776" cy="1065.4" r="5"/><circle cx="587.3" cy="870.6" r="5"/><circle cx="671.1" cy="1038.6" r="5"/></g>
<g fill="#FEB77E"><circle cx="774.7" cy="846.2" r="5"/><circle cx="480.2" cy="819.1" r="5"/><circle cx="512.3" cy="1052.8" r="5"/><circle cx="718.7" cy="1028.7" r="5"/><circle cx="481.1" cy="958.4" r="5"/><circle cx="675.2" cy="855.1" r="5"/><circle cx="713.2" cy="780.3" r="5"/><circle cx="777.5" cy="980" r="5"/><circle cx="677.2" cy="812.4" r="5"/><circle cx="669.2" cy="981.2" r="5"/><circle cx="517.5" cy="872.2" r="5"/><circle cx="508.2" cy="879.1" r="5"/><circle cx="526.6" cy="786.8" r="5"/><circle cx="722" cy="834.8" r="5"/><circle cx="770.6" cy="946.6" r="5"/><circle cx="498.6" cy="871.9" r="5"/><circle cx="507.7" cy="904.3" r="5"/><circle cx="743.3" cy="945.7" r="5"/></g>
<g fill="#FEC88C"><circle cx="855.4" cy="933.5" r="5"/><circle cx="667.3" cy="904.3" r="5"/><circle cx="784" cy="842.7" r="5"/><circle cx="474" cy="837.9" r="5"/><circle cx="571.7" cy="908.6" r="5"/><circle cx="576.6" cy="900.1" r="5"/><circle cx="789.6" cy="977.8" r="5"/><circle cx="505.4" cy="781.1" r="5"/><circle cx="646.6" cy="945.3" r="5"/><circle cx="789" cy="877.5" r="5"/><circle cx="859.4" cy="988.3" r="5"/><circle cx="570.4" cy="944.2" r="5"/><circle cx="687.4" cy="887.2" r="5"/></g>
<g fill="#FED799"><circle cx="708.4" cy="800" r="5"/><circle cx="574.4" cy="830.7" r="5"/><circle cx="644" cy="902" r="5"/></g>
<g fill="#FDE5A7"><circle cx="769.9" cy="886.9" r="5"/><circle cx="684.3" cy="840.8" r="5"/><circle cx="681.5" cy="859.2" r="5"/><circle cx="717.1" cy="970.1" r="5"/></g>
<g fill="#FCF2B4"><circle cx="787.4" cy="1058.4" r="5"/><circle cx="739.8" cy="1032.4" r="5"/><circle cx="697.3" cy="961.8" r="5"/><circle cx="521" cy="1090.5" r="5"/><circle cx="725.6" cy="829.3" r="5"/></g>
<g fill="#FCFDBF"><circle cx="729.8" cy="990.9" r="5"/><circle cx="539.8" cy="960" r="5"/><circle cx="667.7" cy="897.7" r="5"/><circle cx="515.3" cy="903.7" r="5"/></g>
</g>
<path d="M245 140.5V1306.7H1867.4" fill="none" stroke="#000" stroke-width="4.4" stroke-linejoin="miter" stroke-linecap="butt"/>
<path d="M230.4 195.8H245" stroke="#000" stroke-width="4.4"/>
<text class="t12" x="217.5" y="214.0" text-anchor="end">5.0</text>
<path d="M230.4 460.3H245" stroke="#000" stroke-width="4.4"/>
<text class="t12" x="217.5" y="478.5" text-anchor="end">2.5</text>
<path d="M230.4 724.7H245" stroke="#000" stroke-width="4.4"/>
<text class="t12" x="217.5" y="742.9" text-anchor="end">0.0</text>
<path d="M230.4 989.2H245" stroke="#000" stroke-width="4.4"/>
<text class="t12" x="217.5" y="1007.4" text-anchor="end">-2.5</text>
<path d="M230.4 1253.6H245" stroke="#000" stroke-width="4.4"/>
<text class="t12" x="217.5" y="1271.8" text-anchor="end">-5.0</text>
<path d="M318.6 1306.7V1321.2" stroke="#000" stroke-width="4.4"/>
<text class="t12" x="318.6" y="1370" text-anchor="middle">4</text>
<path d="M809.5 1306.7V1321.2" stroke="#000" stroke-width="4.4"/>
<text class="t12" x="809.5" y="1370" text-anchor="middle">8</text>
<path d="M1300.5 1306.7V1321.2" stroke="#000" stroke-width="4.4"/>
<text class="t12" x="1300.5" y="1370" text-anchor="middle">12</text>
<path d="M1791.4 1306.7V1321.2" stroke="#000" stroke-width="4.4"/>
<text class="t12" x="1791.4" y="1370" text-anchor="middle">16</text>
<text class="t14" x="1054.8" y="1435.8" text-anchor="middle">umap_1</text>
<text class="t14" transform="translate(95,724) rotate(-90)" text-anchor="middle">umap_2</text>
<text class="tt" x="1054.9" y="99.8" text-anchor="middle">NUF2</text>
<rect x="1923.3" y="564.8" width="64.1" height="318.6" fill="url(#mg)"/>
<path d="M1923.3 765.9h12.8M1974.6 765.9h12.8" stroke="#fff" stroke-width="1.6"/>
<path d="M1923.3 648.4h12.8M1974.6 648.4h12.8" stroke="#fff" stroke-width="1.6"/>
<text class="t12" x="2015.5" y="901.6">0</text>
<text class="t12" x="2015.5" y="784.1">1</text>
<text class="t12" x="2015.5" y="666.6">2</text>
</svg>
</body></html>
